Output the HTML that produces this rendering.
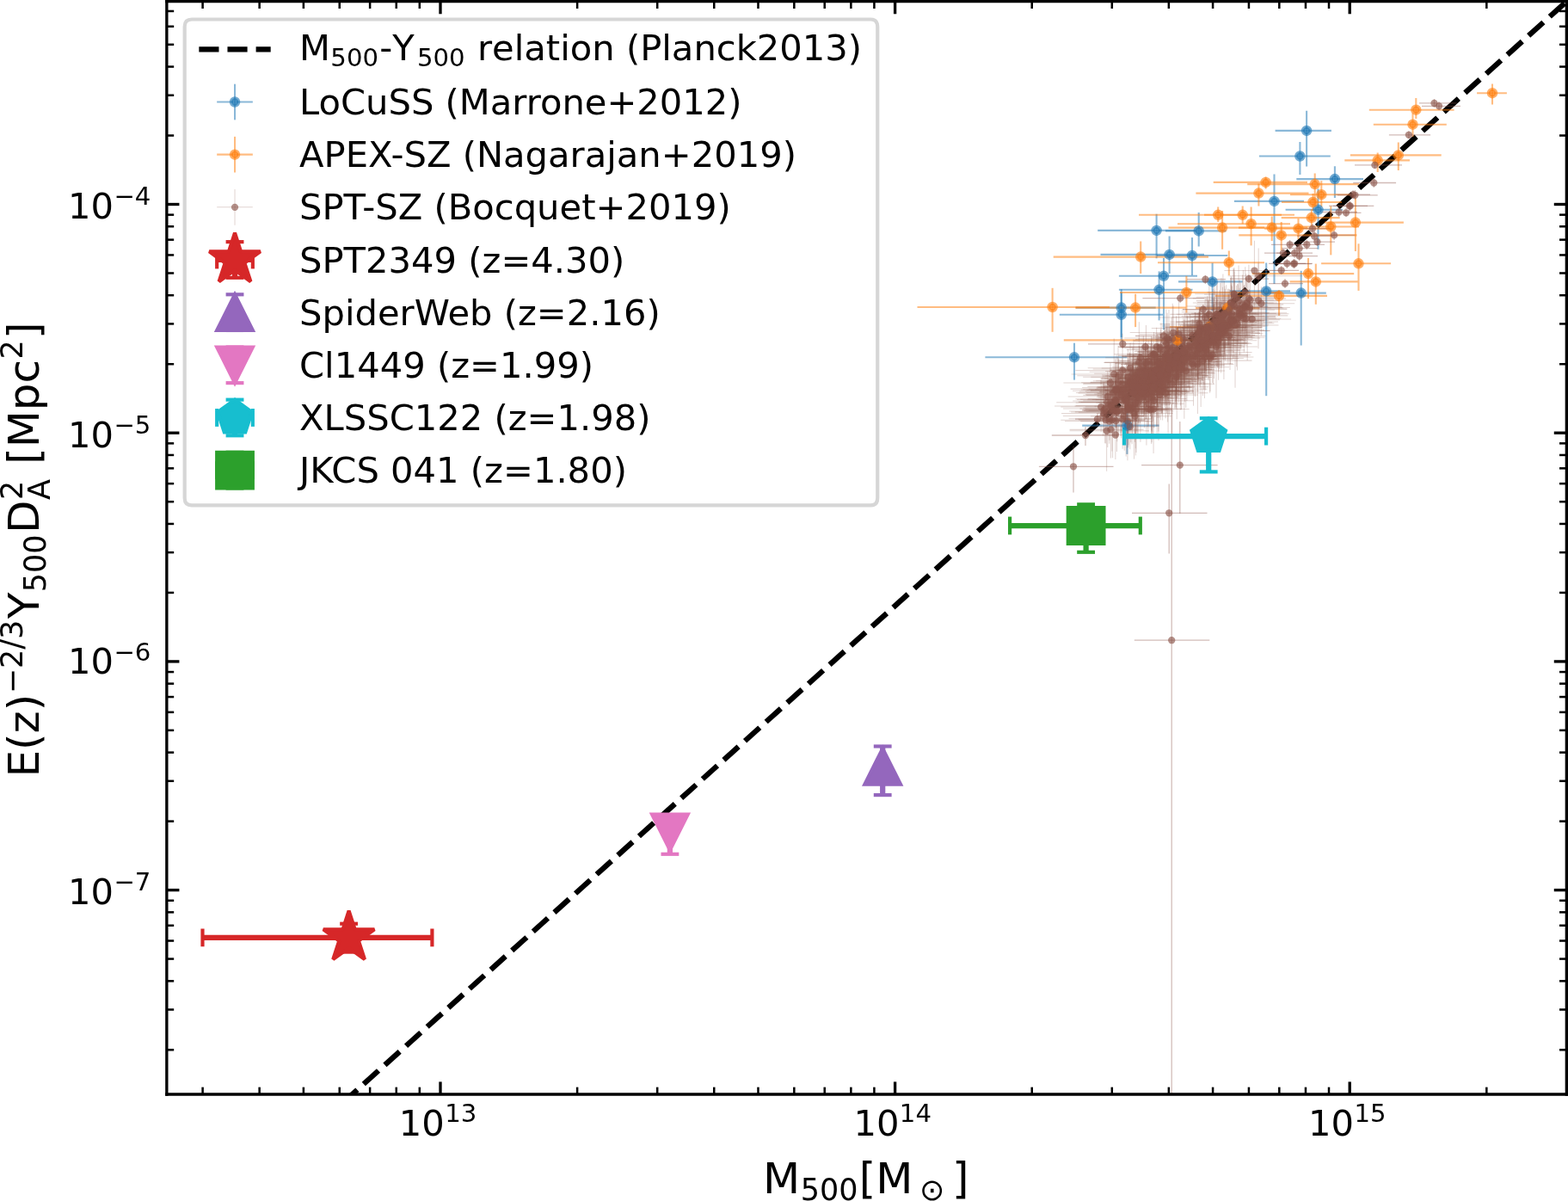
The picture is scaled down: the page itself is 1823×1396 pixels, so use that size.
<!DOCTYPE html>
<html><head><meta charset="utf-8"><title>M500-Y500</title>
<style>html,body{margin:0;padding:0;background:#fff;width:1823px;height:1396px;overflow:hidden}
svg{display:block}
</style></head><body>
<svg width="1823" height="1396" viewBox="0 0 437.52 335.04" version="1.1">
 <defs>
  <style type="text/css">*{stroke-linejoin: round; stroke-linecap: butt}</style>
 </defs>
 <g id="figure_1">
  <g id="patch_1">
   <path d="M 0 335.04 
L 437.52 335.04 
L 437.52 0 
L 0 0 
z
" style="fill: #ffffff"/>
  </g>
  <g id="axes_1">
   <g id="patch_2">
    <path d="M 46.524 305.28 
L 437.124 305.28 
L 437.124 0.4008 
L 46.524 0.4008 
z
" style="fill: #ffffff"/>
   </g>
   <g id="matplotlib.axis_1">
    <g id="xtick_1">
     <g id="line2d_1">
      <defs>
       <path id="m6d03a0b90a" d="M 0 0 
L 0 -3.5 
" style="stroke: #000000; stroke-width: 0.8"/>
      </defs>
      <g>
       <use href="#m6d03a0b90a" x="122.88" y="305.28" style="stroke: #000000; stroke-width: 0.8"/>
      </g>
     </g>
     <g id="line2d_2">
      <defs>
       <path id="m7c25c535dc" d="M 0 0 
L 0 3.5 
" style="stroke: #000000; stroke-width: 0.8"/>
      </defs>
      <g>
       <use href="#m7c25c535dc" x="122.88" y="0.4008" style="stroke: #000000; stroke-width: 0.8"/>
      </g>
     </g>
     <g id="text_1">
      <g transform="translate(111.3260 317.7944)">
       <text>
        <tspan x="0" y="-0.976562" style="font-size: 10px; font-family: 'DejaVu Sans', sans-serif">1</tspan>
        <tspan x="6.362305" y="-0.976562" style="font-size: 10px; font-family: 'DejaVu Sans', sans-serif">0</tspan>
        <tspan x="12.820312" y="-4.804688" style="font-size: 7px; font-family: 'DejaVu Sans', sans-serif">1</tspan>
        <tspan x="17.273926" y="-4.804688" style="font-size: 7px; font-family: 'DejaVu Sans', sans-serif">3</tspan>
       </text>
      </g>
     </g>
    </g>
    <g id="xtick_2">
     <g id="line2d_3">
      <g>
       <use href="#m6d03a0b90a" x="249.744" y="305.28" style="stroke: #000000; stroke-width: 0.8"/>
      </g>
     </g>
     <g id="line2d_4">
      <g>
       <use href="#m7c25c535dc" x="249.744" y="0.4008" style="stroke: #000000; stroke-width: 0.8"/>
      </g>
     </g>
     <g id="text_2">
      <g transform="translate(238.1900 316.8344)">
       <text>
        <tspan x="0" y="-0.064063" style="font-size: 10px; font-family: 'DejaVu Sans', sans-serif">1</tspan>
        <tspan x="6.362305" y="-0.064063" style="font-size: 10px; font-family: 'DejaVu Sans', sans-serif">0</tspan>
        <tspan x="12.820312" y="-3.892188" style="font-size: 7px; font-family: 'DejaVu Sans', sans-serif">1</tspan>
        <tspan x="17.273926" y="-3.892188" style="font-size: 7px; font-family: 'DejaVu Sans', sans-serif">4</tspan>
       </text>
      </g>
     </g>
    </g>
    <g id="xtick_3">
     <g id="line2d_5">
      <g>
       <use href="#m6d03a0b90a" x="376.608" y="305.28" style="stroke: #000000; stroke-width: 0.8"/>
      </g>
     </g>
     <g id="line2d_6">
      <g>
       <use href="#m7c25c535dc" x="376.608" y="0.4008" style="stroke: #000000; stroke-width: 0.8"/>
      </g>
     </g>
     <g id="text_3">
      <g transform="translate(365.0540 316.8344)">
       <text>
        <tspan x="0" y="-0.064063" style="font-size: 10px; font-family: 'DejaVu Sans', sans-serif">1</tspan>
        <tspan x="6.362305" y="-0.064063" style="font-size: 10px; font-family: 'DejaVu Sans', sans-serif">0</tspan>
        <tspan x="12.820312" y="-3.892188" style="font-size: 7px; font-family: 'DejaVu Sans', sans-serif">1</tspan>
        <tspan x="17.273926" y="-3.892188" style="font-size: 7px; font-family: 'DejaVu Sans', sans-serif">5</tspan>
       </text>
      </g>
     </g>
    </g>
    <g id="xtick_4">
     <g id="line2d_7">
      <defs>
       <path id="m7c07b89b2e" d="M 0 0 
L 0 -2 
" style="stroke: #000000; stroke-width: 0.6"/>
      </defs>
      <g>
       <use href="#m7c07b89b2e" x="56.545511" y="305.28" style="stroke: #000000; stroke-width: 0.6"/>
      </g>
     </g>
     <g id="line2d_8">
      <defs>
       <path id="m0d65b069a9" d="M 0 0 
L 0 2 
" style="stroke: #000000; stroke-width: 0.6"/>
      </defs>
      <g>
       <use href="#m0d65b069a9" x="56.545511" y="0.4008" style="stroke: #000000; stroke-width: 0.6"/>
      </g>
     </g>
    </g>
    <g id="xtick_5">
     <g id="line2d_9">
      <g>
       <use href="#m7c07b89b2e" x="72.395739" y="305.28" style="stroke: #000000; stroke-width: 0.6"/>
      </g>
     </g>
     <g id="line2d_10">
      <g>
       <use href="#m0d65b069a9" x="72.395739" y="0.4008" style="stroke: #000000; stroke-width: 0.6"/>
      </g>
     </g>
    </g>
    <g id="xtick_6">
     <g id="line2d_11">
      <g>
       <use href="#m7c07b89b2e" x="84.690131" y="305.28" style="stroke: #000000; stroke-width: 0.6"/>
      </g>
     </g>
     <g id="line2d_12">
      <g>
       <use href="#m0d65b069a9" x="84.690131" y="0.4008" style="stroke: #000000; stroke-width: 0.6"/>
      </g>
     </g>
    </g>
    <g id="xtick_7">
     <g id="line2d_13">
      <g>
       <use href="#m7c07b89b2e" x="94.73538" y="305.28" style="stroke: #000000; stroke-width: 0.6"/>
      </g>
     </g>
     <g id="line2d_14">
      <g>
       <use href="#m0d65b069a9" x="94.73538" y="0.4008" style="stroke: #000000; stroke-width: 0.6"/>
      </g>
     </g>
    </g>
    <g id="xtick_8">
     <g id="line2d_15">
      <g>
       <use href="#m7c07b89b2e" x="103.228518" y="305.28" style="stroke: #000000; stroke-width: 0.6"/>
      </g>
     </g>
     <g id="line2d_16">
      <g>
       <use href="#m0d65b069a9" x="103.228518" y="0.4008" style="stroke: #000000; stroke-width: 0.6"/>
      </g>
     </g>
    </g>
    <g id="xtick_9">
     <g id="line2d_17">
      <g>
       <use href="#m7c07b89b2e" x="110.585608" y="305.28" style="stroke: #000000; stroke-width: 0.6"/>
      </g>
     </g>
     <g id="line2d_18">
      <g>
       <use href="#m0d65b069a9" x="110.585608" y="0.4008" style="stroke: #000000; stroke-width: 0.6"/>
      </g>
     </g>
    </g>
    <g id="xtick_10">
     <g id="line2d_19">
      <g>
       <use href="#m7c07b89b2e" x="117.075022" y="305.28" style="stroke: #000000; stroke-width: 0.6"/>
      </g>
     </g>
     <g id="line2d_20">
      <g>
       <use href="#m0d65b069a9" x="117.075022" y="0.4008" style="stroke: #000000; stroke-width: 0.6"/>
      </g>
     </g>
    </g>
    <g id="xtick_11">
     <g id="line2d_21">
      <g>
       <use href="#m7c07b89b2e" x="161.069869" y="305.28" style="stroke: #000000; stroke-width: 0.6"/>
      </g>
     </g>
     <g id="line2d_22">
      <g>
       <use href="#m0d65b069a9" x="161.069869" y="0.4008" style="stroke: #000000; stroke-width: 0.6"/>
      </g>
     </g>
    </g>
    <g id="xtick_12">
     <g id="line2d_23">
      <g>
       <use href="#m7c07b89b2e" x="183.409511" y="305.28" style="stroke: #000000; stroke-width: 0.6"/>
      </g>
     </g>
     <g id="line2d_24">
      <g>
       <use href="#m0d65b069a9" x="183.409511" y="0.4008" style="stroke: #000000; stroke-width: 0.6"/>
      </g>
     </g>
    </g>
    <g id="xtick_13">
     <g id="line2d_25">
      <g>
       <use href="#m7c07b89b2e" x="199.259739" y="305.28" style="stroke: #000000; stroke-width: 0.6"/>
      </g>
     </g>
     <g id="line2d_26">
      <g>
       <use href="#m0d65b069a9" x="199.259739" y="0.4008" style="stroke: #000000; stroke-width: 0.6"/>
      </g>
     </g>
    </g>
    <g id="xtick_14">
     <g id="line2d_27">
      <g>
       <use href="#m7c07b89b2e" x="211.554131" y="305.28" style="stroke: #000000; stroke-width: 0.6"/>
      </g>
     </g>
     <g id="line2d_28">
      <g>
       <use href="#m0d65b069a9" x="211.554131" y="0.4008" style="stroke: #000000; stroke-width: 0.6"/>
      </g>
     </g>
    </g>
    <g id="xtick_15">
     <g id="line2d_29">
      <g>
       <use href="#m7c07b89b2e" x="221.59938" y="305.28" style="stroke: #000000; stroke-width: 0.6"/>
      </g>
     </g>
     <g id="line2d_30">
      <g>
       <use href="#m0d65b069a9" x="221.59938" y="0.4008" style="stroke: #000000; stroke-width: 0.6"/>
      </g>
     </g>
    </g>
    <g id="xtick_16">
     <g id="line2d_31">
      <g>
       <use href="#m7c07b89b2e" x="230.092518" y="305.28" style="stroke: #000000; stroke-width: 0.6"/>
      </g>
     </g>
     <g id="line2d_32">
      <g>
       <use href="#m0d65b069a9" x="230.092518" y="0.4008" style="stroke: #000000; stroke-width: 0.6"/>
      </g>
     </g>
    </g>
    <g id="xtick_17">
     <g id="line2d_33">
      <g>
       <use href="#m7c07b89b2e" x="237.449608" y="305.28" style="stroke: #000000; stroke-width: 0.6"/>
      </g>
     </g>
     <g id="line2d_34">
      <g>
       <use href="#m0d65b069a9" x="237.449608" y="0.4008" style="stroke: #000000; stroke-width: 0.6"/>
      </g>
     </g>
    </g>
    <g id="xtick_18">
     <g id="line2d_35">
      <g>
       <use href="#m7c07b89b2e" x="243.939022" y="305.28" style="stroke: #000000; stroke-width: 0.6"/>
      </g>
     </g>
     <g id="line2d_36">
      <g>
       <use href="#m0d65b069a9" x="243.939022" y="0.4008" style="stroke: #000000; stroke-width: 0.6"/>
      </g>
     </g>
    </g>
    <g id="xtick_19">
     <g id="line2d_37">
      <g>
       <use href="#m7c07b89b2e" x="287.933869" y="305.28" style="stroke: #000000; stroke-width: 0.6"/>
      </g>
     </g>
     <g id="line2d_38">
      <g>
       <use href="#m0d65b069a9" x="287.933869" y="0.4008" style="stroke: #000000; stroke-width: 0.6"/>
      </g>
     </g>
    </g>
    <g id="xtick_20">
     <g id="line2d_39">
      <g>
       <use href="#m7c07b89b2e" x="310.273511" y="305.28" style="stroke: #000000; stroke-width: 0.6"/>
      </g>
     </g>
     <g id="line2d_40">
      <g>
       <use href="#m0d65b069a9" x="310.273511" y="0.4008" style="stroke: #000000; stroke-width: 0.6"/>
      </g>
     </g>
    </g>
    <g id="xtick_21">
     <g id="line2d_41">
      <g>
       <use href="#m7c07b89b2e" x="326.123739" y="305.28" style="stroke: #000000; stroke-width: 0.6"/>
      </g>
     </g>
     <g id="line2d_42">
      <g>
       <use href="#m0d65b069a9" x="326.123739" y="0.4008" style="stroke: #000000; stroke-width: 0.6"/>
      </g>
     </g>
    </g>
    <g id="xtick_22">
     <g id="line2d_43">
      <g>
       <use href="#m7c07b89b2e" x="338.418131" y="305.28" style="stroke: #000000; stroke-width: 0.6"/>
      </g>
     </g>
     <g id="line2d_44">
      <g>
       <use href="#m0d65b069a9" x="338.418131" y="0.4008" style="stroke: #000000; stroke-width: 0.6"/>
      </g>
     </g>
    </g>
    <g id="xtick_23">
     <g id="line2d_45">
      <g>
       <use href="#m7c07b89b2e" x="348.46338" y="305.28" style="stroke: #000000; stroke-width: 0.6"/>
      </g>
     </g>
     <g id="line2d_46">
      <g>
       <use href="#m0d65b069a9" x="348.46338" y="0.4008" style="stroke: #000000; stroke-width: 0.6"/>
      </g>
     </g>
    </g>
    <g id="xtick_24">
     <g id="line2d_47">
      <g>
       <use href="#m7c07b89b2e" x="356.956518" y="305.28" style="stroke: #000000; stroke-width: 0.6"/>
      </g>
     </g>
     <g id="line2d_48">
      <g>
       <use href="#m0d65b069a9" x="356.956518" y="0.4008" style="stroke: #000000; stroke-width: 0.6"/>
      </g>
     </g>
    </g>
    <g id="xtick_25">
     <g id="line2d_49">
      <g>
       <use href="#m7c07b89b2e" x="364.313608" y="305.28" style="stroke: #000000; stroke-width: 0.6"/>
      </g>
     </g>
     <g id="line2d_50">
      <g>
       <use href="#m0d65b069a9" x="364.313608" y="0.4008" style="stroke: #000000; stroke-width: 0.6"/>
      </g>
     </g>
    </g>
    <g id="xtick_26">
     <g id="line2d_51">
      <g>
       <use href="#m7c07b89b2e" x="370.803022" y="305.28" style="stroke: #000000; stroke-width: 0.6"/>
      </g>
     </g>
     <g id="line2d_52">
      <g>
       <use href="#m0d65b069a9" x="370.803022" y="0.4008" style="stroke: #000000; stroke-width: 0.6"/>
      </g>
     </g>
    </g>
    <g id="xtick_27">
     <g id="line2d_53">
      <g>
       <use href="#m7c07b89b2e" x="414.797869" y="305.28" style="stroke: #000000; stroke-width: 0.6"/>
      </g>
     </g>
     <g id="line2d_54">
      <g>
       <use href="#m0d65b069a9" x="414.797869" y="0.4008" style="stroke: #000000; stroke-width: 0.6"/>
      </g>
     </g>
    </g>
    <g id="text_4">
     <g transform="translate(212.8920 333.7842)">
      <text>
       <tspan x="0" y="-0.875" style="font-size: 12px; font-family: 'DejaVu Sans', sans-serif">M</tspan>
       <tspan x="26.829492" y="-0.875" style="font-size: 12px; font-family: 'DejaVu Sans', sans-serif">[</tspan>
       <tspan x="31.511133" y="-0.875" style="font-size: 12px; font-family: 'DejaVu Sans', sans-serif">M</tspan>
       <tspan x="52.782598" y="-0.875" style="font-size: 12px; font-family: 'DejaVu Sans', sans-serif">]</tspan>
       <tspan x="10.468359" y="1.09375" style="font-size: 8.4px; font-family: 'DejaVu Sans', sans-serif">5</tspan>
       <tspan x="15.812695" y="1.09375" style="font-size: 8.4px; font-family: 'DejaVu Sans', sans-serif">0</tspan>
       <tspan x="21.157031" y="1.09375" style="font-size: 8.4px; font-family: 'DejaVu Sans', sans-serif">0</tspan>
       <tspan x="43.697842" y="1.09375" style="font-size: 8.4px; font-family: 'DejaVu Sans', sans-serif">⊙</tspan>
      </text>
     </g>
    </g>
   </g>
   <g id="matplotlib.axis_2">
    <g id="ytick_1">
     <g id="line2d_55">
      <defs>
       <path id="mfcdca85a19" d="M 0 0 
L 3.5 0 
" style="stroke: #000000; stroke-width: 0.8"/>
      </defs>
      <g>
       <use href="#mfcdca85a19" x="46.524" y="248.304" style="stroke: #000000; stroke-width: 0.8"/>
      </g>
     </g>
     <g id="line2d_56">
      <defs>
       <path id="mb258c49b38" d="M 0 0 
L -3.5 0 
" style="stroke: #000000; stroke-width: 0.8"/>
      </defs>
      <g>
       <use href="#mb258c49b38" x="437.124" y="248.304" style="stroke: #000000; stroke-width: 0.8"/>
      </g>
     </g>
     <g id="text_5">
      <g transform="translate(18.9600 252.3552)">
       <text>
        <tspan x="0" y="-0.064063" style="font-size: 10px; font-family: 'DejaVu Sans', sans-serif">1</tspan>
        <tspan x="6.362305" y="-0.064063" style="font-size: 10px; font-family: 'DejaVu Sans', sans-serif">0</tspan>
        <tspan x="12.820312" y="-3.892188" style="font-size: 7px; font-family: 'DejaVu Sans', sans-serif">−</tspan>
        <tspan x="18.685547" y="-3.892188" style="font-size: 7px; font-family: 'DejaVu Sans', sans-serif">7</tspan>
       </text>
      </g>
     </g>
    </g>
    <g id="ytick_2">
     <g id="line2d_57">
      <g>
       <use href="#mfcdca85a19" x="46.524" y="184.536" style="stroke: #000000; stroke-width: 0.8"/>
      </g>
     </g>
     <g id="line2d_58">
      <g>
       <use href="#mb258c49b38" x="437.124" y="184.536" style="stroke: #000000; stroke-width: 0.8"/>
      </g>
     </g>
     <g id="text_6">
      <g transform="translate(18.9600 189.0072)">
       <text>
        <tspan x="0" y="-0.976562" style="font-size: 10px; font-family: 'DejaVu Sans', sans-serif">1</tspan>
        <tspan x="6.362305" y="-0.976562" style="font-size: 10px; font-family: 'DejaVu Sans', sans-serif">0</tspan>
        <tspan x="12.820312" y="-4.804688" style="font-size: 7px; font-family: 'DejaVu Sans', sans-serif">−</tspan>
        <tspan x="18.685547" y="-4.804688" style="font-size: 7px; font-family: 'DejaVu Sans', sans-serif">6</tspan>
       </text>
      </g>
     </g>
    </g>
    <g id="ytick_3">
     <g id="line2d_59">
      <g>
       <use href="#mfcdca85a19" x="46.524" y="120.768" style="stroke: #000000; stroke-width: 0.8"/>
      </g>
     </g>
     <g id="line2d_60">
      <g>
       <use href="#mb258c49b38" x="437.124" y="120.768" style="stroke: #000000; stroke-width: 0.8"/>
      </g>
     </g>
     <g id="text_7">
      <g transform="translate(18.9600 124.7472)">
       <text>
        <tspan x="0" y="-0.064063" style="font-size: 10px; font-family: 'DejaVu Sans', sans-serif">1</tspan>
        <tspan x="6.362305" y="-0.064063" style="font-size: 10px; font-family: 'DejaVu Sans', sans-serif">0</tspan>
        <tspan x="12.820312" y="-3.892188" style="font-size: 7px; font-family: 'DejaVu Sans', sans-serif">−</tspan>
        <tspan x="18.685547" y="-3.892188" style="font-size: 7px; font-family: 'DejaVu Sans', sans-serif">5</tspan>
       </text>
      </g>
     </g>
    </g>
    <g id="ytick_4">
     <g id="line2d_61">
      <g>
       <use href="#mfcdca85a19" x="46.524" y="57" style="stroke: #000000; stroke-width: 0.8"/>
      </g>
     </g>
     <g id="line2d_62">
      <g>
       <use href="#mb258c49b38" x="437.124" y="57" style="stroke: #000000; stroke-width: 0.8"/>
      </g>
     </g>
     <g id="text_8">
      <g transform="translate(18.9600 61.0152)">
       <text>
        <tspan x="0" y="-0.064063" style="font-size: 10px; font-family: 'DejaVu Sans', sans-serif">1</tspan>
        <tspan x="6.362305" y="-0.064063" style="font-size: 10px; font-family: 'DejaVu Sans', sans-serif">0</tspan>
        <tspan x="12.820312" y="-3.892188" style="font-size: 7px; font-family: 'DejaVu Sans', sans-serif">−</tspan>
        <tspan x="18.685547" y="-3.892188" style="font-size: 7px; font-family: 'DejaVu Sans', sans-serif">4</tspan>
       </text>
      </g>
     </g>
    </g>
    <g id="ytick_5">
     <g id="line2d_63">
      <defs>
       <path id="m660589c0a1" d="M 0 0 
L 2 0 
" style="stroke: #000000; stroke-width: 0.6"/>
      </defs>
      <g>
       <use href="#m660589c0a1" x="46.524" y="292.875919" style="stroke: #000000; stroke-width: 0.6"/>
      </g>
     </g>
     <g id="line2d_64">
      <defs>
       <path id="m353c5a86b0" d="M 0 0 
L -2 0 
" style="stroke: #000000; stroke-width: 0.6"/>
      </defs>
      <g>
       <use href="#m353c5a86b0" x="437.124" y="292.875919" style="stroke: #000000; stroke-width: 0.6"/>
      </g>
     </g>
    </g>
    <g id="ytick_6">
     <g id="line2d_65">
      <g>
       <use href="#m660589c0a1" x="46.524" y="281.646932" style="stroke: #000000; stroke-width: 0.6"/>
      </g>
     </g>
     <g id="line2d_66">
      <g>
       <use href="#m353c5a86b0" x="437.124" y="281.646932" style="stroke: #000000; stroke-width: 0.6"/>
      </g>
     </g>
    </g>
    <g id="ytick_7">
     <g id="line2d_67">
      <g>
       <use href="#m660589c0a1" x="46.524" y="273.679838" style="stroke: #000000; stroke-width: 0.6"/>
      </g>
     </g>
     <g id="line2d_68">
      <g>
       <use href="#m353c5a86b0" x="437.124" y="273.679838" style="stroke: #000000; stroke-width: 0.6"/>
      </g>
     </g>
    </g>
    <g id="ytick_8">
     <g id="line2d_69">
      <g>
       <use href="#m660589c0a1" x="46.524" y="267.500081" style="stroke: #000000; stroke-width: 0.6"/>
      </g>
     </g>
     <g id="line2d_70">
      <g>
       <use href="#m353c5a86b0" x="437.124" y="267.500081" style="stroke: #000000; stroke-width: 0.6"/>
      </g>
     </g>
    </g>
    <g id="ytick_9">
     <g id="line2d_71">
      <g>
       <use href="#m660589c0a1" x="46.524" y="262.450851" style="stroke: #000000; stroke-width: 0.6"/>
      </g>
     </g>
     <g id="line2d_72">
      <g>
       <use href="#m353c5a86b0" x="437.124" y="262.450851" style="stroke: #000000; stroke-width: 0.6"/>
      </g>
     </g>
    </g>
    <g id="ytick_10">
     <g id="line2d_73">
      <g>
       <use href="#m660589c0a1" x="46.524" y="258.181788" style="stroke: #000000; stroke-width: 0.6"/>
      </g>
     </g>
     <g id="line2d_74">
      <g>
       <use href="#m353c5a86b0" x="437.124" y="258.181788" style="stroke: #000000; stroke-width: 0.6"/>
      </g>
     </g>
    </g>
    <g id="ytick_11">
     <g id="line2d_75">
      <g>
       <use href="#m660589c0a1" x="46.524" y="254.483758" style="stroke: #000000; stroke-width: 0.6"/>
      </g>
     </g>
     <g id="line2d_76">
      <g>
       <use href="#m353c5a86b0" x="437.124" y="254.483758" style="stroke: #000000; stroke-width: 0.6"/>
      </g>
     </g>
    </g>
    <g id="ytick_12">
     <g id="line2d_77">
      <g>
       <use href="#m660589c0a1" x="46.524" y="251.221864" style="stroke: #000000; stroke-width: 0.6"/>
      </g>
     </g>
     <g id="line2d_78">
      <g>
       <use href="#m353c5a86b0" x="437.124" y="251.221864" style="stroke: #000000; stroke-width: 0.6"/>
      </g>
     </g>
    </g>
    <g id="ytick_13">
     <g id="line2d_79">
      <g>
       <use href="#m660589c0a1" x="46.524" y="229.107919" style="stroke: #000000; stroke-width: 0.6"/>
      </g>
     </g>
     <g id="line2d_80">
      <g>
       <use href="#m353c5a86b0" x="437.124" y="229.107919" style="stroke: #000000; stroke-width: 0.6"/>
      </g>
     </g>
    </g>
    <g id="ytick_14">
     <g id="line2d_81">
      <g>
       <use href="#m660589c0a1" x="46.524" y="217.878932" style="stroke: #000000; stroke-width: 0.6"/>
      </g>
     </g>
     <g id="line2d_82">
      <g>
       <use href="#m353c5a86b0" x="437.124" y="217.878932" style="stroke: #000000; stroke-width: 0.6"/>
      </g>
     </g>
    </g>
    <g id="ytick_15">
     <g id="line2d_83">
      <g>
       <use href="#m660589c0a1" x="46.524" y="209.911838" style="stroke: #000000; stroke-width: 0.6"/>
      </g>
     </g>
     <g id="line2d_84">
      <g>
       <use href="#m353c5a86b0" x="437.124" y="209.911838" style="stroke: #000000; stroke-width: 0.6"/>
      </g>
     </g>
    </g>
    <g id="ytick_16">
     <g id="line2d_85">
      <g>
       <use href="#m660589c0a1" x="46.524" y="203.732081" style="stroke: #000000; stroke-width: 0.6"/>
      </g>
     </g>
     <g id="line2d_86">
      <g>
       <use href="#m353c5a86b0" x="437.124" y="203.732081" style="stroke: #000000; stroke-width: 0.6"/>
      </g>
     </g>
    </g>
    <g id="ytick_17">
     <g id="line2d_87">
      <g>
       <use href="#m660589c0a1" x="46.524" y="198.682851" style="stroke: #000000; stroke-width: 0.6"/>
      </g>
     </g>
     <g id="line2d_88">
      <g>
       <use href="#m353c5a86b0" x="437.124" y="198.682851" style="stroke: #000000; stroke-width: 0.6"/>
      </g>
     </g>
    </g>
    <g id="ytick_18">
     <g id="line2d_89">
      <g>
       <use href="#m660589c0a1" x="46.524" y="194.413788" style="stroke: #000000; stroke-width: 0.6"/>
      </g>
     </g>
     <g id="line2d_90">
      <g>
       <use href="#m353c5a86b0" x="437.124" y="194.413788" style="stroke: #000000; stroke-width: 0.6"/>
      </g>
     </g>
    </g>
    <g id="ytick_19">
     <g id="line2d_91">
      <g>
       <use href="#m660589c0a1" x="46.524" y="190.715758" style="stroke: #000000; stroke-width: 0.6"/>
      </g>
     </g>
     <g id="line2d_92">
      <g>
       <use href="#m353c5a86b0" x="437.124" y="190.715758" style="stroke: #000000; stroke-width: 0.6"/>
      </g>
     </g>
    </g>
    <g id="ytick_20">
     <g id="line2d_93">
      <g>
       <use href="#m660589c0a1" x="46.524" y="187.453864" style="stroke: #000000; stroke-width: 0.6"/>
      </g>
     </g>
     <g id="line2d_94">
      <g>
       <use href="#m353c5a86b0" x="437.124" y="187.453864" style="stroke: #000000; stroke-width: 0.6"/>
      </g>
     </g>
    </g>
    <g id="ytick_21">
     <g id="line2d_95">
      <g>
       <use href="#m660589c0a1" x="46.524" y="165.339919" style="stroke: #000000; stroke-width: 0.6"/>
      </g>
     </g>
     <g id="line2d_96">
      <g>
       <use href="#m353c5a86b0" x="437.124" y="165.339919" style="stroke: #000000; stroke-width: 0.6"/>
      </g>
     </g>
    </g>
    <g id="ytick_22">
     <g id="line2d_97">
      <g>
       <use href="#m660589c0a1" x="46.524" y="154.110932" style="stroke: #000000; stroke-width: 0.6"/>
      </g>
     </g>
     <g id="line2d_98">
      <g>
       <use href="#m353c5a86b0" x="437.124" y="154.110932" style="stroke: #000000; stroke-width: 0.6"/>
      </g>
     </g>
    </g>
    <g id="ytick_23">
     <g id="line2d_99">
      <g>
       <use href="#m660589c0a1" x="46.524" y="146.143838" style="stroke: #000000; stroke-width: 0.6"/>
      </g>
     </g>
     <g id="line2d_100">
      <g>
       <use href="#m353c5a86b0" x="437.124" y="146.143838" style="stroke: #000000; stroke-width: 0.6"/>
      </g>
     </g>
    </g>
    <g id="ytick_24">
     <g id="line2d_101">
      <g>
       <use href="#m660589c0a1" x="46.524" y="139.964081" style="stroke: #000000; stroke-width: 0.6"/>
      </g>
     </g>
     <g id="line2d_102">
      <g>
       <use href="#m353c5a86b0" x="437.124" y="139.964081" style="stroke: #000000; stroke-width: 0.6"/>
      </g>
     </g>
    </g>
    <g id="ytick_25">
     <g id="line2d_103">
      <g>
       <use href="#m660589c0a1" x="46.524" y="134.914851" style="stroke: #000000; stroke-width: 0.6"/>
      </g>
     </g>
     <g id="line2d_104">
      <g>
       <use href="#m353c5a86b0" x="437.124" y="134.914851" style="stroke: #000000; stroke-width: 0.6"/>
      </g>
     </g>
    </g>
    <g id="ytick_26">
     <g id="line2d_105">
      <g>
       <use href="#m660589c0a1" x="46.524" y="130.645788" style="stroke: #000000; stroke-width: 0.6"/>
      </g>
     </g>
     <g id="line2d_106">
      <g>
       <use href="#m353c5a86b0" x="437.124" y="130.645788" style="stroke: #000000; stroke-width: 0.6"/>
      </g>
     </g>
    </g>
    <g id="ytick_27">
     <g id="line2d_107">
      <g>
       <use href="#m660589c0a1" x="46.524" y="126.947758" style="stroke: #000000; stroke-width: 0.6"/>
      </g>
     </g>
     <g id="line2d_108">
      <g>
       <use href="#m353c5a86b0" x="437.124" y="126.947758" style="stroke: #000000; stroke-width: 0.6"/>
      </g>
     </g>
    </g>
    <g id="ytick_28">
     <g id="line2d_109">
      <g>
       <use href="#m660589c0a1" x="46.524" y="123.685864" style="stroke: #000000; stroke-width: 0.6"/>
      </g>
     </g>
     <g id="line2d_110">
      <g>
       <use href="#m353c5a86b0" x="437.124" y="123.685864" style="stroke: #000000; stroke-width: 0.6"/>
      </g>
     </g>
    </g>
    <g id="ytick_29">
     <g id="line2d_111">
      <g>
       <use href="#m660589c0a1" x="46.524" y="101.571919" style="stroke: #000000; stroke-width: 0.6"/>
      </g>
     </g>
     <g id="line2d_112">
      <g>
       <use href="#m353c5a86b0" x="437.124" y="101.571919" style="stroke: #000000; stroke-width: 0.6"/>
      </g>
     </g>
    </g>
    <g id="ytick_30">
     <g id="line2d_113">
      <g>
       <use href="#m660589c0a1" x="46.524" y="90.342932" style="stroke: #000000; stroke-width: 0.6"/>
      </g>
     </g>
     <g id="line2d_114">
      <g>
       <use href="#m353c5a86b0" x="437.124" y="90.342932" style="stroke: #000000; stroke-width: 0.6"/>
      </g>
     </g>
    </g>
    <g id="ytick_31">
     <g id="line2d_115">
      <g>
       <use href="#m660589c0a1" x="46.524" y="82.375838" style="stroke: #000000; stroke-width: 0.6"/>
      </g>
     </g>
     <g id="line2d_116">
      <g>
       <use href="#m353c5a86b0" x="437.124" y="82.375838" style="stroke: #000000; stroke-width: 0.6"/>
      </g>
     </g>
    </g>
    <g id="ytick_32">
     <g id="line2d_117">
      <g>
       <use href="#m660589c0a1" x="46.524" y="76.196081" style="stroke: #000000; stroke-width: 0.6"/>
      </g>
     </g>
     <g id="line2d_118">
      <g>
       <use href="#m353c5a86b0" x="437.124" y="76.196081" style="stroke: #000000; stroke-width: 0.6"/>
      </g>
     </g>
    </g>
    <g id="ytick_33">
     <g id="line2d_119">
      <g>
       <use href="#m660589c0a1" x="46.524" y="71.146851" style="stroke: #000000; stroke-width: 0.6"/>
      </g>
     </g>
     <g id="line2d_120">
      <g>
       <use href="#m353c5a86b0" x="437.124" y="71.146851" style="stroke: #000000; stroke-width: 0.6"/>
      </g>
     </g>
    </g>
    <g id="ytick_34">
     <g id="line2d_121">
      <g>
       <use href="#m660589c0a1" x="46.524" y="66.877788" style="stroke: #000000; stroke-width: 0.6"/>
      </g>
     </g>
     <g id="line2d_122">
      <g>
       <use href="#m353c5a86b0" x="437.124" y="66.877788" style="stroke: #000000; stroke-width: 0.6"/>
      </g>
     </g>
    </g>
    <g id="ytick_35">
     <g id="line2d_123">
      <g>
       <use href="#m660589c0a1" x="46.524" y="63.179758" style="stroke: #000000; stroke-width: 0.6"/>
      </g>
     </g>
     <g id="line2d_124">
      <g>
       <use href="#m353c5a86b0" x="437.124" y="63.179758" style="stroke: #000000; stroke-width: 0.6"/>
      </g>
     </g>
    </g>
    <g id="ytick_36">
     <g id="line2d_125">
      <g>
       <use href="#m660589c0a1" x="46.524" y="59.917864" style="stroke: #000000; stroke-width: 0.6"/>
      </g>
     </g>
     <g id="line2d_126">
      <g>
       <use href="#m353c5a86b0" x="437.124" y="59.917864" style="stroke: #000000; stroke-width: 0.6"/>
      </g>
     </g>
    </g>
    <g id="ytick_37">
     <g id="line2d_127">
      <g>
       <use href="#m660589c0a1" x="46.524" y="37.803919" style="stroke: #000000; stroke-width: 0.6"/>
      </g>
     </g>
     <g id="line2d_128">
      <g>
       <use href="#m353c5a86b0" x="437.124" y="37.803919" style="stroke: #000000; stroke-width: 0.6"/>
      </g>
     </g>
    </g>
    <g id="ytick_38">
     <g id="line2d_129">
      <g>
       <use href="#m660589c0a1" x="46.524" y="26.574932" style="stroke: #000000; stroke-width: 0.6"/>
      </g>
     </g>
     <g id="line2d_130">
      <g>
       <use href="#m353c5a86b0" x="437.124" y="26.574932" style="stroke: #000000; stroke-width: 0.6"/>
      </g>
     </g>
    </g>
    <g id="ytick_39">
     <g id="line2d_131">
      <g>
       <use href="#m660589c0a1" x="46.524" y="18.607838" style="stroke: #000000; stroke-width: 0.6"/>
      </g>
     </g>
     <g id="line2d_132">
      <g>
       <use href="#m353c5a86b0" x="437.124" y="18.607838" style="stroke: #000000; stroke-width: 0.6"/>
      </g>
     </g>
    </g>
    <g id="ytick_40">
     <g id="line2d_133">
      <g>
       <use href="#m660589c0a1" x="46.524" y="12.428081" style="stroke: #000000; stroke-width: 0.6"/>
      </g>
     </g>
     <g id="line2d_134">
      <g>
       <use href="#m353c5a86b0" x="437.124" y="12.428081" style="stroke: #000000; stroke-width: 0.6"/>
      </g>
     </g>
    </g>
    <g id="ytick_41">
     <g id="line2d_135">
      <g>
       <use href="#m660589c0a1" x="46.524" y="7.378851" style="stroke: #000000; stroke-width: 0.6"/>
      </g>
     </g>
     <g id="line2d_136">
      <g>
       <use href="#m353c5a86b0" x="437.124" y="7.378851" style="stroke: #000000; stroke-width: 0.6"/>
      </g>
     </g>
    </g>
    <g id="ytick_42">
     <g id="line2d_137">
      <g>
       <use href="#m660589c0a1" x="46.524" y="3.109788" style="stroke: #000000; stroke-width: 0.6"/>
      </g>
     </g>
     <g id="line2d_138">
      <g>
       <use href="#m353c5a86b0" x="437.124" y="3.109788" style="stroke: #000000; stroke-width: 0.6"/>
      </g>
     </g>
    </g>
    <g id="text_9">
     <g transform="translate(10.8920 216.8604) rotate(-90)">
      <text>
       <tspan x="0" y="-0.171875" style="font-size: 12px; font-family: 'DejaVu Sans', sans-serif">E</tspan>
       <tspan x="7.582031" y="-0.171875" style="font-size: 12px; font-family: 'DejaVu Sans', sans-serif">(</tspan>
       <tspan x="12.263672" y="-0.171875" style="font-size: 12px; font-family: 'DejaVu Sans', sans-serif">z</tspan>
       <tspan x="18.5625" y="-0.171875" style="font-size: 12px; font-family: 'DejaVu Sans', sans-serif">)</tspan>
       <tspan x="44.244141" y="-0.171875" style="font-size: 12px; font-family: 'DejaVu Sans', sans-serif">Y</tspan>
       <tspan x="68.050195" y="-0.171875" style="font-size: 12px; font-family: 'DejaVu Sans', sans-serif">D</tspan>
       <tspan x="83.479687" y="-0.171875" style="font-size: 12px; font-family: 'DejaVu Sans', sans-serif"> </tspan>
       <tspan x="87.294141" y="-0.171875" style="font-size: 12px; font-family: 'DejaVu Sans', sans-serif">[</tspan>
       <tspan x="91.975781" y="-0.171875" style="font-size: 12px; font-family: 'DejaVu Sans', sans-serif">M</tspan>
       <tspan x="102.329297" y="-0.171875" style="font-size: 12px; font-family: 'DejaVu Sans', sans-serif">p</tspan>
       <tspan x="109.946484" y="-0.171875" style="font-size: 12px; font-family: 'DejaVu Sans', sans-serif">c</tspan>
       <tspan x="122.331445" y="-0.171875" style="font-size: 12px; font-family: 'DejaVu Sans', sans-serif">]</tspan>
       <tspan x="23.358984" y="-4.765625" style="font-size: 8.4px; font-family: 'DejaVu Sans', sans-serif">−</tspan>
       <tspan x="30.397266" y="-4.765625" style="font-size: 8.4px; font-family: 'DejaVu Sans', sans-serif">2</tspan>
       <tspan x="35.741602" y="-4.765625" style="font-size: 8.4px; font-family: 'DejaVu Sans', sans-serif">/</tspan>
       <tspan x="38.57168" y="-4.765625" style="font-size: 8.4px; font-family: 'DejaVu Sans', sans-serif">3</tspan>
       <tspan x="51.689062" y="1.796875" style="font-size: 8.4px; font-family: 'DejaVu Sans', sans-serif">5</tspan>
       <tspan x="57.033398" y="1.796875" style="font-size: 8.4px; font-family: 'DejaVu Sans', sans-serif">0</tspan>
       <tspan x="62.377734" y="1.796875" style="font-size: 8.4px; font-family: 'DejaVu Sans', sans-serif">0</tspan>
       <tspan x="77.405273" y="-4.765625" style="font-size: 8.4px; font-family: 'DejaVu Sans', sans-serif">2</tspan>
       <tspan x="77.405273" y="3.109375" style="font-size: 8.4px; font-family: 'DejaVu Sans', sans-serif">A</tspan>
       <tspan x="116.658984" y="-4.765625" style="font-size: 8.4px; font-family: 'DejaVu Sans', sans-serif">2</tspan>
      </text>
     </g>
    </g>
   </g>
   <g id="line2d_139">
    <path d="M 64.090029 336.04 
L 438.52 -0.849931 
L 438.52 -0.849931 
" clip-path="url(#pfbd8692891)" style="fill: none; stroke-dasharray: 5.55,2.4; stroke-dashoffset: 5.360; stroke: #000000; stroke-width: 1.5"/>
   </g>
   <g id="LineCollection_1">
    <path d="M 355.824 36.456 
L 371.496 36.456 
" clip-path="url(#pfbd8692891)" style="fill: none; stroke: #1f77b4; stroke-opacity: 0.52; stroke-width: 0.5"/>
    <path d="M 351.336 43.56 
L 371.232 43.56 
" clip-path="url(#pfbd8692891)" style="fill: none; stroke: #1f77b4; stroke-opacity: 0.52; stroke-width: 0.5"/>
    <path d="M 361.752 49.944 
L 380.4 49.944 
" clip-path="url(#pfbd8692891)" style="fill: none; stroke: #1f77b4; stroke-opacity: 0.52; stroke-width: 0.5"/>
    <path d="M 344.376 56.136 
L 363.84 56.136 
" clip-path="url(#pfbd8692891)" style="fill: none; stroke: #1f77b4; stroke-opacity: 0.52; stroke-width: 0.5"/>
    <path d="M 358.704 58.512 
L 374.64 58.512 
" clip-path="url(#pfbd8692891)" style="fill: none; stroke: #1f77b4; stroke-opacity: 0.52; stroke-width: 0.5"/>
    <path d="M 325.2 64.416 
L 342.12 64.416 
" clip-path="url(#pfbd8692891)" style="fill: none; stroke: #1f77b4; stroke-opacity: 0.52; stroke-width: 0.5"/>
    <path d="M 322.8 71.28 
L 342.528 71.28 
" clip-path="url(#pfbd8692891)" style="fill: none; stroke: #1f77b4; stroke-opacity: 0.52; stroke-width: 0.5"/>
    <path d="M 306.288 64.296 
L 333.6 64.296 
" clip-path="url(#pfbd8692891)" style="fill: none; stroke: #1f77b4; stroke-opacity: 0.52; stroke-width: 0.5"/>
    <path d="M 307.08 71.016 
L 336 71.016 
" clip-path="url(#pfbd8692891)" style="fill: none; stroke: #1f77b4; stroke-opacity: 0.52; stroke-width: 0.5"/>
    <path d="M 312.216 76.992 
L 334.08 76.992 
" clip-path="url(#pfbd8692891)" style="fill: none; stroke: #1f77b4; stroke-opacity: 0.52; stroke-width: 0.5"/>
    <path d="M 312.216 80.832 
L 332.76 80.832 
" clip-path="url(#pfbd8692891)" style="fill: none; stroke: #1f77b4; stroke-opacity: 0.52; stroke-width: 0.5"/>
    <path d="M 300.24 85.824 
L 322.488 85.824 
" clip-path="url(#pfbd8692891)" style="fill: none; stroke: #1f77b4; stroke-opacity: 0.52; stroke-width: 0.5"/>
    <path d="M 295.632 87.792 
L 324.48 87.792 
" clip-path="url(#pfbd8692891)" style="fill: none; stroke: #1f77b4; stroke-opacity: 0.52; stroke-width: 0.5"/>
    <path d="M 274.896 99.672 
L 314.496 99.672 
" clip-path="url(#pfbd8692891)" style="fill: none; stroke: #1f77b4; stroke-opacity: 0.52; stroke-width: 0.5"/>
    <path d="M 328.8 78.576 
L 346.728 78.576 
" clip-path="url(#pfbd8692891)" style="fill: none; stroke: #1f77b4; stroke-opacity: 0.52; stroke-width: 0.5"/>
    <path d="M 353.04 81.744 
L 370.032 81.744 
" clip-path="url(#pfbd8692891)" style="fill: none; stroke: #1f77b4; stroke-opacity: 0.52; stroke-width: 0.5"/>
    <path d="M 343.2 81.216 
L 360 81.216 
" clip-path="url(#pfbd8692891)" style="fill: none; stroke: #1f77b4; stroke-opacity: 0.52; stroke-width: 0.5"/>
    <path d="M 301.968 118.704 
L 323.424 118.704 
" clip-path="url(#pfbd8692891)" style="fill: none; stroke: #1f77b4; stroke-opacity: 0.52; stroke-width: 0.5"/>
   </g>
   <g id="LineCollection_2">
    <path d="M 364.584 46.44 
L 364.584 30.912 
" clip-path="url(#pfbd8692891)" style="fill: none; stroke: #1f77b4; stroke-opacity: 0.52; stroke-width: 0.5"/>
    <path d="M 362.736 48.72 
L 362.736 39.6 
" clip-path="url(#pfbd8692891)" style="fill: none; stroke: #1f77b4; stroke-opacity: 0.52; stroke-width: 0.5"/>
    <path d="M 372.456 55.2 
L 372.456 46.392 
" clip-path="url(#pfbd8692891)" style="fill: none; stroke: #1f77b4; stroke-opacity: 0.52; stroke-width: 0.5"/>
    <path d="M 355.56 79.2 
L 355.56 48.624 
" clip-path="url(#pfbd8692891)" style="fill: none; stroke: #1f77b4; stroke-opacity: 0.52; stroke-width: 0.5"/>
    <path d="M 367.8 69.552 
L 367.8 52.704 
" clip-path="url(#pfbd8692891)" style="fill: none; stroke: #1f77b4; stroke-opacity: 0.52; stroke-width: 0.5"/>
    <path d="M 334.488 68.76 
L 334.488 59.28 
" clip-path="url(#pfbd8692891)" style="fill: none; stroke: #1f77b4; stroke-opacity: 0.52; stroke-width: 0.5"/>
    <path d="M 332.64 76.8 
L 332.64 66.264 
" clip-path="url(#pfbd8692891)" style="fill: none; stroke: #1f77b4; stroke-opacity: 0.52; stroke-width: 0.5"/>
    <path d="M 322.704 72.072 
L 322.704 59.688 
" clip-path="url(#pfbd8692891)" style="fill: none; stroke: #1f77b4; stroke-opacity: 0.52; stroke-width: 0.5"/>
    <path d="M 326.304 76.32 
L 326.304 65.88 
" clip-path="url(#pfbd8692891)" style="fill: none; stroke: #1f77b4; stroke-opacity: 0.52; stroke-width: 0.5"/>
    <path d="M 324.72 92.016 
L 324.72 72 
" clip-path="url(#pfbd8692891)" style="fill: none; stroke: #1f77b4; stroke-opacity: 0.52; stroke-width: 0.5"/>
    <path d="M 323.424 89.376 
L 323.424 75.696 
" clip-path="url(#pfbd8692891)" style="fill: none; stroke: #1f77b4; stroke-opacity: 0.52; stroke-width: 0.5"/>
    <path d="M 312.888 95.16 
L 312.888 80.688 
" clip-path="url(#pfbd8692891)" style="fill: none; stroke: #1f77b4; stroke-opacity: 0.52; stroke-width: 0.5"/>
    <path d="M 312.888 94.08 
L 312.888 81.6 
" clip-path="url(#pfbd8692891)" style="fill: none; stroke: #1f77b4; stroke-opacity: 0.52; stroke-width: 0.5"/>
    <path d="M 299.76 105.984 
L 299.76 95.688 
" clip-path="url(#pfbd8692891)" style="fill: none; stroke: #1f77b4; stroke-opacity: 0.52; stroke-width: 0.5"/>
    <path d="M 338.304 86.736 
L 338.304 73.32 
" clip-path="url(#pfbd8692891)" style="fill: none; stroke: #1f77b4; stroke-opacity: 0.52; stroke-width: 0.5"/>
    <path d="M 363.048 96.36 
L 363.048 75.552 
" clip-path="url(#pfbd8692891)" style="fill: none; stroke: #1f77b4; stroke-opacity: 0.52; stroke-width: 0.5"/>
    <path d="M 353.328 110.448 
L 353.328 73.32 
" clip-path="url(#pfbd8692891)" style="fill: none; stroke: #1f77b4; stroke-opacity: 0.52; stroke-width: 0.5"/>
    <path d="M 314.496 126.696 
L 314.496 114.72 
" clip-path="url(#pfbd8692891)" style="fill: none; stroke: #1f77b4; stroke-opacity: 0.52; stroke-width: 0.5"/>
   </g>
   <g id="LineCollection_3">
    <path d="M 412.104 25.968 
L 420.456 25.968 
" clip-path="url(#pfbd8692891)" style="fill: none; stroke: #ff7f0e; stroke-opacity: 0.52; stroke-width: 0.5"/>
    <path d="M 382.032 30.648 
L 405.744 30.648 
" clip-path="url(#pfbd8692891)" style="fill: none; stroke: #ff7f0e; stroke-opacity: 0.52; stroke-width: 0.5"/>
    <path d="M 383.232 34.728 
L 403.632 34.728 
" clip-path="url(#pfbd8692891)" style="fill: none; stroke: #ff7f0e; stroke-opacity: 0.52; stroke-width: 0.5"/>
    <path d="M 376.776 43.296 
L 402.168 43.296 
" clip-path="url(#pfbd8692891)" style="fill: none; stroke: #ff7f0e; stroke-opacity: 0.52; stroke-width: 0.5"/>
    <path d="M 375.192 44.736 
L 393.36 44.736 
" clip-path="url(#pfbd8692891)" style="fill: none; stroke: #ff7f0e; stroke-opacity: 0.52; stroke-width: 0.5"/>
    <path d="M 369.6 62.064 
L 391.656 62.064 
" clip-path="url(#pfbd8692891)" style="fill: none; stroke: #ff7f0e; stroke-opacity: 0.52; stroke-width: 0.5"/>
    <path d="M 368.664 73.512 
L 388.104 73.512 
" clip-path="url(#pfbd8692891)" style="fill: none; stroke: #ff7f0e; stroke-opacity: 0.52; stroke-width: 0.5"/>
    <path d="M 338.568 50.856 
L 364.8 50.856 
" clip-path="url(#pfbd8692891)" style="fill: none; stroke: #ff7f0e; stroke-opacity: 0.52; stroke-width: 0.5"/>
    <path d="M 348.048 51.384 
L 379.2 51.384 
" clip-path="url(#pfbd8692891)" style="fill: none; stroke: #ff7f0e; stroke-opacity: 0.52; stroke-width: 0.5"/>
    <path d="M 333.696 53.904 
L 365.16 53.904 
" clip-path="url(#pfbd8692891)" style="fill: none; stroke: #ff7f0e; stroke-opacity: 0.52; stroke-width: 0.5"/>
    <path d="M 360 54.288 
L 376.8 54.288 
" clip-path="url(#pfbd8692891)" style="fill: none; stroke: #ff7f0e; stroke-opacity: 0.52; stroke-width: 0.5"/>
    <path d="M 357.6 56.4 
L 374.4 56.4 
" clip-path="url(#pfbd8692891)" style="fill: none; stroke: #ff7f0e; stroke-opacity: 0.52; stroke-width: 0.5"/>
    <path d="M 317.76 59.952 
L 361.2 59.952 
" clip-path="url(#pfbd8692891)" style="fill: none; stroke: #ff7f0e; stroke-opacity: 0.52; stroke-width: 0.5"/>
    <path d="M 336 59.952 
L 357.6 59.952 
" clip-path="url(#pfbd8692891)" style="fill: none; stroke: #ff7f0e; stroke-opacity: 0.52; stroke-width: 0.5"/>
    <path d="M 357.528 60.744 
L 373.848 60.744 
" clip-path="url(#pfbd8692891)" style="fill: none; stroke: #ff7f0e; stroke-opacity: 0.52; stroke-width: 0.5"/>
    <path d="M 326.04 63.504 
L 352.8 63.504 
" clip-path="url(#pfbd8692891)" style="fill: none; stroke: #ff7f0e; stroke-opacity: 0.52; stroke-width: 0.5"/>
    <path d="M 328.56 62.448 
L 360 62.448 
" clip-path="url(#pfbd8692891)" style="fill: none; stroke: #ff7f0e; stroke-opacity: 0.52; stroke-width: 0.5"/>
    <path d="M 345.6 63.504 
L 364.8 63.504 
" clip-path="url(#pfbd8692891)" style="fill: none; stroke: #ff7f0e; stroke-opacity: 0.52; stroke-width: 0.5"/>
    <path d="M 345.672 65.616 
L 378.6 65.616 
" clip-path="url(#pfbd8692891)" style="fill: none; stroke: #ff7f0e; stroke-opacity: 0.52; stroke-width: 0.5"/>
    <path d="M 352.8 63.768 
L 372 63.768 
" clip-path="url(#pfbd8692891)" style="fill: none; stroke: #ff7f0e; stroke-opacity: 0.52; stroke-width: 0.5"/>
    <path d="M 362.4 63.24 
L 379.2 63.24 
" clip-path="url(#pfbd8692891)" style="fill: none; stroke: #ff7f0e; stroke-opacity: 0.52; stroke-width: 0.5"/>
    <path d="M 323.04 73.248 
L 352.8 73.248 
" clip-path="url(#pfbd8692891)" style="fill: none; stroke: #ff7f0e; stroke-opacity: 0.52; stroke-width: 0.5"/>
    <path d="M 293.928 71.664 
L 337.2 71.664 
" clip-path="url(#pfbd8692891)" style="fill: none; stroke: #ff7f0e; stroke-opacity: 0.52; stroke-width: 0.5"/>
    <path d="M 300 85.824 
L 330.912 85.824 
" clip-path="url(#pfbd8692891)" style="fill: none; stroke: #ff7f0e; stroke-opacity: 0.52; stroke-width: 0.5"/>
    <path d="M 255.96 85.68 
L 309.6 85.68 
" clip-path="url(#pfbd8692891)" style="fill: none; stroke: #ff7f0e; stroke-opacity: 0.52; stroke-width: 0.5"/>
    <path d="M 312.48 81.6 
L 357.6 81.6 
" clip-path="url(#pfbd8692891)" style="fill: none; stroke: #ff7f0e; stroke-opacity: 0.52; stroke-width: 0.5"/>
    <path d="M 296.832 94.896 
L 340.8 94.896 
" clip-path="url(#pfbd8692891)" style="fill: none; stroke: #ff7f0e; stroke-opacity: 0.52; stroke-width: 0.5"/>
    <path d="M 349.368 76.344 
L 377.808 76.344 
" clip-path="url(#pfbd8692891)" style="fill: none; stroke: #ff7f0e; stroke-opacity: 0.52; stroke-width: 0.5"/>
    <path d="M 359.904 78.576 
L 378.864 78.576 
" clip-path="url(#pfbd8692891)" style="fill: none; stroke: #ff7f0e; stroke-opacity: 0.52; stroke-width: 0.5"/>
    <path d="M 339.096 82.536 
L 370.32 82.536 
" clip-path="url(#pfbd8692891)" style="fill: none; stroke: #ff7f0e; stroke-opacity: 0.52; stroke-width: 0.5"/>
    <path d="M 326.4 91.224 
L 345.6 91.224 
" clip-path="url(#pfbd8692891)" style="fill: none; stroke: #ff7f0e; stroke-opacity: 0.52; stroke-width: 0.5"/>
    <path d="M 333.6 85.944 
L 351.48 85.944 
" clip-path="url(#pfbd8692891)" style="fill: none; stroke: #ff7f0e; stroke-opacity: 0.52; stroke-width: 0.5"/>
   </g>
   <g id="LineCollection_4">
    <path d="M 416.4 29.184 
L 416.4 23.376 
" clip-path="url(#pfbd8692891)" style="fill: none; stroke: #ff7f0e; stroke-opacity: 0.52; stroke-width: 0.5"/>
    <path d="M 395.112 33.144 
L 395.112 27.36 
" clip-path="url(#pfbd8692891)" style="fill: none; stroke: #ff7f0e; stroke-opacity: 0.52; stroke-width: 0.5"/>
    <path d="M 394.2 38.16 
L 394.2 31.584 
" clip-path="url(#pfbd8692891)" style="fill: none; stroke: #ff7f0e; stroke-opacity: 0.52; stroke-width: 0.5"/>
    <path d="M 390.192 47.496 
L 390.192 39.744 
" clip-path="url(#pfbd8692891)" style="fill: none; stroke: #ff7f0e; stroke-opacity: 0.52; stroke-width: 0.5"/>
    <path d="M 384.408 48 
L 384.408 42.624 
" clip-path="url(#pfbd8692891)" style="fill: none; stroke: #ff7f0e; stroke-opacity: 0.52; stroke-width: 0.5"/>
    <path d="M 378.216 70.08 
L 378.216 55.344 
" clip-path="url(#pfbd8692891)" style="fill: none; stroke: #ff7f0e; stroke-opacity: 0.52; stroke-width: 0.5"/>
    <path d="M 379.08 81.096 
L 379.08 67.992 
" clip-path="url(#pfbd8692891)" style="fill: none; stroke: #ff7f0e; stroke-opacity: 0.52; stroke-width: 0.5"/>
    <path d="M 353.184 52.704 
L 353.184 49.296 
" clip-path="url(#pfbd8692891)" style="fill: none; stroke: #ff7f0e; stroke-opacity: 0.52; stroke-width: 0.5"/>
    <path d="M 366.888 57.6 
L 366.888 48.36 
" clip-path="url(#pfbd8692891)" style="fill: none; stroke: #ff7f0e; stroke-opacity: 0.52; stroke-width: 0.5"/>
    <path d="M 351.216 57.456 
L 351.216 51.264 
" clip-path="url(#pfbd8692891)" style="fill: none; stroke: #ff7f0e; stroke-opacity: 0.52; stroke-width: 0.5"/>
    <path d="M 368.712 57.72 
L 368.712 50.472 
" clip-path="url(#pfbd8692891)" style="fill: none; stroke: #ff7f0e; stroke-opacity: 0.52; stroke-width: 0.5"/>
    <path d="M 366.36 58.8 
L 366.36 54 
" clip-path="url(#pfbd8692891)" style="fill: none; stroke: #ff7f0e; stroke-opacity: 0.52; stroke-width: 0.5"/>
    <path d="M 339.888 61.92 
L 339.888 57.72 
" clip-path="url(#pfbd8692891)" style="fill: none; stroke: #ff7f0e; stroke-opacity: 0.52; stroke-width: 0.5"/>
    <path d="M 346.728 62.448 
L 346.728 57.456 
" clip-path="url(#pfbd8692891)" style="fill: none; stroke: #ff7f0e; stroke-opacity: 0.52; stroke-width: 0.5"/>
    <path d="M 365.952 63.12 
L 365.952 58.32 
" clip-path="url(#pfbd8692891)" style="fill: none; stroke: #ff7f0e; stroke-opacity: 0.52; stroke-width: 0.5"/>
    <path d="M 341.064 69.552 
L 341.064 58.776 
" clip-path="url(#pfbd8692891)" style="fill: none; stroke: #ff7f0e; stroke-opacity: 0.52; stroke-width: 0.5"/>
    <path d="M 349.104 68.496 
L 349.104 57.72 
" clip-path="url(#pfbd8692891)" style="fill: none; stroke: #ff7f0e; stroke-opacity: 0.52; stroke-width: 0.5"/>
    <path d="M 354.888 67.2 
L 354.888 60.336 
" clip-path="url(#pfbd8692891)" style="fill: none; stroke: #ff7f0e; stroke-opacity: 0.52; stroke-width: 0.5"/>
    <path d="M 357.528 69.84 
L 357.528 61.92 
" clip-path="url(#pfbd8692891)" style="fill: none; stroke: #ff7f0e; stroke-opacity: 0.52; stroke-width: 0.5"/>
    <path d="M 362.28 66.72 
L 362.28 60.96 
" clip-path="url(#pfbd8692891)" style="fill: none; stroke: #ff7f0e; stroke-opacity: 0.52; stroke-width: 0.5"/>
    <path d="M 371.352 71.136 
L 371.352 57.456 
" clip-path="url(#pfbd8692891)" style="fill: none; stroke: #ff7f0e; stroke-opacity: 0.52; stroke-width: 0.5"/>
    <path d="M 342.912 76.8 
L 342.912 69.96 
" clip-path="url(#pfbd8692891)" style="fill: none; stroke: #ff7f0e; stroke-opacity: 0.52; stroke-width: 0.5"/>
    <path d="M 318.288 76.32 
L 318.288 67.32 
" clip-path="url(#pfbd8692891)" style="fill: none; stroke: #ff7f0e; stroke-opacity: 0.52; stroke-width: 0.5"/>
    <path d="M 316.824 91.224 
L 316.824 82.008 
" clip-path="url(#pfbd8692891)" style="fill: none; stroke: #ff7f0e; stroke-opacity: 0.52; stroke-width: 0.5"/>
    <path d="M 293.664 92.592 
L 293.664 80.352 
" clip-path="url(#pfbd8692891)" style="fill: none; stroke: #ff7f0e; stroke-opacity: 0.52; stroke-width: 0.5"/>
    <path d="M 331.056 87.264 
L 331.056 76.992 
" clip-path="url(#pfbd8692891)" style="fill: none; stroke: #ff7f0e; stroke-opacity: 0.52; stroke-width: 0.5"/>
    <path d="M 328.56 98.4 
L 328.56 91.2 
" clip-path="url(#pfbd8692891)" style="fill: none; stroke: #ff7f0e; stroke-opacity: 0.52; stroke-width: 0.5"/>
    <path d="M 365.04 83.328 
L 365.04 72 
" clip-path="url(#pfbd8692891)" style="fill: none; stroke: #ff7f0e; stroke-opacity: 0.52; stroke-width: 0.5"/>
    <path d="M 367.152 84.912 
L 367.152 73.584 
" clip-path="url(#pfbd8692891)" style="fill: none; stroke: #ff7f0e; stroke-opacity: 0.52; stroke-width: 0.5"/>
    <path d="M 356.88 88.056 
L 356.88 80.952 
" clip-path="url(#pfbd8692891)" style="fill: none; stroke: #ff7f0e; stroke-opacity: 0.52; stroke-width: 0.5"/>
    <path d="M 337.512 93.6 
L 337.512 88.8 
" clip-path="url(#pfbd8692891)" style="fill: none; stroke: #ff7f0e; stroke-opacity: 0.52; stroke-width: 0.5"/>
    <path d="M 342.528 87.84 
L 342.528 84 
" clip-path="url(#pfbd8692891)" style="fill: none; stroke: #ff7f0e; stroke-opacity: 0.52; stroke-width: 0.5"/>
   </g>
   <g id="LineCollection_5">
    <path d="M 396 28.8 
L 406.512 28.8 
" clip-path="url(#pfbd8692891)" style="fill: none; stroke: #8c564b; stroke-opacity: 0.4; stroke-width: 0.3"/>
    <path d="M 396.72 29.592 
L 407.52 29.592 
" clip-path="url(#pfbd8692891)" style="fill: none; stroke: #8c564b; stroke-opacity: 0.4; stroke-width: 0.3"/>
    <path d="M 387.576 37.632 
L 399.144 37.632 
" clip-path="url(#pfbd8692891)" style="fill: none; stroke: #8c564b; stroke-opacity: 0.4; stroke-width: 0.3"/>
    <path d="M 378 46.056 
L 391.2 46.056 
" clip-path="url(#pfbd8692891)" style="fill: none; stroke: #8c564b; stroke-opacity: 0.4; stroke-width: 0.3"/>
    <path d="M 377.568 51 
L 389.544 51 
" clip-path="url(#pfbd8692891)" style="fill: none; stroke: #8c564b; stroke-opacity: 0.4; stroke-width: 0.3"/>
    <path d="M 373.2 54.432 
L 384.408 54.432 
" clip-path="url(#pfbd8692891)" style="fill: none; stroke: #8c564b; stroke-opacity: 0.4; stroke-width: 0.3"/>
    <path d="M 370.8 57.456 
L 383.352 57.456 
" clip-path="url(#pfbd8692891)" style="fill: none; stroke: #8c564b; stroke-opacity: 0.4; stroke-width: 0.3"/>
    <path d="M 370.8 59.352 
L 379.8 59.352 
" clip-path="url(#pfbd8692891)" style="fill: none; stroke: #8c564b; stroke-opacity: 0.4; stroke-width: 0.3"/>
    <path d="M 368.4 59.16 
L 378.72 59.16 
" clip-path="url(#pfbd8692891)" style="fill: none; stroke: #8c564b; stroke-opacity: 0.4; stroke-width: 0.3"/>
    <path d="M 372 57.456 
L 381.6 57.456 
" clip-path="url(#pfbd8692891)" style="fill: none; stroke: #8c564b; stroke-opacity: 0.4; stroke-width: 0.3"/>
    <path d="M 367.2 65.616 
L 378 65.616 
" clip-path="url(#pfbd8692891)" style="fill: none; stroke: #8c564b; stroke-opacity: 0.4; stroke-width: 0.3"/>
    <path d="M 361.2 63.768 
L 371.28 63.768 
" clip-path="url(#pfbd8692891)" style="fill: none; stroke: #8c564b; stroke-opacity: 0.4; stroke-width: 0.3"/>
    <path d="M 361.92 65.88 
L 372 65.88 
" clip-path="url(#pfbd8692891)" style="fill: none; stroke: #8c564b; stroke-opacity: 0.4; stroke-width: 0.3"/>
    <path d="M 362.64 67.464 
L 372.48 67.464 
" clip-path="url(#pfbd8692891)" style="fill: none; stroke: #8c564b; stroke-opacity: 0.4; stroke-width: 0.3"/>
    <path d="M 354.72 68.232 
L 364.8 68.232 
" clip-path="url(#pfbd8692891)" style="fill: none; stroke: #8c564b; stroke-opacity: 0.4; stroke-width: 0.3"/>
    <path d="M 359.52 68.232 
L 369.6 68.232 
" clip-path="url(#pfbd8692891)" style="fill: none; stroke: #8c564b; stroke-opacity: 0.4; stroke-width: 0.3"/>
    <path d="M 357.6 69.288 
L 367.68 69.288 
" clip-path="url(#pfbd8692891)" style="fill: none; stroke: #8c564b; stroke-opacity: 0.4; stroke-width: 0.3"/>
    <path d="M 352.8 70.608 
L 363.36 70.608 
" clip-path="url(#pfbd8692891)" style="fill: none; stroke: #8c564b; stroke-opacity: 0.4; stroke-width: 0.3"/>
    <path d="M 356.16 70.608 
L 366.24 70.608 
" clip-path="url(#pfbd8692891)" style="fill: none; stroke: #8c564b; stroke-opacity: 0.4; stroke-width: 0.3"/>
    <path d="M 357.6 71.4 
L 367.68 71.4 
" clip-path="url(#pfbd8692891)" style="fill: none; stroke: #8c564b; stroke-opacity: 0.4; stroke-width: 0.3"/>
    <path d="M 354 73.512 
L 364.32 73.512 
" clip-path="url(#pfbd8692891)" style="fill: none; stroke: #8c564b; stroke-opacity: 0.4; stroke-width: 0.3"/>
    <path d="M 356.16 73.512 
L 366.24 73.512 
" clip-path="url(#pfbd8692891)" style="fill: none; stroke: #8c564b; stroke-opacity: 0.4; stroke-width: 0.3"/>
    <path d="M 372.72 54.288 
L 382.32 54.288 
" clip-path="url(#pfbd8692891)" style="fill: none; stroke: #8c564b; stroke-opacity: 0.4; stroke-width: 0.3"/>
    <path d="M 303.6 95.952 
L 321.6 95.952 
" clip-path="url(#pfbd8692891)" style="fill: none; stroke: #8c564b; stroke-opacity: 0.4; stroke-width: 0.3"/>
    <path d="M 316.8 93.72 
L 333.6 93.72 
" clip-path="url(#pfbd8692891)" style="fill: none; stroke: #8c564b; stroke-opacity: 0.4; stroke-width: 0.3"/>
    <path d="M 312 96.744 
L 327.6 96.744 
" clip-path="url(#pfbd8692891)" style="fill: none; stroke: #8c564b; stroke-opacity: 0.4; stroke-width: 0.3"/>
    <path d="M 314.4 98.856 
L 330 98.856 
" clip-path="url(#pfbd8692891)" style="fill: none; stroke: #8c564b; stroke-opacity: 0.4; stroke-width: 0.3"/>
    <path d="M 318.816 83.184 
L 336 83.184 
" clip-path="url(#pfbd8692891)" style="fill: none; stroke: #8c564b; stroke-opacity: 0.4; stroke-width: 0.3"/>
    <path d="M 326.4 93.6 
L 338.4 93.6 
" clip-path="url(#pfbd8692891)" style="fill: none; stroke: #8c564b; stroke-opacity: 0.4; stroke-width: 0.3"/>
    <path d="M 331.2 77.928 
L 342 77.928 
" clip-path="url(#pfbd8692891)" style="fill: none; stroke: #8c564b; stroke-opacity: 0.4; stroke-width: 0.3"/>
    <path d="M 343.2 77.784 
L 354 77.784 
" clip-path="url(#pfbd8692891)" style="fill: none; stroke: #8c564b; stroke-opacity: 0.4; stroke-width: 0.3"/>
    <path d="M 352.8 75.432 
L 362.4 75.432 
" clip-path="url(#pfbd8692891)" style="fill: none; stroke: #8c564b; stroke-opacity: 0.4; stroke-width: 0.3"/>
    <path d="M 356.4 73.584 
L 366 73.584 
" clip-path="url(#pfbd8692891)" style="fill: none; stroke: #8c564b; stroke-opacity: 0.4; stroke-width: 0.3"/>
    <path d="M 354 79.104 
L 363.6 79.104 
" clip-path="url(#pfbd8692891)" style="fill: none; stroke: #8c564b; stroke-opacity: 0.4; stroke-width: 0.3"/>
    <path d="M 293.472 121.44 
L 312 121.44 
" clip-path="url(#pfbd8692891)" style="fill: none; stroke: #8c564b; stroke-opacity: 0.4; stroke-width: 0.3"/>
    <path d="M 289.896 130.152 
L 310.68 130.152 
" clip-path="url(#pfbd8692891)" style="fill: none; stroke: #8c564b; stroke-opacity: 0.4; stroke-width: 0.3"/>
    <path d="M 318.504 129.744 
L 339.744 129.744 
" clip-path="url(#pfbd8692891)" style="fill: none; stroke: #8c564b; stroke-opacity: 0.4; stroke-width: 0.3"/>
    <path d="M 315.84 143.112 
L 336.84 143.112 
" clip-path="url(#pfbd8692891)" style="fill: none; stroke: #8c564b; stroke-opacity: 0.4; stroke-width: 0.3"/>
    <path d="M 316.512 178.608 
L 337.512 178.608 
" clip-path="url(#pfbd8692891)" style="fill: none; stroke: #8c564b; stroke-opacity: 0.4; stroke-width: 0.3"/>
    <path d="M 300 116.928 
L 312 116.928 
" clip-path="url(#pfbd8692891)" style="fill: none; stroke: #8c564b; stroke-opacity: 0.4; stroke-width: 0.3"/>
    <path d="M 301.92 114.456 
L 313.92 114.456 
" clip-path="url(#pfbd8692891)" style="fill: none; stroke: #8c564b; stroke-opacity: 0.4; stroke-width: 0.3"/>
    <path d="M 307.68 116.04 
L 319.2 116.04 
" clip-path="url(#pfbd8692891)" style="fill: none; stroke: #8c564b; stroke-opacity: 0.4; stroke-width: 0.3"/>
    <path d="M 305.28 117.36 
L 317.28 117.36 
" clip-path="url(#pfbd8692891)" style="fill: none; stroke: #8c564b; stroke-opacity: 0.4; stroke-width: 0.3"/>
    <path d="M 314.88 114.24 
L 326.88 114.24 
" clip-path="url(#pfbd8692891)" style="fill: none; stroke: #8c564b; stroke-opacity: 0.4; stroke-width: 0.3"/>
    <path d="M 330 86.304 
L 341.28 86.304 
" clip-path="url(#pfbd8692891)" style="fill: none; stroke: #8c564b; stroke-opacity: 0.4; stroke-width: 0.3"/>
   </g>
   <g id="LineCollection_6">
    <path d="M 400.2 30 
L 400.2 27.6 
" clip-path="url(#pfbd8692891)" style="fill: none; stroke: #8c564b; stroke-opacity: 0.4; stroke-width: 0.3"/>
    <path d="M 401.52 30.72 
L 401.52 28.32 
" clip-path="url(#pfbd8692891)" style="fill: none; stroke: #8c564b; stroke-opacity: 0.4; stroke-width: 0.3"/>
    <path d="M 393.096 38.64 
L 393.096 36.48 
" clip-path="url(#pfbd8692891)" style="fill: none; stroke: #8c564b; stroke-opacity: 0.4; stroke-width: 0.3"/>
    <path d="M 383.616 47.04 
L 383.616 44.88 
" clip-path="url(#pfbd8692891)" style="fill: none; stroke: #8c564b; stroke-opacity: 0.4; stroke-width: 0.3"/>
    <path d="M 383.352 52.32 
L 383.352 49.68 
" clip-path="url(#pfbd8692891)" style="fill: none; stroke: #8c564b; stroke-opacity: 0.4; stroke-width: 0.3"/>
    <path d="M 378.096 55.68 
L 378.096 53.04 
" clip-path="url(#pfbd8692891)" style="fill: none; stroke: #8c564b; stroke-opacity: 0.4; stroke-width: 0.3"/>
    <path d="M 376.512 58.8 
L 376.512 56.16 
" clip-path="url(#pfbd8692891)" style="fill: none; stroke: #8c564b; stroke-opacity: 0.4; stroke-width: 0.3"/>
    <path d="M 375.6 60.48 
L 375.6 58.08 
" clip-path="url(#pfbd8692891)" style="fill: none; stroke: #8c564b; stroke-opacity: 0.4; stroke-width: 0.3"/>
    <path d="M 373.584 60.48 
L 373.584 57.84 
" clip-path="url(#pfbd8692891)" style="fill: none; stroke: #8c564b; stroke-opacity: 0.4; stroke-width: 0.3"/>
    <path d="M 376.752 58.8 
L 376.752 56.16 
" clip-path="url(#pfbd8692891)" style="fill: none; stroke: #8c564b; stroke-opacity: 0.4; stroke-width: 0.3"/>
    <path d="M 372.264 66.96 
L 372.264 64.32 
" clip-path="url(#pfbd8692891)" style="fill: none; stroke: #8c564b; stroke-opacity: 0.4; stroke-width: 0.3"/>
    <path d="M 366.216 65.04 
L 366.216 62.4 
" clip-path="url(#pfbd8692891)" style="fill: none; stroke: #8c564b; stroke-opacity: 0.4; stroke-width: 0.3"/>
    <path d="M 366.744 67.2 
L 366.744 64.56 
" clip-path="url(#pfbd8692891)" style="fill: none; stroke: #8c564b; stroke-opacity: 0.4; stroke-width: 0.3"/>
    <path d="M 367.536 68.64 
L 367.536 66.24 
" clip-path="url(#pfbd8692891)" style="fill: none; stroke: #8c564b; stroke-opacity: 0.4; stroke-width: 0.3"/>
    <path d="M 359.904 69.6 
L 359.904 66.96 
" clip-path="url(#pfbd8692891)" style="fill: none; stroke: #8c564b; stroke-opacity: 0.4; stroke-width: 0.3"/>
    <path d="M 364.632 69.6 
L 364.632 66.96 
" clip-path="url(#pfbd8692891)" style="fill: none; stroke: #8c564b; stroke-opacity: 0.4; stroke-width: 0.3"/>
    <path d="M 362.544 70.56 
L 362.544 67.92 
" clip-path="url(#pfbd8692891)" style="fill: none; stroke: #8c564b; stroke-opacity: 0.4; stroke-width: 0.3"/>
    <path d="M 358.056 72 
L 358.056 69.36 
" clip-path="url(#pfbd8692891)" style="fill: none; stroke: #8c564b; stroke-opacity: 0.4; stroke-width: 0.3"/>
    <path d="M 361.224 72 
L 361.224 69.36 
" clip-path="url(#pfbd8692891)" style="fill: none; stroke: #8c564b; stroke-opacity: 0.4; stroke-width: 0.3"/>
    <path d="M 362.544 72.72 
L 362.544 70.08 
" clip-path="url(#pfbd8692891)" style="fill: none; stroke: #8c564b; stroke-opacity: 0.4; stroke-width: 0.3"/>
    <path d="M 359.112 74.88 
L 359.112 72.24 
" clip-path="url(#pfbd8692891)" style="fill: none; stroke: #8c564b; stroke-opacity: 0.4; stroke-width: 0.3"/>
    <path d="M 361.224 74.88 
L 361.224 72.24 
" clip-path="url(#pfbd8692891)" style="fill: none; stroke: #8c564b; stroke-opacity: 0.4; stroke-width: 0.3"/>
    <path d="M 377.544 55.44 
L 377.544 53.04 
" clip-path="url(#pfbd8692891)" style="fill: none; stroke: #8c564b; stroke-opacity: 0.4; stroke-width: 0.3"/>
    <path d="M 313.272 97.2 
L 313.272 94.8 
" clip-path="url(#pfbd8692891)" style="fill: none; stroke: #8c564b; stroke-opacity: 0.4; stroke-width: 0.3"/>
    <path d="M 324.72 95.04 
L 324.72 92.4 
" clip-path="url(#pfbd8692891)" style="fill: none; stroke: #8c564b; stroke-opacity: 0.4; stroke-width: 0.3"/>
    <path d="M 319.584 97.92 
L 319.584 95.52 
" clip-path="url(#pfbd8692891)" style="fill: none; stroke: #8c564b; stroke-opacity: 0.4; stroke-width: 0.3"/>
    <path d="M 321.96 100.08 
L 321.96 97.68 
" clip-path="url(#pfbd8692891)" style="fill: none; stroke: #8c564b; stroke-opacity: 0.4; stroke-width: 0.3"/>
    <path d="M 329.328 84.48 
L 329.328 81.84 
" clip-path="url(#pfbd8692891)" style="fill: none; stroke: #8c564b; stroke-opacity: 0.4; stroke-width: 0.3"/>
    <path d="M 332.76 94.8 
L 332.76 92.4 
" clip-path="url(#pfbd8692891)" style="fill: none; stroke: #8c564b; stroke-opacity: 0.4; stroke-width: 0.3"/>
    <path d="M 336.336 79.2 
L 336.336 76.8 
" clip-path="url(#pfbd8692891)" style="fill: none; stroke: #8c564b; stroke-opacity: 0.4; stroke-width: 0.3"/>
    <path d="M 348.456 78.96 
L 348.456 76.56 
" clip-path="url(#pfbd8692891)" style="fill: none; stroke: #8c564b; stroke-opacity: 0.4; stroke-width: 0.3"/>
    <path d="M 357.528 76.56 
L 357.528 74.16 
" clip-path="url(#pfbd8692891)" style="fill: none; stroke: #8c564b; stroke-opacity: 0.4; stroke-width: 0.3"/>
    <path d="M 360.96 74.88 
L 360.96 72.24 
" clip-path="url(#pfbd8692891)" style="fill: none; stroke: #8c564b; stroke-opacity: 0.4; stroke-width: 0.3"/>
    <path d="M 358.56 80.4 
L 358.56 77.76 
" clip-path="url(#pfbd8692891)" style="fill: none; stroke: #8c564b; stroke-opacity: 0.4; stroke-width: 0.3"/>
    <path d="M 302.88 124.32 
L 302.88 119.04 
" clip-path="url(#pfbd8692891)" style="fill: none; stroke: #8c564b; stroke-opacity: 0.4; stroke-width: 0.3"/>
    <path d="M 299.52 137.424 
L 299.52 124.464 
" clip-path="url(#pfbd8692891)" style="fill: none; stroke: #8c564b; stroke-opacity: 0.4; stroke-width: 0.3"/>
    <path d="M 329.232 143.256 
L 329.232 117.6 
" clip-path="url(#pfbd8692891)" style="fill: none; stroke: #8c564b; stroke-opacity: 0.4; stroke-width: 0.3"/>
    <path d="M 326.208 154.416 
L 326.208 134.976 
" clip-path="url(#pfbd8692891)" style="fill: none; stroke: #8c564b; stroke-opacity: 0.4; stroke-width: 0.3"/>
    <path d="M 326.928 309.6 
L 326.928 112.8 
" clip-path="url(#pfbd8692891)" style="fill: none; stroke: #8c564b; stroke-opacity: 0.4; stroke-width: 0.3"/>
    <path d="M 306.216 118.8 
L 306.216 115.2 
" clip-path="url(#pfbd8692891)" style="fill: none; stroke: #8c564b; stroke-opacity: 0.4; stroke-width: 0.3"/>
    <path d="M 308.016 116.16 
L 308.016 112.8 
" clip-path="url(#pfbd8692891)" style="fill: none; stroke: #8c564b; stroke-opacity: 0.4; stroke-width: 0.3"/>
    <path d="M 313.608 117.84 
L 313.608 114.24 
" clip-path="url(#pfbd8692891)" style="fill: none; stroke: #8c564b; stroke-opacity: 0.4; stroke-width: 0.3"/>
    <path d="M 311.352 119.28 
L 311.352 115.44 
" clip-path="url(#pfbd8692891)" style="fill: none; stroke: #8c564b; stroke-opacity: 0.4; stroke-width: 0.3"/>
    <path d="M 320.976 116.16 
L 320.976 112.32 
" clip-path="url(#pfbd8692891)" style="fill: none; stroke: #8c564b; stroke-opacity: 0.4; stroke-width: 0.3"/>
    <path d="M 335.712 87.6 
L 335.712 84.96 
" clip-path="url(#pfbd8692891)" style="fill: none; stroke: #8c564b; stroke-opacity: 0.4; stroke-width: 0.3"/>
   </g>
   <g id="LineCollection_7">
    <path d="M 327.010893 96.08624 
L 344.34767 96.08624 
" clip-path="url(#pfbd8692891)" style="fill: none; stroke: #8c564b; stroke-opacity: 0.25; stroke-width: 0.25"/>
    <path d="M 308.360794 107.545653 
L 326.585823 107.545653 
" clip-path="url(#pfbd8692891)" style="fill: none; stroke: #8c564b; stroke-opacity: 0.25; stroke-width: 0.25"/>
    <path d="M 332.152581 88.411613 
L 355.910316 88.411613 
" clip-path="url(#pfbd8692891)" style="fill: none; stroke: #8c564b; stroke-opacity: 0.25; stroke-width: 0.25"/>
    <path d="M 332.856704 93.735815 
L 353.114564 93.735815 
" clip-path="url(#pfbd8692891)" style="fill: none; stroke: #8c564b; stroke-opacity: 0.25; stroke-width: 0.25"/>
    <path d="M 332.585086 89.935651 
L 354.984609 89.935651 
" clip-path="url(#pfbd8692891)" style="fill: none; stroke: #8c564b; stroke-opacity: 0.25; stroke-width: 0.25"/>
    <path d="M 299.957745 114.927454 
L 321.507451 114.927454 
" clip-path="url(#pfbd8692891)" style="fill: none; stroke: #8c564b; stroke-opacity: 0.25; stroke-width: 0.25"/>
    <path d="M 335.800694 87.31955 
L 359.113848 87.31955 
" clip-path="url(#pfbd8692891)" style="fill: none; stroke: #8c564b; stroke-opacity: 0.25; stroke-width: 0.25"/>
    <path d="M 313.671076 103.166978 
L 333.860936 103.166978 
" clip-path="url(#pfbd8692891)" style="fill: none; stroke: #8c564b; stroke-opacity: 0.25; stroke-width: 0.25"/>
    <path d="M 302.551141 114.381189 
L 323.323585 114.381189 
" clip-path="url(#pfbd8692891)" style="fill: none; stroke: #8c564b; stroke-opacity: 0.25; stroke-width: 0.25"/>
    <path d="M 312.98927 96.763338 
L 333.823637 96.763338 
" clip-path="url(#pfbd8692891)" style="fill: none; stroke: #8c564b; stroke-opacity: 0.25; stroke-width: 0.25"/>
    <path d="M 307.36865 102.703316 
L 330.814294 102.703316 
" clip-path="url(#pfbd8692891)" style="fill: none; stroke: #8c564b; stroke-opacity: 0.25; stroke-width: 0.25"/>
    <path d="M 330.262471 90.891039 
L 353.880812 90.891039 
" clip-path="url(#pfbd8692891)" style="fill: none; stroke: #8c564b; stroke-opacity: 0.25; stroke-width: 0.25"/>
    <path d="M 334.077687 84.362189 
L 353.656097 84.362189 
" clip-path="url(#pfbd8692891)" style="fill: none; stroke: #8c564b; stroke-opacity: 0.25; stroke-width: 0.25"/>
    <path d="M 298.293911 114.696932 
L 322.724556 114.696932 
" clip-path="url(#pfbd8692891)" style="fill: none; stroke: #8c564b; stroke-opacity: 0.25; stroke-width: 0.25"/>
    <path d="M 311.009526 109.077239 
L 331.020377 109.077239 
" clip-path="url(#pfbd8692891)" style="fill: none; stroke: #8c564b; stroke-opacity: 0.25; stroke-width: 0.25"/>
    <path d="M 323.260288 96.902761 
L 343.46844 96.902761 
" clip-path="url(#pfbd8692891)" style="fill: none; stroke: #8c564b; stroke-opacity: 0.25; stroke-width: 0.25"/>
    <path d="M 312.530734 108.037648 
L 333.255787 108.037648 
" clip-path="url(#pfbd8692891)" style="fill: none; stroke: #8c564b; stroke-opacity: 0.25; stroke-width: 0.25"/>
    <path d="M 316.813951 107.124502 
L 338.891647 107.124502 
" clip-path="url(#pfbd8692891)" style="fill: none; stroke: #8c564b; stroke-opacity: 0.25; stroke-width: 0.25"/>
    <path d="M 333.88095 84.916742 
L 353.310848 84.916742 
" clip-path="url(#pfbd8692891)" style="fill: none; stroke: #8c564b; stroke-opacity: 0.25; stroke-width: 0.25"/>
    <path d="M 325.696133 97.084754 
L 344.074232 97.084754 
" clip-path="url(#pfbd8692891)" style="fill: none; stroke: #8c564b; stroke-opacity: 0.25; stroke-width: 0.25"/>
    <path d="M 306.893718 106.85725 
L 326.652872 106.85725 
" clip-path="url(#pfbd8692891)" style="fill: none; stroke: #8c564b; stroke-opacity: 0.25; stroke-width: 0.25"/>
    <path d="M 313.018074 106.076136 
L 330.804488 106.076136 
" clip-path="url(#pfbd8692891)" style="fill: none; stroke: #8c564b; stroke-opacity: 0.25; stroke-width: 0.25"/>
    <path d="M 319.809635 97.91794 
L 341.679802 97.91794 
" clip-path="url(#pfbd8692891)" style="fill: none; stroke: #8c564b; stroke-opacity: 0.25; stroke-width: 0.25"/>
    <path d="M 313.710788 94.295281 
L 335.460074 94.295281 
" clip-path="url(#pfbd8692891)" style="fill: none; stroke: #8c564b; stroke-opacity: 0.25; stroke-width: 0.25"/>
    <path d="M 312.720284 101.660288 
L 336.06912 101.660288 
" clip-path="url(#pfbd8692891)" style="fill: none; stroke: #8c564b; stroke-opacity: 0.25; stroke-width: 0.25"/>
    <path d="M 319.228987 97.878371 
L 343.959284 97.878371 
" clip-path="url(#pfbd8692891)" style="fill: none; stroke: #8c564b; stroke-opacity: 0.25; stroke-width: 0.25"/>
    <path d="M 323.592384 97.671467 
L 347.398498 97.671467 
" clip-path="url(#pfbd8692891)" style="fill: none; stroke: #8c564b; stroke-opacity: 0.25; stroke-width: 0.25"/>
    <path d="M 321.900074 98.152418 
L 341.266431 98.152418 
" clip-path="url(#pfbd8692891)" style="fill: none; stroke: #8c564b; stroke-opacity: 0.25; stroke-width: 0.25"/>
    <path d="M 336.559871 85.401652 
L 357.54564 85.401652 
" clip-path="url(#pfbd8692891)" style="fill: none; stroke: #8c564b; stroke-opacity: 0.25; stroke-width: 0.25"/>
    <path d="M 311.17631 103.204865 
L 334.075448 103.204865 
" clip-path="url(#pfbd8692891)" style="fill: none; stroke: #8c564b; stroke-opacity: 0.25; stroke-width: 0.25"/>
    <path d="M 308.928044 107.324376 
L 329.504812 107.324376 
" clip-path="url(#pfbd8692891)" style="fill: none; stroke: #8c564b; stroke-opacity: 0.25; stroke-width: 0.25"/>
    <path d="M 322.265139 93.072283 
L 347.400659 93.072283 
" clip-path="url(#pfbd8692891)" style="fill: none; stroke: #8c564b; stroke-opacity: 0.25; stroke-width: 0.25"/>
    <path d="M 321.748804 100.394874 
L 339.123599 100.394874 
" clip-path="url(#pfbd8692891)" style="fill: none; stroke: #8c564b; stroke-opacity: 0.25; stroke-width: 0.25"/>
    <path d="M 302.811936 113.456791 
L 323.242514 113.456791 
" clip-path="url(#pfbd8692891)" style="fill: none; stroke: #8c564b; stroke-opacity: 0.25; stroke-width: 0.25"/>
    <path d="M 339.183214 84.704711 
L 357.281413 84.704711 
" clip-path="url(#pfbd8692891)" style="fill: none; stroke: #8c564b; stroke-opacity: 0.25; stroke-width: 0.25"/>
    <path d="M 311.216086 106.723715 
L 336.100185 106.723715 
" clip-path="url(#pfbd8692891)" style="fill: none; stroke: #8c564b; stroke-opacity: 0.25; stroke-width: 0.25"/>
    <path d="M 307.971426 101.178995 
L 331.857689 101.178995 
" clip-path="url(#pfbd8692891)" style="fill: none; stroke: #8c564b; stroke-opacity: 0.25; stroke-width: 0.25"/>
    <path d="M 330.06405 92.25245 
L 354.480588 92.25245 
" clip-path="url(#pfbd8692891)" style="fill: none; stroke: #8c564b; stroke-opacity: 0.25; stroke-width: 0.25"/>
    <path d="M 322.336201 94.661562 
L 346.835975 94.661562 
" clip-path="url(#pfbd8692891)" style="fill: none; stroke: #8c564b; stroke-opacity: 0.25; stroke-width: 0.25"/>
    <path d="M 338.05475 83.250121 
L 358.790522 83.250121 
" clip-path="url(#pfbd8692891)" style="fill: none; stroke: #8c564b; stroke-opacity: 0.25; stroke-width: 0.25"/>
    <path d="M 312.10923 99.109618 
L 336.630031 99.109618 
" clip-path="url(#pfbd8692891)" style="fill: none; stroke: #8c564b; stroke-opacity: 0.25; stroke-width: 0.25"/>
    <path d="M 327.056675 99.617819 
L 349.773965 99.617819 
" clip-path="url(#pfbd8692891)" style="fill: none; stroke: #8c564b; stroke-opacity: 0.25; stroke-width: 0.25"/>
    <path d="M 311.988557 105.338994 
L 331.493915 105.338994 
" clip-path="url(#pfbd8692891)" style="fill: none; stroke: #8c564b; stroke-opacity: 0.25; stroke-width: 0.25"/>
    <path d="M 306.073909 110.406995 
L 329.814353 110.406995 
" clip-path="url(#pfbd8692891)" style="fill: none; stroke: #8c564b; stroke-opacity: 0.25; stroke-width: 0.25"/>
    <path d="M 331.41066 89.499369 
L 352.705238 89.499369 
" clip-path="url(#pfbd8692891)" style="fill: none; stroke: #8c564b; stroke-opacity: 0.25; stroke-width: 0.25"/>
    <path d="M 300.843194 109.651862 
L 319.29274 109.651862 
" clip-path="url(#pfbd8692891)" style="fill: none; stroke: #8c564b; stroke-opacity: 0.25; stroke-width: 0.25"/>
    <path d="M 327.82279 94.077378 
L 349.186088 94.077378 
" clip-path="url(#pfbd8692891)" style="fill: none; stroke: #8c564b; stroke-opacity: 0.25; stroke-width: 0.25"/>
    <path d="M 298.961518 104.378577 
L 320.378551 104.378577 
" clip-path="url(#pfbd8692891)" style="fill: none; stroke: #8c564b; stroke-opacity: 0.25; stroke-width: 0.25"/>
    <path d="M 333.418288 82.019565 
L 357.315531 82.019565 
" clip-path="url(#pfbd8692891)" style="fill: none; stroke: #8c564b; stroke-opacity: 0.25; stroke-width: 0.25"/>
    <path d="M 329.667919 88.193032 
L 352.783283 88.193032 
" clip-path="url(#pfbd8692891)" style="fill: none; stroke: #8c564b; stroke-opacity: 0.25; stroke-width: 0.25"/>
    <path d="M 330.10708 89.341858 
L 351.935524 89.341858 
" clip-path="url(#pfbd8692891)" style="fill: none; stroke: #8c564b; stroke-opacity: 0.25; stroke-width: 0.25"/>
    <path d="M 307.434476 106.581112 
L 329.990596 106.581112 
" clip-path="url(#pfbd8692891)" style="fill: none; stroke: #8c564b; stroke-opacity: 0.25; stroke-width: 0.25"/>
    <path d="M 325.074346 91.258263 
L 347.752641 91.258263 
" clip-path="url(#pfbd8692891)" style="fill: none; stroke: #8c564b; stroke-opacity: 0.25; stroke-width: 0.25"/>
    <path d="M 329.84786 91.520022 
L 349.684909 91.520022 
" clip-path="url(#pfbd8692891)" style="fill: none; stroke: #8c564b; stroke-opacity: 0.25; stroke-width: 0.25"/>
    <path d="M 313.609713 106.10088 
L 335.99167 106.10088 
" clip-path="url(#pfbd8692891)" style="fill: none; stroke: #8c564b; stroke-opacity: 0.25; stroke-width: 0.25"/>
    <path d="M 312.201996 106.63258 
L 331.890472 106.63258 
" clip-path="url(#pfbd8692891)" style="fill: none; stroke: #8c564b; stroke-opacity: 0.25; stroke-width: 0.25"/>
    <path d="M 304.976862 106.251012 
L 328.262926 106.251012 
" clip-path="url(#pfbd8692891)" style="fill: none; stroke: #8c564b; stroke-opacity: 0.25; stroke-width: 0.25"/>
    <path d="M 335.239747 87.527603 
L 359.626454 87.527603 
" clip-path="url(#pfbd8692891)" style="fill: none; stroke: #8c564b; stroke-opacity: 0.25; stroke-width: 0.25"/>
    <path d="M 314.615303 99.586739 
L 335.705002 99.586739 
" clip-path="url(#pfbd8692891)" style="fill: none; stroke: #8c564b; stroke-opacity: 0.25; stroke-width: 0.25"/>
    <path d="M 312.31291 105.597773 
L 333.496283 105.597773 
" clip-path="url(#pfbd8692891)" style="fill: none; stroke: #8c564b; stroke-opacity: 0.25; stroke-width: 0.25"/>
    <path d="M 327.002491 93.49347 
L 350.202602 93.49347 
" clip-path="url(#pfbd8692891)" style="fill: none; stroke: #8c564b; stroke-opacity: 0.25; stroke-width: 0.25"/>
    <path d="M 319.028755 99.124457 
L 341.104341 99.124457 
" clip-path="url(#pfbd8692891)" style="fill: none; stroke: #8c564b; stroke-opacity: 0.25; stroke-width: 0.25"/>
    <path d="M 312.002129 100.792517 
L 332.05919 100.792517 
" clip-path="url(#pfbd8692891)" style="fill: none; stroke: #8c564b; stroke-opacity: 0.25; stroke-width: 0.25"/>
    <path d="M 329.440916 91.308661 
L 352.283578 91.308661 
" clip-path="url(#pfbd8692891)" style="fill: none; stroke: #8c564b; stroke-opacity: 0.25; stroke-width: 0.25"/>
    <path d="M 315.365235 102.603051 
L 338.590823 102.603051 
" clip-path="url(#pfbd8692891)" style="fill: none; stroke: #8c564b; stroke-opacity: 0.25; stroke-width: 0.25"/>
    <path d="M 316.440005 103.731473 
L 336.247064 103.731473 
" clip-path="url(#pfbd8692891)" style="fill: none; stroke: #8c564b; stroke-opacity: 0.25; stroke-width: 0.25"/>
    <path d="M 312.921908 106.882098 
L 330.56422 106.882098 
" clip-path="url(#pfbd8692891)" style="fill: none; stroke: #8c564b; stroke-opacity: 0.25; stroke-width: 0.25"/>
    <path d="M 302.585339 113.993939 
L 323.149496 113.993939 
" clip-path="url(#pfbd8692891)" style="fill: none; stroke: #8c564b; stroke-opacity: 0.25; stroke-width: 0.25"/>
    <path d="M 319.092983 100.113412 
L 339.792049 100.113412 
" clip-path="url(#pfbd8692891)" style="fill: none; stroke: #8c564b; stroke-opacity: 0.25; stroke-width: 0.25"/>
    <path d="M 316.290227 101.027555 
L 341.443738 101.027555 
" clip-path="url(#pfbd8692891)" style="fill: none; stroke: #8c564b; stroke-opacity: 0.25; stroke-width: 0.25"/>
    <path d="M 312.558106 109.059174 
L 334.71881 109.059174 
" clip-path="url(#pfbd8692891)" style="fill: none; stroke: #8c564b; stroke-opacity: 0.25; stroke-width: 0.25"/>
    <path d="M 309.416603 108.251538 
L 330.070455 108.251538 
" clip-path="url(#pfbd8692891)" style="fill: none; stroke: #8c564b; stroke-opacity: 0.25; stroke-width: 0.25"/>
    <path d="M 307.826009 108.397375 
L 329.74085 108.397375 
" clip-path="url(#pfbd8692891)" style="fill: none; stroke: #8c564b; stroke-opacity: 0.25; stroke-width: 0.25"/>
    <path d="M 313.285725 103.657964 
L 332.108974 103.657964 
" clip-path="url(#pfbd8692891)" style="fill: none; stroke: #8c564b; stroke-opacity: 0.25; stroke-width: 0.25"/>
    <path d="M 329.934887 93.530499 
L 348.947616 93.530499 
" clip-path="url(#pfbd8692891)" style="fill: none; stroke: #8c564b; stroke-opacity: 0.25; stroke-width: 0.25"/>
    <path d="M 302.142431 114.339936 
L 325.663506 114.339936 
" clip-path="url(#pfbd8692891)" style="fill: none; stroke: #8c564b; stroke-opacity: 0.25; stroke-width: 0.25"/>
    <path d="M 301.472785 121.32084 
L 323.930693 121.32084 
" clip-path="url(#pfbd8692891)" style="fill: none; stroke: #8c564b; stroke-opacity: 0.25; stroke-width: 0.25"/>
    <path d="M 331.60415 87.795259 
L 351.283788 87.795259 
" clip-path="url(#pfbd8692891)" style="fill: none; stroke: #8c564b; stroke-opacity: 0.25; stroke-width: 0.25"/>
    <path d="M 329.611757 95.700929 
L 349.001559 95.700929 
" clip-path="url(#pfbd8692891)" style="fill: none; stroke: #8c564b; stroke-opacity: 0.25; stroke-width: 0.25"/>
    <path d="M 322.472576 96.191213 
L 343.127332 96.191213 
" clip-path="url(#pfbd8692891)" style="fill: none; stroke: #8c564b; stroke-opacity: 0.25; stroke-width: 0.25"/>
    <path d="M 309.840614 103.34009 
L 331.106198 103.34009 
" clip-path="url(#pfbd8692891)" style="fill: none; stroke: #8c564b; stroke-opacity: 0.25; stroke-width: 0.25"/>
    <path d="M 296.610895 116.048569 
L 320.128216 116.048569 
" clip-path="url(#pfbd8692891)" style="fill: none; stroke: #8c564b; stroke-opacity: 0.25; stroke-width: 0.25"/>
    <path d="M 331.093311 85.448302 
L 353.663727 85.448302 
" clip-path="url(#pfbd8692891)" style="fill: none; stroke: #8c564b; stroke-opacity: 0.25; stroke-width: 0.25"/>
    <path d="M 311.823986 100.570421 
L 333.467312 100.570421 
" clip-path="url(#pfbd8692891)" style="fill: none; stroke: #8c564b; stroke-opacity: 0.25; stroke-width: 0.25"/>
    <path d="M 321.90829 96.769929 
L 343.7705 96.769929 
" clip-path="url(#pfbd8692891)" style="fill: none; stroke: #8c564b; stroke-opacity: 0.25; stroke-width: 0.25"/>
    <path d="M 323.146923 93.256953 
L 345.840079 93.256953 
" clip-path="url(#pfbd8692891)" style="fill: none; stroke: #8c564b; stroke-opacity: 0.25; stroke-width: 0.25"/>
    <path d="M 308.185655 105.66584 
L 335.430239 105.66584 
" clip-path="url(#pfbd8692891)" style="fill: none; stroke: #8c564b; stroke-opacity: 0.25; stroke-width: 0.25"/>
    <path d="M 303.535987 102.671946 
L 324.858038 102.671946 
" clip-path="url(#pfbd8692891)" style="fill: none; stroke: #8c564b; stroke-opacity: 0.25; stroke-width: 0.25"/>
    <path d="M 322.929706 94.402688 
L 347.304384 94.402688 
" clip-path="url(#pfbd8692891)" style="fill: none; stroke: #8c564b; stroke-opacity: 0.25; stroke-width: 0.25"/>
    <path d="M 326.742128 99.007899 
L 348.190436 99.007899 
" clip-path="url(#pfbd8692891)" style="fill: none; stroke: #8c564b; stroke-opacity: 0.25; stroke-width: 0.25"/>
    <path d="M 306.59578 112.403109 
L 328.096148 112.403109 
" clip-path="url(#pfbd8692891)" style="fill: none; stroke: #8c564b; stroke-opacity: 0.25; stroke-width: 0.25"/>
    <path d="M 304.741225 111.471856 
L 323.282635 111.471856 
" clip-path="url(#pfbd8692891)" style="fill: none; stroke: #8c564b; stroke-opacity: 0.25; stroke-width: 0.25"/>
    <path d="M 335.974166 86.278724 
L 359.112808 86.278724 
" clip-path="url(#pfbd8692891)" style="fill: none; stroke: #8c564b; stroke-opacity: 0.25; stroke-width: 0.25"/>
    <path d="M 296.16722 115.325628 
L 321.295312 115.325628 
" clip-path="url(#pfbd8692891)" style="fill: none; stroke: #8c564b; stroke-opacity: 0.25; stroke-width: 0.25"/>
    <path d="M 323.096682 99.40512 
L 345.471371 99.40512 
" clip-path="url(#pfbd8692891)" style="fill: none; stroke: #8c564b; stroke-opacity: 0.25; stroke-width: 0.25"/>
    <path d="M 307.753435 104.902433 
L 334.010977 104.902433 
" clip-path="url(#pfbd8692891)" style="fill: none; stroke: #8c564b; stroke-opacity: 0.25; stroke-width: 0.25"/>
    <path d="M 326.712323 96.283349 
L 346.730907 96.283349 
" clip-path="url(#pfbd8692891)" style="fill: none; stroke: #8c564b; stroke-opacity: 0.25; stroke-width: 0.25"/>
    <path d="M 315.363491 103.980499 
L 337.302899 103.980499 
" clip-path="url(#pfbd8692891)" style="fill: none; stroke: #8c564b; stroke-opacity: 0.25; stroke-width: 0.25"/>
    <path d="M 313.664825 105.63705 
L 335.180454 105.63705 
" clip-path="url(#pfbd8692891)" style="fill: none; stroke: #8c564b; stroke-opacity: 0.25; stroke-width: 0.25"/>
    <path d="M 324.599793 96.067517 
L 343.814512 96.067517 
" clip-path="url(#pfbd8692891)" style="fill: none; stroke: #8c564b; stroke-opacity: 0.25; stroke-width: 0.25"/>
    <path d="M 321.314773 91.577182 
L 340.542784 91.577182 
" clip-path="url(#pfbd8692891)" style="fill: none; stroke: #8c564b; stroke-opacity: 0.25; stroke-width: 0.25"/>
    <path d="M 324.251119 90.974145 
L 345.482028 90.974145 
" clip-path="url(#pfbd8692891)" style="fill: none; stroke: #8c564b; stroke-opacity: 0.25; stroke-width: 0.25"/>
    <path d="M 313.109372 99.450828 
L 333.032898 99.450828 
" clip-path="url(#pfbd8692891)" style="fill: none; stroke: #8c564b; stroke-opacity: 0.25; stroke-width: 0.25"/>
    <path d="M 325.031155 94.75407 
L 344.668434 94.75407 
" clip-path="url(#pfbd8692891)" style="fill: none; stroke: #8c564b; stroke-opacity: 0.25; stroke-width: 0.25"/>
    <path d="M 323.551631 93.215805 
L 344.37877 93.215805 
" clip-path="url(#pfbd8692891)" style="fill: none; stroke: #8c564b; stroke-opacity: 0.25; stroke-width: 0.25"/>
    <path d="M 325.126027 91.96286 
L 342.87928 91.96286 
" clip-path="url(#pfbd8692891)" style="fill: none; stroke: #8c564b; stroke-opacity: 0.25; stroke-width: 0.25"/>
    <path d="M 335.508244 85.681411 
L 357.648797 85.681411 
" clip-path="url(#pfbd8692891)" style="fill: none; stroke: #8c564b; stroke-opacity: 0.25; stroke-width: 0.25"/>
    <path d="M 328.348028 95.87448 
L 349.371111 95.87448 
" clip-path="url(#pfbd8692891)" style="fill: none; stroke: #8c564b; stroke-opacity: 0.25; stroke-width: 0.25"/>
    <path d="M 299.889776 113.266122 
L 323.954242 113.266122 
" clip-path="url(#pfbd8692891)" style="fill: none; stroke: #8c564b; stroke-opacity: 0.25; stroke-width: 0.25"/>
    <path d="M 305.309455 104.240982 
L 327.819314 104.240982 
" clip-path="url(#pfbd8692891)" style="fill: none; stroke: #8c564b; stroke-opacity: 0.25; stroke-width: 0.25"/>
    <path d="M 300.836521 116.96225 
L 321.207353 116.96225 
" clip-path="url(#pfbd8692891)" style="fill: none; stroke: #8c564b; stroke-opacity: 0.25; stroke-width: 0.25"/>
    <path d="M 317.710447 98.199467 
L 339.422317 98.199467 
" clip-path="url(#pfbd8692891)" style="fill: none; stroke: #8c564b; stroke-opacity: 0.25; stroke-width: 0.25"/>
    <path d="M 302.191021 107.117079 
L 324.938368 107.117079 
" clip-path="url(#pfbd8692891)" style="fill: none; stroke: #8c564b; stroke-opacity: 0.25; stroke-width: 0.25"/>
    <path d="M 313.070399 99.388071 
L 336.928649 99.388071 
" clip-path="url(#pfbd8692891)" style="fill: none; stroke: #8c564b; stroke-opacity: 0.25; stroke-width: 0.25"/>
    <path d="M 332.453127 87.454117 
L 350.5042 87.454117 
" clip-path="url(#pfbd8692891)" style="fill: none; stroke: #8c564b; stroke-opacity: 0.25; stroke-width: 0.25"/>
    <path d="M 302.228046 113.845734 
L 326.812626 113.845734 
" clip-path="url(#pfbd8692891)" style="fill: none; stroke: #8c564b; stroke-opacity: 0.25; stroke-width: 0.25"/>
    <path d="M 304.982783 102.952423 
L 328.394668 102.952423 
" clip-path="url(#pfbd8692891)" style="fill: none; stroke: #8c564b; stroke-opacity: 0.25; stroke-width: 0.25"/>
    <path d="M 304.403474 105.175237 
L 329.133244 105.175237 
" clip-path="url(#pfbd8692891)" style="fill: none; stroke: #8c564b; stroke-opacity: 0.25; stroke-width: 0.25"/>
    <path d="M 314.894416 104.272681 
L 334.643108 104.272681 
" clip-path="url(#pfbd8692891)" style="fill: none; stroke: #8c564b; stroke-opacity: 0.25; stroke-width: 0.25"/>
    <path d="M 316.225558 99.236632 
L 337.542947 99.236632 
" clip-path="url(#pfbd8692891)" style="fill: none; stroke: #8c564b; stroke-opacity: 0.25; stroke-width: 0.25"/>
    <path d="M 317.90244 99.304647 
L 339.944163 99.304647 
" clip-path="url(#pfbd8692891)" style="fill: none; stroke: #8c564b; stroke-opacity: 0.25; stroke-width: 0.25"/>
    <path d="M 326.789566 91.476435 
L 347.623371 91.476435 
" clip-path="url(#pfbd8692891)" style="fill: none; stroke: #8c564b; stroke-opacity: 0.25; stroke-width: 0.25"/>
    <path d="M 295.998646 117.162969 
L 319.396431 117.162969 
" clip-path="url(#pfbd8692891)" style="fill: none; stroke: #8c564b; stroke-opacity: 0.25; stroke-width: 0.25"/>
    <path d="M 312.625001 102.955171 
L 332.572557 102.955171 
" clip-path="url(#pfbd8692891)" style="fill: none; stroke: #8c564b; stroke-opacity: 0.25; stroke-width: 0.25"/>
    <path d="M 306.452204 108.032908 
L 328.711239 108.032908 
" clip-path="url(#pfbd8692891)" style="fill: none; stroke: #8c564b; stroke-opacity: 0.25; stroke-width: 0.25"/>
    <path d="M 309.525254 114.142429 
L 326.167832 114.142429 
" clip-path="url(#pfbd8692891)" style="fill: none; stroke: #8c564b; stroke-opacity: 0.25; stroke-width: 0.25"/>
    <path d="M 313.427905 104.015064 
L 336.282677 104.015064 
" clip-path="url(#pfbd8692891)" style="fill: none; stroke: #8c564b; stroke-opacity: 0.25; stroke-width: 0.25"/>
    <path d="M 307.498253 113.388162 
L 324.064411 113.388162 
" clip-path="url(#pfbd8692891)" style="fill: none; stroke: #8c564b; stroke-opacity: 0.25; stroke-width: 0.25"/>
    <path d="M 322.365823 101.93668 
L 341.723736 101.93668 
" clip-path="url(#pfbd8692891)" style="fill: none; stroke: #8c564b; stroke-opacity: 0.25; stroke-width: 0.25"/>
    <path d="M 325.493825 99.325204 
L 348.217777 99.325204 
" clip-path="url(#pfbd8692891)" style="fill: none; stroke: #8c564b; stroke-opacity: 0.25; stroke-width: 0.25"/>
    <path d="M 309.463757 109.346586 
L 331.879664 109.346586 
" clip-path="url(#pfbd8692891)" style="fill: none; stroke: #8c564b; stroke-opacity: 0.25; stroke-width: 0.25"/>
    <path d="M 318.917405 101.049662 
L 337.864305 101.049662 
" clip-path="url(#pfbd8692891)" style="fill: none; stroke: #8c564b; stroke-opacity: 0.25; stroke-width: 0.25"/>
    <path d="M 326.513447 94.896841 
L 347.942171 94.896841 
" clip-path="url(#pfbd8692891)" style="fill: none; stroke: #8c564b; stroke-opacity: 0.25; stroke-width: 0.25"/>
    <path d="M 306.209993 110.336581 
L 328.125704 110.336581 
" clip-path="url(#pfbd8692891)" style="fill: none; stroke: #8c564b; stroke-opacity: 0.25; stroke-width: 0.25"/>
    <path d="M 326.128299 95.307454 
L 348.08989 95.307454 
" clip-path="url(#pfbd8692891)" style="fill: none; stroke: #8c564b; stroke-opacity: 0.25; stroke-width: 0.25"/>
    <path d="M 306.420683 115.29287 
L 327.290118 115.29287 
" clip-path="url(#pfbd8692891)" style="fill: none; stroke: #8c564b; stroke-opacity: 0.25; stroke-width: 0.25"/>
    <path d="M 329.038595 96.704292 
L 350.906463 96.704292 
" clip-path="url(#pfbd8692891)" style="fill: none; stroke: #8c564b; stroke-opacity: 0.25; stroke-width: 0.25"/>
    <path d="M 322.969567 99.985115 
L 345.641821 99.985115 
" clip-path="url(#pfbd8692891)" style="fill: none; stroke: #8c564b; stroke-opacity: 0.25; stroke-width: 0.25"/>
    <path d="M 332.364847 90.157727 
L 355.547111 90.157727 
" clip-path="url(#pfbd8692891)" style="fill: none; stroke: #8c564b; stroke-opacity: 0.25; stroke-width: 0.25"/>
    <path d="M 314.901022 104.669822 
L 338.12744 104.669822 
" clip-path="url(#pfbd8692891)" style="fill: none; stroke: #8c564b; stroke-opacity: 0.25; stroke-width: 0.25"/>
    <path d="M 314.240316 107.06492 
L 337.406261 107.06492 
" clip-path="url(#pfbd8692891)" style="fill: none; stroke: #8c564b; stroke-opacity: 0.25; stroke-width: 0.25"/>
    <path d="M 337.356797 89.370122 
L 351.957629 89.370122 
" clip-path="url(#pfbd8692891)" style="fill: none; stroke: #8c564b; stroke-opacity: 0.25; stroke-width: 0.25"/>
    <path d="M 298.462451 119.846503 
L 319.09114 119.846503 
" clip-path="url(#pfbd8692891)" style="fill: none; stroke: #8c564b; stroke-opacity: 0.25; stroke-width: 0.25"/>
    <path d="M 312.860377 104.778751 
L 337.137811 104.778751 
" clip-path="url(#pfbd8692891)" style="fill: none; stroke: #8c564b; stroke-opacity: 0.25; stroke-width: 0.25"/>
    <path d="M 302.330403 106.988816 
L 324.804743 106.988816 
" clip-path="url(#pfbd8692891)" style="fill: none; stroke: #8c564b; stroke-opacity: 0.25; stroke-width: 0.25"/>
    <path d="M 331.385892 90.986799 
L 353.068917 90.986799 
" clip-path="url(#pfbd8692891)" style="fill: none; stroke: #8c564b; stroke-opacity: 0.25; stroke-width: 0.25"/>
    <path d="M 305.842061 112.334523 
L 326.577725 112.334523 
" clip-path="url(#pfbd8692891)" style="fill: none; stroke: #8c564b; stroke-opacity: 0.25; stroke-width: 0.25"/>
    <path d="M 312.864308 105.351745 
L 333.357212 105.351745 
" clip-path="url(#pfbd8692891)" style="fill: none; stroke: #8c564b; stroke-opacity: 0.25; stroke-width: 0.25"/>
    <path d="M 303.760168 108.570868 
L 321.34552 108.570868 
" clip-path="url(#pfbd8692891)" style="fill: none; stroke: #8c564b; stroke-opacity: 0.25; stroke-width: 0.25"/>
    <path d="M 317.527249 103.487051 
L 337.178456 103.487051 
" clip-path="url(#pfbd8692891)" style="fill: none; stroke: #8c564b; stroke-opacity: 0.25; stroke-width: 0.25"/>
    <path d="M 321.82442 99.284431 
L 341.935072 99.284431 
" clip-path="url(#pfbd8692891)" style="fill: none; stroke: #8c564b; stroke-opacity: 0.25; stroke-width: 0.25"/>
    <path d="M 300.205224 109.577527 
L 324.44623 109.577527 
" clip-path="url(#pfbd8692891)" style="fill: none; stroke: #8c564b; stroke-opacity: 0.25; stroke-width: 0.25"/>
    <path d="M 321.821401 96.890901 
L 339.326051 96.890901 
" clip-path="url(#pfbd8692891)" style="fill: none; stroke: #8c564b; stroke-opacity: 0.25; stroke-width: 0.25"/>
    <path d="M 319.96645 102.43312 
L 342.978014 102.43312 
" clip-path="url(#pfbd8692891)" style="fill: none; stroke: #8c564b; stroke-opacity: 0.25; stroke-width: 0.25"/>
    <path d="M 326.833941 97.678584 
L 346.02901 97.678584 
" clip-path="url(#pfbd8692891)" style="fill: none; stroke: #8c564b; stroke-opacity: 0.25; stroke-width: 0.25"/>
    <path d="M 333.043602 88.223574 
L 355.924641 88.223574 
" clip-path="url(#pfbd8692891)" style="fill: none; stroke: #8c564b; stroke-opacity: 0.25; stroke-width: 0.25"/>
    <path d="M 338.790402 87.160639 
L 354.196092 87.160639 
" clip-path="url(#pfbd8692891)" style="fill: none; stroke: #8c564b; stroke-opacity: 0.25; stroke-width: 0.25"/>
    <path d="M 329.802631 94.129141 
L 350.063631 94.129141 
" clip-path="url(#pfbd8692891)" style="fill: none; stroke: #8c564b; stroke-opacity: 0.25; stroke-width: 0.25"/>
    <path d="M 333.647793 89.403871 
L 352.776741 89.403871 
" clip-path="url(#pfbd8692891)" style="fill: none; stroke: #8c564b; stroke-opacity: 0.25; stroke-width: 0.25"/>
    <path d="M 332.057154 89.462811 
L 354.042764 89.462811 
" clip-path="url(#pfbd8692891)" style="fill: none; stroke: #8c564b; stroke-opacity: 0.25; stroke-width: 0.25"/>
    <path d="M 315.881674 97.359162 
L 333.726877 97.359162 
" clip-path="url(#pfbd8692891)" style="fill: none; stroke: #8c564b; stroke-opacity: 0.25; stroke-width: 0.25"/>
    <path d="M 309.390664 105.006048 
L 331.037991 105.006048 
" clip-path="url(#pfbd8692891)" style="fill: none; stroke: #8c564b; stroke-opacity: 0.25; stroke-width: 0.25"/>
    <path d="M 316.981495 99.934197 
L 339.306803 99.934197 
" clip-path="url(#pfbd8692891)" style="fill: none; stroke: #8c564b; stroke-opacity: 0.25; stroke-width: 0.25"/>
    <path d="M 312.47148 112.641456 
L 330.374671 112.641456 
" clip-path="url(#pfbd8692891)" style="fill: none; stroke: #8c564b; stroke-opacity: 0.25; stroke-width: 0.25"/>
    <path d="M 315.097239 100.181153 
L 339.545335 100.181153 
" clip-path="url(#pfbd8692891)" style="fill: none; stroke: #8c564b; stroke-opacity: 0.25; stroke-width: 0.25"/>
    <path d="M 327.046357 91.897264 
L 347.855819 91.897264 
" clip-path="url(#pfbd8692891)" style="fill: none; stroke: #8c564b; stroke-opacity: 0.25; stroke-width: 0.25"/>
    <path d="M 342.635021 76.961001 
L 363.435466 76.961001 
" clip-path="url(#pfbd8692891)" style="fill: none; stroke: #8c564b; stroke-opacity: 0.25; stroke-width: 0.25"/>
    <path d="M 326.061853 96.320583 
L 348.078027 96.320583 
" clip-path="url(#pfbd8692891)" style="fill: none; stroke: #8c564b; stroke-opacity: 0.25; stroke-width: 0.25"/>
    <path d="M 308.51726 109.836576 
L 328.775686 109.836576 
" clip-path="url(#pfbd8692891)" style="fill: none; stroke: #8c564b; stroke-opacity: 0.25; stroke-width: 0.25"/>
    <path d="M 303.155905 110.235015 
L 323.778631 110.235015 
" clip-path="url(#pfbd8692891)" style="fill: none; stroke: #8c564b; stroke-opacity: 0.25; stroke-width: 0.25"/>
    <path d="M 329.652785 86.453547 
L 355.674671 86.453547 
" clip-path="url(#pfbd8692891)" style="fill: none; stroke: #8c564b; stroke-opacity: 0.25; stroke-width: 0.25"/>
    <path d="M 312.182252 106.982831 
L 335.301918 106.982831 
" clip-path="url(#pfbd8692891)" style="fill: none; stroke: #8c564b; stroke-opacity: 0.25; stroke-width: 0.25"/>
    <path d="M 328.273562 87.636352 
L 352.214391 87.636352 
" clip-path="url(#pfbd8692891)" style="fill: none; stroke: #8c564b; stroke-opacity: 0.25; stroke-width: 0.25"/>
    <path d="M 321.313004 97.161669 
L 341.740277 97.161669 
" clip-path="url(#pfbd8692891)" style="fill: none; stroke: #8c564b; stroke-opacity: 0.25; stroke-width: 0.25"/>
    <path d="M 300.168796 112.335634 
L 323.329404 112.335634 
" clip-path="url(#pfbd8692891)" style="fill: none; stroke: #8c564b; stroke-opacity: 0.25; stroke-width: 0.25"/>
    <path d="M 327.092083 92.349804 
L 345.445879 92.349804 
" clip-path="url(#pfbd8692891)" style="fill: none; stroke: #8c564b; stroke-opacity: 0.25; stroke-width: 0.25"/>
    <path d="M 309.705553 103.203489 
L 336.74467 103.203489 
" clip-path="url(#pfbd8692891)" style="fill: none; stroke: #8c564b; stroke-opacity: 0.25; stroke-width: 0.25"/>
    <path d="M 310.230631 109.148065 
L 333.124476 109.148065 
" clip-path="url(#pfbd8692891)" style="fill: none; stroke: #8c564b; stroke-opacity: 0.25; stroke-width: 0.25"/>
    <path d="M 296.656516 114.023518 
L 318.947057 114.023518 
" clip-path="url(#pfbd8692891)" style="fill: none; stroke: #8c564b; stroke-opacity: 0.25; stroke-width: 0.25"/>
    <path d="M 309.770244 104.521949 
L 330.00594 104.521949 
" clip-path="url(#pfbd8692891)" style="fill: none; stroke: #8c564b; stroke-opacity: 0.25; stroke-width: 0.25"/>
    <path d="M 315.495969 100.165185 
L 335.721872 100.165185 
" clip-path="url(#pfbd8692891)" style="fill: none; stroke: #8c564b; stroke-opacity: 0.25; stroke-width: 0.25"/>
    <path d="M 327.40964 94.132881 
L 352.96288 94.132881 
" clip-path="url(#pfbd8692891)" style="fill: none; stroke: #8c564b; stroke-opacity: 0.25; stroke-width: 0.25"/>
    <path d="M 331.706492 93.416678 
L 348.677932 93.416678 
" clip-path="url(#pfbd8692891)" style="fill: none; stroke: #8c564b; stroke-opacity: 0.25; stroke-width: 0.25"/>
    <path d="M 315.919362 99.866057 
L 336.213418 99.866057 
" clip-path="url(#pfbd8692891)" style="fill: none; stroke: #8c564b; stroke-opacity: 0.25; stroke-width: 0.25"/>
    <path d="M 302.82174 109.111709 
L 328.814505 109.111709 
" clip-path="url(#pfbd8692891)" style="fill: none; stroke: #8c564b; stroke-opacity: 0.25; stroke-width: 0.25"/>
    <path d="M 332.038753 91.850702 
L 351.618629 91.850702 
" clip-path="url(#pfbd8692891)" style="fill: none; stroke: #8c564b; stroke-opacity: 0.25; stroke-width: 0.25"/>
    <path d="M 329.406669 94.67555 
L 349.534357 94.67555 
" clip-path="url(#pfbd8692891)" style="fill: none; stroke: #8c564b; stroke-opacity: 0.25; stroke-width: 0.25"/>
    <path d="M 322.248073 101.432627 
L 344.007083 101.432627 
" clip-path="url(#pfbd8692891)" style="fill: none; stroke: #8c564b; stroke-opacity: 0.25; stroke-width: 0.25"/>
    <path d="M 317.40638 98.323889 
L 340.90688 98.323889 
" clip-path="url(#pfbd8692891)" style="fill: none; stroke: #8c564b; stroke-opacity: 0.25; stroke-width: 0.25"/>
    <path d="M 311.419064 101.198478 
L 333.019628 101.198478 
" clip-path="url(#pfbd8692891)" style="fill: none; stroke: #8c564b; stroke-opacity: 0.25; stroke-width: 0.25"/>
    <path d="M 306.29005 108.060581 
L 326.158714 108.060581 
" clip-path="url(#pfbd8692891)" style="fill: none; stroke: #8c564b; stroke-opacity: 0.25; stroke-width: 0.25"/>
    <path d="M 308.928709 106.164979 
L 329.089816 106.164979 
" clip-path="url(#pfbd8692891)" style="fill: none; stroke: #8c564b; stroke-opacity: 0.25; stroke-width: 0.25"/>
    <path d="M 307.041172 110.774658 
L 325.960284 110.774658 
" clip-path="url(#pfbd8692891)" style="fill: none; stroke: #8c564b; stroke-opacity: 0.25; stroke-width: 0.25"/>
    <path d="M 325.028375 95.03726 
L 345.483226 95.03726 
" clip-path="url(#pfbd8692891)" style="fill: none; stroke: #8c564b; stroke-opacity: 0.25; stroke-width: 0.25"/>
    <path d="M 312.082673 103.566127 
L 331.47238 103.566127 
" clip-path="url(#pfbd8692891)" style="fill: none; stroke: #8c564b; stroke-opacity: 0.25; stroke-width: 0.25"/>
    <path d="M 302.853732 110.067579 
L 326.733618 110.067579 
" clip-path="url(#pfbd8692891)" style="fill: none; stroke: #8c564b; stroke-opacity: 0.25; stroke-width: 0.25"/>
    <path d="M 306.345694 112.86317 
L 326.452597 112.86317 
" clip-path="url(#pfbd8692891)" style="fill: none; stroke: #8c564b; stroke-opacity: 0.25; stroke-width: 0.25"/>
    <path d="M 322.652292 95.006375 
L 345.461871 95.006375 
" clip-path="url(#pfbd8692891)" style="fill: none; stroke: #8c564b; stroke-opacity: 0.25; stroke-width: 0.25"/>
    <path d="M 315.644392 109.059362 
L 333.101796 109.059362 
" clip-path="url(#pfbd8692891)" style="fill: none; stroke: #8c564b; stroke-opacity: 0.25; stroke-width: 0.25"/>
    <path d="M 317.895318 97.082337 
L 335.265176 97.082337 
" clip-path="url(#pfbd8692891)" style="fill: none; stroke: #8c564b; stroke-opacity: 0.25; stroke-width: 0.25"/>
    <path d="M 312.781317 106.664054 
L 332.662393 106.664054 
" clip-path="url(#pfbd8692891)" style="fill: none; stroke: #8c564b; stroke-opacity: 0.25; stroke-width: 0.25"/>
    <path d="M 310.637098 104.71223 
L 332.830975 104.71223 
" clip-path="url(#pfbd8692891)" style="fill: none; stroke: #8c564b; stroke-opacity: 0.25; stroke-width: 0.25"/>
    <path d="M 320.681297 99.185057 
L 344.542633 99.185057 
" clip-path="url(#pfbd8692891)" style="fill: none; stroke: #8c564b; stroke-opacity: 0.25; stroke-width: 0.25"/>
    <path d="M 326.992059 88.503774 
L 350.373178 88.503774 
" clip-path="url(#pfbd8692891)" style="fill: none; stroke: #8c564b; stroke-opacity: 0.25; stroke-width: 0.25"/>
    <path d="M 311.909744 99.292759 
L 329.918533 99.292759 
" clip-path="url(#pfbd8692891)" style="fill: none; stroke: #8c564b; stroke-opacity: 0.25; stroke-width: 0.25"/>
    <path d="M 332.270306 89.307355 
L 353.489414 89.307355 
" clip-path="url(#pfbd8692891)" style="fill: none; stroke: #8c564b; stroke-opacity: 0.25; stroke-width: 0.25"/>
    <path d="M 303.756644 114.497439 
L 323.511301 114.497439 
" clip-path="url(#pfbd8692891)" style="fill: none; stroke: #8c564b; stroke-opacity: 0.25; stroke-width: 0.25"/>
    <path d="M 315.605592 101.762129 
L 336.254419 101.762129 
" clip-path="url(#pfbd8692891)" style="fill: none; stroke: #8c564b; stroke-opacity: 0.25; stroke-width: 0.25"/>
    <path d="M 316.663908 101.488476 
L 335.902305 101.488476 
" clip-path="url(#pfbd8692891)" style="fill: none; stroke: #8c564b; stroke-opacity: 0.25; stroke-width: 0.25"/>
    <path d="M 301.311295 114.032847 
L 323.700235 114.032847 
" clip-path="url(#pfbd8692891)" style="fill: none; stroke: #8c564b; stroke-opacity: 0.25; stroke-width: 0.25"/>
    <path d="M 333.770873 83.912649 
L 356.921022 83.912649 
" clip-path="url(#pfbd8692891)" style="fill: none; stroke: #8c564b; stroke-opacity: 0.25; stroke-width: 0.25"/>
    <path d="M 310.910972 103.960925 
L 333.57236 103.960925 
" clip-path="url(#pfbd8692891)" style="fill: none; stroke: #8c564b; stroke-opacity: 0.25; stroke-width: 0.25"/>
    <path d="M 306.306562 109.736054 
L 327.788477 109.736054 
" clip-path="url(#pfbd8692891)" style="fill: none; stroke: #8c564b; stroke-opacity: 0.25; stroke-width: 0.25"/>
    <path d="M 334.152213 87.44923 
L 356.125789 87.44923 
" clip-path="url(#pfbd8692891)" style="fill: none; stroke: #8c564b; stroke-opacity: 0.25; stroke-width: 0.25"/>
    <path d="M 316.118746 104.124812 
L 339.05027 104.124812 
" clip-path="url(#pfbd8692891)" style="fill: none; stroke: #8c564b; stroke-opacity: 0.25; stroke-width: 0.25"/>
    <path d="M 309.320839 107.847122 
L 332.14291 107.847122 
" clip-path="url(#pfbd8692891)" style="fill: none; stroke: #8c564b; stroke-opacity: 0.25; stroke-width: 0.25"/>
    <path d="M 317.264387 98.247442 
L 339.533826 98.247442 
" clip-path="url(#pfbd8692891)" style="fill: none; stroke: #8c564b; stroke-opacity: 0.25; stroke-width: 0.25"/>
    <path d="M 323.660925 95.670255 
L 348.015825 95.670255 
" clip-path="url(#pfbd8692891)" style="fill: none; stroke: #8c564b; stroke-opacity: 0.25; stroke-width: 0.25"/>
    <path d="M 298.699719 108.50647 
L 324.83672 108.50647 
" clip-path="url(#pfbd8692891)" style="fill: none; stroke: #8c564b; stroke-opacity: 0.25; stroke-width: 0.25"/>
    <path d="M 321.369499 101.747487 
L 341.643372 101.747487 
" clip-path="url(#pfbd8692891)" style="fill: none; stroke: #8c564b; stroke-opacity: 0.25; stroke-width: 0.25"/>
    <path d="M 317.584952 96.728756 
L 338.871812 96.728756 
" clip-path="url(#pfbd8692891)" style="fill: none; stroke: #8c564b; stroke-opacity: 0.25; stroke-width: 0.25"/>
    <path d="M 307.44191 110.046931 
L 326.717678 110.046931 
" clip-path="url(#pfbd8692891)" style="fill: none; stroke: #8c564b; stroke-opacity: 0.25; stroke-width: 0.25"/>
    <path d="M 332.12278 92.260796 
L 354.162203 92.260796 
" clip-path="url(#pfbd8692891)" style="fill: none; stroke: #8c564b; stroke-opacity: 0.25; stroke-width: 0.25"/>
    <path d="M 307.593221 107.433329 
L 325.964308 107.433329 
" clip-path="url(#pfbd8692891)" style="fill: none; stroke: #8c564b; stroke-opacity: 0.25; stroke-width: 0.25"/>
    <path d="M 312.18287 110.073101 
L 330.710881 110.073101 
" clip-path="url(#pfbd8692891)" style="fill: none; stroke: #8c564b; stroke-opacity: 0.25; stroke-width: 0.25"/>
    <path d="M 327.574695 92.842335 
L 346.222621 92.842335 
" clip-path="url(#pfbd8692891)" style="fill: none; stroke: #8c564b; stroke-opacity: 0.25; stroke-width: 0.25"/>
    <path d="M 308.352656 110.156223 
L 327.877347 110.156223 
" clip-path="url(#pfbd8692891)" style="fill: none; stroke: #8c564b; stroke-opacity: 0.25; stroke-width: 0.25"/>
    <path d="M 320.703581 97.948464 
L 338.775799 97.948464 
" clip-path="url(#pfbd8692891)" style="fill: none; stroke: #8c564b; stroke-opacity: 0.25; stroke-width: 0.25"/>
    <path d="M 306.757339 109.332221 
L 326.469305 109.332221 
" clip-path="url(#pfbd8692891)" style="fill: none; stroke: #8c564b; stroke-opacity: 0.25; stroke-width: 0.25"/>
    <path d="M 300.99191 112.194643 
L 322.136414 112.194643 
" clip-path="url(#pfbd8692891)" style="fill: none; stroke: #8c564b; stroke-opacity: 0.25; stroke-width: 0.25"/>
    <path d="M 311.805625 108.135603 
L 332.58137 108.135603 
" clip-path="url(#pfbd8692891)" style="fill: none; stroke: #8c564b; stroke-opacity: 0.25; stroke-width: 0.25"/>
    <path d="M 335.185623 86.124017 
L 359.135583 86.124017 
" clip-path="url(#pfbd8692891)" style="fill: none; stroke: #8c564b; stroke-opacity: 0.25; stroke-width: 0.25"/>
    <path d="M 326.432718 100.59069 
L 349.318916 100.59069 
" clip-path="url(#pfbd8692891)" style="fill: none; stroke: #8c564b; stroke-opacity: 0.25; stroke-width: 0.25"/>
    <path d="M 330.89703 88.341922 
L 349.58241 88.341922 
" clip-path="url(#pfbd8692891)" style="fill: none; stroke: #8c564b; stroke-opacity: 0.25; stroke-width: 0.25"/>
    <path d="M 313.663892 103.417513 
L 332.595947 103.417513 
" clip-path="url(#pfbd8692891)" style="fill: none; stroke: #8c564b; stroke-opacity: 0.25; stroke-width: 0.25"/>
    <path d="M 312.330048 106.788762 
L 330.597176 106.788762 
" clip-path="url(#pfbd8692891)" style="fill: none; stroke: #8c564b; stroke-opacity: 0.25; stroke-width: 0.25"/>
    <path d="M 316.480726 98.729583 
L 342.259451 98.729583 
" clip-path="url(#pfbd8692891)" style="fill: none; stroke: #8c564b; stroke-opacity: 0.25; stroke-width: 0.25"/>
    <path d="M 314.762828 109.640464 
L 337.084517 109.640464 
" clip-path="url(#pfbd8692891)" style="fill: none; stroke: #8c564b; stroke-opacity: 0.25; stroke-width: 0.25"/>
    <path d="M 323.047159 96.170465 
L 343.595505 96.170465 
" clip-path="url(#pfbd8692891)" style="fill: none; stroke: #8c564b; stroke-opacity: 0.25; stroke-width: 0.25"/>
    <path d="M 300.080175 103.316993 
L 323.899762 103.316993 
" clip-path="url(#pfbd8692891)" style="fill: none; stroke: #8c564b; stroke-opacity: 0.25; stroke-width: 0.25"/>
    <path d="M 306.932156 106.342134 
L 335.394715 106.342134 
" clip-path="url(#pfbd8692891)" style="fill: none; stroke: #8c564b; stroke-opacity: 0.25; stroke-width: 0.25"/>
    <path d="M 316.857338 100.901927 
L 339.786582 100.901927 
" clip-path="url(#pfbd8692891)" style="fill: none; stroke: #8c564b; stroke-opacity: 0.25; stroke-width: 0.25"/>
    <path d="M 319.367594 99.427878 
L 339.63442 99.427878 
" clip-path="url(#pfbd8692891)" style="fill: none; stroke: #8c564b; stroke-opacity: 0.25; stroke-width: 0.25"/>
    <path d="M 301.430991 111.443645 
L 321.287496 111.443645 
" clip-path="url(#pfbd8692891)" style="fill: none; stroke: #8c564b; stroke-opacity: 0.25; stroke-width: 0.25"/>
    <path d="M 307.357312 105.633384 
L 327.947727 105.633384 
" clip-path="url(#pfbd8692891)" style="fill: none; stroke: #8c564b; stroke-opacity: 0.25; stroke-width: 0.25"/>
    <path d="M 328.191017 89.909612 
L 350.659316 89.909612 
" clip-path="url(#pfbd8692891)" style="fill: none; stroke: #8c564b; stroke-opacity: 0.25; stroke-width: 0.25"/>
    <path d="M 319.671829 100.775537 
L 340.930742 100.775537 
" clip-path="url(#pfbd8692891)" style="fill: none; stroke: #8c564b; stroke-opacity: 0.25; stroke-width: 0.25"/>
    <path d="M 309.433519 103.708417 
L 332.659946 103.708417 
" clip-path="url(#pfbd8692891)" style="fill: none; stroke: #8c564b; stroke-opacity: 0.25; stroke-width: 0.25"/>
    <path d="M 330.330629 87.594693 
L 351.312319 87.594693 
" clip-path="url(#pfbd8692891)" style="fill: none; stroke: #8c564b; stroke-opacity: 0.25; stroke-width: 0.25"/>
    <path d="M 313.909444 101.367244 
L 333.360309 101.367244 
" clip-path="url(#pfbd8692891)" style="fill: none; stroke: #8c564b; stroke-opacity: 0.25; stroke-width: 0.25"/>
    <path d="M 297.106154 117.492337 
L 320.429859 117.492337 
" clip-path="url(#pfbd8692891)" style="fill: none; stroke: #8c564b; stroke-opacity: 0.25; stroke-width: 0.25"/>
    <path d="M 310.560085 114.080238 
L 329.711323 114.080238 
" clip-path="url(#pfbd8692891)" style="fill: none; stroke: #8c564b; stroke-opacity: 0.25; stroke-width: 0.25"/>
    <path d="M 304.225893 109.084143 
L 327.936053 109.084143 
" clip-path="url(#pfbd8692891)" style="fill: none; stroke: #8c564b; stroke-opacity: 0.25; stroke-width: 0.25"/>
    <path d="M 301.163514 109.216511 
L 320.678756 109.216511 
" clip-path="url(#pfbd8692891)" style="fill: none; stroke: #8c564b; stroke-opacity: 0.25; stroke-width: 0.25"/>
    <path d="M 332.830776 84.479774 
L 355.34971 84.479774 
" clip-path="url(#pfbd8692891)" style="fill: none; stroke: #8c564b; stroke-opacity: 0.25; stroke-width: 0.25"/>
    <path d="M 294.780496 112.263494 
L 320.633204 112.263494 
" clip-path="url(#pfbd8692891)" style="fill: none; stroke: #8c564b; stroke-opacity: 0.25; stroke-width: 0.25"/>
    <path d="M 324.724309 98.1078 
L 344.390224 98.1078 
" clip-path="url(#pfbd8692891)" style="fill: none; stroke: #8c564b; stroke-opacity: 0.25; stroke-width: 0.25"/>
    <path d="M 318.784424 99.485388 
L 339.424335 99.485388 
" clip-path="url(#pfbd8692891)" style="fill: none; stroke: #8c564b; stroke-opacity: 0.25; stroke-width: 0.25"/>
    <path d="M 319.757507 103.443987 
L 341.761191 103.443987 
" clip-path="url(#pfbd8692891)" style="fill: none; stroke: #8c564b; stroke-opacity: 0.25; stroke-width: 0.25"/>
    <path d="M 309.340461 105.842118 
L 329.562609 105.842118 
" clip-path="url(#pfbd8692891)" style="fill: none; stroke: #8c564b; stroke-opacity: 0.25; stroke-width: 0.25"/>
    <path d="M 328.605259 92.190459 
L 347.732564 92.190459 
" clip-path="url(#pfbd8692891)" style="fill: none; stroke: #8c564b; stroke-opacity: 0.25; stroke-width: 0.25"/>
    <path d="M 341.170308 83.774489 
L 361.63961 83.774489 
" clip-path="url(#pfbd8692891)" style="fill: none; stroke: #8c564b; stroke-opacity: 0.25; stroke-width: 0.25"/>
    <path d="M 324.456868 92.631862 
L 344.685112 92.631862 
" clip-path="url(#pfbd8692891)" style="fill: none; stroke: #8c564b; stroke-opacity: 0.25; stroke-width: 0.25"/>
    <path d="M 308.732529 107.84166 
L 333.360973 107.84166 
" clip-path="url(#pfbd8692891)" style="fill: none; stroke: #8c564b; stroke-opacity: 0.25; stroke-width: 0.25"/>
    <path d="M 328.131139 92.722096 
L 349.710384 92.722096 
" clip-path="url(#pfbd8692891)" style="fill: none; stroke: #8c564b; stroke-opacity: 0.25; stroke-width: 0.25"/>
    <path d="M 339.621431 85.777346 
L 357.802673 85.777346 
" clip-path="url(#pfbd8692891)" style="fill: none; stroke: #8c564b; stroke-opacity: 0.25; stroke-width: 0.25"/>
    <path d="M 317.948959 100.725705 
L 336.428624 100.725705 
" clip-path="url(#pfbd8692891)" style="fill: none; stroke: #8c564b; stroke-opacity: 0.25; stroke-width: 0.25"/>
    <path d="M 310.301901 102.422967 
L 327.061167 102.422967 
" clip-path="url(#pfbd8692891)" style="fill: none; stroke: #8c564b; stroke-opacity: 0.25; stroke-width: 0.25"/>
    <path d="M 300.093467 111.289827 
L 323.05021 111.289827 
" clip-path="url(#pfbd8692891)" style="fill: none; stroke: #8c564b; stroke-opacity: 0.25; stroke-width: 0.25"/>
    <path d="M 314.130805 104.48246 
L 335.206542 104.48246 
" clip-path="url(#pfbd8692891)" style="fill: none; stroke: #8c564b; stroke-opacity: 0.25; stroke-width: 0.25"/>
    <path d="M 315.894312 99.558902 
L 338.138136 99.558902 
" clip-path="url(#pfbd8692891)" style="fill: none; stroke: #8c564b; stroke-opacity: 0.25; stroke-width: 0.25"/>
    <path d="M 312.535913 100.722092 
L 337.685024 100.722092 
" clip-path="url(#pfbd8692891)" style="fill: none; stroke: #8c564b; stroke-opacity: 0.25; stroke-width: 0.25"/>
    <path d="M 328.32032 91.591854 
L 345.291292 91.591854 
" clip-path="url(#pfbd8692891)" style="fill: none; stroke: #8c564b; stroke-opacity: 0.25; stroke-width: 0.25"/>
    <path d="M 333.780877 82.842533 
L 356.013492 82.842533 
" clip-path="url(#pfbd8692891)" style="fill: none; stroke: #8c564b; stroke-opacity: 0.25; stroke-width: 0.25"/>
    <path d="M 308.033064 111.150354 
L 327.574603 111.150354 
" clip-path="url(#pfbd8692891)" style="fill: none; stroke: #8c564b; stroke-opacity: 0.25; stroke-width: 0.25"/>
    <path d="M 303.014405 114.777133 
L 322.42555 114.777133 
" clip-path="url(#pfbd8692891)" style="fill: none; stroke: #8c564b; stroke-opacity: 0.25; stroke-width: 0.25"/>
    <path d="M 308.29328 106.365998 
L 332.2094 106.365998 
" clip-path="url(#pfbd8692891)" style="fill: none; stroke: #8c564b; stroke-opacity: 0.25; stroke-width: 0.25"/>
    <path d="M 314.040194 95.899909 
L 334.367515 95.899909 
" clip-path="url(#pfbd8692891)" style="fill: none; stroke: #8c564b; stroke-opacity: 0.25; stroke-width: 0.25"/>
    <path d="M 302.235677 111.773844 
L 327.381826 111.773844 
" clip-path="url(#pfbd8692891)" style="fill: none; stroke: #8c564b; stroke-opacity: 0.25; stroke-width: 0.25"/>
    <path d="M 299.278478 109.029948 
L 321.903916 109.029948 
" clip-path="url(#pfbd8692891)" style="fill: none; stroke: #8c564b; stroke-opacity: 0.25; stroke-width: 0.25"/>
    <path d="M 313.657518 97.033977 
L 335.659647 97.033977 
" clip-path="url(#pfbd8692891)" style="fill: none; stroke: #8c564b; stroke-opacity: 0.25; stroke-width: 0.25"/>
    <path d="M 309.260886 108.45808 
L 325.685178 108.45808 
" clip-path="url(#pfbd8692891)" style="fill: none; stroke: #8c564b; stroke-opacity: 0.25; stroke-width: 0.25"/>
    <path d="M 328.616649 91.319211 
L 347.943219 91.319211 
" clip-path="url(#pfbd8692891)" style="fill: none; stroke: #8c564b; stroke-opacity: 0.25; stroke-width: 0.25"/>
    <path d="M 303.983048 103.75052 
L 327.729498 103.75052 
" clip-path="url(#pfbd8692891)" style="fill: none; stroke: #8c564b; stroke-opacity: 0.25; stroke-width: 0.25"/>
    <path d="M 324.636882 92.39133 
L 346.800152 92.39133 
" clip-path="url(#pfbd8692891)" style="fill: none; stroke: #8c564b; stroke-opacity: 0.25; stroke-width: 0.25"/>
    <path d="M 302.456177 114.629956 
L 327.438182 114.629956 
" clip-path="url(#pfbd8692891)" style="fill: none; stroke: #8c564b; stroke-opacity: 0.25; stroke-width: 0.25"/>
    <path d="M 312.590139 102.894383 
L 334.474984 102.894383 
" clip-path="url(#pfbd8692891)" style="fill: none; stroke: #8c564b; stroke-opacity: 0.25; stroke-width: 0.25"/>
    <path d="M 323.014517 96.447405 
L 344.89475 96.447405 
" clip-path="url(#pfbd8692891)" style="fill: none; stroke: #8c564b; stroke-opacity: 0.25; stroke-width: 0.25"/>
    <path d="M 315.316173 103.402721 
L 336.582133 103.402721 
" clip-path="url(#pfbd8692891)" style="fill: none; stroke: #8c564b; stroke-opacity: 0.25; stroke-width: 0.25"/>
    <path d="M 311.977845 101.539064 
L 337.890843 101.539064 
" clip-path="url(#pfbd8692891)" style="fill: none; stroke: #8c564b; stroke-opacity: 0.25; stroke-width: 0.25"/>
    <path d="M 324.454905 95.823484 
L 348.018039 95.823484 
" clip-path="url(#pfbd8692891)" style="fill: none; stroke: #8c564b; stroke-opacity: 0.25; stroke-width: 0.25"/>
    <path d="M 310.007393 105.927102 
L 333.994788 105.927102 
" clip-path="url(#pfbd8692891)" style="fill: none; stroke: #8c564b; stroke-opacity: 0.25; stroke-width: 0.25"/>
    <path d="M 314.647081 105.029908 
L 334.290289 105.029908 
" clip-path="url(#pfbd8692891)" style="fill: none; stroke: #8c564b; stroke-opacity: 0.25; stroke-width: 0.25"/>
    <path d="M 336.840418 81.50598 
L 356.982499 81.50598 
" clip-path="url(#pfbd8692891)" style="fill: none; stroke: #8c564b; stroke-opacity: 0.25; stroke-width: 0.25"/>
    <path d="M 310.776914 106.484134 
L 332.333407 106.484134 
" clip-path="url(#pfbd8692891)" style="fill: none; stroke: #8c564b; stroke-opacity: 0.25; stroke-width: 0.25"/>
    <path d="M 325.829945 95.769959 
L 348.427431 95.769959 
" clip-path="url(#pfbd8692891)" style="fill: none; stroke: #8c564b; stroke-opacity: 0.25; stroke-width: 0.25"/>
    <path d="M 300.934848 115.018841 
L 322.071792 115.018841 
" clip-path="url(#pfbd8692891)" style="fill: none; stroke: #8c564b; stroke-opacity: 0.25; stroke-width: 0.25"/>
    <path d="M 333.39828 87.644726 
L 357.310842 87.644726 
" clip-path="url(#pfbd8692891)" style="fill: none; stroke: #8c564b; stroke-opacity: 0.25; stroke-width: 0.25"/>
    <path d="M 326.46685 87.690482 
L 346.767948 87.690482 
" clip-path="url(#pfbd8692891)" style="fill: none; stroke: #8c564b; stroke-opacity: 0.25; stroke-width: 0.25"/>
    <path d="M 323.60044 90.413924 
L 346.110605 90.413924 
" clip-path="url(#pfbd8692891)" style="fill: none; stroke: #8c564b; stroke-opacity: 0.25; stroke-width: 0.25"/>
    <path d="M 303.535194 111.250242 
L 322.711193 111.250242 
" clip-path="url(#pfbd8692891)" style="fill: none; stroke: #8c564b; stroke-opacity: 0.25; stroke-width: 0.25"/>
    <path d="M 319.816944 100.198906 
L 343.88013 100.198906 
" clip-path="url(#pfbd8692891)" style="fill: none; stroke: #8c564b; stroke-opacity: 0.25; stroke-width: 0.25"/>
    <path d="M 307.432475 104.662568 
L 334.220027 104.662568 
" clip-path="url(#pfbd8692891)" style="fill: none; stroke: #8c564b; stroke-opacity: 0.25; stroke-width: 0.25"/>
    <path d="M 314.102898 105.824031 
L 334.12958 105.824031 
" clip-path="url(#pfbd8692891)" style="fill: none; stroke: #8c564b; stroke-opacity: 0.25; stroke-width: 0.25"/>
    <path d="M 320.841003 98.965884 
L 339.521274 98.965884 
" clip-path="url(#pfbd8692891)" style="fill: none; stroke: #8c564b; stroke-opacity: 0.25; stroke-width: 0.25"/>
    <path d="M 312.277788 105.448591 
L 336.120399 105.448591 
" clip-path="url(#pfbd8692891)" style="fill: none; stroke: #8c564b; stroke-opacity: 0.25; stroke-width: 0.25"/>
    <path d="M 311.120868 108.545057 
L 336.853636 108.545057 
" clip-path="url(#pfbd8692891)" style="fill: none; stroke: #8c564b; stroke-opacity: 0.25; stroke-width: 0.25"/>
    <path d="M 335.149379 89.198943 
L 357.104202 89.198943 
" clip-path="url(#pfbd8692891)" style="fill: none; stroke: #8c564b; stroke-opacity: 0.25; stroke-width: 0.25"/>
    <path d="M 308.617174 106.281591 
L 328.129105 106.281591 
" clip-path="url(#pfbd8692891)" style="fill: none; stroke: #8c564b; stroke-opacity: 0.25; stroke-width: 0.25"/>
    <path d="M 317.935163 101.807029 
L 338.456252 101.807029 
" clip-path="url(#pfbd8692891)" style="fill: none; stroke: #8c564b; stroke-opacity: 0.25; stroke-width: 0.25"/>
    <path d="M 320.828079 98.342817 
L 339.955793 98.342817 
" clip-path="url(#pfbd8692891)" style="fill: none; stroke: #8c564b; stroke-opacity: 0.25; stroke-width: 0.25"/>
    <path d="M 316.269759 101.393223 
L 337.700462 101.393223 
" clip-path="url(#pfbd8692891)" style="fill: none; stroke: #8c564b; stroke-opacity: 0.25; stroke-width: 0.25"/>
    <path d="M 332.280535 90.729085 
L 350.354221 90.729085 
" clip-path="url(#pfbd8692891)" style="fill: none; stroke: #8c564b; stroke-opacity: 0.25; stroke-width: 0.25"/>
    <path d="M 311.09036 105.269518 
L 331.038078 105.269518 
" clip-path="url(#pfbd8692891)" style="fill: none; stroke: #8c564b; stroke-opacity: 0.25; stroke-width: 0.25"/>
    <path d="M 322.446302 101.642946 
L 344.26593 101.642946 
" clip-path="url(#pfbd8692891)" style="fill: none; stroke: #8c564b; stroke-opacity: 0.25; stroke-width: 0.25"/>
    <path d="M 314.205498 109.818735 
L 330.887732 109.818735 
" clip-path="url(#pfbd8692891)" style="fill: none; stroke: #8c564b; stroke-opacity: 0.25; stroke-width: 0.25"/>
    <path d="M 316.407902 100.221985 
L 338.63023 100.221985 
" clip-path="url(#pfbd8692891)" style="fill: none; stroke: #8c564b; stroke-opacity: 0.25; stroke-width: 0.25"/>
    <path d="M 294.250083 113.293397 
L 319.88101 113.293397 
" clip-path="url(#pfbd8692891)" style="fill: none; stroke: #8c564b; stroke-opacity: 0.25; stroke-width: 0.25"/>
    <path d="M 304.301385 108.914301 
L 329.67292 108.914301 
" clip-path="url(#pfbd8692891)" style="fill: none; stroke: #8c564b; stroke-opacity: 0.25; stroke-width: 0.25"/>
    <path d="M 316.432468 100.18508 
L 339.366139 100.18508 
" clip-path="url(#pfbd8692891)" style="fill: none; stroke: #8c564b; stroke-opacity: 0.25; stroke-width: 0.25"/>
    <path d="M 309.508223 104.399011 
L 331.461554 104.399011 
" clip-path="url(#pfbd8692891)" style="fill: none; stroke: #8c564b; stroke-opacity: 0.25; stroke-width: 0.25"/>
    <path d="M 326.516432 89.807579 
L 349.332691 89.807579 
" clip-path="url(#pfbd8692891)" style="fill: none; stroke: #8c564b; stroke-opacity: 0.25; stroke-width: 0.25"/>
    <path d="M 321.538551 98.683288 
L 341.464362 98.683288 
" clip-path="url(#pfbd8692891)" style="fill: none; stroke: #8c564b; stroke-opacity: 0.25; stroke-width: 0.25"/>
    <path d="M 333.76956 85.897127 
L 354.753987 85.897127 
" clip-path="url(#pfbd8692891)" style="fill: none; stroke: #8c564b; stroke-opacity: 0.25; stroke-width: 0.25"/>
    <path d="M 311.082907 101.410126 
L 332.355593 101.410126 
" clip-path="url(#pfbd8692891)" style="fill: none; stroke: #8c564b; stroke-opacity: 0.25; stroke-width: 0.25"/>
    <path d="M 302.188903 105.20147 
L 322.10612 105.20147 
" clip-path="url(#pfbd8692891)" style="fill: none; stroke: #8c564b; stroke-opacity: 0.25; stroke-width: 0.25"/>
    <path d="M 317.522558 98.065626 
L 336.699621 98.065626 
" clip-path="url(#pfbd8692891)" style="fill: none; stroke: #8c564b; stroke-opacity: 0.25; stroke-width: 0.25"/>
    <path d="M 308.422917 103.550228 
L 328.429415 103.550228 
" clip-path="url(#pfbd8692891)" style="fill: none; stroke: #8c564b; stroke-opacity: 0.25; stroke-width: 0.25"/>
    <path d="M 300.561021 104.813187 
L 322.141142 104.813187 
" clip-path="url(#pfbd8692891)" style="fill: none; stroke: #8c564b; stroke-opacity: 0.25; stroke-width: 0.25"/>
    <path d="M 316.866093 100.511364 
L 338.104697 100.511364 
" clip-path="url(#pfbd8692891)" style="fill: none; stroke: #8c564b; stroke-opacity: 0.25; stroke-width: 0.25"/>
    <path d="M 328.146374 94.803751 
L 347.650788 94.803751 
" clip-path="url(#pfbd8692891)" style="fill: none; stroke: #8c564b; stroke-opacity: 0.25; stroke-width: 0.25"/>
    <path d="M 305.937303 108.367654 
L 325.511201 108.367654 
" clip-path="url(#pfbd8692891)" style="fill: none; stroke: #8c564b; stroke-opacity: 0.25; stroke-width: 0.25"/>
    <path d="M 316.179147 95.126489 
L 336.47979 95.126489 
" clip-path="url(#pfbd8692891)" style="fill: none; stroke: #8c564b; stroke-opacity: 0.25; stroke-width: 0.25"/>
    <path d="M 311.520417 104.39875 
L 331.789476 104.39875 
" clip-path="url(#pfbd8692891)" style="fill: none; stroke: #8c564b; stroke-opacity: 0.25; stroke-width: 0.25"/>
    <path d="M 311.830298 103.242821 
L 332.852246 103.242821 
" clip-path="url(#pfbd8692891)" style="fill: none; stroke: #8c564b; stroke-opacity: 0.25; stroke-width: 0.25"/>
    <path d="M 315.503999 100.865768 
L 340.799539 100.865768 
" clip-path="url(#pfbd8692891)" style="fill: none; stroke: #8c564b; stroke-opacity: 0.25; stroke-width: 0.25"/>
    <path d="M 319.674191 99.398893 
L 341.482747 99.398893 
" clip-path="url(#pfbd8692891)" style="fill: none; stroke: #8c564b; stroke-opacity: 0.25; stroke-width: 0.25"/>
    <path d="M 326.761364 97.509583 
L 343.948111 97.509583 
" clip-path="url(#pfbd8692891)" style="fill: none; stroke: #8c564b; stroke-opacity: 0.25; stroke-width: 0.25"/>
    <path d="M 337.828947 84.480502 
L 356.363013 84.480502 
" clip-path="url(#pfbd8692891)" style="fill: none; stroke: #8c564b; stroke-opacity: 0.25; stroke-width: 0.25"/>
    <path d="M 314.603158 102.26166 
L 337.971526 102.26166 
" clip-path="url(#pfbd8692891)" style="fill: none; stroke: #8c564b; stroke-opacity: 0.25; stroke-width: 0.25"/>
    <path d="M 319.25425 97.226393 
L 341.905088 97.226393 
" clip-path="url(#pfbd8692891)" style="fill: none; stroke: #8c564b; stroke-opacity: 0.25; stroke-width: 0.25"/>
    <path d="M 328.549849 92.132838 
L 352.817146 92.132838 
" clip-path="url(#pfbd8692891)" style="fill: none; stroke: #8c564b; stroke-opacity: 0.25; stroke-width: 0.25"/>
    <path d="M 311.684488 106.975806 
L 332.903799 106.975806 
" clip-path="url(#pfbd8692891)" style="fill: none; stroke: #8c564b; stroke-opacity: 0.25; stroke-width: 0.25"/>
    <path d="M 314.018246 99.3663 
L 339.583721 99.3663 
" clip-path="url(#pfbd8692891)" style="fill: none; stroke: #8c564b; stroke-opacity: 0.25; stroke-width: 0.25"/>
    <path d="M 307.9594 108.855153 
L 328.891115 108.855153 
" clip-path="url(#pfbd8692891)" style="fill: none; stroke: #8c564b; stroke-opacity: 0.25; stroke-width: 0.25"/>
    <path d="M 309.00864 106.519279 
L 330.042895 106.519279 
" clip-path="url(#pfbd8692891)" style="fill: none; stroke: #8c564b; stroke-opacity: 0.25; stroke-width: 0.25"/>
    <path d="M 309.471198 107.527888 
L 324.384264 107.527888 
" clip-path="url(#pfbd8692891)" style="fill: none; stroke: #8c564b; stroke-opacity: 0.25; stroke-width: 0.25"/>
    <path d="M 309.631453 114.12499 
L 331.843515 114.12499 
" clip-path="url(#pfbd8692891)" style="fill: none; stroke: #8c564b; stroke-opacity: 0.25; stroke-width: 0.25"/>
    <path d="M 314.172624 101.909353 
L 335.953763 101.909353 
" clip-path="url(#pfbd8692891)" style="fill: none; stroke: #8c564b; stroke-opacity: 0.25; stroke-width: 0.25"/>
    <path d="M 318.920348 102.873461 
L 337.647652 102.873461 
" clip-path="url(#pfbd8692891)" style="fill: none; stroke: #8c564b; stroke-opacity: 0.25; stroke-width: 0.25"/>
    <path d="M 308.449845 104.852713 
L 331.476832 104.852713 
" clip-path="url(#pfbd8692891)" style="fill: none; stroke: #8c564b; stroke-opacity: 0.25; stroke-width: 0.25"/>
    <path d="M 315.06185 110.148421 
L 334.316446 110.148421 
" clip-path="url(#pfbd8692891)" style="fill: none; stroke: #8c564b; stroke-opacity: 0.25; stroke-width: 0.25"/>
    <path d="M 328.313044 91.425055 
L 351.79649 91.425055 
" clip-path="url(#pfbd8692891)" style="fill: none; stroke: #8c564b; stroke-opacity: 0.25; stroke-width: 0.25"/>
    <path d="M 314.211308 103.608811 
L 334.527195 103.608811 
" clip-path="url(#pfbd8692891)" style="fill: none; stroke: #8c564b; stroke-opacity: 0.25; stroke-width: 0.25"/>
    <path d="M 317.83586 102.551172 
L 337.382524 102.551172 
" clip-path="url(#pfbd8692891)" style="fill: none; stroke: #8c564b; stroke-opacity: 0.25; stroke-width: 0.25"/>
    <path d="M 317.999135 93.231351 
L 341.231989 93.231351 
" clip-path="url(#pfbd8692891)" style="fill: none; stroke: #8c564b; stroke-opacity: 0.25; stroke-width: 0.25"/>
    <path d="M 330.21558 91.002223 
L 348.89776 91.002223 
" clip-path="url(#pfbd8692891)" style="fill: none; stroke: #8c564b; stroke-opacity: 0.25; stroke-width: 0.25"/>
    <path d="M 305.405148 113.32902 
L 323.440744 113.32902 
" clip-path="url(#pfbd8692891)" style="fill: none; stroke: #8c564b; stroke-opacity: 0.25; stroke-width: 0.25"/>
    <path d="M 325.697837 95.604134 
L 345.063059 95.604134 
" clip-path="url(#pfbd8692891)" style="fill: none; stroke: #8c564b; stroke-opacity: 0.25; stroke-width: 0.25"/>
    <path d="M 298.007742 110.624991 
L 316.571636 110.624991 
" clip-path="url(#pfbd8692891)" style="fill: none; stroke: #8c564b; stroke-opacity: 0.25; stroke-width: 0.25"/>
    <path d="M 329.282454 90.728494 
L 349.901036 90.728494 
" clip-path="url(#pfbd8692891)" style="fill: none; stroke: #8c564b; stroke-opacity: 0.25; stroke-width: 0.25"/>
    <path d="M 316.158712 103.997819 
L 335.403018 103.997819 
" clip-path="url(#pfbd8692891)" style="fill: none; stroke: #8c564b; stroke-opacity: 0.25; stroke-width: 0.25"/>
    <path d="M 315.185405 102.974496 
L 336.343196 102.974496 
" clip-path="url(#pfbd8692891)" style="fill: none; stroke: #8c564b; stroke-opacity: 0.25; stroke-width: 0.25"/>
    <path d="M 315.03023 99.475599 
L 338.911683 99.475599 
" clip-path="url(#pfbd8692891)" style="fill: none; stroke: #8c564b; stroke-opacity: 0.25; stroke-width: 0.25"/>
    <path d="M 325.372436 94.520805 
L 348.383445 94.520805 
" clip-path="url(#pfbd8692891)" style="fill: none; stroke: #8c564b; stroke-opacity: 0.25; stroke-width: 0.25"/>
    <path d="M 316.822399 94.684089 
L 340.412234 94.684089 
" clip-path="url(#pfbd8692891)" style="fill: none; stroke: #8c564b; stroke-opacity: 0.25; stroke-width: 0.25"/>
    <path d="M 328.810555 91.403126 
L 347.791551 91.403126 
" clip-path="url(#pfbd8692891)" style="fill: none; stroke: #8c564b; stroke-opacity: 0.25; stroke-width: 0.25"/>
    <path d="M 305.554381 108.667376 
L 325.533456 108.667376 
" clip-path="url(#pfbd8692891)" style="fill: none; stroke: #8c564b; stroke-opacity: 0.25; stroke-width: 0.25"/>
    <path d="M 301.487879 117.507072 
L 321.770699 117.507072 
" clip-path="url(#pfbd8692891)" style="fill: none; stroke: #8c564b; stroke-opacity: 0.25; stroke-width: 0.25"/>
    <path d="M 336.019935 82.142578 
L 353.725285 82.142578 
" clip-path="url(#pfbd8692891)" style="fill: none; stroke: #8c564b; stroke-opacity: 0.25; stroke-width: 0.25"/>
    <path d="M 314.498952 106.077928 
L 333.160412 106.077928 
" clip-path="url(#pfbd8692891)" style="fill: none; stroke: #8c564b; stroke-opacity: 0.25; stroke-width: 0.25"/>
    <path d="M 326.82596 98.297474 
L 349.336368 98.297474 
" clip-path="url(#pfbd8692891)" style="fill: none; stroke: #8c564b; stroke-opacity: 0.25; stroke-width: 0.25"/>
    <path d="M 325.210819 91.298714 
L 348.280551 91.298714 
" clip-path="url(#pfbd8692891)" style="fill: none; stroke: #8c564b; stroke-opacity: 0.25; stroke-width: 0.25"/>
    <path d="M 321.329689 94.19459 
L 343.248876 94.19459 
" clip-path="url(#pfbd8692891)" style="fill: none; stroke: #8c564b; stroke-opacity: 0.25; stroke-width: 0.25"/>
    <path d="M 298.838712 114.984874 
L 319.136126 114.984874 
" clip-path="url(#pfbd8692891)" style="fill: none; stroke: #8c564b; stroke-opacity: 0.25; stroke-width: 0.25"/>
    <path d="M 310.368181 107.160074 
L 330.242991 107.160074 
" clip-path="url(#pfbd8692891)" style="fill: none; stroke: #8c564b; stroke-opacity: 0.25; stroke-width: 0.25"/>
    <path d="M 317.915124 102.32093 
L 338.66176 102.32093 
" clip-path="url(#pfbd8692891)" style="fill: none; stroke: #8c564b; stroke-opacity: 0.25; stroke-width: 0.25"/>
    <path d="M 328.728467 90.493536 
L 347.449057 90.493536 
" clip-path="url(#pfbd8692891)" style="fill: none; stroke: #8c564b; stroke-opacity: 0.25; stroke-width: 0.25"/>
    <path d="M 309.92106 105.736971 
L 332.406795 105.736971 
" clip-path="url(#pfbd8692891)" style="fill: none; stroke: #8c564b; stroke-opacity: 0.25; stroke-width: 0.25"/>
    <path d="M 309.270154 109.16531 
L 329.484439 109.16531 
" clip-path="url(#pfbd8692891)" style="fill: none; stroke: #8c564b; stroke-opacity: 0.25; stroke-width: 0.25"/>
    <path d="M 312.4968 107.334005 
L 331.199917 107.334005 
" clip-path="url(#pfbd8692891)" style="fill: none; stroke: #8c564b; stroke-opacity: 0.25; stroke-width: 0.25"/>
    <path d="M 319.679389 105.233653 
L 338.207261 105.233653 
" clip-path="url(#pfbd8692891)" style="fill: none; stroke: #8c564b; stroke-opacity: 0.25; stroke-width: 0.25"/>
    <path d="M 306.002584 107.923346 
L 322.745253 107.923346 
" clip-path="url(#pfbd8692891)" style="fill: none; stroke: #8c564b; stroke-opacity: 0.25; stroke-width: 0.25"/>
    <path d="M 338.610997 84.932474 
L 358.128317 84.932474 
" clip-path="url(#pfbd8692891)" style="fill: none; stroke: #8c564b; stroke-opacity: 0.25; stroke-width: 0.25"/>
    <path d="M 316.733236 97.88357 
L 339.804722 97.88357 
" clip-path="url(#pfbd8692891)" style="fill: none; stroke: #8c564b; stroke-opacity: 0.25; stroke-width: 0.25"/>
    <path d="M 310.670206 109.216212 
L 327.256552 109.216212 
" clip-path="url(#pfbd8692891)" style="fill: none; stroke: #8c564b; stroke-opacity: 0.25; stroke-width: 0.25"/>
    <path d="M 314.894535 106.409902 
L 333.777703 106.409902 
" clip-path="url(#pfbd8692891)" style="fill: none; stroke: #8c564b; stroke-opacity: 0.25; stroke-width: 0.25"/>
    <path d="M 309.549811 103.278948 
L 327.963844 103.278948 
" clip-path="url(#pfbd8692891)" style="fill: none; stroke: #8c564b; stroke-opacity: 0.25; stroke-width: 0.25"/>
    <path d="M 335.158441 85.915955 
L 358.145666 85.915955 
" clip-path="url(#pfbd8692891)" style="fill: none; stroke: #8c564b; stroke-opacity: 0.25; stroke-width: 0.25"/>
    <path d="M 308.498586 108.906932 
L 331.171452 108.906932 
" clip-path="url(#pfbd8692891)" style="fill: none; stroke: #8c564b; stroke-opacity: 0.25; stroke-width: 0.25"/>
    <path d="M 323.474788 88.543544 
L 345.718377 88.543544 
" clip-path="url(#pfbd8692891)" style="fill: none; stroke: #8c564b; stroke-opacity: 0.25; stroke-width: 0.25"/>
    <path d="M 314.58514 101.95538 
L 339.635042 101.95538 
" clip-path="url(#pfbd8692891)" style="fill: none; stroke: #8c564b; stroke-opacity: 0.25; stroke-width: 0.25"/>
    <path d="M 334.70039 90.464887 
L 354.049645 90.464887 
" clip-path="url(#pfbd8692891)" style="fill: none; stroke: #8c564b; stroke-opacity: 0.25; stroke-width: 0.25"/>
    <path d="M 324.659528 92.983796 
L 351.591412 92.983796 
" clip-path="url(#pfbd8692891)" style="fill: none; stroke: #8c564b; stroke-opacity: 0.25; stroke-width: 0.25"/>
    <path d="M 319.360079 101.135718 
L 335.48631 101.135718 
" clip-path="url(#pfbd8692891)" style="fill: none; stroke: #8c564b; stroke-opacity: 0.25; stroke-width: 0.25"/>
    <path d="M 301.00668 117.160578 
L 319.333922 117.160578 
" clip-path="url(#pfbd8692891)" style="fill: none; stroke: #8c564b; stroke-opacity: 0.25; stroke-width: 0.25"/>
    <path d="M 330.852195 88.616891 
L 350.229137 88.616891 
" clip-path="url(#pfbd8692891)" style="fill: none; stroke: #8c564b; stroke-opacity: 0.25; stroke-width: 0.25"/>
    <path d="M 315.701997 100.475173 
L 333.712064 100.475173 
" clip-path="url(#pfbd8692891)" style="fill: none; stroke: #8c564b; stroke-opacity: 0.25; stroke-width: 0.25"/>
    <path d="M 312.407648 96.930194 
L 331.852972 96.930194 
" clip-path="url(#pfbd8692891)" style="fill: none; stroke: #8c564b; stroke-opacity: 0.25; stroke-width: 0.25"/>
    <path d="M 319.930228 99.179855 
L 342.429576 99.179855 
" clip-path="url(#pfbd8692891)" style="fill: none; stroke: #8c564b; stroke-opacity: 0.25; stroke-width: 0.25"/>
    <path d="M 308.167399 101.061759 
L 326.309093 101.061759 
" clip-path="url(#pfbd8692891)" style="fill: none; stroke: #8c564b; stroke-opacity: 0.25; stroke-width: 0.25"/>
    <path d="M 305.904494 108.105769 
L 326.807111 108.105769 
" clip-path="url(#pfbd8692891)" style="fill: none; stroke: #8c564b; stroke-opacity: 0.25; stroke-width: 0.25"/>
    <path d="M 318.609354 98.522431 
L 339.641712 98.522431 
" clip-path="url(#pfbd8692891)" style="fill: none; stroke: #8c564b; stroke-opacity: 0.25; stroke-width: 0.25"/>
    <path d="M 301.940268 108.115492 
L 323.579917 108.115492 
" clip-path="url(#pfbd8692891)" style="fill: none; stroke: #8c564b; stroke-opacity: 0.25; stroke-width: 0.25"/>
    <path d="M 308.674564 110.072913 
L 329.401656 110.072913 
" clip-path="url(#pfbd8692891)" style="fill: none; stroke: #8c564b; stroke-opacity: 0.25; stroke-width: 0.25"/>
    <path d="M 302.230664 108.653335 
L 325.140457 108.653335 
" clip-path="url(#pfbd8692891)" style="fill: none; stroke: #8c564b; stroke-opacity: 0.25; stroke-width: 0.25"/>
    <path d="M 316.256343 101.198127 
L 339.107614 101.198127 
" clip-path="url(#pfbd8692891)" style="fill: none; stroke: #8c564b; stroke-opacity: 0.25; stroke-width: 0.25"/>
    <path d="M 332.532292 90.712819 
L 356.752795 90.712819 
" clip-path="url(#pfbd8692891)" style="fill: none; stroke: #8c564b; stroke-opacity: 0.25; stroke-width: 0.25"/>
    <path d="M 318.420942 100.204716 
L 340.471672 100.204716 
" clip-path="url(#pfbd8692891)" style="fill: none; stroke: #8c564b; stroke-opacity: 0.25; stroke-width: 0.25"/>
    <path d="M 307.062775 105.615203 
L 324.771442 105.615203 
" clip-path="url(#pfbd8692891)" style="fill: none; stroke: #8c564b; stroke-opacity: 0.25; stroke-width: 0.25"/>
    <path d="M 315.770155 99.279091 
L 338.296521 99.279091 
" clip-path="url(#pfbd8692891)" style="fill: none; stroke: #8c564b; stroke-opacity: 0.25; stroke-width: 0.25"/>
    <path d="M 331.204474 90.750653 
L 352.232818 90.750653 
" clip-path="url(#pfbd8692891)" style="fill: none; stroke: #8c564b; stroke-opacity: 0.25; stroke-width: 0.25"/>
    <path d="M 295.97686 113.538286 
L 318.595037 113.538286 
" clip-path="url(#pfbd8692891)" style="fill: none; stroke: #8c564b; stroke-opacity: 0.25; stroke-width: 0.25"/>
    <path d="M 320.818514 96.413928 
L 346.393176 96.413928 
" clip-path="url(#pfbd8692891)" style="fill: none; stroke: #8c564b; stroke-opacity: 0.25; stroke-width: 0.25"/>
    <path d="M 314.076162 104.407197 
L 334.403758 104.407197 
" clip-path="url(#pfbd8692891)" style="fill: none; stroke: #8c564b; stroke-opacity: 0.25; stroke-width: 0.25"/>
    <path d="M 307.959025 112.499726 
L 327.598121 112.499726 
" clip-path="url(#pfbd8692891)" style="fill: none; stroke: #8c564b; stroke-opacity: 0.25; stroke-width: 0.25"/>
    <path d="M 307.144948 105.689101 
L 331.512856 105.689101 
" clip-path="url(#pfbd8692891)" style="fill: none; stroke: #8c564b; stroke-opacity: 0.25; stroke-width: 0.25"/>
    <path d="M 313.652497 101.634135 
L 338.703287 101.634135 
" clip-path="url(#pfbd8692891)" style="fill: none; stroke: #8c564b; stroke-opacity: 0.25; stroke-width: 0.25"/>
    <path d="M 315.989518 104.333112 
L 335.42244 104.333112 
" clip-path="url(#pfbd8692891)" style="fill: none; stroke: #8c564b; stroke-opacity: 0.25; stroke-width: 0.25"/>
    <path d="M 331.417336 91.395221 
L 351.93705 91.395221 
" clip-path="url(#pfbd8692891)" style="fill: none; stroke: #8c564b; stroke-opacity: 0.25; stroke-width: 0.25"/>
    <path d="M 312.078769 108.295277 
L 326.953729 108.295277 
" clip-path="url(#pfbd8692891)" style="fill: none; stroke: #8c564b; stroke-opacity: 0.25; stroke-width: 0.25"/>
    <path d="M 313.516951 108.076144 
L 328.147254 108.076144 
" clip-path="url(#pfbd8692891)" style="fill: none; stroke: #8c564b; stroke-opacity: 0.25; stroke-width: 0.25"/>
    <path d="M 315.496973 101.488216 
L 337.910501 101.488216 
" clip-path="url(#pfbd8692891)" style="fill: none; stroke: #8c564b; stroke-opacity: 0.25; stroke-width: 0.25"/>
    <path d="M 330.414758 87.431023 
L 351.257444 87.431023 
" clip-path="url(#pfbd8692891)" style="fill: none; stroke: #8c564b; stroke-opacity: 0.25; stroke-width: 0.25"/>
    <path d="M 331.848159 92.847218 
L 351.623593 92.847218 
" clip-path="url(#pfbd8692891)" style="fill: none; stroke: #8c564b; stroke-opacity: 0.25; stroke-width: 0.25"/>
    <path d="M 334.44258 85.795178 
L 359.967233 85.795178 
" clip-path="url(#pfbd8692891)" style="fill: none; stroke: #8c564b; stroke-opacity: 0.25; stroke-width: 0.25"/>
    <path d="M 340.779605 84.65249 
L 361.258472 84.65249 
" clip-path="url(#pfbd8692891)" style="fill: none; stroke: #8c564b; stroke-opacity: 0.25; stroke-width: 0.25"/>
    <path d="M 314.771308 104.649216 
L 337.039659 104.649216 
" clip-path="url(#pfbd8692891)" style="fill: none; stroke: #8c564b; stroke-opacity: 0.25; stroke-width: 0.25"/>
    <path d="M 299.335181 111.838625 
L 322.751467 111.838625 
" clip-path="url(#pfbd8692891)" style="fill: none; stroke: #8c564b; stroke-opacity: 0.25; stroke-width: 0.25"/>
    <path d="M 304.281087 106.634625 
L 321.51918 106.634625 
" clip-path="url(#pfbd8692891)" style="fill: none; stroke: #8c564b; stroke-opacity: 0.25; stroke-width: 0.25"/>
    <path d="M 304.341474 116.090545 
L 326.915152 116.090545 
" clip-path="url(#pfbd8692891)" style="fill: none; stroke: #8c564b; stroke-opacity: 0.25; stroke-width: 0.25"/>
    <path d="M 305.822486 106.25594 
L 326.778719 106.25594 
" clip-path="url(#pfbd8692891)" style="fill: none; stroke: #8c564b; stroke-opacity: 0.25; stroke-width: 0.25"/>
    <path d="M 296.746603 106.797403 
L 321.159286 106.797403 
" clip-path="url(#pfbd8692891)" style="fill: none; stroke: #8c564b; stroke-opacity: 0.25; stroke-width: 0.25"/>
    <path d="M 333.366033 85.493933 
L 353.888414 85.493933 
" clip-path="url(#pfbd8692891)" style="fill: none; stroke: #8c564b; stroke-opacity: 0.25; stroke-width: 0.25"/>
    <path d="M 325.433373 93.628345 
L 346.401057 93.628345 
" clip-path="url(#pfbd8692891)" style="fill: none; stroke: #8c564b; stroke-opacity: 0.25; stroke-width: 0.25"/>
    <path d="M 310.058997 111.218484 
L 331.064545 111.218484 
" clip-path="url(#pfbd8692891)" style="fill: none; stroke: #8c564b; stroke-opacity: 0.25; stroke-width: 0.25"/>
    <path d="M 317.611127 94.51838 
L 338.563781 94.51838 
" clip-path="url(#pfbd8692891)" style="fill: none; stroke: #8c564b; stroke-opacity: 0.25; stroke-width: 0.25"/>
    <path d="M 300.499311 111.47536 
L 323.738511 111.47536 
" clip-path="url(#pfbd8692891)" style="fill: none; stroke: #8c564b; stroke-opacity: 0.25; stroke-width: 0.25"/>
    <path d="M 328.571315 92.704551 
L 348.957449 92.704551 
" clip-path="url(#pfbd8692891)" style="fill: none; stroke: #8c564b; stroke-opacity: 0.25; stroke-width: 0.25"/>
    <path d="M 340.712316 89.021227 
L 360.265717 89.021227 
" clip-path="url(#pfbd8692891)" style="fill: none; stroke: #8c564b; stroke-opacity: 0.25; stroke-width: 0.25"/>
    <path d="M 302.90209 114.220384 
L 327.185218 114.220384 
" clip-path="url(#pfbd8692891)" style="fill: none; stroke: #8c564b; stroke-opacity: 0.25; stroke-width: 0.25"/>
    <path d="M 324.543714 95.783917 
L 347.093171 95.783917 
" clip-path="url(#pfbd8692891)" style="fill: none; stroke: #8c564b; stroke-opacity: 0.25; stroke-width: 0.25"/>
    <path d="M 313.407998 103.007148 
L 333.907258 103.007148 
" clip-path="url(#pfbd8692891)" style="fill: none; stroke: #8c564b; stroke-opacity: 0.25; stroke-width: 0.25"/>
    <path d="M 305.959576 109.69516 
L 333.045524 109.69516 
" clip-path="url(#pfbd8692891)" style="fill: none; stroke: #8c564b; stroke-opacity: 0.25; stroke-width: 0.25"/>
    <path d="M 314.408787 104.912186 
L 337.215557 104.912186 
" clip-path="url(#pfbd8692891)" style="fill: none; stroke: #8c564b; stroke-opacity: 0.25; stroke-width: 0.25"/>
    <path d="M 298.457294 120.170858 
L 320.632706 120.170858 
" clip-path="url(#pfbd8692891)" style="fill: none; stroke: #8c564b; stroke-opacity: 0.25; stroke-width: 0.25"/>
    <path d="M 307.659531 110.857975 
L 326.86213 110.857975 
" clip-path="url(#pfbd8692891)" style="fill: none; stroke: #8c564b; stroke-opacity: 0.25; stroke-width: 0.25"/>
    <path d="M 330.506914 93.926846 
L 349.34386 93.926846 
" clip-path="url(#pfbd8692891)" style="fill: none; stroke: #8c564b; stroke-opacity: 0.25; stroke-width: 0.25"/>
    <path d="M 310.720691 107.983966 
L 330.092818 107.983966 
" clip-path="url(#pfbd8692891)" style="fill: none; stroke: #8c564b; stroke-opacity: 0.25; stroke-width: 0.25"/>
    <path d="M 310.849652 98.803484 
L 331.196067 98.803484 
" clip-path="url(#pfbd8692891)" style="fill: none; stroke: #8c564b; stroke-opacity: 0.25; stroke-width: 0.25"/>
    <path d="M 323.741699 98.660685 
L 346.5069 98.660685 
" clip-path="url(#pfbd8692891)" style="fill: none; stroke: #8c564b; stroke-opacity: 0.25; stroke-width: 0.25"/>
    <path d="M 311.154766 107.402018 
L 330.981388 107.402018 
" clip-path="url(#pfbd8692891)" style="fill: none; stroke: #8c564b; stroke-opacity: 0.25; stroke-width: 0.25"/>
    <path d="M 311.90174 103.269391 
L 334.566831 103.269391 
" clip-path="url(#pfbd8692891)" style="fill: none; stroke: #8c564b; stroke-opacity: 0.25; stroke-width: 0.25"/>
    <path d="M 306.587411 109.071051 
L 331.120068 109.071051 
" clip-path="url(#pfbd8692891)" style="fill: none; stroke: #8c564b; stroke-opacity: 0.25; stroke-width: 0.25"/>
    <path d="M 320.018521 98.258483 
L 340.69967 98.258483 
" clip-path="url(#pfbd8692891)" style="fill: none; stroke: #8c564b; stroke-opacity: 0.25; stroke-width: 0.25"/>
    <path d="M 331.175511 91.077919 
L 349.228034 91.077919 
" clip-path="url(#pfbd8692891)" style="fill: none; stroke: #8c564b; stroke-opacity: 0.25; stroke-width: 0.25"/>
    <path d="M 308.343126 108.87063 
L 329.131022 108.87063 
" clip-path="url(#pfbd8692891)" style="fill: none; stroke: #8c564b; stroke-opacity: 0.25; stroke-width: 0.25"/>
    <path d="M 311.93429 107.906969 
L 332.762064 107.906969 
" clip-path="url(#pfbd8692891)" style="fill: none; stroke: #8c564b; stroke-opacity: 0.25; stroke-width: 0.25"/>
    <path d="M 303.265659 108.772417 
L 325.796872 108.772417 
" clip-path="url(#pfbd8692891)" style="fill: none; stroke: #8c564b; stroke-opacity: 0.25; stroke-width: 0.25"/>
    <path d="M 305.684241 111.528657 
L 324.049058 111.528657 
" clip-path="url(#pfbd8692891)" style="fill: none; stroke: #8c564b; stroke-opacity: 0.25; stroke-width: 0.25"/>
    <path d="M 327.967746 94.717825 
L 347.049482 94.717825 
" clip-path="url(#pfbd8692891)" style="fill: none; stroke: #8c564b; stroke-opacity: 0.25; stroke-width: 0.25"/>
    <path d="M 306.043184 110.759728 
L 325.481699 110.759728 
" clip-path="url(#pfbd8692891)" style="fill: none; stroke: #8c564b; stroke-opacity: 0.25; stroke-width: 0.25"/>
    <path d="M 308.272308 101.175887 
L 326.537701 101.175887 
" clip-path="url(#pfbd8692891)" style="fill: none; stroke: #8c564b; stroke-opacity: 0.25; stroke-width: 0.25"/>
    <path d="M 328.1799 89.680132 
L 351.332381 89.680132 
" clip-path="url(#pfbd8692891)" style="fill: none; stroke: #8c564b; stroke-opacity: 0.25; stroke-width: 0.25"/>
    <path d="M 309.592384 106.55731 
L 326.099945 106.55731 
" clip-path="url(#pfbd8692891)" style="fill: none; stroke: #8c564b; stroke-opacity: 0.25; stroke-width: 0.25"/>
    <path d="M 333.120137 91.990462 
L 349.175706 91.990462 
" clip-path="url(#pfbd8692891)" style="fill: none; stroke: #8c564b; stroke-opacity: 0.25; stroke-width: 0.25"/>
    <path d="M 333.137297 87.405335 
L 354.034434 87.405335 
" clip-path="url(#pfbd8692891)" style="fill: none; stroke: #8c564b; stroke-opacity: 0.25; stroke-width: 0.25"/>
    <path d="M 310.41422 107.947353 
L 337.265971 107.947353 
" clip-path="url(#pfbd8692891)" style="fill: none; stroke: #8c564b; stroke-opacity: 0.25; stroke-width: 0.25"/>
    <path d="M 316.733397 98.742287 
L 333.484066 98.742287 
" clip-path="url(#pfbd8692891)" style="fill: none; stroke: #8c564b; stroke-opacity: 0.25; stroke-width: 0.25"/>
    <path d="M 303.175019 109.559746 
L 324.43599 109.559746 
" clip-path="url(#pfbd8692891)" style="fill: none; stroke: #8c564b; stroke-opacity: 0.25; stroke-width: 0.25"/>
    <path d="M 335.145379 88.052786 
L 359.350152 88.052786 
" clip-path="url(#pfbd8692891)" style="fill: none; stroke: #8c564b; stroke-opacity: 0.25; stroke-width: 0.25"/>
    <path d="M 321.216365 100.380809 
L 339.266895 100.380809 
" clip-path="url(#pfbd8692891)" style="fill: none; stroke: #8c564b; stroke-opacity: 0.25; stroke-width: 0.25"/>
    <path d="M 324.739004 97.034556 
L 346.114544 97.034556 
" clip-path="url(#pfbd8692891)" style="fill: none; stroke: #8c564b; stroke-opacity: 0.25; stroke-width: 0.25"/>
    <path d="M 300.175621 113.137672 
L 316.528709 113.137672 
" clip-path="url(#pfbd8692891)" style="fill: none; stroke: #8c564b; stroke-opacity: 0.25; stroke-width: 0.25"/>
    <path d="M 338.853847 88.864087 
L 357.417764 88.864087 
" clip-path="url(#pfbd8692891)" style="fill: none; stroke: #8c564b; stroke-opacity: 0.25; stroke-width: 0.25"/>
    <path d="M 307.458147 105.100567 
L 328.854921 105.100567 
" clip-path="url(#pfbd8692891)" style="fill: none; stroke: #8c564b; stroke-opacity: 0.25; stroke-width: 0.25"/>
    <path d="M 307.244587 107.818144 
L 326.876536 107.818144 
" clip-path="url(#pfbd8692891)" style="fill: none; stroke: #8c564b; stroke-opacity: 0.25; stroke-width: 0.25"/>
    <path d="M 311.368284 103.877642 
L 329.764392 103.877642 
" clip-path="url(#pfbd8692891)" style="fill: none; stroke: #8c564b; stroke-opacity: 0.25; stroke-width: 0.25"/>
    <path d="M 330.101935 91.718527 
L 350.816669 91.718527 
" clip-path="url(#pfbd8692891)" style="fill: none; stroke: #8c564b; stroke-opacity: 0.25; stroke-width: 0.25"/>
    <path d="M 330.856519 90.651791 
L 350.831711 90.651791 
" clip-path="url(#pfbd8692891)" style="fill: none; stroke: #8c564b; stroke-opacity: 0.25; stroke-width: 0.25"/>
    <path d="M 306.49296 110.846776 
L 328.552814 110.846776 
" clip-path="url(#pfbd8692891)" style="fill: none; stroke: #8c564b; stroke-opacity: 0.25; stroke-width: 0.25"/>
    <path d="M 328.834678 93.619739 
L 350.184097 93.619739 
" clip-path="url(#pfbd8692891)" style="fill: none; stroke: #8c564b; stroke-opacity: 0.25; stroke-width: 0.25"/>
    <path d="M 328.69949 99.935064 
L 347.032088 99.935064 
" clip-path="url(#pfbd8692891)" style="fill: none; stroke: #8c564b; stroke-opacity: 0.25; stroke-width: 0.25"/>
    <path d="M 314.68919 98.884347 
L 341.011998 98.884347 
" clip-path="url(#pfbd8692891)" style="fill: none; stroke: #8c564b; stroke-opacity: 0.25; stroke-width: 0.25"/>
    <path d="M 315.093017 109.171162 
L 332.13539 109.171162 
" clip-path="url(#pfbd8692891)" style="fill: none; stroke: #8c564b; stroke-opacity: 0.25; stroke-width: 0.25"/>
    <path d="M 300.912401 112.103019 
L 323.961327 112.103019 
" clip-path="url(#pfbd8692891)" style="fill: none; stroke: #8c564b; stroke-opacity: 0.25; stroke-width: 0.25"/>
    <path d="M 316.058952 94.836101 
L 335.351775 94.836101 
" clip-path="url(#pfbd8692891)" style="fill: none; stroke: #8c564b; stroke-opacity: 0.25; stroke-width: 0.25"/>
    <path d="M 331.335872 92.506475 
L 350.120219 92.506475 
" clip-path="url(#pfbd8692891)" style="fill: none; stroke: #8c564b; stroke-opacity: 0.25; stroke-width: 0.25"/>
    <path d="M 336.948052 88.770713 
L 356.090696 88.770713 
" clip-path="url(#pfbd8692891)" style="fill: none; stroke: #8c564b; stroke-opacity: 0.25; stroke-width: 0.25"/>
    <path d="M 329.113039 99.037946 
L 348.95782 99.037946 
" clip-path="url(#pfbd8692891)" style="fill: none; stroke: #8c564b; stroke-opacity: 0.25; stroke-width: 0.25"/>
    <path d="M 323.457087 94.200577 
L 344.832654 94.200577 
" clip-path="url(#pfbd8692891)" style="fill: none; stroke: #8c564b; stroke-opacity: 0.25; stroke-width: 0.25"/>
    <path d="M 312.973311 107.385351 
L 334.946555 107.385351 
" clip-path="url(#pfbd8692891)" style="fill: none; stroke: #8c564b; stroke-opacity: 0.25; stroke-width: 0.25"/>
    <path d="M 304.19791 106.759434 
L 328.333408 106.759434 
" clip-path="url(#pfbd8692891)" style="fill: none; stroke: #8c564b; stroke-opacity: 0.25; stroke-width: 0.25"/>
    <path d="M 316.852584 105.798119 
L 337.356755 105.798119 
" clip-path="url(#pfbd8692891)" style="fill: none; stroke: #8c564b; stroke-opacity: 0.25; stroke-width: 0.25"/>
    <path d="M 301.717304 106.732668 
L 319.864106 106.732668 
" clip-path="url(#pfbd8692891)" style="fill: none; stroke: #8c564b; stroke-opacity: 0.25; stroke-width: 0.25"/>
    <path d="M 311.994826 105.575347 
L 332.435512 105.575347 
" clip-path="url(#pfbd8692891)" style="fill: none; stroke: #8c564b; stroke-opacity: 0.25; stroke-width: 0.25"/>
    <path d="M 315.282031 92.777223 
L 335.002588 92.777223 
" clip-path="url(#pfbd8692891)" style="fill: none; stroke: #8c564b; stroke-opacity: 0.25; stroke-width: 0.25"/>
    <path d="M 302.238456 110.24581 
L 325.913336 110.24581 
" clip-path="url(#pfbd8692891)" style="fill: none; stroke: #8c564b; stroke-opacity: 0.25; stroke-width: 0.25"/>
    <path d="M 323.134059 94.134 
L 344.63877 94.134 
" clip-path="url(#pfbd8692891)" style="fill: none; stroke: #8c564b; stroke-opacity: 0.25; stroke-width: 0.25"/>
    <path d="M 319.649853 99.608007 
L 339.842729 99.608007 
" clip-path="url(#pfbd8692891)" style="fill: none; stroke: #8c564b; stroke-opacity: 0.25; stroke-width: 0.25"/>
    <path d="M 327.747464 92.654091 
L 351.284335 92.654091 
" clip-path="url(#pfbd8692891)" style="fill: none; stroke: #8c564b; stroke-opacity: 0.25; stroke-width: 0.25"/>
    <path d="M 311.270821 108.51569 
L 330.940082 108.51569 
" clip-path="url(#pfbd8692891)" style="fill: none; stroke: #8c564b; stroke-opacity: 0.25; stroke-width: 0.25"/>
    <path d="M 318.266908 103.022348 
L 338.056429 103.022348 
" clip-path="url(#pfbd8692891)" style="fill: none; stroke: #8c564b; stroke-opacity: 0.25; stroke-width: 0.25"/>
    <path d="M 315.371428 105.010051 
L 332.405402 105.010051 
" clip-path="url(#pfbd8692891)" style="fill: none; stroke: #8c564b; stroke-opacity: 0.25; stroke-width: 0.25"/>
    <path d="M 303.436511 111.552164 
L 325.864551 111.552164 
" clip-path="url(#pfbd8692891)" style="fill: none; stroke: #8c564b; stroke-opacity: 0.25; stroke-width: 0.25"/>
    <path d="M 331.578017 93.649649 
L 350.898127 93.649649 
" clip-path="url(#pfbd8692891)" style="fill: none; stroke: #8c564b; stroke-opacity: 0.25; stroke-width: 0.25"/>
    <path d="M 336.245326 83.68922 
L 355.446071 83.68922 
" clip-path="url(#pfbd8692891)" style="fill: none; stroke: #8c564b; stroke-opacity: 0.25; stroke-width: 0.25"/>
    <path d="M 316.063581 100.394417 
L 332.068946 100.394417 
" clip-path="url(#pfbd8692891)" style="fill: none; stroke: #8c564b; stroke-opacity: 0.25; stroke-width: 0.25"/>
    <path d="M 322.48762 97.041237 
L 346.438586 97.041237 
" clip-path="url(#pfbd8692891)" style="fill: none; stroke: #8c564b; stroke-opacity: 0.25; stroke-width: 0.25"/>
    <path d="M 332.029342 93.04874 
L 352.399727 93.04874 
" clip-path="url(#pfbd8692891)" style="fill: none; stroke: #8c564b; stroke-opacity: 0.25; stroke-width: 0.25"/>
    <path d="M 298.219444 116.837704 
L 321.603971 116.837704 
" clip-path="url(#pfbd8692891)" style="fill: none; stroke: #8c564b; stroke-opacity: 0.25; stroke-width: 0.25"/>
    <path d="M 314.172929 103.166081 
L 338.241606 103.166081 
" clip-path="url(#pfbd8692891)" style="fill: none; stroke: #8c564b; stroke-opacity: 0.25; stroke-width: 0.25"/>
    <path d="M 330.253968 90.337219 
L 352.368871 90.337219 
" clip-path="url(#pfbd8692891)" style="fill: none; stroke: #8c564b; stroke-opacity: 0.25; stroke-width: 0.25"/>
    <path d="M 310.118182 105.233865 
L 330.840105 105.233865 
" clip-path="url(#pfbd8692891)" style="fill: none; stroke: #8c564b; stroke-opacity: 0.25; stroke-width: 0.25"/>
    <path d="M 313.143959 108.957113 
L 332.951329 108.957113 
" clip-path="url(#pfbd8692891)" style="fill: none; stroke: #8c564b; stroke-opacity: 0.25; stroke-width: 0.25"/>
    <path d="M 315.888661 101.775344 
L 333.736548 101.775344 
" clip-path="url(#pfbd8692891)" style="fill: none; stroke: #8c564b; stroke-opacity: 0.25; stroke-width: 0.25"/>
    <path d="M 325.945458 94.992268 
L 350.723155 94.992268 
" clip-path="url(#pfbd8692891)" style="fill: none; stroke: #8c564b; stroke-opacity: 0.25; stroke-width: 0.25"/>
    <path d="M 312.33084 106.936178 
L 333.006452 106.936178 
" clip-path="url(#pfbd8692891)" style="fill: none; stroke: #8c564b; stroke-opacity: 0.25; stroke-width: 0.25"/>
    <path d="M 314.268871 103.982833 
L 338.716613 103.982833 
" clip-path="url(#pfbd8692891)" style="fill: none; stroke: #8c564b; stroke-opacity: 0.25; stroke-width: 0.25"/>
    <path d="M 310.296636 110.881447 
L 329.492823 110.881447 
" clip-path="url(#pfbd8692891)" style="fill: none; stroke: #8c564b; stroke-opacity: 0.25; stroke-width: 0.25"/>
    <path d="M 301.627792 108.69843 
L 321.065364 108.69843 
" clip-path="url(#pfbd8692891)" style="fill: none; stroke: #8c564b; stroke-opacity: 0.25; stroke-width: 0.25"/>
    <path d="M 314.321417 97.560903 
L 337.022005 97.560903 
" clip-path="url(#pfbd8692891)" style="fill: none; stroke: #8c564b; stroke-opacity: 0.25; stroke-width: 0.25"/>
    <path d="M 308.634111 109.431078 
L 327.825812 109.431078 
" clip-path="url(#pfbd8692891)" style="fill: none; stroke: #8c564b; stroke-opacity: 0.25; stroke-width: 0.25"/>
    <path d="M 317.112717 103.105817 
L 338.827422 103.105817 
" clip-path="url(#pfbd8692891)" style="fill: none; stroke: #8c564b; stroke-opacity: 0.25; stroke-width: 0.25"/>
    <path d="M 341.607599 75.493028 
L 359.21752 75.493028 
" clip-path="url(#pfbd8692891)" style="fill: none; stroke: #8c564b; stroke-opacity: 0.25; stroke-width: 0.25"/>
    <path d="M 312.756861 111.77413 
L 332.968073 111.77413 
" clip-path="url(#pfbd8692891)" style="fill: none; stroke: #8c564b; stroke-opacity: 0.25; stroke-width: 0.25"/>
    <path d="M 318.124261 102.110792 
L 336.847949 102.110792 
" clip-path="url(#pfbd8692891)" style="fill: none; stroke: #8c564b; stroke-opacity: 0.25; stroke-width: 0.25"/>
    <path d="M 313.042901 99.424445 
L 338.263151 99.424445 
" clip-path="url(#pfbd8692891)" style="fill: none; stroke: #8c564b; stroke-opacity: 0.25; stroke-width: 0.25"/>
    <path d="M 328.726078 93.647621 
L 348.144149 93.647621 
" clip-path="url(#pfbd8692891)" style="fill: none; stroke: #8c564b; stroke-opacity: 0.25; stroke-width: 0.25"/>
    <path d="M 325.237118 95.597111 
L 342.735235 95.597111 
" clip-path="url(#pfbd8692891)" style="fill: none; stroke: #8c564b; stroke-opacity: 0.25; stroke-width: 0.25"/>
    <path d="M 332.835124 83.222534 
L 356.002596 83.222534 
" clip-path="url(#pfbd8692891)" style="fill: none; stroke: #8c564b; stroke-opacity: 0.25; stroke-width: 0.25"/>
    <path d="M 335.664635 88.510977 
L 354.026841 88.510977 
" clip-path="url(#pfbd8692891)" style="fill: none; stroke: #8c564b; stroke-opacity: 0.25; stroke-width: 0.25"/>
    <path d="M 324.141126 94.9696 
L 347.275527 94.9696 
" clip-path="url(#pfbd8692891)" style="fill: none; stroke: #8c564b; stroke-opacity: 0.25; stroke-width: 0.25"/>
    <path d="M 330.819323 89.760569 
L 356.647201 89.760569 
" clip-path="url(#pfbd8692891)" style="fill: none; stroke: #8c564b; stroke-opacity: 0.25; stroke-width: 0.25"/>
    <path d="M 329.702191 87.052427 
L 353.211234 87.052427 
" clip-path="url(#pfbd8692891)" style="fill: none; stroke: #8c564b; stroke-opacity: 0.25; stroke-width: 0.25"/>
    <path d="M 317.615048 102.82626 
L 336.378474 102.82626 
" clip-path="url(#pfbd8692891)" style="fill: none; stroke: #8c564b; stroke-opacity: 0.25; stroke-width: 0.25"/>
    <path d="M 308.448724 99.796235 
L 326.312206 99.796235 
" clip-path="url(#pfbd8692891)" style="fill: none; stroke: #8c564b; stroke-opacity: 0.25; stroke-width: 0.25"/>
    <path d="M 303.460528 107.850425 
L 328.501886 107.850425 
" clip-path="url(#pfbd8692891)" style="fill: none; stroke: #8c564b; stroke-opacity: 0.25; stroke-width: 0.25"/>
    <path d="M 308.965614 109.440454 
L 329.90075 109.440454 
" clip-path="url(#pfbd8692891)" style="fill: none; stroke: #8c564b; stroke-opacity: 0.25; stroke-width: 0.25"/>
    <path d="M 329.10449 93.334011 
L 349.014666 93.334011 
" clip-path="url(#pfbd8692891)" style="fill: none; stroke: #8c564b; stroke-opacity: 0.25; stroke-width: 0.25"/>
    <path d="M 324.519936 96.732934 
L 347.287541 96.732934 
" clip-path="url(#pfbd8692891)" style="fill: none; stroke: #8c564b; stroke-opacity: 0.25; stroke-width: 0.25"/>
    <path d="M 329.672251 89.766577 
L 352.049921 89.766577 
" clip-path="url(#pfbd8692891)" style="fill: none; stroke: #8c564b; stroke-opacity: 0.25; stroke-width: 0.25"/>
    <path d="M 307.911818 107.966453 
L 326.114726 107.966453 
" clip-path="url(#pfbd8692891)" style="fill: none; stroke: #8c564b; stroke-opacity: 0.25; stroke-width: 0.25"/>
    <path d="M 316.554116 98.036859 
L 341.793631 98.036859 
" clip-path="url(#pfbd8692891)" style="fill: none; stroke: #8c564b; stroke-opacity: 0.25; stroke-width: 0.25"/>
    <path d="M 329.925843 90.801357 
L 351.825779 90.801357 
" clip-path="url(#pfbd8692891)" style="fill: none; stroke: #8c564b; stroke-opacity: 0.25; stroke-width: 0.25"/>
    <path d="M 305.354412 109.938021 
L 325.933698 109.938021 
" clip-path="url(#pfbd8692891)" style="fill: none; stroke: #8c564b; stroke-opacity: 0.25; stroke-width: 0.25"/>
    <path d="M 313.531279 101.508936 
L 334.62007 101.508936 
" clip-path="url(#pfbd8692891)" style="fill: none; stroke: #8c564b; stroke-opacity: 0.25; stroke-width: 0.25"/>
    <path d="M 306.873297 109.122673 
L 331.133893 109.122673 
" clip-path="url(#pfbd8692891)" style="fill: none; stroke: #8c564b; stroke-opacity: 0.25; stroke-width: 0.25"/>
    <path d="M 329.940834 91.262564 
L 352.158688 91.262564 
" clip-path="url(#pfbd8692891)" style="fill: none; stroke: #8c564b; stroke-opacity: 0.25; stroke-width: 0.25"/>
    <path d="M 329.409229 94.339512 
L 351.618739 94.339512 
" clip-path="url(#pfbd8692891)" style="fill: none; stroke: #8c564b; stroke-opacity: 0.25; stroke-width: 0.25"/>
    <path d="M 312.64993 107.292503 
L 329.925692 107.292503 
" clip-path="url(#pfbd8692891)" style="fill: none; stroke: #8c564b; stroke-opacity: 0.25; stroke-width: 0.25"/>
    <path d="M 310.314515 104.495381 
L 329.466357 104.495381 
" clip-path="url(#pfbd8692891)" style="fill: none; stroke: #8c564b; stroke-opacity: 0.25; stroke-width: 0.25"/>
    <path d="M 307.77385 107.993368 
L 332.036549 107.993368 
" clip-path="url(#pfbd8692891)" style="fill: none; stroke: #8c564b; stroke-opacity: 0.25; stroke-width: 0.25"/>
    <path d="M 320.729839 96.110469 
L 343.316453 96.110469 
" clip-path="url(#pfbd8692891)" style="fill: none; stroke: #8c564b; stroke-opacity: 0.25; stroke-width: 0.25"/>
    <path d="M 301.533418 112.218131 
L 326.777471 112.218131 
" clip-path="url(#pfbd8692891)" style="fill: none; stroke: #8c564b; stroke-opacity: 0.25; stroke-width: 0.25"/>
    <path d="M 326.076288 95.013578 
L 346.266248 95.013578 
" clip-path="url(#pfbd8692891)" style="fill: none; stroke: #8c564b; stroke-opacity: 0.25; stroke-width: 0.25"/>
    <path d="M 303.276756 119.044702 
L 322.408017 119.044702 
" clip-path="url(#pfbd8692891)" style="fill: none; stroke: #8c564b; stroke-opacity: 0.25; stroke-width: 0.25"/>
    <path d="M 307.839445 107.797512 
L 331.742698 107.797512 
" clip-path="url(#pfbd8692891)" style="fill: none; stroke: #8c564b; stroke-opacity: 0.25; stroke-width: 0.25"/>
    <path d="M 312.947309 104.51519 
L 336.282241 104.51519 
" clip-path="url(#pfbd8692891)" style="fill: none; stroke: #8c564b; stroke-opacity: 0.25; stroke-width: 0.25"/>
    <path d="M 313.327085 106.418582 
L 334.24604 106.418582 
" clip-path="url(#pfbd8692891)" style="fill: none; stroke: #8c564b; stroke-opacity: 0.25; stroke-width: 0.25"/>
   </g>
   <g id="LineCollection_8">
    <path d="M 334.177317 115.411518 
L 334.177317 91.2351 
" clip-path="url(#pfbd8692891)" style="fill: none; stroke: #8c564b; stroke-opacity: 0.25; stroke-width: 0.25"/>
    <path d="M 317.798476 117.32499 
L 317.798476 101.669783 
" clip-path="url(#pfbd8692891)" style="fill: none; stroke: #8c564b; stroke-opacity: 0.25; stroke-width: 0.25"/>
    <path d="M 342.753337 94.874044 
L 342.753337 80.514185 
" clip-path="url(#pfbd8692891)" style="fill: none; stroke: #8c564b; stroke-opacity: 0.25; stroke-width: 0.25"/>
    <path d="M 342.963742 98.91731 
L 342.963742 84.850818 
" clip-path="url(#pfbd8692891)" style="fill: none; stroke: #8c564b; stroke-opacity: 0.25; stroke-width: 0.25"/>
    <path d="M 343.298834 101.527242 
L 343.298834 89.324481 
" clip-path="url(#pfbd8692891)" style="fill: none; stroke: #8c564b; stroke-opacity: 0.25; stroke-width: 0.25"/>
    <path d="M 311.694661 123.175233 
L 311.694661 110.53249 
" clip-path="url(#pfbd8692891)" style="fill: none; stroke: #8c564b; stroke-opacity: 0.25; stroke-width: 0.25"/>
    <path d="M 346.686304 92.368527 
L 346.686304 81.043479 
" clip-path="url(#pfbd8692891)" style="fill: none; stroke: #8c564b; stroke-opacity: 0.25; stroke-width: 0.25"/>
    <path d="M 322.915958 113.645797 
L 322.915958 101.83379 
" clip-path="url(#pfbd8692891)" style="fill: none; stroke: #8c564b; stroke-opacity: 0.25; stroke-width: 0.25"/>
    <path d="M 311.491454 119.468487 
L 311.491454 112.05499 
" clip-path="url(#pfbd8692891)" style="fill: none; stroke: #8c564b; stroke-opacity: 0.25; stroke-width: 0.25"/>
    <path d="M 322.712563 110.26789 
L 322.712563 91.359245 
" clip-path="url(#pfbd8692891)" style="fill: none; stroke: #8c564b; stroke-opacity: 0.25; stroke-width: 0.25"/>
    <path d="M 320.290668 105.090214 
L 320.290668 96.787377 
" clip-path="url(#pfbd8692891)" style="fill: none; stroke: #8c564b; stroke-opacity: 0.25; stroke-width: 0.25"/>
    <path d="M 342.734112 96.362228 
L 342.734112 85.551812 
" clip-path="url(#pfbd8692891)" style="fill: none; stroke: #8c564b; stroke-opacity: 0.25; stroke-width: 0.25"/>
    <path d="M 343.635786 94.455363 
L 343.635786 77.157012 
" clip-path="url(#pfbd8692891)" style="fill: none; stroke: #8c564b; stroke-opacity: 0.25; stroke-width: 0.25"/>
    <path d="M 310.892698 121.791289 
L 310.892698 107.511126 
" clip-path="url(#pfbd8692891)" style="fill: none; stroke: #8c564b; stroke-opacity: 0.25; stroke-width: 0.25"/>
    <path d="M 320.234854 119.062926 
L 320.234854 102.596524 
" clip-path="url(#pfbd8692891)" style="fill: none; stroke: #8c564b; stroke-opacity: 0.25; stroke-width: 0.25"/>
    <path d="M 336.334806 103.017829 
L 336.334806 90.917845 
" clip-path="url(#pfbd8692891)" style="fill: none; stroke: #8c564b; stroke-opacity: 0.25; stroke-width: 0.25"/>
    <path d="M 324.883266 113.50571 
L 324.883266 103.431313 
" clip-path="url(#pfbd8692891)" style="fill: none; stroke: #8c564b; stroke-opacity: 0.25; stroke-width: 0.25"/>
    <path d="M 327.042243 121.197854 
L 327.042243 100.068799 
" clip-path="url(#pfbd8692891)" style="fill: none; stroke: #8c564b; stroke-opacity: 0.25; stroke-width: 0.25"/>
    <path d="M 344.117986 95.286412 
L 344.117986 74.946055 
" clip-path="url(#pfbd8692891)" style="fill: none; stroke: #8c564b; stroke-opacity: 0.25; stroke-width: 0.25"/>
    <path d="M 335.077621 113.520877 
L 335.077621 89.325201 
" clip-path="url(#pfbd8692891)" style="fill: none; stroke: #8c564b; stroke-opacity: 0.25; stroke-width: 0.25"/>
    <path d="M 315.2109 115.048077 
L 315.2109 98.299516 
" clip-path="url(#pfbd8692891)" style="fill: none; stroke: #8c564b; stroke-opacity: 0.25; stroke-width: 0.25"/>
    <path d="M 321.014127 111.604695 
L 321.014127 99.11534 
" clip-path="url(#pfbd8692891)" style="fill: none; stroke: #8c564b; stroke-opacity: 0.25; stroke-width: 0.25"/>
    <path d="M 331.802857 108.812034 
L 331.802857 91.530301 
" clip-path="url(#pfbd8692891)" style="fill: none; stroke: #8c564b; stroke-opacity: 0.25; stroke-width: 0.25"/>
    <path d="M 325.710311 105.270019 
L 325.710311 87.284347 
" clip-path="url(#pfbd8692891)" style="fill: none; stroke: #8c564b; stroke-opacity: 0.25; stroke-width: 0.25"/>
    <path d="M 325.984517 112.506108 
L 325.984517 95.244809 
" clip-path="url(#pfbd8692891)" style="fill: none; stroke: #8c564b; stroke-opacity: 0.25; stroke-width: 0.25"/>
    <path d="M 333.443954 106.599653 
L 333.443954 91.985843 
" clip-path="url(#pfbd8692891)" style="fill: none; stroke: #8c564b; stroke-opacity: 0.25; stroke-width: 0.25"/>
    <path d="M 334.124153 109.346571 
L 334.124153 92.382903 
" clip-path="url(#pfbd8692891)" style="fill: none; stroke: #8c564b; stroke-opacity: 0.25; stroke-width: 0.25"/>
    <path d="M 330.460562 106.864516 
L 330.460562 89.204895 
" clip-path="url(#pfbd8692891)" style="fill: none; stroke: #8c564b; stroke-opacity: 0.25; stroke-width: 0.25"/>
    <path d="M 347.447744 96.114375 
L 347.447744 82.155455 
" clip-path="url(#pfbd8692891)" style="fill: none; stroke: #8c564b; stroke-opacity: 0.25; stroke-width: 0.25"/>
    <path d="M 323.629302 112.567443 
L 323.629302 98.262977 
" clip-path="url(#pfbd8692891)" style="fill: none; stroke: #8c564b; stroke-opacity: 0.25; stroke-width: 0.25"/>
    <path d="M 319.262 114.848886 
L 319.262 102.402457 
" clip-path="url(#pfbd8692891)" style="fill: none; stroke: #8c564b; stroke-opacity: 0.25; stroke-width: 0.25"/>
    <path d="M 334.707182 101.719203 
L 334.707182 90.566498 
" clip-path="url(#pfbd8692891)" style="fill: none; stroke: #8c564b; stroke-opacity: 0.25; stroke-width: 0.25"/>
    <path d="M 331.533166 108.056743 
L 331.533166 94.250895 
" clip-path="url(#pfbd8692891)" style="fill: none; stroke: #8c564b; stroke-opacity: 0.25; stroke-width: 0.25"/>
    <path d="M 314.607504 121.346858 
L 314.607504 108.159919 
" clip-path="url(#pfbd8692891)" style="fill: none; stroke: #8c564b; stroke-opacity: 0.25; stroke-width: 0.25"/>
    <path d="M 348.045436 100.578528 
L 348.045436 78.108847 
" clip-path="url(#pfbd8692891)" style="fill: none; stroke: #8c564b; stroke-opacity: 0.25; stroke-width: 0.25"/>
    <path d="M 321.708675 117.384238 
L 321.708675 101.151809 
" clip-path="url(#pfbd8692891)" style="fill: none; stroke: #8c564b; stroke-opacity: 0.25; stroke-width: 0.25"/>
    <path d="M 321.501855 106.197474 
L 321.501855 94.385202 
" clip-path="url(#pfbd8692891)" style="fill: none; stroke: #8c564b; stroke-opacity: 0.25; stroke-width: 0.25"/>
    <path d="M 341.889518 100.508082 
L 341.889518 83.989154 
" clip-path="url(#pfbd8692891)" style="fill: none; stroke: #8c564b; stroke-opacity: 0.25; stroke-width: 0.25"/>
    <path d="M 334.116003 101.624713 
L 334.116003 87.434888 
" clip-path="url(#pfbd8692891)" style="fill: none; stroke: #8c564b; stroke-opacity: 0.25; stroke-width: 0.25"/>
    <path d="M 348.45967 85.237135 
L 348.45967 73.888403 
" clip-path="url(#pfbd8692891)" style="fill: none; stroke: #8c564b; stroke-opacity: 0.25; stroke-width: 0.25"/>
    <path d="M 325.170712 107.955528 
L 325.170712 93.575536 
" clip-path="url(#pfbd8692891)" style="fill: none; stroke: #8c564b; stroke-opacity: 0.25; stroke-width: 0.25"/>
    <path d="M 336.115085 111.119886 
L 336.115085 93.074018 
" clip-path="url(#pfbd8692891)" style="fill: none; stroke: #8c564b; stroke-opacity: 0.25; stroke-width: 0.25"/>
    <path d="M 322.867511 114.729379 
L 322.867511 101.529401 
" clip-path="url(#pfbd8692891)" style="fill: none; stroke: #8c564b; stroke-opacity: 0.25; stroke-width: 0.25"/>
    <path d="M 319.199727 114.193736 
L 319.199727 106.127111 
" clip-path="url(#pfbd8692891)" style="fill: none; stroke: #8c564b; stroke-opacity: 0.25; stroke-width: 0.25"/>
    <path d="M 342.890052 96.075771 
L 342.890052 82.130456 
" clip-path="url(#pfbd8692891)" style="fill: none; stroke: #8c564b; stroke-opacity: 0.25; stroke-width: 0.25"/>
    <path d="M 310.593507 120.066582 
L 310.593507 105.002753 
" clip-path="url(#pfbd8692891)" style="fill: none; stroke: #8c564b; stroke-opacity: 0.25; stroke-width: 0.25"/>
    <path d="M 337.319035 99.93349 
L 337.319035 86.586682 
" clip-path="url(#pfbd8692891)" style="fill: none; stroke: #8c564b; stroke-opacity: 0.25; stroke-width: 0.25"/>
    <path d="M 310.855547 110.355678 
L 310.855547 94.448736 
" clip-path="url(#pfbd8692891)" style="fill: none; stroke: #8c564b; stroke-opacity: 0.25; stroke-width: 0.25"/>
    <path d="M 344.319989 89.9088 
L 344.319989 75.052251 
" clip-path="url(#pfbd8692891)" style="fill: none; stroke: #8c564b; stroke-opacity: 0.25; stroke-width: 0.25"/>
    <path d="M 341.253796 95.222307 
L 341.253796 76.434374 
" clip-path="url(#pfbd8692891)" style="fill: none; stroke: #8c564b; stroke-opacity: 0.25; stroke-width: 0.25"/>
    <path d="M 341.152795 95.294884 
L 341.152795 80.098127 
" clip-path="url(#pfbd8692891)" style="fill: none; stroke: #8c564b; stroke-opacity: 0.25; stroke-width: 0.25"/>
    <path d="M 320.575525 110.648943 
L 320.575525 101.376301 
" clip-path="url(#pfbd8692891)" style="fill: none; stroke: #8c564b; stroke-opacity: 0.25; stroke-width: 0.25"/>
    <path d="M 336.755663 97.262892 
L 336.755663 82.909551 
" clip-path="url(#pfbd8692891)" style="fill: none; stroke: #8c564b; stroke-opacity: 0.25; stroke-width: 0.25"/>
    <path d="M 339.536219 98.776293 
L 339.536219 82.945031 
" clip-path="url(#pfbd8692891)" style="fill: none; stroke: #8c564b; stroke-opacity: 0.25; stroke-width: 0.25"/>
    <path d="M 325.537408 115.264077 
L 325.537408 103.505054 
" clip-path="url(#pfbd8692891)" style="fill: none; stroke: #8c564b; stroke-opacity: 0.25; stroke-width: 0.25"/>
    <path d="M 321.969674 119.368566 
L 321.969674 101.948141 
" clip-path="url(#pfbd8692891)" style="fill: none; stroke: #8c564b; stroke-opacity: 0.25; stroke-width: 0.25"/>
    <path d="M 315.279306 111.976619 
L 315.279306 98.533261 
" clip-path="url(#pfbd8692891)" style="fill: none; stroke: #8c564b; stroke-opacity: 0.25; stroke-width: 0.25"/>
    <path d="M 347.124959 98.291605 
L 347.124959 79.634163 
" clip-path="url(#pfbd8692891)" style="fill: none; stroke: #8c564b; stroke-opacity: 0.25; stroke-width: 0.25"/>
    <path d="M 328.575979 111.04445 
L 328.575979 91.343056 
" clip-path="url(#pfbd8692891)" style="fill: none; stroke: #8c564b; stroke-opacity: 0.25; stroke-width: 0.25"/>
    <path d="M 323.84291 117.181745 
L 323.84291 99.184358 
" clip-path="url(#pfbd8692891)" style="fill: none; stroke: #8c564b; stroke-opacity: 0.25; stroke-width: 0.25"/>
    <path d="M 337.899325 97.187808 
L 337.899325 89.050193 
" clip-path="url(#pfbd8692891)" style="fill: none; stroke: #8c564b; stroke-opacity: 0.25; stroke-width: 0.25"/>
    <path d="M 329.733732 109.977851 
L 329.733732 94.720176 
" clip-path="url(#pfbd8692891)" style="fill: none; stroke: #8c564b; stroke-opacity: 0.25; stroke-width: 0.25"/>
    <path d="M 320.420257 106.279441 
L 320.420257 94.95026 
" clip-path="url(#pfbd8692891)" style="fill: none; stroke: #8c564b; stroke-opacity: 0.25; stroke-width: 0.25"/>
    <path d="M 339.951553 97.882964 
L 339.951553 86.136065 
" clip-path="url(#pfbd8692891)" style="fill: none; stroke: #8c564b; stroke-opacity: 0.25; stroke-width: 0.25"/>
    <path d="M 328.087524 113.628368 
L 328.087524 96.221744 
" clip-path="url(#pfbd8692891)" style="fill: none; stroke: #8c564b; stroke-opacity: 0.25; stroke-width: 0.25"/>
    <path d="M 325.826831 117.715497 
L 325.826831 97.269055 
" clip-path="url(#pfbd8692891)" style="fill: none; stroke: #8c564b; stroke-opacity: 0.25; stroke-width: 0.25"/>
    <path d="M 319.648846 111.437343 
L 319.648846 100.177289 
" clip-path="url(#pfbd8692891)" style="fill: none; stroke: #8c564b; stroke-opacity: 0.25; stroke-width: 0.25"/>
    <path d="M 314.918683 124.177531 
L 314.918683 110.31487 
" clip-path="url(#pfbd8692891)" style="fill: none; stroke: #8c564b; stroke-opacity: 0.25; stroke-width: 0.25"/>
    <path d="M 329.472355 109.564318 
L 329.472355 91.606036 
" clip-path="url(#pfbd8692891)" style="fill: none; stroke: #8c564b; stroke-opacity: 0.25; stroke-width: 0.25"/>
    <path d="M 328.65972 105.06906 
L 328.65972 92.782606 
" clip-path="url(#pfbd8692891)" style="fill: none; stroke: #8c564b; stroke-opacity: 0.25; stroke-width: 0.25"/>
    <path d="M 323.275143 122.868092 
L 323.275143 101.627152 
" clip-path="url(#pfbd8692891)" style="fill: none; stroke: #8c564b; stroke-opacity: 0.25; stroke-width: 0.25"/>
    <path d="M 319.238229 117.32419 
L 319.238229 101.547678 
" clip-path="url(#pfbd8692891)" style="fill: none; stroke: #8c564b; stroke-opacity: 0.25; stroke-width: 0.25"/>
    <path d="M 318.050863 114.229804 
L 318.050863 104.229576 
" clip-path="url(#pfbd8692891)" style="fill: none; stroke: #8c564b; stroke-opacity: 0.25; stroke-width: 0.25"/>
    <path d="M 323.005244 116.663751 
L 323.005244 95.832578 
" clip-path="url(#pfbd8692891)" style="fill: none; stroke: #8c564b; stroke-opacity: 0.25; stroke-width: 0.25"/>
    <path d="M 338.91123 102.682507 
L 338.91123 87.38922 
" clip-path="url(#pfbd8692891)" style="fill: none; stroke: #8c564b; stroke-opacity: 0.25; stroke-width: 0.25"/>
    <path d="M 315.545677 123.397599 
L 315.545677 106.75844 
" clip-path="url(#pfbd8692891)" style="fill: none; stroke: #8c564b; stroke-opacity: 0.25; stroke-width: 0.25"/>
    <path d="M 311.246793 128.171933 
L 311.246793 114.426591 
" clip-path="url(#pfbd8692891)" style="fill: none; stroke: #8c564b; stroke-opacity: 0.25; stroke-width: 0.25"/>
    <path d="M 341.533851 100.324688 
L 341.533851 84.780628 
" clip-path="url(#pfbd8692891)" style="fill: none; stroke: #8c564b; stroke-opacity: 0.25; stroke-width: 0.25"/>
    <path d="M 338.564955 107.152608 
L 338.564955 85.254059 
" clip-path="url(#pfbd8692891)" style="fill: none; stroke: #8c564b; stroke-opacity: 0.25; stroke-width: 0.25"/>
    <path d="M 334.054472 107.012663 
L 334.054472 89.011397 
" clip-path="url(#pfbd8692891)" style="fill: none; stroke: #8c564b; stroke-opacity: 0.25; stroke-width: 0.25"/>
    <path d="M 321.264616 120.135602 
L 321.264616 93.801405 
" clip-path="url(#pfbd8692891)" style="fill: none; stroke: #8c564b; stroke-opacity: 0.25; stroke-width: 0.25"/>
    <path d="M 307.803995 121.574492 
L 307.803995 106.997895 
" clip-path="url(#pfbd8692891)" style="fill: none; stroke: #8c564b; stroke-opacity: 0.25; stroke-width: 0.25"/>
    <path d="M 343.484899 95.981016 
L 343.484899 77.072871 
" clip-path="url(#pfbd8692891)" style="fill: none; stroke: #8c564b; stroke-opacity: 0.25; stroke-width: 0.25"/>
    <path d="M 322.883822 112.874135 
L 322.883822 93.184259 
" clip-path="url(#pfbd8692891)" style="fill: none; stroke: #8c564b; stroke-opacity: 0.25; stroke-width: 0.25"/>
    <path d="M 331.946115 108.825036 
L 331.946115 91.809931 
" clip-path="url(#pfbd8692891)" style="fill: none; stroke: #8c564b; stroke-opacity: 0.25; stroke-width: 0.25"/>
    <path d="M 334.118411 105.421937 
L 334.118411 90.351007 
" clip-path="url(#pfbd8692891)" style="fill: none; stroke: #8c564b; stroke-opacity: 0.25; stroke-width: 0.25"/>
    <path d="M 322.800662 113.769912 
L 322.800662 100.884996 
" clip-path="url(#pfbd8692891)" style="fill: none; stroke: #8c564b; stroke-opacity: 0.25; stroke-width: 0.25"/>
    <path d="M 315.367755 110.374518 
L 315.367755 95.598459 
" clip-path="url(#pfbd8692891)" style="fill: none; stroke: #8c564b; stroke-opacity: 0.25; stroke-width: 0.25"/>
    <path d="M 334.384176 107.165713 
L 334.384176 88.373479 
" clip-path="url(#pfbd8692891)" style="fill: none; stroke: #8c564b; stroke-opacity: 0.25; stroke-width: 0.25"/>
    <path d="M 335.926835 108.680633 
L 335.926835 93.36398 
" clip-path="url(#pfbd8692891)" style="fill: none; stroke: #8c564b; stroke-opacity: 0.25; stroke-width: 0.25"/>
    <path d="M 317.471816 122.063284 
L 317.471816 106.633095 
" clip-path="url(#pfbd8692891)" style="fill: none; stroke: #8c564b; stroke-opacity: 0.25; stroke-width: 0.25"/>
    <path d="M 313.899633 119.169784 
L 313.899633 104.906303 
" clip-path="url(#pfbd8692891)" style="fill: none; stroke: #8c564b; stroke-opacity: 0.25; stroke-width: 0.25"/>
    <path d="M 348.60012 89.553623 
L 348.60012 80.648842 
" clip-path="url(#pfbd8692891)" style="fill: none; stroke: #8c564b; stroke-opacity: 0.25; stroke-width: 0.25"/>
    <path d="M 308.011141 120.590651 
L 308.011141 106.519918 
" clip-path="url(#pfbd8692891)" style="fill: none; stroke: #8c564b; stroke-opacity: 0.25; stroke-width: 0.25"/>
    <path d="M 333.469595 110.664801 
L 333.469595 87.127665 
" clip-path="url(#pfbd8692891)" style="fill: none; stroke: #8c564b; stroke-opacity: 0.25; stroke-width: 0.25"/>
    <path d="M 320.554058 113.319916 
L 320.554058 99.381264 
" clip-path="url(#pfbd8692891)" style="fill: none; stroke: #8c564b; stroke-opacity: 0.25; stroke-width: 0.25"/>
    <path d="M 337.127197 105.680685 
L 337.127197 92.602988 
" clip-path="url(#pfbd8692891)" style="fill: none; stroke: #8c564b; stroke-opacity: 0.25; stroke-width: 0.25"/>
    <path d="M 323.783061 111.653983 
L 323.783061 97.382617 
" clip-path="url(#pfbd8692891)" style="fill: none; stroke: #8c564b; stroke-opacity: 0.25; stroke-width: 0.25"/>
    <path d="M 323.995019 115.383642 
L 323.995019 96.007185 
" clip-path="url(#pfbd8692891)" style="fill: none; stroke: #8c564b; stroke-opacity: 0.25; stroke-width: 0.25"/>
    <path d="M 335.407034 106.072194 
L 335.407034 92.941236 
" clip-path="url(#pfbd8692891)" style="fill: none; stroke: #8c564b; stroke-opacity: 0.25; stroke-width: 0.25"/>
    <path d="M 334.855177 106.76345 
L 334.855177 85.643632 
" clip-path="url(#pfbd8692891)" style="fill: none; stroke: #8c564b; stroke-opacity: 0.25; stroke-width: 0.25"/>
    <path d="M 337.093634 99.587428 
L 337.093634 83.7046 
" clip-path="url(#pfbd8692891)" style="fill: none; stroke: #8c564b; stroke-opacity: 0.25; stroke-width: 0.25"/>
    <path d="M 322.521118 109.182659 
L 322.521118 93.621823 
" clip-path="url(#pfbd8692891)" style="fill: none; stroke: #8c564b; stroke-opacity: 0.25; stroke-width: 0.25"/>
    <path d="M 334.722632 102.182984 
L 334.722632 86.285228 
" clip-path="url(#pfbd8692891)" style="fill: none; stroke: #8c564b; stroke-opacity: 0.25; stroke-width: 0.25"/>
    <path d="M 335.56268 106.372205 
L 335.56268 86.482418 
" clip-path="url(#pfbd8692891)" style="fill: none; stroke: #8c564b; stroke-opacity: 0.25; stroke-width: 0.25"/>
    <path d="M 334.830207 98.31418 
L 334.830207 86.023888 
" clip-path="url(#pfbd8692891)" style="fill: none; stroke: #8c564b; stroke-opacity: 0.25; stroke-width: 0.25"/>
    <path d="M 347.173977 91.039232 
L 347.173977 79.489582 
" clip-path="url(#pfbd8692891)" style="fill: none; stroke: #8c564b; stroke-opacity: 0.25; stroke-width: 0.25"/>
    <path d="M 339.708212 102.580865 
L 339.708212 85.591763 
" clip-path="url(#pfbd8692891)" style="fill: none; stroke: #8c564b; stroke-opacity: 0.25; stroke-width: 0.25"/>
    <path d="M 310.035887 117.960227 
L 310.035887 106.991462 
" clip-path="url(#pfbd8692891)" style="fill: none; stroke: #8c564b; stroke-opacity: 0.25; stroke-width: 0.25"/>
    <path d="M 316.082191 114.419444 
L 316.082191 96.828028 
" clip-path="url(#pfbd8692891)" style="fill: none; stroke: #8c564b; stroke-opacity: 0.25; stroke-width: 0.25"/>
    <path d="M 313.234997 125.208023 
L 313.234997 109.796465 
" clip-path="url(#pfbd8692891)" style="fill: none; stroke: #8c564b; stroke-opacity: 0.25; stroke-width: 0.25"/>
    <path d="M 328.598478 100.13534 
L 328.598478 91.584502 
" clip-path="url(#pfbd8692891)" style="fill: none; stroke: #8c564b; stroke-opacity: 0.25; stroke-width: 0.25"/>
    <path d="M 313.175326 114.035465 
L 313.175326 99.82875 
" clip-path="url(#pfbd8692891)" style="fill: none; stroke: #8c564b; stroke-opacity: 0.25; stroke-width: 0.25"/>
    <path d="M 325.179854 112.426556 
L 325.179854 92.102833 
" clip-path="url(#pfbd8692891)" style="fill: none; stroke: #8c564b; stroke-opacity: 0.25; stroke-width: 0.25"/>
    <path d="M 341.724514 92.456524 
L 341.724514 79.771121 
" clip-path="url(#pfbd8692891)" style="fill: none; stroke: #8c564b; stroke-opacity: 0.25; stroke-width: 0.25"/>
    <path d="M 315.872817 123.889564 
L 315.872817 103.576065 
" clip-path="url(#pfbd8692891)" style="fill: none; stroke: #8c564b; stroke-opacity: 0.25; stroke-width: 0.25"/>
    <path d="M 318.046964 108.907369 
L 318.046964 98.469848 
" clip-path="url(#pfbd8692891)" style="fill: none; stroke: #8c564b; stroke-opacity: 0.25; stroke-width: 0.25"/>
    <path d="M 317.456897 108.263746 
L 317.456897 102.041714 
" clip-path="url(#pfbd8692891)" style="fill: none; stroke: #8c564b; stroke-opacity: 0.25; stroke-width: 0.25"/>
    <path d="M 325.381423 114.108827 
L 325.381423 98.733109 
" clip-path="url(#pfbd8692891)" style="fill: none; stroke: #8c564b; stroke-opacity: 0.25; stroke-width: 0.25"/>
    <path d="M 328.223384 104.172134 
L 328.223384 91.626812 
" clip-path="url(#pfbd8692891)" style="fill: none; stroke: #8c564b; stroke-opacity: 0.25; stroke-width: 0.25"/>
    <path d="M 328.448421 105.661541 
L 328.448421 95.691104 
" clip-path="url(#pfbd8692891)" style="fill: none; stroke: #8c564b; stroke-opacity: 0.25; stroke-width: 0.25"/>
    <path d="M 337.512329 101.507613 
L 337.512329 81.724164 
" clip-path="url(#pfbd8692891)" style="fill: none; stroke: #8c564b; stroke-opacity: 0.25; stroke-width: 0.25"/>
    <path d="M 308.544548 123.694467 
L 308.544548 108.537707 
" clip-path="url(#pfbd8692891)" style="fill: none; stroke: #8c564b; stroke-opacity: 0.25; stroke-width: 0.25"/>
    <path d="M 324.333588 109.013488 
L 324.333588 95.843016 
" clip-path="url(#pfbd8692891)" style="fill: none; stroke: #8c564b; stroke-opacity: 0.25; stroke-width: 0.25"/>
    <path d="M 316.028194 113.639318 
L 316.028194 101.250562 
" clip-path="url(#pfbd8692891)" style="fill: none; stroke: #8c564b; stroke-opacity: 0.25; stroke-width: 0.25"/>
    <path d="M 317.036433 126.262175 
L 317.036433 106.044586 
" clip-path="url(#pfbd8692891)" style="fill: none; stroke: #8c564b; stroke-opacity: 0.25; stroke-width: 0.25"/>
    <path d="M 325.6447 112.901245 
L 325.6447 93.720333 
" clip-path="url(#pfbd8692891)" style="fill: none; stroke: #8c564b; stroke-opacity: 0.25; stroke-width: 0.25"/>
    <path d="M 315.983391 118.86102 
L 315.983391 105.533084 
" clip-path="url(#pfbd8692891)" style="fill: none; stroke: #8c564b; stroke-opacity: 0.25; stroke-width: 0.25"/>
    <path d="M 333.002116 113.201588 
L 333.002116 94.750856 
" clip-path="url(#pfbd8692891)" style="fill: none; stroke: #8c564b; stroke-opacity: 0.25; stroke-width: 0.25"/>
    <path d="M 337.591841 109.599108 
L 337.591841 93.72738 
" clip-path="url(#pfbd8692891)" style="fill: none; stroke: #8c564b; stroke-opacity: 0.25; stroke-width: 0.25"/>
    <path d="M 318.295934 114.387152 
L 318.295934 102.203471 
" clip-path="url(#pfbd8692891)" style="fill: none; stroke: #8c564b; stroke-opacity: 0.25; stroke-width: 0.25"/>
    <path d="M 328.18177 109.714882 
L 328.18177 94.395261 
" clip-path="url(#pfbd8692891)" style="fill: none; stroke: #8c564b; stroke-opacity: 0.25; stroke-width: 0.25"/>
    <path d="M 340.044827 103.725919 
L 340.044827 82.460869 
" clip-path="url(#pfbd8692891)" style="fill: none; stroke: #8c564b; stroke-opacity: 0.25; stroke-width: 0.25"/>
    <path d="M 317.253004 120.867852 
L 317.253004 101.617038 
" clip-path="url(#pfbd8692891)" style="fill: none; stroke: #8c564b; stroke-opacity: 0.25; stroke-width: 0.25"/>
    <path d="M 337.968318 103.202985 
L 337.968318 89.031572 
" clip-path="url(#pfbd8692891)" style="fill: none; stroke: #8c564b; stroke-opacity: 0.25; stroke-width: 0.25"/>
    <path d="M 316.44337 128.065406 
L 316.44337 110.025941 
" clip-path="url(#pfbd8692891)" style="fill: none; stroke: #8c564b; stroke-opacity: 0.25; stroke-width: 0.25"/>
    <path d="M 339.355692 111.04786 
L 339.355692 91.452348 
" clip-path="url(#pfbd8692891)" style="fill: none; stroke: #8c564b; stroke-opacity: 0.25; stroke-width: 0.25"/>
    <path d="M 334.260795 106.148359 
L 334.260795 92.331462 
" clip-path="url(#pfbd8692891)" style="fill: none; stroke: #8c564b; stroke-opacity: 0.25; stroke-width: 0.25"/>
    <path d="M 341.453484 96.676675 
L 341.453484 83.736056 
" clip-path="url(#pfbd8692891)" style="fill: none; stroke: #8c564b; stroke-opacity: 0.25; stroke-width: 0.25"/>
    <path d="M 325.990886 111.811288 
L 325.990886 101.038937 
" clip-path="url(#pfbd8692891)" style="fill: none; stroke: #8c564b; stroke-opacity: 0.25; stroke-width: 0.25"/>
    <path d="M 321.484925 116.597776 
L 321.484925 102.078657 
" clip-path="url(#pfbd8692891)" style="fill: none; stroke: #8c564b; stroke-opacity: 0.25; stroke-width: 0.25"/>
    <path d="M 343.127052 94.616154 
L 343.127052 80.889625 
" clip-path="url(#pfbd8692891)" style="fill: none; stroke: #8c564b; stroke-opacity: 0.25; stroke-width: 0.25"/>
    <path d="M 309.957418 127.801444 
L 309.957418 113.322927 
" clip-path="url(#pfbd8692891)" style="fill: none; stroke: #8c564b; stroke-opacity: 0.25; stroke-width: 0.25"/>
    <path d="M 324.401095 111.474626 
L 324.401095 97.935527 
" clip-path="url(#pfbd8692891)" style="fill: none; stroke: #8c564b; stroke-opacity: 0.25; stroke-width: 0.25"/>
    <path d="M 314.848977 117.400367 
L 314.848977 99.962336 
" clip-path="url(#pfbd8692891)" style="fill: none; stroke: #8c564b; stroke-opacity: 0.25; stroke-width: 0.25"/>
    <path d="M 341.813685 91.79973 
L 341.813685 85.859962 
" clip-path="url(#pfbd8692891)" style="fill: none; stroke: #8c564b; stroke-opacity: 0.25; stroke-width: 0.25"/>
    <path d="M 316.877233 125.10137 
L 316.877233 105.472837 
" clip-path="url(#pfbd8692891)" style="fill: none; stroke: #8c564b; stroke-opacity: 0.25; stroke-width: 0.25"/>
    <path d="M 322.986822 113.168405 
L 322.986822 97.32134 
" clip-path="url(#pfbd8692891)" style="fill: none; stroke: #8c564b; stroke-opacity: 0.25; stroke-width: 0.25"/>
    <path d="M 311.493247 120.76151 
L 311.493247 98.9472 
" clip-path="url(#pfbd8692891)" style="fill: none; stroke: #8c564b; stroke-opacity: 0.25; stroke-width: 0.25"/>
    <path d="M 328.891946 112.286279 
L 328.891946 94.448155 
" clip-path="url(#pfbd8692891)" style="fill: none; stroke: #8c564b; stroke-opacity: 0.25; stroke-width: 0.25"/>
    <path d="M 332.950318 105.216688 
L 332.950318 93.035075 
" clip-path="url(#pfbd8692891)" style="fill: none; stroke: #8c564b; stroke-opacity: 0.25; stroke-width: 0.25"/>
    <path d="M 311.935866 121.456373 
L 311.935866 99.704123 
" clip-path="url(#pfbd8692891)" style="fill: none; stroke: #8c564b; stroke-opacity: 0.25; stroke-width: 0.25"/>
    <path d="M 332.364563 106.021273 
L 332.364563 90.165573 
" clip-path="url(#pfbd8692891)" style="fill: none; stroke: #8c564b; stroke-opacity: 0.25; stroke-width: 0.25"/>
    <path d="M 330.623119 112.009859 
L 330.623119 93.498179 
" clip-path="url(#pfbd8692891)" style="fill: none; stroke: #8c564b; stroke-opacity: 0.25; stroke-width: 0.25"/>
    <path d="M 336.621573 103.437008 
L 336.621573 89.409166 
" clip-path="url(#pfbd8692891)" style="fill: none; stroke: #8c564b; stroke-opacity: 0.25; stroke-width: 0.25"/>
    <path d="M 343.801029 91.251366 
L 343.801029 79.848395 
" clip-path="url(#pfbd8692891)" style="fill: none; stroke: #8c564b; stroke-opacity: 0.25; stroke-width: 0.25"/>
    <path d="M 345.877499 92.079521 
L 345.877499 80.354035 
" clip-path="url(#pfbd8692891)" style="fill: none; stroke: #8c564b; stroke-opacity: 0.25; stroke-width: 0.25"/>
    <path d="M 338.42955 99.682237 
L 338.42955 83.135951 
" clip-path="url(#pfbd8692891)" style="fill: none; stroke: #8c564b; stroke-opacity: 0.25; stroke-width: 0.25"/>
    <path d="M 344.1329 100.205258 
L 344.1329 84.533199 
" clip-path="url(#pfbd8692891)" style="fill: none; stroke: #8c564b; stroke-opacity: 0.25; stroke-width: 0.25"/>
    <path d="M 344.173683 98.388086 
L 344.173683 85.301134 
" clip-path="url(#pfbd8692891)" style="fill: none; stroke: #8c564b; stroke-opacity: 0.25; stroke-width: 0.25"/>
    <path d="M 325.607983 102.072299 
L 325.607983 90.271994 
" clip-path="url(#pfbd8692891)" style="fill: none; stroke: #8c564b; stroke-opacity: 0.25; stroke-width: 0.25"/>
    <path d="M 322.291928 116.428251 
L 322.291928 102.947461 
" clip-path="url(#pfbd8692891)" style="fill: none; stroke: #8c564b; stroke-opacity: 0.25; stroke-width: 0.25"/>
    <path d="M 328.493703 106.271873 
L 328.493703 95.950186 
" clip-path="url(#pfbd8692891)" style="fill: none; stroke: #8c564b; stroke-opacity: 0.25; stroke-width: 0.25"/>
    <path d="M 320.493033 118.861809 
L 320.493033 103.45791 
" clip-path="url(#pfbd8692891)" style="fill: none; stroke: #8c564b; stroke-opacity: 0.25; stroke-width: 0.25"/>
    <path d="M 328.246052 106.702374 
L 328.246052 92.277846 
" clip-path="url(#pfbd8692891)" style="fill: none; stroke: #8c564b; stroke-opacity: 0.25; stroke-width: 0.25"/>
    <path d="M 336.900876 99.972307 
L 336.900876 82.577768 
" clip-path="url(#pfbd8692891)" style="fill: none; stroke: #8c564b; stroke-opacity: 0.25; stroke-width: 0.25"/>
    <path d="M 351.166969 84.905286 
L 351.166969 69.221189 
" clip-path="url(#pfbd8692891)" style="fill: none; stroke: #8c564b; stroke-opacity: 0.25; stroke-width: 0.25"/>
    <path d="M 336.115792 101.854224 
L 336.115792 92.05381 
" clip-path="url(#pfbd8692891)" style="fill: none; stroke: #8c564b; stroke-opacity: 0.25; stroke-width: 0.25"/>
    <path d="M 319.066381 116.345252 
L 319.066381 102.585291 
" clip-path="url(#pfbd8692891)" style="fill: none; stroke: #8c564b; stroke-opacity: 0.25; stroke-width: 0.25"/>
    <path d="M 312.989971 120.381929 
L 312.989971 101.46304 
" clip-path="url(#pfbd8692891)" style="fill: none; stroke: #8c564b; stroke-opacity: 0.25; stroke-width: 0.25"/>
    <path d="M 343.058016 95.807827 
L 343.058016 80.618588 
" clip-path="url(#pfbd8692891)" style="fill: none; stroke: #8c564b; stroke-opacity: 0.25; stroke-width: 0.25"/>
    <path d="M 323.483092 116.571678 
L 323.483092 100.850789 
" clip-path="url(#pfbd8692891)" style="fill: none; stroke: #8c564b; stroke-opacity: 0.25; stroke-width: 0.25"/>
    <path d="M 339.474879 95.869058 
L 339.474879 79.561063 
" clip-path="url(#pfbd8692891)" style="fill: none; stroke: #8c564b; stroke-opacity: 0.25; stroke-width: 0.25"/>
    <path d="M 331.349376 102.475751 
L 331.349376 88.253185 
" clip-path="url(#pfbd8692891)" style="fill: none; stroke: #8c564b; stroke-opacity: 0.25; stroke-width: 0.25"/>
    <path d="M 310.745751 113.450205 
L 310.745751 106.840117 
" clip-path="url(#pfbd8692891)" style="fill: none; stroke: #8c564b; stroke-opacity: 0.25; stroke-width: 0.25"/>
    <path d="M 335.97653 102.894739 
L 335.97653 85.317415 
" clip-path="url(#pfbd8692891)" style="fill: none; stroke: #8c564b; stroke-opacity: 0.25; stroke-width: 0.25"/>
    <path d="M 324.266956 110.202655 
L 324.266956 97.181769 
" clip-path="url(#pfbd8692891)" style="fill: none; stroke: #8c564b; stroke-opacity: 0.25; stroke-width: 0.25"/>
    <path d="M 319.780168 116.966416 
L 319.780168 102.509828 
" clip-path="url(#pfbd8692891)" style="fill: none; stroke: #8c564b; stroke-opacity: 0.25; stroke-width: 0.25"/>
    <path d="M 308.29535 123.661121 
L 308.29535 107.236765 
" clip-path="url(#pfbd8692891)" style="fill: none; stroke: #8c564b; stroke-opacity: 0.25; stroke-width: 0.25"/>
    <path d="M 317.250645 110.415059 
L 317.250645 99.726856 
" clip-path="url(#pfbd8692891)" style="fill: none; stroke: #8c564b; stroke-opacity: 0.25; stroke-width: 0.25"/>
    <path d="M 325.231962 110.300986 
L 325.231962 95.421619 
" clip-path="url(#pfbd8692891)" style="fill: none; stroke: #8c564b; stroke-opacity: 0.25; stroke-width: 0.25"/>
    <path d="M 339.242756 96.677708 
L 339.242756 84.05266 
" clip-path="url(#pfbd8692891)" style="fill: none; stroke: #8c564b; stroke-opacity: 0.25; stroke-width: 0.25"/>
    <path d="M 340.452281 99.346491 
L 340.452281 85.077296 
" clip-path="url(#pfbd8692891)" style="fill: none; stroke: #8c564b; stroke-opacity: 0.25; stroke-width: 0.25"/>
    <path d="M 325.039866 109.931824 
L 325.039866 90.421001 
" clip-path="url(#pfbd8692891)" style="fill: none; stroke: #8c564b; stroke-opacity: 0.25; stroke-width: 0.25"/>
    <path d="M 316.689149 121.442618 
L 316.689149 100.469586 
" clip-path="url(#pfbd8692891)" style="fill: none; stroke: #8c564b; stroke-opacity: 0.25; stroke-width: 0.25"/>
    <path d="M 341.022168 96.512067 
L 341.022168 83.829025 
" clip-path="url(#pfbd8692891)" style="fill: none; stroke: #8c564b; stroke-opacity: 0.25; stroke-width: 0.25"/>
    <path d="M 338.72957 105.627713 
L 338.72957 84.733569 
" clip-path="url(#pfbd8692891)" style="fill: none; stroke: #8c564b; stroke-opacity: 0.25; stroke-width: 0.25"/>
    <path d="M 332.743645 109.594014 
L 332.743645 89.083278 
" clip-path="url(#pfbd8692891)" style="fill: none; stroke: #8c564b; stroke-opacity: 0.25; stroke-width: 0.25"/>
    <path d="M 330.521834 103.467691 
L 330.521834 94.092465 
" clip-path="url(#pfbd8692891)" style="fill: none; stroke: #8c564b; stroke-opacity: 0.25; stroke-width: 0.25"/>
    <path d="M 323.229598 111.196773 
L 323.229598 93.647306 
" clip-path="url(#pfbd8692891)" style="fill: none; stroke: #8c564b; stroke-opacity: 0.25; stroke-width: 0.25"/>
    <path d="M 317.737758 118.004045 
L 317.737758 100.927823 
" clip-path="url(#pfbd8692891)" style="fill: none; stroke: #8c564b; stroke-opacity: 0.25; stroke-width: 0.25"/>
    <path d="M 319.744897 115.72269 
L 319.744897 99.878375 
" clip-path="url(#pfbd8692891)" style="fill: none; stroke: #8c564b; stroke-opacity: 0.25; stroke-width: 0.25"/>
    <path d="M 314.053424 119.732097 
L 314.053424 105.204699 
" clip-path="url(#pfbd8692891)" style="fill: none; stroke: #8c564b; stroke-opacity: 0.25; stroke-width: 0.25"/>
    <path d="M 337.224414 102.606631 
L 337.224414 86.518793 
" clip-path="url(#pfbd8692891)" style="fill: none; stroke: #8c564b; stroke-opacity: 0.25; stroke-width: 0.25"/>
    <path d="M 322.120188 111.792811 
L 322.120188 96.399095 
" clip-path="url(#pfbd8692891)" style="fill: none; stroke: #8c564b; stroke-opacity: 0.25; stroke-width: 0.25"/>
    <path d="M 314.058084 122.910256 
L 314.058084 103.447097 
" clip-path="url(#pfbd8692891)" style="fill: none; stroke: #8c564b; stroke-opacity: 0.25; stroke-width: 0.25"/>
    <path d="M 315.250711 119.922074 
L 315.250711 103.875305 
" clip-path="url(#pfbd8692891)" style="fill: none; stroke: #8c564b; stroke-opacity: 0.25; stroke-width: 0.25"/>
    <path d="M 333.62322 102.806205 
L 333.62322 88.539701 
" clip-path="url(#pfbd8692891)" style="fill: none; stroke: #8c564b; stroke-opacity: 0.25; stroke-width: 0.25"/>
    <path d="M 324.382115 117.248985 
L 324.382115 101.215754 
" clip-path="url(#pfbd8692891)" style="fill: none; stroke: #8c564b; stroke-opacity: 0.25; stroke-width: 0.25"/>
    <path d="M 327.256856 106.515829 
L 327.256856 92.184382 
" clip-path="url(#pfbd8692891)" style="fill: none; stroke: #8c564b; stroke-opacity: 0.25; stroke-width: 0.25"/>
    <path d="M 323.239499 120.292074 
L 323.239499 100.58604 
" clip-path="url(#pfbd8692891)" style="fill: none; stroke: #8c564b; stroke-opacity: 0.25; stroke-width: 0.25"/>
    <path d="M 321.577995 112.291665 
L 321.577995 98.050924 
" clip-path="url(#pfbd8692891)" style="fill: none; stroke: #8c564b; stroke-opacity: 0.25; stroke-width: 0.25"/>
    <path d="M 332.465536 104.517564 
L 332.465536 92.388223 
" clip-path="url(#pfbd8692891)" style="fill: none; stroke: #8c564b; stroke-opacity: 0.25; stroke-width: 0.25"/>
    <path d="M 338.867252 92.824799 
L 338.867252 78.231448 
" clip-path="url(#pfbd8692891)" style="fill: none; stroke: #8c564b; stroke-opacity: 0.25; stroke-width: 0.25"/>
    <path d="M 321.216446 101.008708 
L 321.216446 94.790591 
" clip-path="url(#pfbd8692891)" style="fill: none; stroke: #8c564b; stroke-opacity: 0.25; stroke-width: 0.25"/>
    <path d="M 343.552123 99.191058 
L 343.552123 79.501592 
" clip-path="url(#pfbd8692891)" style="fill: none; stroke: #8c564b; stroke-opacity: 0.25; stroke-width: 0.25"/>
    <path d="M 312.383744 118.853975 
L 312.383744 107.370491 
" clip-path="url(#pfbd8692891)" style="fill: none; stroke: #8c564b; stroke-opacity: 0.25; stroke-width: 0.25"/>
    <path d="M 327.146606 106.186678 
L 327.146606 96.512741 
" clip-path="url(#pfbd8692891)" style="fill: none; stroke: #8c564b; stroke-opacity: 0.25; stroke-width: 0.25"/>
    <path d="M 327.218154 108.849646 
L 327.218154 93.814328 
" clip-path="url(#pfbd8692891)" style="fill: none; stroke: #8c564b; stroke-opacity: 0.25; stroke-width: 0.25"/>
    <path d="M 310.374908 118.723534 
L 310.374908 107.235279 
" clip-path="url(#pfbd8692891)" style="fill: none; stroke: #8c564b; stroke-opacity: 0.25; stroke-width: 0.25"/>
    <path d="M 345.623726 93.859788 
L 345.623726 74.027681 
" clip-path="url(#pfbd8692891)" style="fill: none; stroke: #8c564b; stroke-opacity: 0.25; stroke-width: 0.25"/>
    <path d="M 323.107794 111.802056 
L 323.107794 92.974673 
" clip-path="url(#pfbd8692891)" style="fill: none; stroke: #8c564b; stroke-opacity: 0.25; stroke-width: 0.25"/>
    <path d="M 316.927456 116.135459 
L 316.927456 101.056796 
" clip-path="url(#pfbd8692891)" style="fill: none; stroke: #8c564b; stroke-opacity: 0.25; stroke-width: 0.25"/>
    <path d="M 343.614428 88.086382 
L 343.614428 79.028221 
" clip-path="url(#pfbd8692891)" style="fill: none; stroke: #8c564b; stroke-opacity: 0.25; stroke-width: 0.25"/>
    <path d="M 325.847918 111.572435 
L 325.847918 99.070595 
" clip-path="url(#pfbd8692891)" style="fill: none; stroke: #8c564b; stroke-opacity: 0.25; stroke-width: 0.25"/>
    <path d="M 321.621731 113.791828 
L 321.621731 98.075177 
" clip-path="url(#pfbd8692891)" style="fill: none; stroke: #8c564b; stroke-opacity: 0.25; stroke-width: 0.25"/>
    <path d="M 329.650643 106.144732 
L 329.650643 92.040136 
" clip-path="url(#pfbd8692891)" style="fill: none; stroke: #8c564b; stroke-opacity: 0.25; stroke-width: 0.25"/>
    <path d="M 335.390102 106.10422 
L 335.390102 88.649578 
" clip-path="url(#pfbd8692891)" style="fill: none; stroke: #8c564b; stroke-opacity: 0.25; stroke-width: 0.25"/>
    <path d="M 312.016221 117.952447 
L 312.016221 101.591329 
" clip-path="url(#pfbd8692891)" style="fill: none; stroke: #8c564b; stroke-opacity: 0.25; stroke-width: 0.25"/>
    <path d="M 329.501299 110.988437 
L 329.501299 96.418137 
" clip-path="url(#pfbd8692891)" style="fill: none; stroke: #8c564b; stroke-opacity: 0.25; stroke-width: 0.25"/>
    <path d="M 329.982523 106.230365 
L 329.982523 91.200464 
" clip-path="url(#pfbd8692891)" style="fill: none; stroke: #8c564b; stroke-opacity: 0.25; stroke-width: 0.25"/>
    <path d="M 318.221345 123.317783 
L 318.221345 103.553408 
" clip-path="url(#pfbd8692891)" style="fill: none; stroke: #8c564b; stroke-opacity: 0.25; stroke-width: 0.25"/>
    <path d="M 341.496753 105.856649 
L 341.496753 82.248579 
" clip-path="url(#pfbd8692891)" style="fill: none; stroke: #8c564b; stroke-opacity: 0.25; stroke-width: 0.25"/>
    <path d="M 316.881078 118.994744 
L 316.881078 102.372477 
" clip-path="url(#pfbd8692891)" style="fill: none; stroke: #8c564b; stroke-opacity: 0.25; stroke-width: 0.25"/>
    <path d="M 320.661133 112.845993 
L 320.661133 105.452621 
" clip-path="url(#pfbd8692891)" style="fill: none; stroke: #8c564b; stroke-opacity: 0.25; stroke-width: 0.25"/>
    <path d="M 337.286823 99.039741 
L 337.286823 86.374226 
" clip-path="url(#pfbd8692891)" style="fill: none; stroke: #8c564b; stroke-opacity: 0.25; stroke-width: 0.25"/>
    <path d="M 316.914706 122.524261 
L 316.914706 102.307253 
" clip-path="url(#pfbd8692891)" style="fill: none; stroke: #8c564b; stroke-opacity: 0.25; stroke-width: 0.25"/>
    <path d="M 328.211277 111.703069 
L 328.211277 88.159626 
" clip-path="url(#pfbd8692891)" style="fill: none; stroke: #8c564b; stroke-opacity: 0.25; stroke-width: 0.25"/>
    <path d="M 315.583735 115.781219 
L 315.583735 102.512869 
" clip-path="url(#pfbd8692891)" style="fill: none; stroke: #8c564b; stroke-opacity: 0.25; stroke-width: 0.25"/>
    <path d="M 310.059579 119.66096 
L 310.059579 108.972037 
" clip-path="url(#pfbd8692891)" style="fill: none; stroke: #8c564b; stroke-opacity: 0.25; stroke-width: 0.25"/>
    <path d="M 321.280096 123.813998 
L 321.280096 99.450691 
" clip-path="url(#pfbd8692891)" style="fill: none; stroke: #8c564b; stroke-opacity: 0.25; stroke-width: 0.25"/>
    <path d="M 345.925553 99.084123 
L 345.925553 78.12329 
" clip-path="url(#pfbd8692891)" style="fill: none; stroke: #8c564b; stroke-opacity: 0.25; stroke-width: 0.25"/>
    <path d="M 335.611937 110.409447 
L 335.611937 92.898495 
" clip-path="url(#pfbd8692891)" style="fill: none; stroke: #8c564b; stroke-opacity: 0.25; stroke-width: 0.25"/>
    <path d="M 340.270516 99.675362 
L 340.270516 80.948299 
" clip-path="url(#pfbd8692891)" style="fill: none; stroke: #8c564b; stroke-opacity: 0.25; stroke-width: 0.25"/>
    <path d="M 321.311978 112.872995 
L 321.311978 96.322488 
" clip-path="url(#pfbd8692891)" style="fill: none; stroke: #8c564b; stroke-opacity: 0.25; stroke-width: 0.25"/>
    <path d="M 319.048354 112.564837 
L 319.048354 100.110521 
" clip-path="url(#pfbd8692891)" style="fill: none; stroke: #8c564b; stroke-opacity: 0.25; stroke-width: 0.25"/>
    <path d="M 330.387214 109.502479 
L 330.387214 89.947135 
" clip-path="url(#pfbd8692891)" style="fill: none; stroke: #8c564b; stroke-opacity: 0.25; stroke-width: 0.25"/>
    <path d="M 325.244405 116.70555 
L 325.244405 103.336549 
" clip-path="url(#pfbd8692891)" style="fill: none; stroke: #8c564b; stroke-opacity: 0.25; stroke-width: 0.25"/>
    <path d="M 334.671949 100.89981 
L 334.671949 85.585776 
" clip-path="url(#pfbd8692891)" style="fill: none; stroke: #8c564b; stroke-opacity: 0.25; stroke-width: 0.25"/>
    <path d="M 313.214043 108.163814 
L 313.214043 93.05589 
" clip-path="url(#pfbd8692891)" style="fill: none; stroke: #8c564b; stroke-opacity: 0.25; stroke-width: 0.25"/>
    <path d="M 321.003001 113.201146 
L 321.003001 96.612319 
" clip-path="url(#pfbd8692891)" style="fill: none; stroke: #8c564b; stroke-opacity: 0.25; stroke-width: 0.25"/>
    <path d="M 328.395651 109.926381 
L 328.395651 96.102136 
" clip-path="url(#pfbd8692891)" style="fill: none; stroke: #8c564b; stroke-opacity: 0.25; stroke-width: 0.25"/>
    <path d="M 331.349001 101.919594 
L 331.349001 92.982853 
" clip-path="url(#pfbd8692891)" style="fill: none; stroke: #8c564b; stroke-opacity: 0.25; stroke-width: 0.25"/>
    <path d="M 311.180862 111.535756 
L 311.180862 105.152247 
" clip-path="url(#pfbd8692891)" style="fill: none; stroke: #8c564b; stroke-opacity: 0.25; stroke-width: 0.25"/>
    <path d="M 316.864416 112.403895 
L 316.864416 101.075886 
" clip-path="url(#pfbd8692891)" style="fill: none; stroke: #8c564b; stroke-opacity: 0.25; stroke-width: 0.25"/>
    <path d="M 339.512879 102.23972 
L 339.512879 83.510229 
" clip-path="url(#pfbd8692891)" style="fill: none; stroke: #8c564b; stroke-opacity: 0.25; stroke-width: 0.25"/>
    <path d="M 330.438787 116.830035 
L 330.438787 93.553712 
" clip-path="url(#pfbd8692891)" style="fill: none; stroke: #8c564b; stroke-opacity: 0.25; stroke-width: 0.25"/>
    <path d="M 322.194968 107.760337 
L 322.194968 98.720971 
" clip-path="url(#pfbd8692891)" style="fill: none; stroke: #8c564b; stroke-opacity: 0.25; stroke-width: 0.25"/>
    <path d="M 339.674789 91.315373 
L 339.674789 78.656122 
" clip-path="url(#pfbd8692891)" style="fill: none; stroke: #8c564b; stroke-opacity: 0.25; stroke-width: 0.25"/>
    <path d="M 323.710528 109.67982 
L 323.710528 97.472991 
" clip-path="url(#pfbd8692891)" style="fill: none; stroke: #8c564b; stroke-opacity: 0.25; stroke-width: 0.25"/>
    <path d="M 309.524331 123.799919 
L 309.524331 108.730307 
" clip-path="url(#pfbd8692891)" style="fill: none; stroke: #8c564b; stroke-opacity: 0.25; stroke-width: 0.25"/>
    <path d="M 320.362231 120.845687 
L 320.362231 109.293397 
" clip-path="url(#pfbd8692891)" style="fill: none; stroke: #8c564b; stroke-opacity: 0.25; stroke-width: 0.25"/>
    <path d="M 315.898119 121.384155 
L 315.898119 103.098605 
" clip-path="url(#pfbd8692891)" style="fill: none; stroke: #8c564b; stroke-opacity: 0.25; stroke-width: 0.25"/>
    <path d="M 312.729209 121.660825 
L 312.729209 105.520154 
" clip-path="url(#pfbd8692891)" style="fill: none; stroke: #8c564b; stroke-opacity: 0.25; stroke-width: 0.25"/>
    <path d="M 343.401762 87.182371 
L 343.401762 77.563805 
" clip-path="url(#pfbd8692891)" style="fill: none; stroke: #8c564b; stroke-opacity: 0.25; stroke-width: 0.25"/>
    <path d="M 308.944351 115.354537 
L 308.944351 108.729644 
" clip-path="url(#pfbd8692891)" style="fill: none; stroke: #8c564b; stroke-opacity: 0.25; stroke-width: 0.25"/>
    <path d="M 334.181656 102.764717 
L 334.181656 90.892862 
" clip-path="url(#pfbd8692891)" style="fill: none; stroke: #8c564b; stroke-opacity: 0.25; stroke-width: 0.25"/>
    <path d="M 328.983092 109.33195 
L 328.983092 92.936487 
" clip-path="url(#pfbd8692891)" style="fill: none; stroke: #8c564b; stroke-opacity: 0.25; stroke-width: 0.25"/>
    <path d="M 330.90897 113.733396 
L 330.90897 94.060107 
" clip-path="url(#pfbd8692891)" style="fill: none; stroke: #8c564b; stroke-opacity: 0.25; stroke-width: 0.25"/>
    <path d="M 317.910691 110.398187 
L 317.910691 96.590092 
" clip-path="url(#pfbd8692891)" style="fill: none; stroke: #8c564b; stroke-opacity: 0.25; stroke-width: 0.25"/>
    <path d="M 337.859224 100.09084 
L 337.859224 89.761459 
" clip-path="url(#pfbd8692891)" style="fill: none; stroke: #8c564b; stroke-opacity: 0.25; stroke-width: 0.25"/>
    <path d="M 351.121583 97.272841 
L 351.121583 73.384786 
" clip-path="url(#pfbd8692891)" style="fill: none; stroke: #8c564b; stroke-opacity: 0.25; stroke-width: 0.25"/>
    <path d="M 334.438132 106.546155 
L 334.438132 87.538773 
" clip-path="url(#pfbd8692891)" style="fill: none; stroke: #8c564b; stroke-opacity: 0.25; stroke-width: 0.25"/>
    <path d="M 319.996872 113.429327 
L 319.996872 104.180541 
" clip-path="url(#pfbd8692891)" style="fill: none; stroke: #8c564b; stroke-opacity: 0.25; stroke-width: 0.25"/>
    <path d="M 337.37755 98.889816 
L 337.37755 88.308338 
" clip-path="url(#pfbd8692891)" style="fill: none; stroke: #8c564b; stroke-opacity: 0.25; stroke-width: 0.25"/>
    <path d="M 348.705937 90.065016 
L 348.705937 81.038535 
" clip-path="url(#pfbd8692891)" style="fill: none; stroke: #8c564b; stroke-opacity: 0.25; stroke-width: 0.25"/>
    <path d="M 327.207681 112.872744 
L 327.207681 96.58734 
" clip-path="url(#pfbd8692891)" style="fill: none; stroke: #8c564b; stroke-opacity: 0.25; stroke-width: 0.25"/>
    <path d="M 319.042862 110.220648 
L 319.042862 93.676913 
" clip-path="url(#pfbd8692891)" style="fill: none; stroke: #8c564b; stroke-opacity: 0.25; stroke-width: 0.25"/>
    <path d="M 311.595961 112.552302 
L 311.595961 105.245373 
" clip-path="url(#pfbd8692891)" style="fill: none; stroke: #8c564b; stroke-opacity: 0.25; stroke-width: 0.25"/>
    <path d="M 323.632742 112.651808 
L 323.632742 99.056817 
" clip-path="url(#pfbd8692891)" style="fill: none; stroke: #8c564b; stroke-opacity: 0.25; stroke-width: 0.25"/>
    <path d="M 325.798438 107.491932 
L 325.798438 92.450401 
" clip-path="url(#pfbd8692891)" style="fill: none; stroke: #8c564b; stroke-opacity: 0.25; stroke-width: 0.25"/>
    <path d="M 323.801087 106.061913 
L 323.801087 93.253583 
" clip-path="url(#pfbd8692891)" style="fill: none; stroke: #8c564b; stroke-opacity: 0.25; stroke-width: 0.25"/>
    <path d="M 336.105296 102.491335 
L 336.105296 87.366404 
" clip-path="url(#pfbd8692891)" style="fill: none; stroke: #8c564b; stroke-opacity: 0.25; stroke-width: 0.25"/>
    <path d="M 344.432711 93.204161 
L 344.432711 75.781241 
" clip-path="url(#pfbd8692891)" style="fill: none; stroke: #8c564b; stroke-opacity: 0.25; stroke-width: 0.25"/>
    <path d="M 318.137146 118.071617 
L 318.137146 107.034918 
" clip-path="url(#pfbd8692891)" style="fill: none; stroke: #8c564b; stroke-opacity: 0.25; stroke-width: 0.25"/>
    <path d="M 311.63301 125.993009 
L 311.63301 109.207512 
" clip-path="url(#pfbd8692891)" style="fill: none; stroke: #8c564b; stroke-opacity: 0.25; stroke-width: 0.25"/>
    <path d="M 319.455786 114.823679 
L 319.455786 97.505619 
" clip-path="url(#pfbd8692891)" style="fill: none; stroke: #8c564b; stroke-opacity: 0.25; stroke-width: 0.25"/>
    <path d="M 325.414823 102.233372 
L 325.414823 86.363446 
" clip-path="url(#pfbd8692891)" style="fill: none; stroke: #8c564b; stroke-opacity: 0.25; stroke-width: 0.25"/>
    <path d="M 314.067402 118.354853 
L 314.067402 107.852044 
" clip-path="url(#pfbd8692891)" style="fill: none; stroke: #8c564b; stroke-opacity: 0.25; stroke-width: 0.25"/>
    <path d="M 311.386994 109.881137 
L 311.386994 101.214651 
" clip-path="url(#pfbd8692891)" style="fill: none; stroke: #8c564b; stroke-opacity: 0.25; stroke-width: 0.25"/>
    <path d="M 326.169882 106.939645 
L 326.169882 92.547857 
" clip-path="url(#pfbd8692891)" style="fill: none; stroke: #8c564b; stroke-opacity: 0.25; stroke-width: 0.25"/>
    <path d="M 317.558442 121.044154 
L 317.558442 99.795893 
" clip-path="url(#pfbd8692891)" style="fill: none; stroke: #8c564b; stroke-opacity: 0.25; stroke-width: 0.25"/>
    <path d="M 338.957925 97.570587 
L 338.957925 80.801346 
" clip-path="url(#pfbd8692891)" style="fill: none; stroke: #8c564b; stroke-opacity: 0.25; stroke-width: 0.25"/>
    <path d="M 317.800893 112.295791 
L 317.800893 98.690967 
" clip-path="url(#pfbd8692891)" style="fill: none; stroke: #8c564b; stroke-opacity: 0.25; stroke-width: 0.25"/>
    <path d="M 336.146645 104.037996 
L 336.146645 88.626829 
" clip-path="url(#pfbd8692891)" style="fill: none; stroke: #8c564b; stroke-opacity: 0.25; stroke-width: 0.25"/>
    <path d="M 313.743755 125.68334 
L 313.743755 109.768114 
" clip-path="url(#pfbd8692891)" style="fill: none; stroke: #8c564b; stroke-opacity: 0.25; stroke-width: 0.25"/>
    <path d="M 323.065305 104.003163 
L 323.065305 98.732105 
" clip-path="url(#pfbd8692891)" style="fill: none; stroke: #8c564b; stroke-opacity: 0.25; stroke-width: 0.25"/>
    <path d="M 334.676436 104.526595 
L 334.676436 87.111066 
" clip-path="url(#pfbd8692891)" style="fill: none; stroke: #8c564b; stroke-opacity: 0.25; stroke-width: 0.25"/>
    <path d="M 325.76765 109.585226 
L 325.76765 98.264937 
" clip-path="url(#pfbd8692891)" style="fill: none; stroke: #8c564b; stroke-opacity: 0.25; stroke-width: 0.25"/>
    <path d="M 324.00539 109.912667 
L 324.00539 90.093469 
" clip-path="url(#pfbd8692891)" style="fill: none; stroke: #8c564b; stroke-opacity: 0.25; stroke-width: 0.25"/>
    <path d="M 336.500284 104.792175 
L 336.500284 87.212535 
" clip-path="url(#pfbd8692891)" style="fill: none; stroke: #8c564b; stroke-opacity: 0.25; stroke-width: 0.25"/>
    <path d="M 322.718592 119.071143 
L 322.718592 97.481277 
" clip-path="url(#pfbd8692891)" style="fill: none; stroke: #8c564b; stroke-opacity: 0.25; stroke-width: 0.25"/>
    <path d="M 325.343993 113.13615 
L 325.343993 96.049421 
" clip-path="url(#pfbd8692891)" style="fill: none; stroke: #8c564b; stroke-opacity: 0.25; stroke-width: 0.25"/>
    <path d="M 347.465312 91.736369 
L 347.465312 74.437849 
" clip-path="url(#pfbd8692891)" style="fill: none; stroke: #8c564b; stroke-opacity: 0.25; stroke-width: 0.25"/>
    <path d="M 319.729139 113.830506 
L 319.729139 99.288572 
" clip-path="url(#pfbd8692891)" style="fill: none; stroke: #8c564b; stroke-opacity: 0.25; stroke-width: 0.25"/>
    <path d="M 335.688491 96.864246 
L 335.688491 94.461618 
" clip-path="url(#pfbd8692891)" style="fill: none; stroke: #8c564b; stroke-opacity: 0.25; stroke-width: 0.25"/>
    <path d="M 310.460449 127.732181 
L 310.460449 107.30782 
" clip-path="url(#pfbd8692891)" style="fill: none; stroke: #8c564b; stroke-opacity: 0.25; stroke-width: 0.25"/>
    <path d="M 345.831277 91.746173 
L 345.831277 82.105719 
" clip-path="url(#pfbd8692891)" style="fill: none; stroke: #8c564b; stroke-opacity: 0.25; stroke-width: 0.25"/>
    <path d="M 337.398391 96.674015 
L 337.398391 79.282416 
" clip-path="url(#pfbd8692891)" style="fill: none; stroke: #8c564b; stroke-opacity: 0.25; stroke-width: 0.25"/>
    <path d="M 334.690073 101.615719 
L 334.690073 87.574639 
" clip-path="url(#pfbd8692891)" style="fill: none; stroke: #8c564b; stroke-opacity: 0.25; stroke-width: 0.25"/>
    <path d="M 314.463355 121.527723 
L 314.463355 103.119383 
" clip-path="url(#pfbd8692891)" style="fill: none; stroke: #8c564b; stroke-opacity: 0.25; stroke-width: 0.25"/>
    <path d="M 332.559694 106.575709 
L 332.559694 91.198316 
" clip-path="url(#pfbd8692891)" style="fill: none; stroke: #8c564b; stroke-opacity: 0.25; stroke-width: 0.25"/>
    <path d="M 322.841837 115.848199 
L 322.841837 99.006813 
" clip-path="url(#pfbd8692891)" style="fill: none; stroke: #8c564b; stroke-opacity: 0.25; stroke-width: 0.25"/>
    <path d="M 323.969901 114.716038 
L 323.969901 100.951529 
" clip-path="url(#pfbd8692891)" style="fill: none; stroke: #8c564b; stroke-opacity: 0.25; stroke-width: 0.25"/>
    <path d="M 331.182657 111.838528 
L 331.182657 87.636579 
" clip-path="url(#pfbd8692891)" style="fill: none; stroke: #8c564b; stroke-opacity: 0.25; stroke-width: 0.25"/>
    <path d="M 322.223701 109.119907 
L 322.223701 98.060446 
" clip-path="url(#pfbd8692891)" style="fill: none; stroke: #8c564b; stroke-opacity: 0.25; stroke-width: 0.25"/>
    <path d="M 323.140896 114.424537 
L 323.140896 97.063469 
" clip-path="url(#pfbd8692891)" style="fill: none; stroke: #8c564b; stroke-opacity: 0.25; stroke-width: 0.25"/>
    <path d="M 345.024058 102.271323 
L 345.024058 81.192215 
" clip-path="url(#pfbd8692891)" style="fill: none; stroke: #8c564b; stroke-opacity: 0.25; stroke-width: 0.25"/>
    <path d="M 318.700393 116.435723 
L 318.700393 100.098676 
" clip-path="url(#pfbd8692891)" style="fill: none; stroke: #8c564b; stroke-opacity: 0.25; stroke-width: 0.25"/>
    <path d="M 329.691839 114.15461 
L 329.691839 93.676981 
" clip-path="url(#pfbd8692891)" style="fill: none; stroke: #8c564b; stroke-opacity: 0.25; stroke-width: 0.25"/>
    <path d="M 329.763358 108.02981 
L 329.763358 93.496788 
" clip-path="url(#pfbd8692891)" style="fill: none; stroke: #8c564b; stroke-opacity: 0.25; stroke-width: 0.25"/>
    <path d="M 325.301201 111.570033 
L 325.301201 94.485834 
" clip-path="url(#pfbd8692891)" style="fill: none; stroke: #8c564b; stroke-opacity: 0.25; stroke-width: 0.25"/>
    <path d="M 342.68031 101.408146 
L 342.68031 82.113058 
" clip-path="url(#pfbd8692891)" style="fill: none; stroke: #8c564b; stroke-opacity: 0.25; stroke-width: 0.25"/>
    <path d="M 322.070391 114.692046 
L 322.070391 98.545805 
" clip-path="url(#pfbd8692891)" style="fill: none; stroke: #8c564b; stroke-opacity: 0.25; stroke-width: 0.25"/>
    <path d="M 334.123826 102.1687 
L 334.123826 95.861199 
" clip-path="url(#pfbd8692891)" style="fill: none; stroke: #8c564b; stroke-opacity: 0.25; stroke-width: 0.25"/>
    <path d="M 321.40579 120.426793 
L 321.40579 98.83685 
" clip-path="url(#pfbd8692891)" style="fill: none; stroke: #8c564b; stroke-opacity: 0.25; stroke-width: 0.25"/>
    <path d="M 326.769263 104.99758 
L 326.769263 91.534084 
" clip-path="url(#pfbd8692891)" style="fill: none; stroke: #8c564b; stroke-opacity: 0.25; stroke-width: 0.25"/>
    <path d="M 310.078028 118.293253 
L 310.078028 105.023894 
" clip-path="url(#pfbd8692891)" style="fill: none; stroke: #8c564b; stroke-opacity: 0.25; stroke-width: 0.25"/>
    <path d="M 316.068877 122.518556 
L 316.068877 100.171257 
" clip-path="url(#pfbd8692891)" style="fill: none; stroke: #8c564b; stroke-opacity: 0.25; stroke-width: 0.25"/>
    <path d="M 329.403503 113.145248 
L 329.403503 93.833169 
" clip-path="url(#pfbd8692891)" style="fill: none; stroke: #8c564b; stroke-opacity: 0.25; stroke-width: 0.25"/>
    <path d="M 319.994534 110.86639 
L 319.994534 96.00475 
" clip-path="url(#pfbd8692891)" style="fill: none; stroke: #8c564b; stroke-opacity: 0.25; stroke-width: 0.25"/>
    <path d="M 338.722389 89.949529 
L 338.722389 83.309011 
" clip-path="url(#pfbd8692891)" style="fill: none; stroke: #8c564b; stroke-opacity: 0.25; stroke-width: 0.25"/>
    <path d="M 330.268944 105.948565 
L 330.268944 91.668904 
" clip-path="url(#pfbd8692891)" style="fill: none; stroke: #8c564b; stroke-opacity: 0.25; stroke-width: 0.25"/>
    <path d="M 345.321551 96.390267 
L 345.321551 79.183479 
" clip-path="url(#pfbd8692891)" style="fill: none; stroke: #8c564b; stroke-opacity: 0.25; stroke-width: 0.25"/>
    <path d="M 324.983363 112.844287 
L 324.983363 95.891864 
" clip-path="url(#pfbd8692891)" style="fill: none; stroke: #8c564b; stroke-opacity: 0.25; stroke-width: 0.25"/>
    <path d="M 314.749321 113.980737 
L 314.749321 97.40593 
" clip-path="url(#pfbd8692891)" style="fill: none; stroke: #8c564b; stroke-opacity: 0.25; stroke-width: 0.25"/>
    <path d="M 326.698482 108.924148 
L 326.698482 95.093301 
" clip-path="url(#pfbd8692891)" style="fill: none; stroke: #8c564b; stroke-opacity: 0.25; stroke-width: 0.25"/>
    <path d="M 318.95831 107.938631 
L 318.95831 97.053871 
" clip-path="url(#pfbd8692891)" style="fill: none; stroke: #8c564b; stroke-opacity: 0.25; stroke-width: 0.25"/>
    <path d="M 312.145742 121.262879 
L 312.145742 100.083213 
" clip-path="url(#pfbd8692891)" style="fill: none; stroke: #8c564b; stroke-opacity: 0.25; stroke-width: 0.25"/>
    <path d="M 327.994973 112.104116 
L 327.994973 91.201304 
" clip-path="url(#pfbd8692891)" style="fill: none; stroke: #8c564b; stroke-opacity: 0.25; stroke-width: 0.25"/>
    <path d="M 337.941458 104.33618 
L 337.941458 86.275648 
" clip-path="url(#pfbd8692891)" style="fill: none; stroke: #8c564b; stroke-opacity: 0.25; stroke-width: 0.25"/>
    <path d="M 316.227833 113.128009 
L 316.227833 98.839504 
" clip-path="url(#pfbd8692891)" style="fill: none; stroke: #8c564b; stroke-opacity: 0.25; stroke-width: 0.25"/>
    <path d="M 324.93718 100.312773 
L 324.93718 91.357021 
" clip-path="url(#pfbd8692891)" style="fill: none; stroke: #8c564b; stroke-opacity: 0.25; stroke-width: 0.25"/>
    <path d="M 322.427756 111.762045 
L 322.427756 97.08649 
" clip-path="url(#pfbd8692891)" style="fill: none; stroke: #8c564b; stroke-opacity: 0.25; stroke-width: 0.25"/>
    <path d="M 322.251079 108.540721 
L 322.251079 99.565404 
" clip-path="url(#pfbd8692891)" style="fill: none; stroke: #8c564b; stroke-opacity: 0.25; stroke-width: 0.25"/>
    <path d="M 327.741372 113.864572 
L 327.741372 96.407833 
" clip-path="url(#pfbd8692891)" style="fill: none; stroke: #8c564b; stroke-opacity: 0.25; stroke-width: 0.25"/>
    <path d="M 329.727773 104.907104 
L 329.727773 91.504871 
" clip-path="url(#pfbd8692891)" style="fill: none; stroke: #8c564b; stroke-opacity: 0.25; stroke-width: 0.25"/>
    <path d="M 336.481735 105.285368 
L 336.481735 93.244522 
" clip-path="url(#pfbd8692891)" style="fill: none; stroke: #8c564b; stroke-opacity: 0.25; stroke-width: 0.25"/>
    <path d="M 347.892203 93.603954 
L 347.892203 77.889224 
" clip-path="url(#pfbd8692891)" style="fill: none; stroke: #8c564b; stroke-opacity: 0.25; stroke-width: 0.25"/>
    <path d="M 328.965952 110.421718 
L 328.965952 95.48926 
" clip-path="url(#pfbd8692891)" style="fill: none; stroke: #8c564b; stroke-opacity: 0.25; stroke-width: 0.25"/>
    <path d="M 330.65001 103.967749 
L 330.65001 87.630553 
" clip-path="url(#pfbd8692891)" style="fill: none; stroke: #8c564b; stroke-opacity: 0.25; stroke-width: 0.25"/>
    <path d="M 340.195927 102.908197 
L 340.195927 86.723165 
" clip-path="url(#pfbd8692891)" style="fill: none; stroke: #8c564b; stroke-opacity: 0.25; stroke-width: 0.25"/>
    <path d="M 322.013958 112.874917 
L 322.013958 103.315624 
" clip-path="url(#pfbd8692891)" style="fill: none; stroke: #8c564b; stroke-opacity: 0.25; stroke-width: 0.25"/>
    <path d="M 328.631158 103.95589 
L 328.631158 94.48647 
" clip-path="url(#pfbd8692891)" style="fill: none; stroke: #8c564b; stroke-opacity: 0.25; stroke-width: 0.25"/>
    <path d="M 319.432614 113.13961 
L 319.432614 101.21696 
" clip-path="url(#pfbd8692891)" style="fill: none; stroke: #8c564b; stroke-opacity: 0.25; stroke-width: 0.25"/>
    <path d="M 319.617775 113.384354 
L 319.617775 97.636514 
" clip-path="url(#pfbd8692891)" style="fill: none; stroke: #8c564b; stroke-opacity: 0.25; stroke-width: 0.25"/>
    <path d="M 317.254801 116.20279 
L 317.254801 104.013193 
" clip-path="url(#pfbd8692891)" style="fill: none; stroke: #8c564b; stroke-opacity: 0.25; stroke-width: 0.25"/>
    <path d="M 321.859909 126.464203 
L 321.859909 109.057601 
" clip-path="url(#pfbd8692891)" style="fill: none; stroke: #8c564b; stroke-opacity: 0.25; stroke-width: 0.25"/>
    <path d="M 326.837271 103.523567 
L 326.837271 93.524454 
" clip-path="url(#pfbd8692891)" style="fill: none; stroke: #8c564b; stroke-opacity: 0.25; stroke-width: 0.25"/>
    <path d="M 326.164623 110.35355 
L 326.164623 95.467098 
" clip-path="url(#pfbd8692891)" style="fill: none; stroke: #8c564b; stroke-opacity: 0.25; stroke-width: 0.25"/>
    <path d="M 320.367546 114.862621 
L 320.367546 96.123496 
" clip-path="url(#pfbd8692891)" style="fill: none; stroke: #8c564b; stroke-opacity: 0.25; stroke-width: 0.25"/>
    <path d="M 323.519821 114.846024 
L 323.519821 105.418993 
" clip-path="url(#pfbd8692891)" style="fill: none; stroke: #8c564b; stroke-opacity: 0.25; stroke-width: 0.25"/>
    <path d="M 340.181586 102.307064 
L 340.181586 84.009739 
" clip-path="url(#pfbd8692891)" style="fill: none; stroke: #8c564b; stroke-opacity: 0.25; stroke-width: 0.25"/>
    <path d="M 324.223923 115.206232 
L 324.223923 99.041049 
" clip-path="url(#pfbd8692891)" style="fill: none; stroke: #8c564b; stroke-opacity: 0.25; stroke-width: 0.25"/>
    <path d="M 327.180899 109.768973 
L 327.180899 92.869527 
" clip-path="url(#pfbd8692891)" style="fill: none; stroke: #8c564b; stroke-opacity: 0.25; stroke-width: 0.25"/>
    <path d="M 328.941529 108.488508 
L 328.941529 83.532658 
" clip-path="url(#pfbd8692891)" style="fill: none; stroke: #8c564b; stroke-opacity: 0.25; stroke-width: 0.25"/>
    <path d="M 339.784982 99.840997 
L 339.784982 87.739243 
" clip-path="url(#pfbd8692891)" style="fill: none; stroke: #8c564b; stroke-opacity: 0.25; stroke-width: 0.25"/>
    <path d="M 314.811263 124.774833 
L 314.811263 112.582319 
" clip-path="url(#pfbd8692891)" style="fill: none; stroke: #8c564b; stroke-opacity: 0.25; stroke-width: 0.25"/>
    <path d="M 333.844806 105.165711 
L 333.844806 89.296931 
" clip-path="url(#pfbd8692891)" style="fill: none; stroke: #8c564b; stroke-opacity: 0.25; stroke-width: 0.25"/>
    <path d="M 309.07155 121.462906 
L 309.07155 103.565429 
" clip-path="url(#pfbd8692891)" style="fill: none; stroke: #8c564b; stroke-opacity: 0.25; stroke-width: 0.25"/>
    <path d="M 340.576042 100.032659 
L 340.576042 84.243026 
" clip-path="url(#pfbd8692891)" style="fill: none; stroke: #8c564b; stroke-opacity: 0.25; stroke-width: 0.25"/>
    <path d="M 324.399575 111.700717 
L 324.399575 98.908658 
" clip-path="url(#pfbd8692891)" style="fill: none; stroke: #8c564b; stroke-opacity: 0.25; stroke-width: 0.25"/>
    <path d="M 325.971098 107.967689 
L 325.971098 93.416851 
" clip-path="url(#pfbd8692891)" style="fill: none; stroke: #8c564b; stroke-opacity: 0.25; stroke-width: 0.25"/>
    <path d="M 326.91868 111.317611 
L 326.91868 88.543531 
" clip-path="url(#pfbd8692891)" style="fill: none; stroke: #8c564b; stroke-opacity: 0.25; stroke-width: 0.25"/>
    <path d="M 337.252039 106.225553 
L 337.252039 83.810682 
" clip-path="url(#pfbd8692891)" style="fill: none; stroke: #8c564b; stroke-opacity: 0.25; stroke-width: 0.25"/>
    <path d="M 330.194343 97.184881 
L 330.194343 88.453256 
" clip-path="url(#pfbd8692891)" style="fill: none; stroke: #8c564b; stroke-opacity: 0.25; stroke-width: 0.25"/>
    <path d="M 338.497853 97.225473 
L 338.497853 80.649956 
" clip-path="url(#pfbd8692891)" style="fill: none; stroke: #8c564b; stroke-opacity: 0.25; stroke-width: 0.25"/>
    <path d="M 315.676565 115.540311 
L 315.676565 104.771775 
" clip-path="url(#pfbd8692891)" style="fill: none; stroke: #8c564b; stroke-opacity: 0.25; stroke-width: 0.25"/>
    <path d="M 314.621972 128.457072 
L 314.621972 112.007382 
" clip-path="url(#pfbd8692891)" style="fill: none; stroke: #8c564b; stroke-opacity: 0.25; stroke-width: 0.25"/>
    <path d="M 344.363941 85.999543 
L 344.363941 74.630301 
" clip-path="url(#pfbd8692891)" style="fill: none; stroke: #8c564b; stroke-opacity: 0.25; stroke-width: 0.25"/>
    <path d="M 322.56006 112.247038 
L 322.56006 99.571426 
" clip-path="url(#pfbd8692891)" style="fill: none; stroke: #8c564b; stroke-opacity: 0.25; stroke-width: 0.25"/>
    <path d="M 336.115032 103.182759 
L 336.115032 88.26916 
" clip-path="url(#pfbd8692891)" style="fill: none; stroke: #8c564b; stroke-opacity: 0.25; stroke-width: 0.25"/>
    <path d="M 336.904917 99.421703 
L 336.904917 86.738881 
" clip-path="url(#pfbd8692891)" style="fill: none; stroke: #8c564b; stroke-opacity: 0.25; stroke-width: 0.25"/>
    <path d="M 334.523558 105.89777 
L 334.523558 86.921496 
" clip-path="url(#pfbd8692891)" style="fill: none; stroke: #8c564b; stroke-opacity: 0.25; stroke-width: 0.25"/>
    <path d="M 309.051568 124.797703 
L 309.051568 107.027609 
" clip-path="url(#pfbd8692891)" style="fill: none; stroke: #8c564b; stroke-opacity: 0.25; stroke-width: 0.25"/>
    <path d="M 322.98411 113.318158 
L 322.98411 95.732527 
" clip-path="url(#pfbd8692891)" style="fill: none; stroke: #8c564b; stroke-opacity: 0.25; stroke-width: 0.25"/>
    <path d="M 326.287368 110.433021 
L 326.287368 93.701874 
" clip-path="url(#pfbd8692891)" style="fill: none; stroke: #8c564b; stroke-opacity: 0.25; stroke-width: 0.25"/>
    <path d="M 338.22309 98.686769 
L 338.22309 82.013048 
" clip-path="url(#pfbd8692891)" style="fill: none; stroke: #8c564b; stroke-opacity: 0.25; stroke-width: 0.25"/>
    <path d="M 322.821332 120.94673 
L 322.821332 98.162445 
" clip-path="url(#pfbd8692891)" style="fill: none; stroke: #8c564b; stroke-opacity: 0.25; stroke-width: 0.25"/>
    <path d="M 318.948816 114.594389 
L 318.948816 103.585896 
" clip-path="url(#pfbd8692891)" style="fill: none; stroke: #8c564b; stroke-opacity: 0.25; stroke-width: 0.25"/>
    <path d="M 322.385895 114.940524 
L 322.385895 101.28677 
" clip-path="url(#pfbd8692891)" style="fill: none; stroke: #8c564b; stroke-opacity: 0.25; stroke-width: 0.25"/>
    <path d="M 328.110361 114.045335 
L 328.110361 102.560569 
" clip-path="url(#pfbd8692891)" style="fill: none; stroke: #8c564b; stroke-opacity: 0.25; stroke-width: 0.25"/>
    <path d="M 314.806622 122.427019 
L 314.806622 99.918513 
" clip-path="url(#pfbd8692891)" style="fill: none; stroke: #8c564b; stroke-opacity: 0.25; stroke-width: 0.25"/>
    <path d="M 346.708151 94.222297 
L 346.708151 76.683537 
" clip-path="url(#pfbd8692891)" style="fill: none; stroke: #8c564b; stroke-opacity: 0.25; stroke-width: 0.25"/>
    <path d="M 328.258045 99.493572 
L 328.258045 93.280226 
" clip-path="url(#pfbd8692891)" style="fill: none; stroke: #8c564b; stroke-opacity: 0.25; stroke-width: 0.25"/>
    <path d="M 318.063331 110.972171 
L 318.063331 99.320403 
" clip-path="url(#pfbd8692891)" style="fill: none; stroke: #8c564b; stroke-opacity: 0.25; stroke-width: 0.25"/>
    <path d="M 322.796721 118.800707 
L 322.796721 102.936493 
" clip-path="url(#pfbd8692891)" style="fill: none; stroke: #8c564b; stroke-opacity: 0.25; stroke-width: 0.25"/>
    <path d="M 320.182443 113.16194 
L 320.182443 96.149459 
" clip-path="url(#pfbd8692891)" style="fill: none; stroke: #8c564b; stroke-opacity: 0.25; stroke-width: 0.25"/>
    <path d="M 346.890059 91.505053 
L 346.890059 75.300194 
" clip-path="url(#pfbd8692891)" style="fill: none; stroke: #8c564b; stroke-opacity: 0.25; stroke-width: 0.25"/>
    <path d="M 319.344966 115.002376 
L 319.344966 101.737071 
" clip-path="url(#pfbd8692891)" style="fill: none; stroke: #8c564b; stroke-opacity: 0.25; stroke-width: 0.25"/>
    <path d="M 336.264969 97.32993 
L 336.264969 82.777673 
" clip-path="url(#pfbd8692891)" style="fill: none; stroke: #8c564b; stroke-opacity: 0.25; stroke-width: 0.25"/>
    <path d="M 327.397879 108.021324 
L 327.397879 92.658753 
" clip-path="url(#pfbd8692891)" style="fill: none; stroke: #8c564b; stroke-opacity: 0.25; stroke-width: 0.25"/>
    <path d="M 345.22843 103.339886 
L 345.22843 88.095398 
" clip-path="url(#pfbd8692891)" style="fill: none; stroke: #8c564b; stroke-opacity: 0.25; stroke-width: 0.25"/>
    <path d="M 340.752871 102.648072 
L 340.752871 86.572123 
" clip-path="url(#pfbd8692891)" style="fill: none; stroke: #8c564b; stroke-opacity: 0.25; stroke-width: 0.25"/>
    <path d="M 328.580664 106.929681 
L 328.580664 93.782195 
" clip-path="url(#pfbd8692891)" style="fill: none; stroke: #8c564b; stroke-opacity: 0.25; stroke-width: 0.25"/>
    <path d="M 310.296033 125.897438 
L 310.296033 106.745033 
" clip-path="url(#pfbd8692891)" style="fill: none; stroke: #8c564b; stroke-opacity: 0.25; stroke-width: 0.25"/>
    <path d="M 340.774345 97.919073 
L 340.774345 77.485593 
" clip-path="url(#pfbd8692891)" style="fill: none; stroke: #8c564b; stroke-opacity: 0.25; stroke-width: 0.25"/>
    <path d="M 325.992528 109.527787 
L 325.992528 92.689961 
" clip-path="url(#pfbd8692891)" style="fill: none; stroke: #8c564b; stroke-opacity: 0.25; stroke-width: 0.25"/>
    <path d="M 323.691463 104.345307 
L 323.691463 92.772015 
" clip-path="url(#pfbd8692891)" style="fill: none; stroke: #8c564b; stroke-opacity: 0.25; stroke-width: 0.25"/>
    <path d="M 328.376577 108.735349 
L 328.376577 91.300611 
" clip-path="url(#pfbd8692891)" style="fill: none; stroke: #8c564b; stroke-opacity: 0.25; stroke-width: 0.25"/>
    <path d="M 317.840279 104.272544 
L 317.840279 89.81603 
" clip-path="url(#pfbd8692891)" style="fill: none; stroke: #8c564b; stroke-opacity: 0.25; stroke-width: 0.25"/>
    <path d="M 316.491459 111.934079 
L 316.491459 102.933306 
" clip-path="url(#pfbd8692891)" style="fill: none; stroke: #8c564b; stroke-opacity: 0.25; stroke-width: 0.25"/>
    <path d="M 329.362362 105.820476 
L 329.362362 90.748651 
" clip-path="url(#pfbd8692891)" style="fill: none; stroke: #8c564b; stroke-opacity: 0.25; stroke-width: 0.25"/>
    <path d="M 314.270837 119.653305 
L 314.270837 101.141128 
" clip-path="url(#pfbd8692891)" style="fill: none; stroke: #8c564b; stroke-opacity: 0.25; stroke-width: 0.25"/>
    <path d="M 319.792722 116.862056 
L 319.792722 106.072505 
" clip-path="url(#pfbd8692891)" style="fill: none; stroke: #8c564b; stroke-opacity: 0.25; stroke-width: 0.25"/>
    <path d="M 313.27697 115.213969 
L 313.27697 103.433329 
" clip-path="url(#pfbd8692891)" style="fill: none; stroke: #8c564b; stroke-opacity: 0.25; stroke-width: 0.25"/>
    <path d="M 327.764957 108.32997 
L 327.764957 93.203378 
" clip-path="url(#pfbd8692891)" style="fill: none; stroke: #8c564b; stroke-opacity: 0.25; stroke-width: 0.25"/>
    <path d="M 344.649263 108.178954 
L 344.649263 81.570486 
" clip-path="url(#pfbd8692891)" style="fill: none; stroke: #8c564b; stroke-opacity: 0.25; stroke-width: 0.25"/>
    <path d="M 330.152067 104.420346 
L 330.152067 94.26833 
" clip-path="url(#pfbd8692891)" style="fill: none; stroke: #8c564b; stroke-opacity: 0.25; stroke-width: 0.25"/>
    <path d="M 316.290195 112.90549 
L 316.290195 95.314018 
" clip-path="url(#pfbd8692891)" style="fill: none; stroke: #8c564b; stroke-opacity: 0.25; stroke-width: 0.25"/>
    <path d="M 328.153524 113.835589 
L 328.153524 92.069266 
" clip-path="url(#pfbd8692891)" style="fill: none; stroke: #8c564b; stroke-opacity: 0.25; stroke-width: 0.25"/>
    <path d="M 342.173757 94.664288 
L 342.173757 79.490483 
" clip-path="url(#pfbd8692891)" style="fill: none; stroke: #8c564b; stroke-opacity: 0.25; stroke-width: 0.25"/>
    <path d="M 307.23906 120.564667 
L 307.23906 106.063389 
" clip-path="url(#pfbd8692891)" style="fill: none; stroke: #8c564b; stroke-opacity: 0.25; stroke-width: 0.25"/>
    <path d="M 333.287924 102.692321 
L 333.287924 88.701684 
" clip-path="url(#pfbd8692891)" style="fill: none; stroke: #8c564b; stroke-opacity: 0.25; stroke-width: 0.25"/>
    <path d="M 321.450864 111.453488 
L 321.450864 97.705737 
" clip-path="url(#pfbd8692891)" style="fill: none; stroke: #8c564b; stroke-opacity: 0.25; stroke-width: 0.25"/>
    <path d="M 316.871047 127.098933 
L 316.871047 104.355384 
" clip-path="url(#pfbd8692891)" style="fill: none; stroke: #8c564b; stroke-opacity: 0.25; stroke-width: 0.25"/>
    <path d="M 319.199094 115.900539 
L 319.199094 99.925236 
" clip-path="url(#pfbd8692891)" style="fill: none; stroke: #8c564b; stroke-opacity: 0.25; stroke-width: 0.25"/>
    <path d="M 325.625624 109.088153 
L 325.625624 93.390523 
" clip-path="url(#pfbd8692891)" style="fill: none; stroke: #8c564b; stroke-opacity: 0.25; stroke-width: 0.25"/>
    <path d="M 323.72507 114.839549 
L 323.72507 99.200536 
" clip-path="url(#pfbd8692891)" style="fill: none; stroke: #8c564b; stroke-opacity: 0.25; stroke-width: 0.25"/>
    <path d="M 343.208488 103.187538 
L 343.208488 86.960232 
" clip-path="url(#pfbd8692891)" style="fill: none; stroke: #8c564b; stroke-opacity: 0.25; stroke-width: 0.25"/>
    <path d="M 319.896468 124.228206 
L 319.896468 99.566397 
" clip-path="url(#pfbd8692891)" style="fill: none; stroke: #8c564b; stroke-opacity: 0.25; stroke-width: 0.25"/>
    <path d="M 319.325486 119.253949 
L 319.325486 99.074176 
" clip-path="url(#pfbd8692891)" style="fill: none; stroke: #8c564b; stroke-opacity: 0.25; stroke-width: 0.25"/>
    <path d="M 327.698169 105.895277 
L 327.698169 94.751796 
" clip-path="url(#pfbd8692891)" style="fill: none; stroke: #8c564b; stroke-opacity: 0.25; stroke-width: 0.25"/>
    <path d="M 341.620189 99.026312 
L 341.620189 78.362577 
" clip-path="url(#pfbd8692891)" style="fill: none; stroke: #8c564b; stroke-opacity: 0.25; stroke-width: 0.25"/>
    <path d="M 341.435486 97.016405 
L 341.435486 86.460652 
" clip-path="url(#pfbd8692891)" style="fill: none; stroke: #8c564b; stroke-opacity: 0.25; stroke-width: 0.25"/>
    <path d="M 347.668323 94.395044 
L 347.668323 76.371211 
" clip-path="url(#pfbd8692891)" style="fill: none; stroke: #8c564b; stroke-opacity: 0.25; stroke-width: 0.25"/>
    <path d="M 351.911005 93.6651 
L 351.911005 79.995265 
" clip-path="url(#pfbd8692891)" style="fill: none; stroke: #8c564b; stroke-opacity: 0.25; stroke-width: 0.25"/>
    <path d="M 325.944731 120.867381 
L 325.944731 99.153629 
" clip-path="url(#pfbd8692891)" style="fill: none; stroke: #8c564b; stroke-opacity: 0.25; stroke-width: 0.25"/>
    <path d="M 311.296137 119.883213 
L 311.296137 104.833759 
" clip-path="url(#pfbd8692891)" style="fill: none; stroke: #8c564b; stroke-opacity: 0.25; stroke-width: 0.25"/>
    <path d="M 315.828852 119.053409 
L 315.828852 101.586498 
" clip-path="url(#pfbd8692891)" style="fill: none; stroke: #8c564b; stroke-opacity: 0.25; stroke-width: 0.25"/>
    <path d="M 316.666778 123.326444 
L 316.666778 110.751848 
" clip-path="url(#pfbd8692891)" style="fill: none; stroke: #8c564b; stroke-opacity: 0.25; stroke-width: 0.25"/>
    <path d="M 317.258857 109.758807 
L 317.258857 103.690191 
" clip-path="url(#pfbd8692891)" style="fill: none; stroke: #8c564b; stroke-opacity: 0.25; stroke-width: 0.25"/>
    <path d="M 309.82872 112.935728 
L 309.82872 101.266109 
" clip-path="url(#pfbd8692891)" style="fill: none; stroke: #8c564b; stroke-opacity: 0.25; stroke-width: 0.25"/>
    <path d="M 344.529662 89.457064 
L 344.529662 78.194026 
" clip-path="url(#pfbd8692891)" style="fill: none; stroke: #8c564b; stroke-opacity: 0.25; stroke-width: 0.25"/>
    <path d="M 337.127646 101.872055 
L 337.127646 83.997033 
" clip-path="url(#pfbd8692891)" style="fill: none; stroke: #8c564b; stroke-opacity: 0.25; stroke-width: 0.25"/>
    <path d="M 320.382463 112.974777 
L 320.382463 102.499839 
" clip-path="url(#pfbd8692891)" style="fill: none; stroke: #8c564b; stroke-opacity: 0.25; stroke-width: 0.25"/>
    <path d="M 327.180503 100.67318 
L 327.180503 84.685342 
" clip-path="url(#pfbd8692891)" style="fill: none; stroke: #8c564b; stroke-opacity: 0.25; stroke-width: 0.25"/>
    <path d="M 312.725529 120.891227 
L 312.725529 104.972478 
" clip-path="url(#pfbd8692891)" style="fill: none; stroke: #8c564b; stroke-opacity: 0.25; stroke-width: 0.25"/>
    <path d="M 337.325234 104.208956 
L 337.325234 88.690542 
" clip-path="url(#pfbd8692891)" style="fill: none; stroke: #8c564b; stroke-opacity: 0.25; stroke-width: 0.25"/>
    <path d="M 349.371299 94.443889 
L 349.371299 84.261234 
" clip-path="url(#pfbd8692891)" style="fill: none; stroke: #8c564b; stroke-opacity: 0.25; stroke-width: 0.25"/>
    <path d="M 314.603316 124.978668 
L 314.603316 105.068279 
" clip-path="url(#pfbd8692891)" style="fill: none; stroke: #8c564b; stroke-opacity: 0.25; stroke-width: 0.25"/>
    <path d="M 337.225155 102.356121 
L 337.225155 90.214917 
" clip-path="url(#pfbd8692891)" style="fill: none; stroke: #8c564b; stroke-opacity: 0.25; stroke-width: 0.25"/>
    <path d="M 322.613018 110.342631 
L 322.613018 100.056694 
" clip-path="url(#pfbd8692891)" style="fill: none; stroke: #8c564b; stroke-opacity: 0.25; stroke-width: 0.25"/>
    <path d="M 317.228072 120.264953 
L 317.228072 102.751522 
" clip-path="url(#pfbd8692891)" style="fill: none; stroke: #8c564b; stroke-opacity: 0.25; stroke-width: 0.25"/>
    <path d="M 328.37274 116.951075 
L 328.37274 98.336825 
" clip-path="url(#pfbd8692891)" style="fill: none; stroke: #8c564b; stroke-opacity: 0.25; stroke-width: 0.25"/>
    <path d="M 308.793553 131.434672 
L 308.793553 115.564028 
" clip-path="url(#pfbd8692891)" style="fill: none; stroke: #8c564b; stroke-opacity: 0.25; stroke-width: 0.25"/>
    <path d="M 317.147 117.573652 
L 317.147 106.120806 
" clip-path="url(#pfbd8692891)" style="fill: none; stroke: #8c564b; stroke-opacity: 0.25; stroke-width: 0.25"/>
    <path d="M 340.7031 104.019305 
L 340.7031 84.128489 
" clip-path="url(#pfbd8692891)" style="fill: none; stroke: #8c564b; stroke-opacity: 0.25; stroke-width: 0.25"/>
    <path d="M 321.145467 116.721032 
L 321.145467 100.979289 
" clip-path="url(#pfbd8692891)" style="fill: none; stroke: #8c564b; stroke-opacity: 0.25; stroke-width: 0.25"/>
    <path d="M 321.965884 108.606028 
L 321.965884 92.64306 
" clip-path="url(#pfbd8692891)" style="fill: none; stroke: #8c564b; stroke-opacity: 0.25; stroke-width: 0.25"/>
    <path d="M 334.268299 105.738707 
L 334.268299 89.116069 
" clip-path="url(#pfbd8692891)" style="fill: none; stroke: #8c564b; stroke-opacity: 0.25; stroke-width: 0.25"/>
    <path d="M 322.347844 112.499461 
L 322.347844 104.322742 
" clip-path="url(#pfbd8692891)" style="fill: none; stroke: #8c564b; stroke-opacity: 0.25; stroke-width: 0.25"/>
    <path d="M 324.058472 111.666974 
L 324.058472 92.726094 
" clip-path="url(#pfbd8692891)" style="fill: none; stroke: #8c564b; stroke-opacity: 0.25; stroke-width: 0.25"/>
    <path d="M 319.12064 115.375629 
L 319.12064 99.390363 
" clip-path="url(#pfbd8692891)" style="fill: none; stroke: #8c564b; stroke-opacity: 0.25; stroke-width: 0.25"/>
    <path d="M 330.415609 107.155369 
L 330.415609 92.542693 
" clip-path="url(#pfbd8692891)" style="fill: none; stroke: #8c564b; stroke-opacity: 0.25; stroke-width: 0.25"/>
    <path d="M 340.495727 97.865978 
L 340.495727 78.955583 
" clip-path="url(#pfbd8692891)" style="fill: none; stroke: #8c564b; stroke-opacity: 0.25; stroke-width: 0.25"/>
    <path d="M 318.281678 114.70963 
L 318.281678 98.828976 
" clip-path="url(#pfbd8692891)" style="fill: none; stroke: #8c564b; stroke-opacity: 0.25; stroke-width: 0.25"/>
    <path d="M 321.422134 109.996429 
L 321.422134 103.2351 
" clip-path="url(#pfbd8692891)" style="fill: none; stroke: #8c564b; stroke-opacity: 0.25; stroke-width: 0.25"/>
    <path d="M 313.317376 118.51569 
L 313.317376 104.503091 
" clip-path="url(#pfbd8692891)" style="fill: none; stroke: #8c564b; stroke-opacity: 0.25; stroke-width: 0.25"/>
    <path d="M 315.061456 121.346117 
L 315.061456 103.854214 
" clip-path="url(#pfbd8692891)" style="fill: none; stroke: #8c564b; stroke-opacity: 0.25; stroke-width: 0.25"/>
    <path d="M 336.30171 108.850383 
L 336.30171 87.325209 
" clip-path="url(#pfbd8692891)" style="fill: none; stroke: #8c564b; stroke-opacity: 0.25; stroke-width: 0.25"/>
    <path d="M 315.609206 117.923032 
L 315.609206 104.022842 
" clip-path="url(#pfbd8692891)" style="fill: none; stroke: #8c564b; stroke-opacity: 0.25; stroke-width: 0.25"/>
    <path d="M 319.783935 112.479565 
L 319.783935 90.745576 
" clip-path="url(#pfbd8692891)" style="fill: none; stroke: #8c564b; stroke-opacity: 0.25; stroke-width: 0.25"/>
    <path d="M 339.482792 97.87536 
L 339.482792 82.187574 
" clip-path="url(#pfbd8692891)" style="fill: none; stroke: #8c564b; stroke-opacity: 0.25; stroke-width: 0.25"/>
    <path d="M 318.571575 117.399445 
L 318.571575 96.368684 
" clip-path="url(#pfbd8692891)" style="fill: none; stroke: #8c564b; stroke-opacity: 0.25; stroke-width: 0.25"/>
    <path d="M 339.993472 106.00761 
L 339.993472 85.460278 
" clip-path="url(#pfbd8692891)" style="fill: none; stroke: #8c564b; stroke-opacity: 0.25; stroke-width: 0.25"/>
    <path d="M 345.416993 98.104342 
L 345.416993 79.299782 
" clip-path="url(#pfbd8692891)" style="fill: none; stroke: #8c564b; stroke-opacity: 0.25; stroke-width: 0.25"/>
    <path d="M 324.26872 115.912026 
L 324.26872 102.688143 
" clip-path="url(#pfbd8692891)" style="fill: none; stroke: #8c564b; stroke-opacity: 0.25; stroke-width: 0.25"/>
    <path d="M 325.590306 108.500301 
L 325.590306 91.512814 
" clip-path="url(#pfbd8692891)" style="fill: none; stroke: #8c564b; stroke-opacity: 0.25; stroke-width: 0.25"/>
    <path d="M 316.068877 118.573882 
L 316.068877 102.836746 
" clip-path="url(#pfbd8692891)" style="fill: none; stroke: #8c564b; stroke-opacity: 0.25; stroke-width: 0.25"/>
    <path d="M 346.246695 97.355352 
L 346.246695 78.754247 
" clip-path="url(#pfbd8692891)" style="fill: none; stroke: #8c564b; stroke-opacity: 0.25; stroke-width: 0.25"/>
    <path d="M 330.54143 102.893498 
L 330.54143 94.150231 
" clip-path="url(#pfbd8692891)" style="fill: none; stroke: #8c564b; stroke-opacity: 0.25; stroke-width: 0.25"/>
    <path d="M 334.826701 108.065968 
L 334.826701 86.812363 
" clip-path="url(#pfbd8692891)" style="fill: none; stroke: #8c564b; stroke-opacity: 0.25; stroke-width: 0.25"/>
    <path d="M 309.275234 115.547317 
L 309.275234 110.11169 
" clip-path="url(#pfbd8692891)" style="fill: none; stroke: #8c564b; stroke-opacity: 0.25; stroke-width: 0.25"/>
    <path d="M 347.667904 91.419237 
L 347.667904 85.174075 
" clip-path="url(#pfbd8692891)" style="fill: none; stroke: #8c564b; stroke-opacity: 0.25; stroke-width: 0.25"/>
    <path d="M 318.971563 111.317423 
L 318.971563 96.183341 
" clip-path="url(#pfbd8692891)" style="fill: none; stroke: #8c564b; stroke-opacity: 0.25; stroke-width: 0.25"/>
    <path d="M 318.708938 115.44187 
L 318.708938 102.890482 
" clip-path="url(#pfbd8692891)" style="fill: none; stroke: #8c564b; stroke-opacity: 0.25; stroke-width: 0.25"/>
    <path d="M 319.539653 109.014156 
L 319.539653 96.73702 
" clip-path="url(#pfbd8692891)" style="fill: none; stroke: #8c564b; stroke-opacity: 0.25; stroke-width: 0.25"/>
    <path d="M 341.835402 97.25978 
L 341.835402 80.571567 
" clip-path="url(#pfbd8692891)" style="fill: none; stroke: #8c564b; stroke-opacity: 0.25; stroke-width: 0.25"/>
    <path d="M 341.677088 98.886216 
L 341.677088 84.828689 
" clip-path="url(#pfbd8692891)" style="fill: none; stroke: #8c564b; stroke-opacity: 0.25; stroke-width: 0.25"/>
    <path d="M 317.812183 118.653436 
L 317.812183 105.25447 
" clip-path="url(#pfbd8692891)" style="fill: none; stroke: #8c564b; stroke-opacity: 0.25; stroke-width: 0.25"/>
    <path d="M 338.628538 99.594434 
L 338.628538 86.06314 
" clip-path="url(#pfbd8692891)" style="fill: none; stroke: #8c564b; stroke-opacity: 0.25; stroke-width: 0.25"/>
    <path d="M 337.680999 109.194566 
L 337.680999 94.395805 
" clip-path="url(#pfbd8692891)" style="fill: none; stroke: #8c564b; stroke-opacity: 0.25; stroke-width: 0.25"/>
    <path d="M 328.59089 106.950529 
L 328.59089 92.582421 
" clip-path="url(#pfbd8692891)" style="fill: none; stroke: #8c564b; stroke-opacity: 0.25; stroke-width: 0.25"/>
    <path d="M 323.82758 109.532949 
L 323.82758 102.006681 
" clip-path="url(#pfbd8692891)" style="fill: none; stroke: #8c564b; stroke-opacity: 0.25; stroke-width: 0.25"/>
    <path d="M 311.299191 114.033038 
L 311.299191 104.42916 
" clip-path="url(#pfbd8692891)" style="fill: none; stroke: #8c564b; stroke-opacity: 0.25; stroke-width: 0.25"/>
    <path d="M 326.156306 107.054738 
L 326.156306 86.37152 
" clip-path="url(#pfbd8692891)" style="fill: none; stroke: #8c564b; stroke-opacity: 0.25; stroke-width: 0.25"/>
    <path d="M 340.5906 99.437894 
L 340.5906 88.415206 
" clip-path="url(#pfbd8692891)" style="fill: none; stroke: #8c564b; stroke-opacity: 0.25; stroke-width: 0.25"/>
    <path d="M 346.979825 90.002488 
L 346.979825 79.964278 
" clip-path="url(#pfbd8692891)" style="fill: none; stroke: #8c564b; stroke-opacity: 0.25; stroke-width: 0.25"/>
    <path d="M 338.292067 106.819888 
L 338.292067 94.812333 
" clip-path="url(#pfbd8692891)" style="fill: none; stroke: #8c564b; stroke-opacity: 0.25; stroke-width: 0.25"/>
    <path d="M 334.61576 101.579827 
L 334.61576 86.456599 
" clip-path="url(#pfbd8692891)" style="fill: none; stroke: #8c564b; stroke-opacity: 0.25; stroke-width: 0.25"/>
    <path d="M 322.170507 114.272245 
L 322.170507 99.735398 
" clip-path="url(#pfbd8692891)" style="fill: none; stroke: #8c564b; stroke-opacity: 0.25; stroke-width: 0.25"/>
    <path d="M 316.277641 114.264327 
L 316.277641 101.042466 
" clip-path="url(#pfbd8692891)" style="fill: none; stroke: #8c564b; stroke-opacity: 0.25; stroke-width: 0.25"/>
    <path d="M 326.290046 115.823831 
L 326.290046 99.134615 
" clip-path="url(#pfbd8692891)" style="fill: none; stroke: #8c564b; stroke-opacity: 0.25; stroke-width: 0.25"/>
    <path d="M 311.994227 112.561743 
L 311.994227 96.391087 
" clip-path="url(#pfbd8692891)" style="fill: none; stroke: #8c564b; stroke-opacity: 0.25; stroke-width: 0.25"/>
    <path d="M 321.860348 112.735901 
L 321.860348 96.78526 
" clip-path="url(#pfbd8692891)" style="fill: none; stroke: #8c564b; stroke-opacity: 0.25; stroke-width: 0.25"/>
    <path d="M 327.368407 108.597666 
L 327.368407 85.289056 
" clip-path="url(#pfbd8692891)" style="fill: none; stroke: #8c564b; stroke-opacity: 0.25; stroke-width: 0.25"/>
    <path d="M 312.870524 122.215074 
L 312.870524 105.056849 
" clip-path="url(#pfbd8692891)" style="fill: none; stroke: #8c564b; stroke-opacity: 0.25; stroke-width: 0.25"/>
    <path d="M 336.567219 105.407505 
L 336.567219 89.810976 
" clip-path="url(#pfbd8692891)" style="fill: none; stroke: #8c564b; stroke-opacity: 0.25; stroke-width: 0.25"/>
    <path d="M 328.313692 112.645343 
L 328.313692 94.253794 
" clip-path="url(#pfbd8692891)" style="fill: none; stroke: #8c564b; stroke-opacity: 0.25; stroke-width: 0.25"/>
    <path d="M 339.261946 101.758589 
L 339.261946 85.855391 
" clip-path="url(#pfbd8692891)" style="fill: none; stroke: #8c564b; stroke-opacity: 0.25; stroke-width: 0.25"/>
    <path d="M 321.636529 122.31382 
L 321.636529 101.342748 
" clip-path="url(#pfbd8692891)" style="fill: none; stroke: #8c564b; stroke-opacity: 0.25; stroke-width: 0.25"/>
    <path d="M 328.020088 110.445227 
L 328.020088 97.020305 
" clip-path="url(#pfbd8692891)" style="fill: none; stroke: #8c564b; stroke-opacity: 0.25; stroke-width: 0.25"/>
    <path d="M 323.9147 109.363356 
L 323.9147 100.705236 
" clip-path="url(#pfbd8692891)" style="fill: none; stroke: #8c564b; stroke-opacity: 0.25; stroke-width: 0.25"/>
    <path d="M 314.102772 123.258206 
L 314.102772 104.773379 
" clip-path="url(#pfbd8692891)" style="fill: none; stroke: #8c564b; stroke-opacity: 0.25; stroke-width: 0.25"/>
    <path d="M 339.684813 102.183817 
L 339.684813 83.664396 
" clip-path="url(#pfbd8692891)" style="fill: none; stroke: #8c564b; stroke-opacity: 0.25; stroke-width: 0.25"/>
    <path d="M 348.878607 90.160261 
L 348.878607 76.74237 
" clip-path="url(#pfbd8692891)" style="fill: none; stroke: #8c564b; stroke-opacity: 0.25; stroke-width: 0.25"/>
    <path d="M 326.247682 113.026842 
L 326.247682 91.970722 
" clip-path="url(#pfbd8692891)" style="fill: none; stroke: #8c564b; stroke-opacity: 0.25; stroke-width: 0.25"/>
    <path d="M 334.788889 103.329273 
L 334.788889 85.822493 
" clip-path="url(#pfbd8692891)" style="fill: none; stroke: #8c564b; stroke-opacity: 0.25; stroke-width: 0.25"/>
    <path d="M 341.82611 96.992441 
L 341.82611 87.711978 
" clip-path="url(#pfbd8692891)" style="fill: none; stroke: #8c564b; stroke-opacity: 0.25; stroke-width: 0.25"/>
    <path d="M 309.555764 122.843684 
L 309.555764 111.90971 
" clip-path="url(#pfbd8692891)" style="fill: none; stroke: #8c564b; stroke-opacity: 0.25; stroke-width: 0.25"/>
    <path d="M 329.467482 114.433308 
L 329.467482 97.314675 
" clip-path="url(#pfbd8692891)" style="fill: none; stroke: #8c564b; stroke-opacity: 0.25; stroke-width: 0.25"/>
    <path d="M 340.298505 94.212742 
L 340.298505 84.181439 
" clip-path="url(#pfbd8692891)" style="fill: none; stroke: #8c564b; stroke-opacity: 0.25; stroke-width: 0.25"/>
    <path d="M 319.316071 113.780076 
L 319.316071 100.082232 
" clip-path="url(#pfbd8692891)" style="fill: none; stroke: #8c564b; stroke-opacity: 0.25; stroke-width: 0.25"/>
    <path d="M 321.377507 123.400212 
L 321.377507 101.097401 
" clip-path="url(#pfbd8692891)" style="fill: none; stroke: #8c564b; stroke-opacity: 0.25; stroke-width: 0.25"/>
    <path d="M 324.659437 112.539706 
L 324.659437 96.589366 
" clip-path="url(#pfbd8692891)" style="fill: none; stroke: #8c564b; stroke-opacity: 0.25; stroke-width: 0.25"/>
    <path d="M 338.589606 99.338453 
L 338.589606 85.050472 
" clip-path="url(#pfbd8692891)" style="fill: none; stroke: #8c564b; stroke-opacity: 0.25; stroke-width: 0.25"/>
    <path d="M 323.73572 109.546873 
L 323.73572 100.627073 
" clip-path="url(#pfbd8692891)" style="fill: none; stroke: #8c564b; stroke-opacity: 0.25; stroke-width: 0.25"/>
    <path d="M 326.638191 112.862203 
L 326.638191 100.745211 
" clip-path="url(#pfbd8692891)" style="fill: none; stroke: #8c564b; stroke-opacity: 0.25; stroke-width: 0.25"/>
    <path d="M 321.339271 121.426891 
L 321.339271 106.493576 
" clip-path="url(#pfbd8692891)" style="fill: none; stroke: #8c564b; stroke-opacity: 0.25; stroke-width: 0.25"/>
    <path d="M 311.251503 114.782844 
L 311.251503 100.224265 
" clip-path="url(#pfbd8692891)" style="fill: none; stroke: #8c564b; stroke-opacity: 0.25; stroke-width: 0.25"/>
    <path d="M 323.87667 105.615715 
L 323.87667 91.836741 
" clip-path="url(#pfbd8692891)" style="fill: none; stroke: #8c564b; stroke-opacity: 0.25; stroke-width: 0.25"/>
    <path d="M 316.376052 116.247849 
L 316.376052 103.825363 
" clip-path="url(#pfbd8692891)" style="fill: none; stroke: #8c564b; stroke-opacity: 0.25; stroke-width: 0.25"/>
    <path d="M 326.272379 110.885427 
L 326.272379 101.775892 
" clip-path="url(#pfbd8692891)" style="fill: none; stroke: #8c564b; stroke-opacity: 0.25; stroke-width: 0.25"/>
    <path d="M 350.026799 86.248837 
L 350.026799 67.15683 
" clip-path="url(#pfbd8692891)" style="fill: none; stroke: #8c564b; stroke-opacity: 0.25; stroke-width: 0.25"/>
    <path d="M 321.993481 115.547937 
L 321.993481 101.411953 
" clip-path="url(#pfbd8692891)" style="fill: none; stroke: #8c564b; stroke-opacity: 0.25; stroke-width: 0.25"/>
    <path d="M 326.353675 109.160921 
L 326.353675 91.379305 
" clip-path="url(#pfbd8692891)" style="fill: none; stroke: #8c564b; stroke-opacity: 0.25; stroke-width: 0.25"/>
    <path d="M 326.195549 106.817164 
L 326.195549 90.274044 
" clip-path="url(#pfbd8692891)" style="fill: none; stroke: #8c564b; stroke-opacity: 0.25; stroke-width: 0.25"/>
    <path d="M 338.568545 97.817949 
L 338.568545 84.260372 
" clip-path="url(#pfbd8692891)" style="fill: none; stroke: #8c564b; stroke-opacity: 0.25; stroke-width: 0.25"/>
    <path d="M 333.615577 102.247267 
L 333.615577 87.32536 
" clip-path="url(#pfbd8692891)" style="fill: none; stroke: #8c564b; stroke-opacity: 0.25; stroke-width: 0.25"/>
    <path d="M 344.995584 89.72661 
L 344.995584 79.629589 
" clip-path="url(#pfbd8692891)" style="fill: none; stroke: #8c564b; stroke-opacity: 0.25; stroke-width: 0.25"/>
    <path d="M 345.603099 95.792315 
L 345.603099 85.658281 
" clip-path="url(#pfbd8692891)" style="fill: none; stroke: #8c564b; stroke-opacity: 0.25; stroke-width: 0.25"/>
    <path d="M 335.182089 104.411737 
L 335.182089 88.211411 
" clip-path="url(#pfbd8692891)" style="fill: none; stroke: #8c564b; stroke-opacity: 0.25; stroke-width: 0.25"/>
    <path d="M 343.915634 92.686437 
L 343.915634 84.819204 
" clip-path="url(#pfbd8692891)" style="fill: none; stroke: #8c564b; stroke-opacity: 0.25; stroke-width: 0.25"/>
    <path d="M 342.640171 96.104119 
L 342.640171 80.722264 
" clip-path="url(#pfbd8692891)" style="fill: none; stroke: #8c564b; stroke-opacity: 0.25; stroke-width: 0.25"/>
    <path d="M 326.023591 103.696009 
L 326.023591 96.347562 
" clip-path="url(#pfbd8692891)" style="fill: none; stroke: #8c564b; stroke-opacity: 0.25; stroke-width: 0.25"/>
    <path d="M 318.238001 111.294956 
L 318.238001 97.599061 
" clip-path="url(#pfbd8692891)" style="fill: none; stroke: #8c564b; stroke-opacity: 0.25; stroke-width: 0.25"/>
    <path d="M 316.140933 118.488371 
L 316.140933 101.438831 
" clip-path="url(#pfbd8692891)" style="fill: none; stroke: #8c564b; stroke-opacity: 0.25; stroke-width: 0.25"/>
    <path d="M 318.576666 115.595883 
L 318.576666 103.551412 
" clip-path="url(#pfbd8692891)" style="fill: none; stroke: #8c564b; stroke-opacity: 0.25; stroke-width: 0.25"/>
    <path d="M 340.151236 98.004684 
L 340.151236 85.579367 
" clip-path="url(#pfbd8692891)" style="fill: none; stroke: #8c564b; stroke-opacity: 0.25; stroke-width: 0.25"/>
    <path d="M 336.009413 107.360992 
L 336.009413 87.320167 
" clip-path="url(#pfbd8692891)" style="fill: none; stroke: #8c564b; stroke-opacity: 0.25; stroke-width: 0.25"/>
    <path d="M 340.6953 92.563876 
L 340.6953 83.446123 
" clip-path="url(#pfbd8692891)" style="fill: none; stroke: #8c564b; stroke-opacity: 0.25; stroke-width: 0.25"/>
    <path d="M 317.601321 118.046955 
L 317.601321 104.906544 
" clip-path="url(#pfbd8692891)" style="fill: none; stroke: #8c564b; stroke-opacity: 0.25; stroke-width: 0.25"/>
    <path d="M 330.253766 108.717021 
L 330.253766 91.443154 
" clip-path="url(#pfbd8692891)" style="fill: none; stroke: #8c564b; stroke-opacity: 0.25; stroke-width: 0.25"/>
    <path d="M 341.271181 100.453569 
L 341.271181 85.19006 
" clip-path="url(#pfbd8692891)" style="fill: none; stroke: #8c564b; stroke-opacity: 0.25; stroke-width: 0.25"/>
    <path d="M 314.001962 120.892431 
L 314.001962 103.803655 
" clip-path="url(#pfbd8692891)" style="fill: none; stroke: #8c564b; stroke-opacity: 0.25; stroke-width: 0.25"/>
    <path d="M 323.240694 107.529271 
L 323.240694 95.723067 
" clip-path="url(#pfbd8692891)" style="fill: none; stroke: #8c564b; stroke-opacity: 0.25; stroke-width: 0.25"/>
    <path d="M 321.579871 112.077642 
L 321.579871 103.218302 
" clip-path="url(#pfbd8692891)" style="fill: none; stroke: #8c564b; stroke-opacity: 0.25; stroke-width: 0.25"/>
    <path d="M 340.897501 93.684037 
L 340.897501 86.429996 
" clip-path="url(#pfbd8692891)" style="fill: none; stroke: #8c564b; stroke-opacity: 0.25; stroke-width: 0.25"/>
    <path d="M 339.857448 102.367611 
L 339.857448 88.821515 
" clip-path="url(#pfbd8692891)" style="fill: none; stroke: #8c564b; stroke-opacity: 0.25; stroke-width: 0.25"/>
    <path d="M 324.22857 115.371423 
L 324.22857 100.865434 
" clip-path="url(#pfbd8692891)" style="fill: none; stroke: #8c564b; stroke-opacity: 0.25; stroke-width: 0.25"/>
    <path d="M 319.51724 117.284869 
L 319.51724 99.354187 
" clip-path="url(#pfbd8692891)" style="fill: none; stroke: #8c564b; stroke-opacity: 0.25; stroke-width: 0.25"/>
    <path d="M 321.867579 115.071148 
L 321.867579 101.39323 
" clip-path="url(#pfbd8692891)" style="fill: none; stroke: #8c564b; stroke-opacity: 0.25; stroke-width: 0.25"/>
    <path d="M 332.046943 101.623293 
L 332.046943 87.575414 
" clip-path="url(#pfbd8692891)" style="fill: none; stroke: #8c564b; stroke-opacity: 0.25; stroke-width: 0.25"/>
    <path d="M 314.200513 127.323997 
L 314.200513 103.213952 
" clip-path="url(#pfbd8692891)" style="fill: none; stroke: #8c564b; stroke-opacity: 0.25; stroke-width: 0.25"/>
    <path d="M 335.332442 101.084539 
L 335.332442 89.920942 
" clip-path="url(#pfbd8692891)" style="fill: none; stroke: #8c564b; stroke-opacity: 0.25; stroke-width: 0.25"/>
    <path d="M 315.30474 125.32836 
L 315.30474 111.386141 
" clip-path="url(#pfbd8692891)" style="fill: none; stroke: #8c564b; stroke-opacity: 0.25; stroke-width: 0.25"/>
    <path d="M 319.353305 115.780065 
L 319.353305 102.897995 
" clip-path="url(#pfbd8692891)" style="fill: none; stroke: #8c564b; stroke-opacity: 0.25; stroke-width: 0.25"/>
    <path d="M 323.670016 107.712449 
L 323.670016 100.485732 
" clip-path="url(#pfbd8692891)" style="fill: none; stroke: #8c564b; stroke-opacity: 0.25; stroke-width: 0.25"/>
    <path d="M 324.277233 115.088257 
L 324.277233 100.654274 
" clip-path="url(#pfbd8692891)" style="fill: none; stroke: #8c564b; stroke-opacity: 0.25; stroke-width: 0.25"/>
   </g>
   <g id="LineCollection_9">
    <path d="M 56.52 261.576 
L 120.576 261.576 
" clip-path="url(#pfbd8692891)" style="fill: none; stroke: #d62728; stroke-width: 1.5"/>
   </g>
   <g id="LineCollection_10">
    <path d="M 97.344 265.584 
L 97.344 257.688 
" clip-path="url(#pfbd8692891)" style="fill: none; stroke: #d62728; stroke-width: 1.5"/>
   </g>
   <g id="line2d_140">
    <defs>
     <path id="mcb35cd1ac6" d="M 0 2.5 
L 0 -2.5 
" style="stroke: #d62728"/>
    </defs>
    <g clip-path="url(#pfbd8692891)">
     <use href="#mcb35cd1ac6" x="56.52" y="261.576" style="fill: #d62728; stroke: #d62728"/>
    </g>
   </g>
   <g id="line2d_141">
    <g clip-path="url(#pfbd8692891)">
     <use href="#mcb35cd1ac6" x="120.576" y="261.576" style="fill: #d62728; stroke: #d62728"/>
    </g>
   </g>
   <g id="line2d_142">
    <defs>
     <path id="m3e4ed0d259" d="M 2.5 0 
L -2.5 -0 
" style="stroke: #d62728"/>
    </defs>
    <g clip-path="url(#pfbd8692891)">
     <use href="#m3e4ed0d259" x="97.344" y="265.584" style="fill: #d62728; stroke: #d62728"/>
    </g>
   </g>
   <g id="line2d_143">
    <g clip-path="url(#pfbd8692891)">
     <use href="#m3e4ed0d259" x="97.344" y="257.688" style="fill: #d62728; stroke: #d62728"/>
    </g>
   </g>
   <g id="LineCollection_11">
    <path d="M 246.288 221.784 
L 246.288 208.2 
" clip-path="url(#pfbd8692891)" style="fill: none; stroke: #9467bd; stroke-width: 1.5"/>
   </g>
   <g id="line2d_144">
    <defs>
     <path id="ma45895868a" d="M 2.5 0 
L -2.5 -0 
" style="stroke: #9467bd"/>
    </defs>
    <g clip-path="url(#pfbd8692891)">
     <use href="#ma45895868a" x="246.288" y="221.784" style="fill: #9467bd; stroke: #9467bd"/>
    </g>
   </g>
   <g id="line2d_145">
    <g clip-path="url(#pfbd8692891)">
     <use href="#ma45895868a" x="246.288" y="208.2" style="fill: #9467bd; stroke: #9467bd"/>
    </g>
   </g>
   <g id="LineCollection_12">
    <path d="M 186.936 238.272 
L 186.936 229.2 
" clip-path="url(#pfbd8692891)" style="fill: none; stroke: #e377c2; stroke-width: 1.5"/>
   </g>
   <g id="line2d_146">
    <defs>
     <path id="mfebb3e0737" d="M 2.5 0 
L -2.5 -0 
" style="stroke: #e377c2"/>
    </defs>
    <g clip-path="url(#pfbd8692891)">
     <use href="#mfebb3e0737" x="186.936" y="238.272" style="fill: #e377c2; stroke: #e377c2"/>
    </g>
   </g>
   <g id="line2d_147">
    <g clip-path="url(#pfbd8692891)">
     <use href="#mfebb3e0737" x="186.936" y="229.2" style="fill: #e377c2; stroke: #e377c2"/>
    </g>
   </g>
   <g id="LineCollection_13">
    <path d="M 313.68 121.704 
L 353.304 121.704 
" clip-path="url(#pfbd8692891)" style="fill: none; stroke: #17becf; stroke-width: 1.5"/>
   </g>
   <g id="LineCollection_14">
    <path d="M 337.248 131.616 
L 337.248 116.688 
" clip-path="url(#pfbd8692891)" style="fill: none; stroke: #17becf; stroke-width: 1.5"/>
   </g>
   <g id="line2d_148">
    <defs>
     <path id="m68fc688fd9" d="M 0 2.5 
L 0 -2.5 
" style="stroke: #17becf"/>
    </defs>
    <g clip-path="url(#pfbd8692891)">
     <use href="#m68fc688fd9" x="313.68" y="121.704" style="fill: #17becf; stroke: #17becf"/>
    </g>
   </g>
   <g id="line2d_149">
    <g clip-path="url(#pfbd8692891)">
     <use href="#m68fc688fd9" x="353.304" y="121.704" style="fill: #17becf; stroke: #17becf"/>
    </g>
   </g>
   <g id="line2d_150">
    <defs>
     <path id="m8f69a08fee" d="M 2.5 0 
L -2.5 -0 
" style="stroke: #17becf"/>
    </defs>
    <g clip-path="url(#pfbd8692891)">
     <use href="#m8f69a08fee" x="337.248" y="131.616" style="fill: #17becf; stroke: #17becf"/>
    </g>
   </g>
   <g id="line2d_151">
    <g clip-path="url(#pfbd8692891)">
     <use href="#m8f69a08fee" x="337.248" y="116.688" style="fill: #17becf; stroke: #17becf"/>
    </g>
   </g>
   <g id="LineCollection_15">
    <path d="M 281.784 146.64 
L 318.192 146.64 
" clip-path="url(#pfbd8692891)" style="fill: none; stroke: #2ca02c; stroke-width: 1.5"/>
   </g>
   <g id="LineCollection_16">
    <path d="M 303.024 154.032 
L 303.024 140.712 
" clip-path="url(#pfbd8692891)" style="fill: none; stroke: #2ca02c; stroke-width: 1.5"/>
   </g>
   <g id="line2d_152">
    <defs>
     <path id="m85461b32fc" d="M 0 2.5 
L 0 -2.5 
" style="stroke: #2ca02c"/>
    </defs>
    <g clip-path="url(#pfbd8692891)">
     <use href="#m85461b32fc" x="281.784" y="146.64" style="fill: #2ca02c; stroke: #2ca02c"/>
    </g>
   </g>
   <g id="line2d_153">
    <g clip-path="url(#pfbd8692891)">
     <use href="#m85461b32fc" x="318.192" y="146.64" style="fill: #2ca02c; stroke: #2ca02c"/>
    </g>
   </g>
   <g id="line2d_154">
    <defs>
     <path id="maf82f35c3a" d="M 2.5 0 
L -2.5 -0 
" style="stroke: #2ca02c"/>
    </defs>
    <g clip-path="url(#pfbd8692891)">
     <use href="#maf82f35c3a" x="303.024" y="154.032" style="fill: #2ca02c; stroke: #2ca02c"/>
    </g>
   </g>
   <g id="line2d_155">
    <g clip-path="url(#pfbd8692891)">
     <use href="#maf82f35c3a" x="303.024" y="140.712" style="fill: #2ca02c; stroke: #2ca02c"/>
    </g>
   </g>
   <g id="line2d_156">
    <defs>
     <path id="m5e1ac0344c" d="M 0 1 
C 0.265203 1 0.51958 0.894634 0.707107 0.707107 
C 0.894634 0.51958 1 0.265203 1 0 
C 1 -0.265203 0.894634 -0.51958 0.707107 -0.707107 
C 0.51958 -0.894634 0.265203 -1 0 -1 
C -0.265203 -1 -0.51958 -0.894634 -0.707107 -0.707107 
C -0.894634 -0.51958 -1 -0.265203 -1 0 
C -1 0.265203 -0.894634 0.51958 -0.707107 0.707107 
C -0.51958 0.894634 -0.265203 1 0 1 
z
" style="stroke: #1f77b4; stroke-opacity: 0.62"/>
    </defs>
    <g clip-path="url(#pfbd8692891)">
     <use href="#m5e1ac0344c" x="364.584" y="36.456" style="fill: #1f77b4; fill-opacity: 0.62; stroke: #1f77b4; stroke-opacity: 0.62"/>
     <use href="#m5e1ac0344c" x="362.736" y="43.56" style="fill: #1f77b4; fill-opacity: 0.62; stroke: #1f77b4; stroke-opacity: 0.62"/>
     <use href="#m5e1ac0344c" x="372.456" y="49.944" style="fill: #1f77b4; fill-opacity: 0.62; stroke: #1f77b4; stroke-opacity: 0.62"/>
     <use href="#m5e1ac0344c" x="355.56" y="56.136" style="fill: #1f77b4; fill-opacity: 0.62; stroke: #1f77b4; stroke-opacity: 0.62"/>
     <use href="#m5e1ac0344c" x="367.8" y="58.512" style="fill: #1f77b4; fill-opacity: 0.62; stroke: #1f77b4; stroke-opacity: 0.62"/>
     <use href="#m5e1ac0344c" x="334.488" y="64.416" style="fill: #1f77b4; fill-opacity: 0.62; stroke: #1f77b4; stroke-opacity: 0.62"/>
     <use href="#m5e1ac0344c" x="332.64" y="71.28" style="fill: #1f77b4; fill-opacity: 0.62; stroke: #1f77b4; stroke-opacity: 0.62"/>
     <use href="#m5e1ac0344c" x="322.704" y="64.296" style="fill: #1f77b4; fill-opacity: 0.62; stroke: #1f77b4; stroke-opacity: 0.62"/>
     <use href="#m5e1ac0344c" x="326.304" y="71.016" style="fill: #1f77b4; fill-opacity: 0.62; stroke: #1f77b4; stroke-opacity: 0.62"/>
     <use href="#m5e1ac0344c" x="324.72" y="76.992" style="fill: #1f77b4; fill-opacity: 0.62; stroke: #1f77b4; stroke-opacity: 0.62"/>
     <use href="#m5e1ac0344c" x="323.424" y="80.832" style="fill: #1f77b4; fill-opacity: 0.62; stroke: #1f77b4; stroke-opacity: 0.62"/>
     <use href="#m5e1ac0344c" x="312.888" y="85.824" style="fill: #1f77b4; fill-opacity: 0.62; stroke: #1f77b4; stroke-opacity: 0.62"/>
     <use href="#m5e1ac0344c" x="312.888" y="87.792" style="fill: #1f77b4; fill-opacity: 0.62; stroke: #1f77b4; stroke-opacity: 0.62"/>
     <use href="#m5e1ac0344c" x="299.76" y="99.672" style="fill: #1f77b4; fill-opacity: 0.62; stroke: #1f77b4; stroke-opacity: 0.62"/>
     <use href="#m5e1ac0344c" x="338.304" y="78.576" style="fill: #1f77b4; fill-opacity: 0.62; stroke: #1f77b4; stroke-opacity: 0.62"/>
     <use href="#m5e1ac0344c" x="363.048" y="81.744" style="fill: #1f77b4; fill-opacity: 0.62; stroke: #1f77b4; stroke-opacity: 0.62"/>
     <use href="#m5e1ac0344c" x="353.328" y="81.216" style="fill: #1f77b4; fill-opacity: 0.62; stroke: #1f77b4; stroke-opacity: 0.62"/>
     <use href="#m5e1ac0344c" x="314.496" y="118.704" style="fill: #1f77b4; fill-opacity: 0.62; stroke: #1f77b4; stroke-opacity: 0.62"/>
    </g>
   </g>
   <g id="line2d_157">
    <defs>
     <path id="mf247d37c93" d="M 0 1 
C 0.265203 1 0.51958 0.894634 0.707107 0.707107 
C 0.894634 0.51958 1 0.265203 1 0 
C 1 -0.265203 0.894634 -0.51958 0.707107 -0.707107 
C 0.51958 -0.894634 0.265203 -1 0 -1 
C -0.265203 -1 -0.51958 -0.894634 -0.707107 -0.707107 
C -0.894634 -0.51958 -1 -0.265203 -1 0 
C -1 0.265203 -0.894634 0.51958 -0.707107 0.707107 
C -0.51958 0.894634 -0.265203 1 0 1 
z
" style="stroke: #ff7f0e; stroke-opacity: 0.62"/>
    </defs>
    <g clip-path="url(#pfbd8692891)">
     <use href="#mf247d37c93" x="416.4" y="25.968" style="fill: #ff7f0e; fill-opacity: 0.62; stroke: #ff7f0e; stroke-opacity: 0.62"/>
     <use href="#mf247d37c93" x="395.112" y="30.648" style="fill: #ff7f0e; fill-opacity: 0.62; stroke: #ff7f0e; stroke-opacity: 0.62"/>
     <use href="#mf247d37c93" x="394.2" y="34.728" style="fill: #ff7f0e; fill-opacity: 0.62; stroke: #ff7f0e; stroke-opacity: 0.62"/>
     <use href="#mf247d37c93" x="390.192" y="43.296" style="fill: #ff7f0e; fill-opacity: 0.62; stroke: #ff7f0e; stroke-opacity: 0.62"/>
     <use href="#mf247d37c93" x="384.408" y="44.736" style="fill: #ff7f0e; fill-opacity: 0.62; stroke: #ff7f0e; stroke-opacity: 0.62"/>
     <use href="#mf247d37c93" x="378.216" y="62.064" style="fill: #ff7f0e; fill-opacity: 0.62; stroke: #ff7f0e; stroke-opacity: 0.62"/>
     <use href="#mf247d37c93" x="379.08" y="73.512" style="fill: #ff7f0e; fill-opacity: 0.62; stroke: #ff7f0e; stroke-opacity: 0.62"/>
     <use href="#mf247d37c93" x="353.184" y="50.856" style="fill: #ff7f0e; fill-opacity: 0.62; stroke: #ff7f0e; stroke-opacity: 0.62"/>
     <use href="#mf247d37c93" x="366.888" y="51.384" style="fill: #ff7f0e; fill-opacity: 0.62; stroke: #ff7f0e; stroke-opacity: 0.62"/>
     <use href="#mf247d37c93" x="351.216" y="53.904" style="fill: #ff7f0e; fill-opacity: 0.62; stroke: #ff7f0e; stroke-opacity: 0.62"/>
     <use href="#mf247d37c93" x="368.712" y="54.288" style="fill: #ff7f0e; fill-opacity: 0.62; stroke: #ff7f0e; stroke-opacity: 0.62"/>
     <use href="#mf247d37c93" x="366.36" y="56.4" style="fill: #ff7f0e; fill-opacity: 0.62; stroke: #ff7f0e; stroke-opacity: 0.62"/>
     <use href="#mf247d37c93" x="339.888" y="59.952" style="fill: #ff7f0e; fill-opacity: 0.62; stroke: #ff7f0e; stroke-opacity: 0.62"/>
     <use href="#mf247d37c93" x="346.728" y="59.952" style="fill: #ff7f0e; fill-opacity: 0.62; stroke: #ff7f0e; stroke-opacity: 0.62"/>
     <use href="#mf247d37c93" x="365.952" y="60.744" style="fill: #ff7f0e; fill-opacity: 0.62; stroke: #ff7f0e; stroke-opacity: 0.62"/>
     <use href="#mf247d37c93" x="341.064" y="63.504" style="fill: #ff7f0e; fill-opacity: 0.62; stroke: #ff7f0e; stroke-opacity: 0.62"/>
     <use href="#mf247d37c93" x="349.104" y="62.448" style="fill: #ff7f0e; fill-opacity: 0.62; stroke: #ff7f0e; stroke-opacity: 0.62"/>
     <use href="#mf247d37c93" x="354.888" y="63.504" style="fill: #ff7f0e; fill-opacity: 0.62; stroke: #ff7f0e; stroke-opacity: 0.62"/>
     <use href="#mf247d37c93" x="357.528" y="65.616" style="fill: #ff7f0e; fill-opacity: 0.62; stroke: #ff7f0e; stroke-opacity: 0.62"/>
     <use href="#mf247d37c93" x="362.28" y="63.768" style="fill: #ff7f0e; fill-opacity: 0.62; stroke: #ff7f0e; stroke-opacity: 0.62"/>
     <use href="#mf247d37c93" x="371.352" y="63.24" style="fill: #ff7f0e; fill-opacity: 0.62; stroke: #ff7f0e; stroke-opacity: 0.62"/>
     <use href="#mf247d37c93" x="342.912" y="73.248" style="fill: #ff7f0e; fill-opacity: 0.62; stroke: #ff7f0e; stroke-opacity: 0.62"/>
     <use href="#mf247d37c93" x="318.288" y="71.664" style="fill: #ff7f0e; fill-opacity: 0.62; stroke: #ff7f0e; stroke-opacity: 0.62"/>
     <use href="#mf247d37c93" x="316.824" y="85.824" style="fill: #ff7f0e; fill-opacity: 0.62; stroke: #ff7f0e; stroke-opacity: 0.62"/>
     <use href="#mf247d37c93" x="293.664" y="85.68" style="fill: #ff7f0e; fill-opacity: 0.62; stroke: #ff7f0e; stroke-opacity: 0.62"/>
     <use href="#mf247d37c93" x="331.056" y="81.6" style="fill: #ff7f0e; fill-opacity: 0.62; stroke: #ff7f0e; stroke-opacity: 0.62"/>
     <use href="#mf247d37c93" x="328.56" y="94.896" style="fill: #ff7f0e; fill-opacity: 0.62; stroke: #ff7f0e; stroke-opacity: 0.62"/>
     <use href="#mf247d37c93" x="365.04" y="76.344" style="fill: #ff7f0e; fill-opacity: 0.62; stroke: #ff7f0e; stroke-opacity: 0.62"/>
     <use href="#mf247d37c93" x="367.152" y="78.576" style="fill: #ff7f0e; fill-opacity: 0.62; stroke: #ff7f0e; stroke-opacity: 0.62"/>
     <use href="#mf247d37c93" x="356.88" y="82.536" style="fill: #ff7f0e; fill-opacity: 0.62; stroke: #ff7f0e; stroke-opacity: 0.62"/>
     <use href="#mf247d37c93" x="337.512" y="91.224" style="fill: #ff7f0e; fill-opacity: 0.62; stroke: #ff7f0e; stroke-opacity: 0.62"/>
     <use href="#mf247d37c93" x="342.528" y="85.944" style="fill: #ff7f0e; fill-opacity: 0.62; stroke: #ff7f0e; stroke-opacity: 0.62"/>
    </g>
   </g>
   <g id="line2d_158">
    <defs>
     <path id="m76399f56eb" d="M 0 1 
C 0.265203 1 0.51958 0.894634 0.707107 0.707107 
C 0.894634 0.51958 1 0.265203 1 0 
C 1 -0.265203 0.894634 -0.51958 0.707107 -0.707107 
C 0.51958 -0.894634 0.265203 -1 0 -1 
C -0.265203 -1 -0.51958 -0.894634 -0.707107 -0.707107 
C -0.894634 -0.51958 -1 -0.265203 -1 0 
C -1 0.265203 -0.894634 0.51958 -0.707107 0.707107 
C -0.51958 0.894634 -0.265203 1 0 1 
z
"/>
    </defs>
    <g clip-path="url(#pfbd8692891)">
     <use href="#m76399f56eb" x="400.2" y="28.8" style="fill: #8c564b; fill-opacity: 0.65"/>
     <use href="#m76399f56eb" x="401.52" y="29.592" style="fill: #8c564b; fill-opacity: 0.65"/>
     <use href="#m76399f56eb" x="393.096" y="37.632" style="fill: #8c564b; fill-opacity: 0.65"/>
     <use href="#m76399f56eb" x="383.616" y="46.056" style="fill: #8c564b; fill-opacity: 0.65"/>
     <use href="#m76399f56eb" x="383.352" y="51" style="fill: #8c564b; fill-opacity: 0.65"/>
     <use href="#m76399f56eb" x="378.096" y="54.432" style="fill: #8c564b; fill-opacity: 0.65"/>
     <use href="#m76399f56eb" x="376.512" y="57.456" style="fill: #8c564b; fill-opacity: 0.65"/>
     <use href="#m76399f56eb" x="375.6" y="59.352" style="fill: #8c564b; fill-opacity: 0.65"/>
     <use href="#m76399f56eb" x="373.584" y="59.16" style="fill: #8c564b; fill-opacity: 0.65"/>
     <use href="#m76399f56eb" x="376.752" y="57.456" style="fill: #8c564b; fill-opacity: 0.65"/>
     <use href="#m76399f56eb" x="372.264" y="65.616" style="fill: #8c564b; fill-opacity: 0.65"/>
     <use href="#m76399f56eb" x="366.216" y="63.768" style="fill: #8c564b; fill-opacity: 0.65"/>
     <use href="#m76399f56eb" x="366.744" y="65.88" style="fill: #8c564b; fill-opacity: 0.65"/>
     <use href="#m76399f56eb" x="367.536" y="67.464" style="fill: #8c564b; fill-opacity: 0.65"/>
     <use href="#m76399f56eb" x="359.904" y="68.232" style="fill: #8c564b; fill-opacity: 0.65"/>
     <use href="#m76399f56eb" x="364.632" y="68.232" style="fill: #8c564b; fill-opacity: 0.65"/>
     <use href="#m76399f56eb" x="362.544" y="69.288" style="fill: #8c564b; fill-opacity: 0.65"/>
     <use href="#m76399f56eb" x="358.056" y="70.608" style="fill: #8c564b; fill-opacity: 0.65"/>
     <use href="#m76399f56eb" x="361.224" y="70.608" style="fill: #8c564b; fill-opacity: 0.65"/>
     <use href="#m76399f56eb" x="362.544" y="71.4" style="fill: #8c564b; fill-opacity: 0.65"/>
     <use href="#m76399f56eb" x="359.112" y="73.512" style="fill: #8c564b; fill-opacity: 0.65"/>
     <use href="#m76399f56eb" x="361.224" y="73.512" style="fill: #8c564b; fill-opacity: 0.65"/>
     <use href="#m76399f56eb" x="377.544" y="54.288" style="fill: #8c564b; fill-opacity: 0.65"/>
     <use href="#m76399f56eb" x="313.272" y="95.952" style="fill: #8c564b; fill-opacity: 0.65"/>
     <use href="#m76399f56eb" x="324.72" y="93.72" style="fill: #8c564b; fill-opacity: 0.65"/>
     <use href="#m76399f56eb" x="319.584" y="96.744" style="fill: #8c564b; fill-opacity: 0.65"/>
     <use href="#m76399f56eb" x="321.96" y="98.856" style="fill: #8c564b; fill-opacity: 0.65"/>
     <use href="#m76399f56eb" x="329.328" y="83.184" style="fill: #8c564b; fill-opacity: 0.65"/>
     <use href="#m76399f56eb" x="332.76" y="93.6" style="fill: #8c564b; fill-opacity: 0.65"/>
     <use href="#m76399f56eb" x="336.336" y="77.928" style="fill: #8c564b; fill-opacity: 0.65"/>
     <use href="#m76399f56eb" x="348.456" y="77.784" style="fill: #8c564b; fill-opacity: 0.65"/>
     <use href="#m76399f56eb" x="357.528" y="75.432" style="fill: #8c564b; fill-opacity: 0.65"/>
     <use href="#m76399f56eb" x="360.96" y="73.584" style="fill: #8c564b; fill-opacity: 0.65"/>
     <use href="#m76399f56eb" x="358.56" y="79.104" style="fill: #8c564b; fill-opacity: 0.65"/>
     <use href="#m76399f56eb" x="302.88" y="121.44" style="fill: #8c564b; fill-opacity: 0.65"/>
     <use href="#m76399f56eb" x="299.52" y="130.152" style="fill: #8c564b; fill-opacity: 0.65"/>
     <use href="#m76399f56eb" x="329.232" y="129.744" style="fill: #8c564b; fill-opacity: 0.65"/>
     <use href="#m76399f56eb" x="326.208" y="143.112" style="fill: #8c564b; fill-opacity: 0.65"/>
     <use href="#m76399f56eb" x="326.928" y="178.608" style="fill: #8c564b; fill-opacity: 0.65"/>
     <use href="#m76399f56eb" x="306.216" y="116.928" style="fill: #8c564b; fill-opacity: 0.65"/>
     <use href="#m76399f56eb" x="308.016" y="114.456" style="fill: #8c564b; fill-opacity: 0.65"/>
     <use href="#m76399f56eb" x="313.608" y="116.04" style="fill: #8c564b; fill-opacity: 0.65"/>
     <use href="#m76399f56eb" x="311.352" y="117.36" style="fill: #8c564b; fill-opacity: 0.65"/>
     <use href="#m76399f56eb" x="320.976" y="114.24" style="fill: #8c564b; fill-opacity: 0.65"/>
     <use href="#m76399f56eb" x="335.712" y="86.304" style="fill: #8c564b; fill-opacity: 0.65"/>
    </g>
   </g>
   <g id="line2d_159">
    <g clip-path="url(#pfbd8692891)">
     <use href="#m76399f56eb" x="334.177317" y="96.08624" style="fill: #8c564b; fill-opacity: 0.65"/>
     <use href="#m76399f56eb" x="317.798476" y="107.545653" style="fill: #8c564b; fill-opacity: 0.65"/>
     <use href="#m76399f56eb" x="342.753337" y="88.411613" style="fill: #8c564b; fill-opacity: 0.65"/>
     <use href="#m76399f56eb" x="342.963742" y="93.735815" style="fill: #8c564b; fill-opacity: 0.65"/>
     <use href="#m76399f56eb" x="343.298834" y="89.935651" style="fill: #8c564b; fill-opacity: 0.65"/>
     <use href="#m76399f56eb" x="311.694661" y="114.927454" style="fill: #8c564b; fill-opacity: 0.65"/>
     <use href="#m76399f56eb" x="346.686304" y="87.31955" style="fill: #8c564b; fill-opacity: 0.65"/>
     <use href="#m76399f56eb" x="322.915958" y="103.166978" style="fill: #8c564b; fill-opacity: 0.65"/>
     <use href="#m76399f56eb" x="311.491454" y="114.381189" style="fill: #8c564b; fill-opacity: 0.65"/>
     <use href="#m76399f56eb" x="322.712563" y="96.763338" style="fill: #8c564b; fill-opacity: 0.65"/>
     <use href="#m76399f56eb" x="320.290668" y="102.703316" style="fill: #8c564b; fill-opacity: 0.65"/>
     <use href="#m76399f56eb" x="342.734112" y="90.891039" style="fill: #8c564b; fill-opacity: 0.65"/>
     <use href="#m76399f56eb" x="343.635786" y="84.362189" style="fill: #8c564b; fill-opacity: 0.65"/>
     <use href="#m76399f56eb" x="310.892698" y="114.696932" style="fill: #8c564b; fill-opacity: 0.65"/>
     <use href="#m76399f56eb" x="320.234854" y="109.077239" style="fill: #8c564b; fill-opacity: 0.65"/>
     <use href="#m76399f56eb" x="336.334806" y="96.902761" style="fill: #8c564b; fill-opacity: 0.65"/>
     <use href="#m76399f56eb" x="324.883266" y="108.037648" style="fill: #8c564b; fill-opacity: 0.65"/>
     <use href="#m76399f56eb" x="327.042243" y="107.124502" style="fill: #8c564b; fill-opacity: 0.65"/>
     <use href="#m76399f56eb" x="344.117986" y="84.916742" style="fill: #8c564b; fill-opacity: 0.65"/>
     <use href="#m76399f56eb" x="335.077621" y="97.084754" style="fill: #8c564b; fill-opacity: 0.65"/>
     <use href="#m76399f56eb" x="315.2109" y="106.85725" style="fill: #8c564b; fill-opacity: 0.65"/>
     <use href="#m76399f56eb" x="321.014127" y="106.076136" style="fill: #8c564b; fill-opacity: 0.65"/>
     <use href="#m76399f56eb" x="331.802857" y="97.91794" style="fill: #8c564b; fill-opacity: 0.65"/>
     <use href="#m76399f56eb" x="325.710311" y="94.295281" style="fill: #8c564b; fill-opacity: 0.65"/>
     <use href="#m76399f56eb" x="325.984517" y="101.660288" style="fill: #8c564b; fill-opacity: 0.65"/>
     <use href="#m76399f56eb" x="333.443954" y="97.878371" style="fill: #8c564b; fill-opacity: 0.65"/>
     <use href="#m76399f56eb" x="334.124153" y="97.671467" style="fill: #8c564b; fill-opacity: 0.65"/>
     <use href="#m76399f56eb" x="330.460562" y="98.152418" style="fill: #8c564b; fill-opacity: 0.65"/>
     <use href="#m76399f56eb" x="347.447744" y="85.401652" style="fill: #8c564b; fill-opacity: 0.65"/>
     <use href="#m76399f56eb" x="323.629302" y="103.204865" style="fill: #8c564b; fill-opacity: 0.65"/>
     <use href="#m76399f56eb" x="319.262" y="107.324376" style="fill: #8c564b; fill-opacity: 0.65"/>
     <use href="#m76399f56eb" x="334.707182" y="93.072283" style="fill: #8c564b; fill-opacity: 0.65"/>
     <use href="#m76399f56eb" x="331.533166" y="100.394874" style="fill: #8c564b; fill-opacity: 0.65"/>
     <use href="#m76399f56eb" x="314.607504" y="113.456791" style="fill: #8c564b; fill-opacity: 0.65"/>
     <use href="#m76399f56eb" x="348.045436" y="84.704711" style="fill: #8c564b; fill-opacity: 0.65"/>
     <use href="#m76399f56eb" x="321.708675" y="106.723715" style="fill: #8c564b; fill-opacity: 0.65"/>
     <use href="#m76399f56eb" x="321.501855" y="101.178995" style="fill: #8c564b; fill-opacity: 0.65"/>
     <use href="#m76399f56eb" x="341.889518" y="92.25245" style="fill: #8c564b; fill-opacity: 0.65"/>
     <use href="#m76399f56eb" x="334.116003" y="94.661562" style="fill: #8c564b; fill-opacity: 0.65"/>
     <use href="#m76399f56eb" x="348.45967" y="83.250121" style="fill: #8c564b; fill-opacity: 0.65"/>
     <use href="#m76399f56eb" x="325.170712" y="99.109618" style="fill: #8c564b; fill-opacity: 0.65"/>
     <use href="#m76399f56eb" x="336.115085" y="99.617819" style="fill: #8c564b; fill-opacity: 0.65"/>
     <use href="#m76399f56eb" x="322.867511" y="105.338994" style="fill: #8c564b; fill-opacity: 0.65"/>
     <use href="#m76399f56eb" x="319.199727" y="110.406995" style="fill: #8c564b; fill-opacity: 0.65"/>
     <use href="#m76399f56eb" x="342.890052" y="89.499369" style="fill: #8c564b; fill-opacity: 0.65"/>
     <use href="#m76399f56eb" x="310.593507" y="109.651862" style="fill: #8c564b; fill-opacity: 0.65"/>
     <use href="#m76399f56eb" x="337.319035" y="94.077378" style="fill: #8c564b; fill-opacity: 0.65"/>
     <use href="#m76399f56eb" x="310.855547" y="104.378577" style="fill: #8c564b; fill-opacity: 0.65"/>
     <use href="#m76399f56eb" x="344.319989" y="82.019565" style="fill: #8c564b; fill-opacity: 0.65"/>
     <use href="#m76399f56eb" x="341.253796" y="88.193032" style="fill: #8c564b; fill-opacity: 0.65"/>
     <use href="#m76399f56eb" x="341.152795" y="89.341858" style="fill: #8c564b; fill-opacity: 0.65"/>
     <use href="#m76399f56eb" x="320.575525" y="106.581112" style="fill: #8c564b; fill-opacity: 0.65"/>
     <use href="#m76399f56eb" x="336.755663" y="91.258263" style="fill: #8c564b; fill-opacity: 0.65"/>
     <use href="#m76399f56eb" x="339.536219" y="91.520022" style="fill: #8c564b; fill-opacity: 0.65"/>
     <use href="#m76399f56eb" x="325.537408" y="106.10088" style="fill: #8c564b; fill-opacity: 0.65"/>
     <use href="#m76399f56eb" x="321.969674" y="106.63258" style="fill: #8c564b; fill-opacity: 0.65"/>
     <use href="#m76399f56eb" x="315.279306" y="106.251012" style="fill: #8c564b; fill-opacity: 0.65"/>
     <use href="#m76399f56eb" x="347.124959" y="87.527603" style="fill: #8c564b; fill-opacity: 0.65"/>
     <use href="#m76399f56eb" x="328.575979" y="99.586739" style="fill: #8c564b; fill-opacity: 0.65"/>
     <use href="#m76399f56eb" x="323.84291" y="105.597773" style="fill: #8c564b; fill-opacity: 0.65"/>
     <use href="#m76399f56eb" x="337.899325" y="93.49347" style="fill: #8c564b; fill-opacity: 0.65"/>
     <use href="#m76399f56eb" x="329.733732" y="99.124457" style="fill: #8c564b; fill-opacity: 0.65"/>
     <use href="#m76399f56eb" x="320.420257" y="100.792517" style="fill: #8c564b; fill-opacity: 0.65"/>
     <use href="#m76399f56eb" x="339.951553" y="91.308661" style="fill: #8c564b; fill-opacity: 0.65"/>
     <use href="#m76399f56eb" x="328.087524" y="102.603051" style="fill: #8c564b; fill-opacity: 0.65"/>
     <use href="#m76399f56eb" x="325.826831" y="103.731473" style="fill: #8c564b; fill-opacity: 0.65"/>
     <use href="#m76399f56eb" x="319.648846" y="106.882098" style="fill: #8c564b; fill-opacity: 0.65"/>
     <use href="#m76399f56eb" x="314.918683" y="113.993939" style="fill: #8c564b; fill-opacity: 0.65"/>
     <use href="#m76399f56eb" x="329.472355" y="100.113412" style="fill: #8c564b; fill-opacity: 0.65"/>
     <use href="#m76399f56eb" x="328.65972" y="101.027555" style="fill: #8c564b; fill-opacity: 0.65"/>
     <use href="#m76399f56eb" x="323.275143" y="109.059174" style="fill: #8c564b; fill-opacity: 0.65"/>
     <use href="#m76399f56eb" x="319.238229" y="108.251538" style="fill: #8c564b; fill-opacity: 0.65"/>
     <use href="#m76399f56eb" x="318.050863" y="108.397375" style="fill: #8c564b; fill-opacity: 0.65"/>
     <use href="#m76399f56eb" x="323.005244" y="103.657964" style="fill: #8c564b; fill-opacity: 0.65"/>
     <use href="#m76399f56eb" x="338.91123" y="93.530499" style="fill: #8c564b; fill-opacity: 0.65"/>
     <use href="#m76399f56eb" x="315.545677" y="114.339936" style="fill: #8c564b; fill-opacity: 0.65"/>
     <use href="#m76399f56eb" x="311.246793" y="121.32084" style="fill: #8c564b; fill-opacity: 0.65"/>
     <use href="#m76399f56eb" x="341.533851" y="87.795259" style="fill: #8c564b; fill-opacity: 0.65"/>
     <use href="#m76399f56eb" x="338.564955" y="95.700929" style="fill: #8c564b; fill-opacity: 0.65"/>
     <use href="#m76399f56eb" x="334.054472" y="96.191213" style="fill: #8c564b; fill-opacity: 0.65"/>
     <use href="#m76399f56eb" x="321.264616" y="103.34009" style="fill: #8c564b; fill-opacity: 0.65"/>
     <use href="#m76399f56eb" x="307.803995" y="116.048569" style="fill: #8c564b; fill-opacity: 0.65"/>
     <use href="#m76399f56eb" x="343.484899" y="85.448302" style="fill: #8c564b; fill-opacity: 0.65"/>
     <use href="#m76399f56eb" x="322.883822" y="100.570421" style="fill: #8c564b; fill-opacity: 0.65"/>
     <use href="#m76399f56eb" x="331.946115" y="96.769929" style="fill: #8c564b; fill-opacity: 0.65"/>
     <use href="#m76399f56eb" x="334.118411" y="93.256953" style="fill: #8c564b; fill-opacity: 0.65"/>
     <use href="#m76399f56eb" x="322.800662" y="105.66584" style="fill: #8c564b; fill-opacity: 0.65"/>
     <use href="#m76399f56eb" x="315.367755" y="102.671946" style="fill: #8c564b; fill-opacity: 0.65"/>
     <use href="#m76399f56eb" x="334.384176" y="94.402688" style="fill: #8c564b; fill-opacity: 0.65"/>
     <use href="#m76399f56eb" x="335.926835" y="99.007899" style="fill: #8c564b; fill-opacity: 0.65"/>
     <use href="#m76399f56eb" x="317.471816" y="112.403109" style="fill: #8c564b; fill-opacity: 0.65"/>
     <use href="#m76399f56eb" x="313.899633" y="111.471856" style="fill: #8c564b; fill-opacity: 0.65"/>
     <use href="#m76399f56eb" x="348.60012" y="86.278724" style="fill: #8c564b; fill-opacity: 0.65"/>
     <use href="#m76399f56eb" x="308.011141" y="115.325628" style="fill: #8c564b; fill-opacity: 0.65"/>
     <use href="#m76399f56eb" x="333.469595" y="99.40512" style="fill: #8c564b; fill-opacity: 0.65"/>
     <use href="#m76399f56eb" x="320.554058" y="104.902433" style="fill: #8c564b; fill-opacity: 0.65"/>
     <use href="#m76399f56eb" x="337.127197" y="96.283349" style="fill: #8c564b; fill-opacity: 0.65"/>
     <use href="#m76399f56eb" x="323.783061" y="103.980499" style="fill: #8c564b; fill-opacity: 0.65"/>
     <use href="#m76399f56eb" x="323.995019" y="105.63705" style="fill: #8c564b; fill-opacity: 0.65"/>
     <use href="#m76399f56eb" x="335.407034" y="96.067517" style="fill: #8c564b; fill-opacity: 0.65"/>
     <use href="#m76399f56eb" x="334.855177" y="91.577182" style="fill: #8c564b; fill-opacity: 0.65"/>
     <use href="#m76399f56eb" x="337.093634" y="90.974145" style="fill: #8c564b; fill-opacity: 0.65"/>
     <use href="#m76399f56eb" x="322.521118" y="99.450828" style="fill: #8c564b; fill-opacity: 0.65"/>
     <use href="#m76399f56eb" x="334.722632" y="94.75407" style="fill: #8c564b; fill-opacity: 0.65"/>
     <use href="#m76399f56eb" x="335.56268" y="93.215805" style="fill: #8c564b; fill-opacity: 0.65"/>
     <use href="#m76399f56eb" x="334.830207" y="91.96286" style="fill: #8c564b; fill-opacity: 0.65"/>
     <use href="#m76399f56eb" x="347.173977" y="85.681411" style="fill: #8c564b; fill-opacity: 0.65"/>
     <use href="#m76399f56eb" x="339.708212" y="95.87448" style="fill: #8c564b; fill-opacity: 0.65"/>
     <use href="#m76399f56eb" x="310.035887" y="113.266122" style="fill: #8c564b; fill-opacity: 0.65"/>
     <use href="#m76399f56eb" x="316.082191" y="104.240982" style="fill: #8c564b; fill-opacity: 0.65"/>
     <use href="#m76399f56eb" x="313.234997" y="116.96225" style="fill: #8c564b; fill-opacity: 0.65"/>
     <use href="#m76399f56eb" x="328.598478" y="98.199467" style="fill: #8c564b; fill-opacity: 0.65"/>
     <use href="#m76399f56eb" x="313.175326" y="107.117079" style="fill: #8c564b; fill-opacity: 0.65"/>
     <use href="#m76399f56eb" x="325.179854" y="99.388071" style="fill: #8c564b; fill-opacity: 0.65"/>
     <use href="#m76399f56eb" x="341.724514" y="87.454117" style="fill: #8c564b; fill-opacity: 0.65"/>
     <use href="#m76399f56eb" x="315.872817" y="113.845734" style="fill: #8c564b; fill-opacity: 0.65"/>
     <use href="#m76399f56eb" x="318.046964" y="102.952423" style="fill: #8c564b; fill-opacity: 0.65"/>
     <use href="#m76399f56eb" x="317.456897" y="105.175237" style="fill: #8c564b; fill-opacity: 0.65"/>
     <use href="#m76399f56eb" x="325.381423" y="104.272681" style="fill: #8c564b; fill-opacity: 0.65"/>
     <use href="#m76399f56eb" x="328.223384" y="99.236632" style="fill: #8c564b; fill-opacity: 0.65"/>
     <use href="#m76399f56eb" x="328.448421" y="99.304647" style="fill: #8c564b; fill-opacity: 0.65"/>
     <use href="#m76399f56eb" x="337.512329" y="91.476435" style="fill: #8c564b; fill-opacity: 0.65"/>
     <use href="#m76399f56eb" x="308.544548" y="117.162969" style="fill: #8c564b; fill-opacity: 0.65"/>
     <use href="#m76399f56eb" x="324.333588" y="102.955171" style="fill: #8c564b; fill-opacity: 0.65"/>
     <use href="#m76399f56eb" x="316.028194" y="108.032908" style="fill: #8c564b; fill-opacity: 0.65"/>
     <use href="#m76399f56eb" x="317.036433" y="114.142429" style="fill: #8c564b; fill-opacity: 0.65"/>
     <use href="#m76399f56eb" x="325.6447" y="104.015064" style="fill: #8c564b; fill-opacity: 0.65"/>
     <use href="#m76399f56eb" x="315.983391" y="113.388162" style="fill: #8c564b; fill-opacity: 0.65"/>
     <use href="#m76399f56eb" x="333.002116" y="101.93668" style="fill: #8c564b; fill-opacity: 0.65"/>
     <use href="#m76399f56eb" x="337.591841" y="99.325204" style="fill: #8c564b; fill-opacity: 0.65"/>
     <use href="#m76399f56eb" x="318.295934" y="109.346586" style="fill: #8c564b; fill-opacity: 0.65"/>
     <use href="#m76399f56eb" x="328.18177" y="101.049662" style="fill: #8c564b; fill-opacity: 0.65"/>
     <use href="#m76399f56eb" x="340.044827" y="94.896841" style="fill: #8c564b; fill-opacity: 0.65"/>
     <use href="#m76399f56eb" x="317.253004" y="110.336581" style="fill: #8c564b; fill-opacity: 0.65"/>
     <use href="#m76399f56eb" x="337.968318" y="95.307454" style="fill: #8c564b; fill-opacity: 0.65"/>
     <use href="#m76399f56eb" x="316.44337" y="115.29287" style="fill: #8c564b; fill-opacity: 0.65"/>
     <use href="#m76399f56eb" x="339.355692" y="96.704292" style="fill: #8c564b; fill-opacity: 0.65"/>
     <use href="#m76399f56eb" x="334.260795" y="99.985115" style="fill: #8c564b; fill-opacity: 0.65"/>
     <use href="#m76399f56eb" x="341.453484" y="90.157727" style="fill: #8c564b; fill-opacity: 0.65"/>
     <use href="#m76399f56eb" x="325.990886" y="104.669822" style="fill: #8c564b; fill-opacity: 0.65"/>
     <use href="#m76399f56eb" x="321.484925" y="107.06492" style="fill: #8c564b; fill-opacity: 0.65"/>
     <use href="#m76399f56eb" x="343.127052" y="89.370122" style="fill: #8c564b; fill-opacity: 0.65"/>
     <use href="#m76399f56eb" x="309.957418" y="119.846503" style="fill: #8c564b; fill-opacity: 0.65"/>
     <use href="#m76399f56eb" x="324.401095" y="104.778751" style="fill: #8c564b; fill-opacity: 0.65"/>
     <use href="#m76399f56eb" x="314.848977" y="106.988816" style="fill: #8c564b; fill-opacity: 0.65"/>
     <use href="#m76399f56eb" x="341.813685" y="90.986799" style="fill: #8c564b; fill-opacity: 0.65"/>
     <use href="#m76399f56eb" x="316.877233" y="112.334523" style="fill: #8c564b; fill-opacity: 0.65"/>
     <use href="#m76399f56eb" x="322.986822" y="105.351745" style="fill: #8c564b; fill-opacity: 0.65"/>
     <use href="#m76399f56eb" x="311.493247" y="108.570868" style="fill: #8c564b; fill-opacity: 0.65"/>
     <use href="#m76399f56eb" x="328.891946" y="103.487051" style="fill: #8c564b; fill-opacity: 0.65"/>
     <use href="#m76399f56eb" x="332.950318" y="99.284431" style="fill: #8c564b; fill-opacity: 0.65"/>
     <use href="#m76399f56eb" x="311.935866" y="109.577527" style="fill: #8c564b; fill-opacity: 0.65"/>
     <use href="#m76399f56eb" x="332.364563" y="96.890901" style="fill: #8c564b; fill-opacity: 0.65"/>
     <use href="#m76399f56eb" x="330.623119" y="102.43312" style="fill: #8c564b; fill-opacity: 0.65"/>
     <use href="#m76399f56eb" x="336.621573" y="97.678584" style="fill: #8c564b; fill-opacity: 0.65"/>
     <use href="#m76399f56eb" x="343.801029" y="88.223574" style="fill: #8c564b; fill-opacity: 0.65"/>
     <use href="#m76399f56eb" x="345.877499" y="87.160639" style="fill: #8c564b; fill-opacity: 0.65"/>
     <use href="#m76399f56eb" x="338.42955" y="94.129141" style="fill: #8c564b; fill-opacity: 0.65"/>
     <use href="#m76399f56eb" x="344.1329" y="89.403871" style="fill: #8c564b; fill-opacity: 0.65"/>
     <use href="#m76399f56eb" x="344.173683" y="89.462811" style="fill: #8c564b; fill-opacity: 0.65"/>
     <use href="#m76399f56eb" x="325.607983" y="97.359162" style="fill: #8c564b; fill-opacity: 0.65"/>
     <use href="#m76399f56eb" x="322.291928" y="105.006048" style="fill: #8c564b; fill-opacity: 0.65"/>
     <use href="#m76399f56eb" x="328.493703" y="99.934197" style="fill: #8c564b; fill-opacity: 0.65"/>
     <use href="#m76399f56eb" x="320.493033" y="112.641456" style="fill: #8c564b; fill-opacity: 0.65"/>
     <use href="#m76399f56eb" x="328.246052" y="100.181153" style="fill: #8c564b; fill-opacity: 0.65"/>
     <use href="#m76399f56eb" x="336.900876" y="91.897264" style="fill: #8c564b; fill-opacity: 0.65"/>
     <use href="#m76399f56eb" x="351.166969" y="76.961001" style="fill: #8c564b; fill-opacity: 0.65"/>
     <use href="#m76399f56eb" x="336.115792" y="96.320583" style="fill: #8c564b; fill-opacity: 0.65"/>
     <use href="#m76399f56eb" x="319.066381" y="109.836576" style="fill: #8c564b; fill-opacity: 0.65"/>
     <use href="#m76399f56eb" x="312.989971" y="110.235015" style="fill: #8c564b; fill-opacity: 0.65"/>
     <use href="#m76399f56eb" x="343.058016" y="86.453547" style="fill: #8c564b; fill-opacity: 0.65"/>
     <use href="#m76399f56eb" x="323.483092" y="106.982831" style="fill: #8c564b; fill-opacity: 0.65"/>
     <use href="#m76399f56eb" x="339.474879" y="87.636352" style="fill: #8c564b; fill-opacity: 0.65"/>
     <use href="#m76399f56eb" x="331.349376" y="97.161669" style="fill: #8c564b; fill-opacity: 0.65"/>
     <use href="#m76399f56eb" x="310.745751" y="112.335634" style="fill: #8c564b; fill-opacity: 0.65"/>
     <use href="#m76399f56eb" x="335.97653" y="92.349804" style="fill: #8c564b; fill-opacity: 0.65"/>
     <use href="#m76399f56eb" x="324.266956" y="103.203489" style="fill: #8c564b; fill-opacity: 0.65"/>
     <use href="#m76399f56eb" x="319.780168" y="109.148065" style="fill: #8c564b; fill-opacity: 0.65"/>
     <use href="#m76399f56eb" x="308.29535" y="114.023518" style="fill: #8c564b; fill-opacity: 0.65"/>
     <use href="#m76399f56eb" x="317.250645" y="104.521949" style="fill: #8c564b; fill-opacity: 0.65"/>
     <use href="#m76399f56eb" x="325.231962" y="100.165185" style="fill: #8c564b; fill-opacity: 0.65"/>
     <use href="#m76399f56eb" x="339.242756" y="94.132881" style="fill: #8c564b; fill-opacity: 0.65"/>
     <use href="#m76399f56eb" x="340.452281" y="93.416678" style="fill: #8c564b; fill-opacity: 0.65"/>
     <use href="#m76399f56eb" x="325.039866" y="99.866057" style="fill: #8c564b; fill-opacity: 0.65"/>
     <use href="#m76399f56eb" x="316.689149" y="109.111709" style="fill: #8c564b; fill-opacity: 0.65"/>
     <use href="#m76399f56eb" x="341.022168" y="91.850702" style="fill: #8c564b; fill-opacity: 0.65"/>
     <use href="#m76399f56eb" x="338.72957" y="94.67555" style="fill: #8c564b; fill-opacity: 0.65"/>
     <use href="#m76399f56eb" x="332.743645" y="101.432627" style="fill: #8c564b; fill-opacity: 0.65"/>
     <use href="#m76399f56eb" x="330.521834" y="98.323889" style="fill: #8c564b; fill-opacity: 0.65"/>
     <use href="#m76399f56eb" x="323.229598" y="101.198478" style="fill: #8c564b; fill-opacity: 0.65"/>
     <use href="#m76399f56eb" x="317.737758" y="108.060581" style="fill: #8c564b; fill-opacity: 0.65"/>
     <use href="#m76399f56eb" x="319.744897" y="106.164979" style="fill: #8c564b; fill-opacity: 0.65"/>
     <use href="#m76399f56eb" x="314.053424" y="110.774658" style="fill: #8c564b; fill-opacity: 0.65"/>
     <use href="#m76399f56eb" x="337.224414" y="95.03726" style="fill: #8c564b; fill-opacity: 0.65"/>
     <use href="#m76399f56eb" x="322.120188" y="103.566127" style="fill: #8c564b; fill-opacity: 0.65"/>
     <use href="#m76399f56eb" x="314.058084" y="110.067579" style="fill: #8c564b; fill-opacity: 0.65"/>
     <use href="#m76399f56eb" x="315.250711" y="112.86317" style="fill: #8c564b; fill-opacity: 0.65"/>
     <use href="#m76399f56eb" x="333.62322" y="95.006375" style="fill: #8c564b; fill-opacity: 0.65"/>
     <use href="#m76399f56eb" x="324.382115" y="109.059362" style="fill: #8c564b; fill-opacity: 0.65"/>
     <use href="#m76399f56eb" x="327.256856" y="97.082337" style="fill: #8c564b; fill-opacity: 0.65"/>
     <use href="#m76399f56eb" x="323.239499" y="106.664054" style="fill: #8c564b; fill-opacity: 0.65"/>
     <use href="#m76399f56eb" x="321.577995" y="104.71223" style="fill: #8c564b; fill-opacity: 0.65"/>
     <use href="#m76399f56eb" x="332.465536" y="99.185057" style="fill: #8c564b; fill-opacity: 0.65"/>
     <use href="#m76399f56eb" x="338.867252" y="88.503774" style="fill: #8c564b; fill-opacity: 0.65"/>
     <use href="#m76399f56eb" x="321.216446" y="99.292759" style="fill: #8c564b; fill-opacity: 0.65"/>
     <use href="#m76399f56eb" x="343.552123" y="89.307355" style="fill: #8c564b; fill-opacity: 0.65"/>
     <use href="#m76399f56eb" x="312.383744" y="114.497439" style="fill: #8c564b; fill-opacity: 0.65"/>
     <use href="#m76399f56eb" x="327.146606" y="101.762129" style="fill: #8c564b; fill-opacity: 0.65"/>
     <use href="#m76399f56eb" x="327.218154" y="101.488476" style="fill: #8c564b; fill-opacity: 0.65"/>
     <use href="#m76399f56eb" x="310.374908" y="114.032847" style="fill: #8c564b; fill-opacity: 0.65"/>
     <use href="#m76399f56eb" x="345.623726" y="83.912649" style="fill: #8c564b; fill-opacity: 0.65"/>
     <use href="#m76399f56eb" x="323.107794" y="103.960925" style="fill: #8c564b; fill-opacity: 0.65"/>
     <use href="#m76399f56eb" x="316.927456" y="109.736054" style="fill: #8c564b; fill-opacity: 0.65"/>
     <use href="#m76399f56eb" x="343.614428" y="87.44923" style="fill: #8c564b; fill-opacity: 0.65"/>
     <use href="#m76399f56eb" x="325.847918" y="104.124812" style="fill: #8c564b; fill-opacity: 0.65"/>
     <use href="#m76399f56eb" x="321.621731" y="107.847122" style="fill: #8c564b; fill-opacity: 0.65"/>
     <use href="#m76399f56eb" x="329.650643" y="98.247442" style="fill: #8c564b; fill-opacity: 0.65"/>
     <use href="#m76399f56eb" x="335.390102" y="95.670255" style="fill: #8c564b; fill-opacity: 0.65"/>
     <use href="#m76399f56eb" x="312.016221" y="108.50647" style="fill: #8c564b; fill-opacity: 0.65"/>
     <use href="#m76399f56eb" x="329.501299" y="101.747487" style="fill: #8c564b; fill-opacity: 0.65"/>
     <use href="#m76399f56eb" x="329.982523" y="96.728756" style="fill: #8c564b; fill-opacity: 0.65"/>
     <use href="#m76399f56eb" x="318.221345" y="110.046931" style="fill: #8c564b; fill-opacity: 0.65"/>
     <use href="#m76399f56eb" x="341.496753" y="92.260796" style="fill: #8c564b; fill-opacity: 0.65"/>
     <use href="#m76399f56eb" x="316.881078" y="107.433329" style="fill: #8c564b; fill-opacity: 0.65"/>
     <use href="#m76399f56eb" x="320.661133" y="110.073101" style="fill: #8c564b; fill-opacity: 0.65"/>
     <use href="#m76399f56eb" x="337.286823" y="92.842335" style="fill: #8c564b; fill-opacity: 0.65"/>
     <use href="#m76399f56eb" x="316.914706" y="110.156223" style="fill: #8c564b; fill-opacity: 0.65"/>
     <use href="#m76399f56eb" x="328.211277" y="97.948464" style="fill: #8c564b; fill-opacity: 0.65"/>
     <use href="#m76399f56eb" x="315.583735" y="109.332221" style="fill: #8c564b; fill-opacity: 0.65"/>
     <use href="#m76399f56eb" x="310.059579" y="112.194643" style="fill: #8c564b; fill-opacity: 0.65"/>
     <use href="#m76399f56eb" x="321.280096" y="108.135603" style="fill: #8c564b; fill-opacity: 0.65"/>
     <use href="#m76399f56eb" x="345.925553" y="86.124017" style="fill: #8c564b; fill-opacity: 0.65"/>
     <use href="#m76399f56eb" x="335.611937" y="100.59069" style="fill: #8c564b; fill-opacity: 0.65"/>
     <use href="#m76399f56eb" x="340.270516" y="88.341922" style="fill: #8c564b; fill-opacity: 0.65"/>
     <use href="#m76399f56eb" x="321.311978" y="103.417513" style="fill: #8c564b; fill-opacity: 0.65"/>
     <use href="#m76399f56eb" x="319.048354" y="106.788762" style="fill: #8c564b; fill-opacity: 0.65"/>
     <use href="#m76399f56eb" x="330.387214" y="98.729583" style="fill: #8c564b; fill-opacity: 0.65"/>
     <use href="#m76399f56eb" x="325.244405" y="109.640464" style="fill: #8c564b; fill-opacity: 0.65"/>
     <use href="#m76399f56eb" x="334.671949" y="96.170465" style="fill: #8c564b; fill-opacity: 0.65"/>
     <use href="#m76399f56eb" x="313.214043" y="103.316993" style="fill: #8c564b; fill-opacity: 0.65"/>
     <use href="#m76399f56eb" x="321.003001" y="106.342134" style="fill: #8c564b; fill-opacity: 0.65"/>
     <use href="#m76399f56eb" x="328.395651" y="100.901927" style="fill: #8c564b; fill-opacity: 0.65"/>
     <use href="#m76399f56eb" x="331.349001" y="99.427878" style="fill: #8c564b; fill-opacity: 0.65"/>
     <use href="#m76399f56eb" x="311.180862" y="111.443645" style="fill: #8c564b; fill-opacity: 0.65"/>
     <use href="#m76399f56eb" x="316.864416" y="105.633384" style="fill: #8c564b; fill-opacity: 0.65"/>
     <use href="#m76399f56eb" x="339.512879" y="89.909612" style="fill: #8c564b; fill-opacity: 0.65"/>
     <use href="#m76399f56eb" x="330.438787" y="100.775537" style="fill: #8c564b; fill-opacity: 0.65"/>
     <use href="#m76399f56eb" x="322.194968" y="103.708417" style="fill: #8c564b; fill-opacity: 0.65"/>
     <use href="#m76399f56eb" x="339.674789" y="87.594693" style="fill: #8c564b; fill-opacity: 0.65"/>
     <use href="#m76399f56eb" x="323.710528" y="101.367244" style="fill: #8c564b; fill-opacity: 0.65"/>
     <use href="#m76399f56eb" x="309.524331" y="117.492337" style="fill: #8c564b; fill-opacity: 0.65"/>
     <use href="#m76399f56eb" x="320.362231" y="114.080238" style="fill: #8c564b; fill-opacity: 0.65"/>
     <use href="#m76399f56eb" x="315.898119" y="109.084143" style="fill: #8c564b; fill-opacity: 0.65"/>
     <use href="#m76399f56eb" x="312.729209" y="109.216511" style="fill: #8c564b; fill-opacity: 0.65"/>
     <use href="#m76399f56eb" x="343.401762" y="84.479774" style="fill: #8c564b; fill-opacity: 0.65"/>
     <use href="#m76399f56eb" x="308.944351" y="112.263494" style="fill: #8c564b; fill-opacity: 0.65"/>
     <use href="#m76399f56eb" x="334.181656" y="98.1078" style="fill: #8c564b; fill-opacity: 0.65"/>
     <use href="#m76399f56eb" x="328.983092" y="99.485388" style="fill: #8c564b; fill-opacity: 0.65"/>
     <use href="#m76399f56eb" x="330.90897" y="103.443987" style="fill: #8c564b; fill-opacity: 0.65"/>
     <use href="#m76399f56eb" x="317.910691" y="105.842118" style="fill: #8c564b; fill-opacity: 0.65"/>
     <use href="#m76399f56eb" x="337.859224" y="92.190459" style="fill: #8c564b; fill-opacity: 0.65"/>
     <use href="#m76399f56eb" x="351.121583" y="83.774489" style="fill: #8c564b; fill-opacity: 0.65"/>
     <use href="#m76399f56eb" x="334.438132" y="92.631862" style="fill: #8c564b; fill-opacity: 0.65"/>
     <use href="#m76399f56eb" x="319.996872" y="107.84166" style="fill: #8c564b; fill-opacity: 0.65"/>
     <use href="#m76399f56eb" x="337.37755" y="92.722096" style="fill: #8c564b; fill-opacity: 0.65"/>
     <use href="#m76399f56eb" x="348.705937" y="85.777346" style="fill: #8c564b; fill-opacity: 0.65"/>
     <use href="#m76399f56eb" x="327.207681" y="100.725705" style="fill: #8c564b; fill-opacity: 0.65"/>
     <use href="#m76399f56eb" x="319.042862" y="102.422967" style="fill: #8c564b; fill-opacity: 0.65"/>
     <use href="#m76399f56eb" x="311.595961" y="111.289827" style="fill: #8c564b; fill-opacity: 0.65"/>
     <use href="#m76399f56eb" x="323.632742" y="104.48246" style="fill: #8c564b; fill-opacity: 0.65"/>
     <use href="#m76399f56eb" x="325.798438" y="99.558902" style="fill: #8c564b; fill-opacity: 0.65"/>
     <use href="#m76399f56eb" x="323.801087" y="100.722092" style="fill: #8c564b; fill-opacity: 0.65"/>
     <use href="#m76399f56eb" x="336.105296" y="91.591854" style="fill: #8c564b; fill-opacity: 0.65"/>
     <use href="#m76399f56eb" x="344.432711" y="82.842533" style="fill: #8c564b; fill-opacity: 0.65"/>
     <use href="#m76399f56eb" x="318.137146" y="111.150354" style="fill: #8c564b; fill-opacity: 0.65"/>
     <use href="#m76399f56eb" x="311.63301" y="114.777133" style="fill: #8c564b; fill-opacity: 0.65"/>
     <use href="#m76399f56eb" x="319.455786" y="106.365998" style="fill: #8c564b; fill-opacity: 0.65"/>
     <use href="#m76399f56eb" x="325.414823" y="95.899909" style="fill: #8c564b; fill-opacity: 0.65"/>
     <use href="#m76399f56eb" x="314.067402" y="111.773844" style="fill: #8c564b; fill-opacity: 0.65"/>
     <use href="#m76399f56eb" x="311.386994" y="109.029948" style="fill: #8c564b; fill-opacity: 0.65"/>
     <use href="#m76399f56eb" x="326.169882" y="97.033977" style="fill: #8c564b; fill-opacity: 0.65"/>
     <use href="#m76399f56eb" x="317.558442" y="108.45808" style="fill: #8c564b; fill-opacity: 0.65"/>
     <use href="#m76399f56eb" x="338.957925" y="91.319211" style="fill: #8c564b; fill-opacity: 0.65"/>
     <use href="#m76399f56eb" x="317.800893" y="103.75052" style="fill: #8c564b; fill-opacity: 0.65"/>
     <use href="#m76399f56eb" x="336.146645" y="92.39133" style="fill: #8c564b; fill-opacity: 0.65"/>
     <use href="#m76399f56eb" x="313.743755" y="114.629956" style="fill: #8c564b; fill-opacity: 0.65"/>
     <use href="#m76399f56eb" x="323.065305" y="102.894383" style="fill: #8c564b; fill-opacity: 0.65"/>
     <use href="#m76399f56eb" x="334.676436" y="96.447405" style="fill: #8c564b; fill-opacity: 0.65"/>
     <use href="#m76399f56eb" x="325.76765" y="103.402721" style="fill: #8c564b; fill-opacity: 0.65"/>
     <use href="#m76399f56eb" x="324.00539" y="101.539064" style="fill: #8c564b; fill-opacity: 0.65"/>
     <use href="#m76399f56eb" x="336.500284" y="95.823484" style="fill: #8c564b; fill-opacity: 0.65"/>
     <use href="#m76399f56eb" x="322.718592" y="105.927102" style="fill: #8c564b; fill-opacity: 0.65"/>
     <use href="#m76399f56eb" x="325.343993" y="105.029908" style="fill: #8c564b; fill-opacity: 0.65"/>
     <use href="#m76399f56eb" x="347.465312" y="81.50598" style="fill: #8c564b; fill-opacity: 0.65"/>
     <use href="#m76399f56eb" x="319.729139" y="106.484134" style="fill: #8c564b; fill-opacity: 0.65"/>
     <use href="#m76399f56eb" x="335.688491" y="95.769959" style="fill: #8c564b; fill-opacity: 0.65"/>
     <use href="#m76399f56eb" x="310.460449" y="115.018841" style="fill: #8c564b; fill-opacity: 0.65"/>
     <use href="#m76399f56eb" x="345.831277" y="87.644726" style="fill: #8c564b; fill-opacity: 0.65"/>
     <use href="#m76399f56eb" x="337.398391" y="87.690482" style="fill: #8c564b; fill-opacity: 0.65"/>
     <use href="#m76399f56eb" x="334.690073" y="90.413924" style="fill: #8c564b; fill-opacity: 0.65"/>
     <use href="#m76399f56eb" x="314.463355" y="111.250242" style="fill: #8c564b; fill-opacity: 0.65"/>
     <use href="#m76399f56eb" x="332.559694" y="100.198906" style="fill: #8c564b; fill-opacity: 0.65"/>
     <use href="#m76399f56eb" x="322.841837" y="104.662568" style="fill: #8c564b; fill-opacity: 0.65"/>
     <use href="#m76399f56eb" x="323.969901" y="105.824031" style="fill: #8c564b; fill-opacity: 0.65"/>
     <use href="#m76399f56eb" x="331.182657" y="98.965884" style="fill: #8c564b; fill-opacity: 0.65"/>
     <use href="#m76399f56eb" x="322.223701" y="105.448591" style="fill: #8c564b; fill-opacity: 0.65"/>
     <use href="#m76399f56eb" x="323.140896" y="108.545057" style="fill: #8c564b; fill-opacity: 0.65"/>
     <use href="#m76399f56eb" x="345.024058" y="89.198943" style="fill: #8c564b; fill-opacity: 0.65"/>
     <use href="#m76399f56eb" x="318.700393" y="106.281591" style="fill: #8c564b; fill-opacity: 0.65"/>
     <use href="#m76399f56eb" x="329.691839" y="101.807029" style="fill: #8c564b; fill-opacity: 0.65"/>
     <use href="#m76399f56eb" x="329.763358" y="98.342817" style="fill: #8c564b; fill-opacity: 0.65"/>
     <use href="#m76399f56eb" x="325.301201" y="101.393223" style="fill: #8c564b; fill-opacity: 0.65"/>
     <use href="#m76399f56eb" x="342.68031" y="90.729085" style="fill: #8c564b; fill-opacity: 0.65"/>
     <use href="#m76399f56eb" x="322.070391" y="105.269518" style="fill: #8c564b; fill-opacity: 0.65"/>
     <use href="#m76399f56eb" x="334.123826" y="101.642946" style="fill: #8c564b; fill-opacity: 0.65"/>
     <use href="#m76399f56eb" x="321.40579" y="109.818735" style="fill: #8c564b; fill-opacity: 0.65"/>
     <use href="#m76399f56eb" x="326.769263" y="100.221985" style="fill: #8c564b; fill-opacity: 0.65"/>
     <use href="#m76399f56eb" x="310.078028" y="113.293397" style="fill: #8c564b; fill-opacity: 0.65"/>
     <use href="#m76399f56eb" x="316.068877" y="108.914301" style="fill: #8c564b; fill-opacity: 0.65"/>
     <use href="#m76399f56eb" x="329.403503" y="100.18508" style="fill: #8c564b; fill-opacity: 0.65"/>
     <use href="#m76399f56eb" x="319.994534" y="104.399011" style="fill: #8c564b; fill-opacity: 0.65"/>
     <use href="#m76399f56eb" x="338.722389" y="89.807579" style="fill: #8c564b; fill-opacity: 0.65"/>
     <use href="#m76399f56eb" x="330.268944" y="98.683288" style="fill: #8c564b; fill-opacity: 0.65"/>
     <use href="#m76399f56eb" x="345.321551" y="85.897127" style="fill: #8c564b; fill-opacity: 0.65"/>
     <use href="#m76399f56eb" x="324.983363" y="101.410126" style="fill: #8c564b; fill-opacity: 0.65"/>
     <use href="#m76399f56eb" x="314.749321" y="105.20147" style="fill: #8c564b; fill-opacity: 0.65"/>
     <use href="#m76399f56eb" x="326.698482" y="98.065626" style="fill: #8c564b; fill-opacity: 0.65"/>
     <use href="#m76399f56eb" x="318.95831" y="103.550228" style="fill: #8c564b; fill-opacity: 0.65"/>
     <use href="#m76399f56eb" x="312.145742" y="104.813187" style="fill: #8c564b; fill-opacity: 0.65"/>
     <use href="#m76399f56eb" x="327.994973" y="100.511364" style="fill: #8c564b; fill-opacity: 0.65"/>
     <use href="#m76399f56eb" x="337.941458" y="94.803751" style="fill: #8c564b; fill-opacity: 0.65"/>
     <use href="#m76399f56eb" x="316.227833" y="108.367654" style="fill: #8c564b; fill-opacity: 0.65"/>
     <use href="#m76399f56eb" x="324.93718" y="95.126489" style="fill: #8c564b; fill-opacity: 0.65"/>
     <use href="#m76399f56eb" x="322.427756" y="104.39875" style="fill: #8c564b; fill-opacity: 0.65"/>
     <use href="#m76399f56eb" x="322.251079" y="103.242821" style="fill: #8c564b; fill-opacity: 0.65"/>
     <use href="#m76399f56eb" x="327.741372" y="100.865768" style="fill: #8c564b; fill-opacity: 0.65"/>
     <use href="#m76399f56eb" x="329.727773" y="99.398893" style="fill: #8c564b; fill-opacity: 0.65"/>
     <use href="#m76399f56eb" x="336.481735" y="97.509583" style="fill: #8c564b; fill-opacity: 0.65"/>
     <use href="#m76399f56eb" x="347.892203" y="84.480502" style="fill: #8c564b; fill-opacity: 0.65"/>
     <use href="#m76399f56eb" x="328.965952" y="102.26166" style="fill: #8c564b; fill-opacity: 0.65"/>
     <use href="#m76399f56eb" x="330.65001" y="97.226393" style="fill: #8c564b; fill-opacity: 0.65"/>
     <use href="#m76399f56eb" x="340.195927" y="92.132838" style="fill: #8c564b; fill-opacity: 0.65"/>
     <use href="#m76399f56eb" x="322.013958" y="106.975806" style="fill: #8c564b; fill-opacity: 0.65"/>
     <use href="#m76399f56eb" x="328.631158" y="99.3663" style="fill: #8c564b; fill-opacity: 0.65"/>
     <use href="#m76399f56eb" x="319.432614" y="108.855153" style="fill: #8c564b; fill-opacity: 0.65"/>
     <use href="#m76399f56eb" x="319.617775" y="106.519279" style="fill: #8c564b; fill-opacity: 0.65"/>
     <use href="#m76399f56eb" x="317.254801" y="107.527888" style="fill: #8c564b; fill-opacity: 0.65"/>
     <use href="#m76399f56eb" x="321.859909" y="114.12499" style="fill: #8c564b; fill-opacity: 0.65"/>
     <use href="#m76399f56eb" x="326.837271" y="101.909353" style="fill: #8c564b; fill-opacity: 0.65"/>
     <use href="#m76399f56eb" x="326.164623" y="102.873461" style="fill: #8c564b; fill-opacity: 0.65"/>
     <use href="#m76399f56eb" x="320.367546" y="104.852713" style="fill: #8c564b; fill-opacity: 0.65"/>
     <use href="#m76399f56eb" x="323.519821" y="110.148421" style="fill: #8c564b; fill-opacity: 0.65"/>
     <use href="#m76399f56eb" x="340.181586" y="91.425055" style="fill: #8c564b; fill-opacity: 0.65"/>
     <use href="#m76399f56eb" x="324.223923" y="103.608811" style="fill: #8c564b; fill-opacity: 0.65"/>
     <use href="#m76399f56eb" x="327.180899" y="102.551172" style="fill: #8c564b; fill-opacity: 0.65"/>
     <use href="#m76399f56eb" x="328.941529" y="93.231351" style="fill: #8c564b; fill-opacity: 0.65"/>
     <use href="#m76399f56eb" x="339.784982" y="91.002223" style="fill: #8c564b; fill-opacity: 0.65"/>
     <use href="#m76399f56eb" x="314.811263" y="113.32902" style="fill: #8c564b; fill-opacity: 0.65"/>
     <use href="#m76399f56eb" x="333.844806" y="95.604134" style="fill: #8c564b; fill-opacity: 0.65"/>
     <use href="#m76399f56eb" x="309.07155" y="110.624991" style="fill: #8c564b; fill-opacity: 0.65"/>
     <use href="#m76399f56eb" x="340.576042" y="90.728494" style="fill: #8c564b; fill-opacity: 0.65"/>
     <use href="#m76399f56eb" x="324.399575" y="103.997819" style="fill: #8c564b; fill-opacity: 0.65"/>
     <use href="#m76399f56eb" x="325.971098" y="102.974496" style="fill: #8c564b; fill-opacity: 0.65"/>
     <use href="#m76399f56eb" x="326.91868" y="99.475599" style="fill: #8c564b; fill-opacity: 0.65"/>
     <use href="#m76399f56eb" x="337.252039" y="94.520805" style="fill: #8c564b; fill-opacity: 0.65"/>
     <use href="#m76399f56eb" x="330.194343" y="94.684089" style="fill: #8c564b; fill-opacity: 0.65"/>
     <use href="#m76399f56eb" x="338.497853" y="91.403126" style="fill: #8c564b; fill-opacity: 0.65"/>
     <use href="#m76399f56eb" x="315.676565" y="108.667376" style="fill: #8c564b; fill-opacity: 0.65"/>
     <use href="#m76399f56eb" x="314.621972" y="117.507072" style="fill: #8c564b; fill-opacity: 0.65"/>
     <use href="#m76399f56eb" x="344.363941" y="82.142578" style="fill: #8c564b; fill-opacity: 0.65"/>
     <use href="#m76399f56eb" x="322.56006" y="106.077928" style="fill: #8c564b; fill-opacity: 0.65"/>
     <use href="#m76399f56eb" x="336.115032" y="98.297474" style="fill: #8c564b; fill-opacity: 0.65"/>
     <use href="#m76399f56eb" x="336.904917" y="91.298714" style="fill: #8c564b; fill-opacity: 0.65"/>
     <use href="#m76399f56eb" x="334.523558" y="94.19459" style="fill: #8c564b; fill-opacity: 0.65"/>
     <use href="#m76399f56eb" x="309.051568" y="114.984874" style="fill: #8c564b; fill-opacity: 0.65"/>
     <use href="#m76399f56eb" x="322.98411" y="107.160074" style="fill: #8c564b; fill-opacity: 0.65"/>
     <use href="#m76399f56eb" x="326.287368" y="102.32093" style="fill: #8c564b; fill-opacity: 0.65"/>
     <use href="#m76399f56eb" x="338.22309" y="90.493536" style="fill: #8c564b; fill-opacity: 0.65"/>
     <use href="#m76399f56eb" x="322.821332" y="105.736971" style="fill: #8c564b; fill-opacity: 0.65"/>
     <use href="#m76399f56eb" x="318.948816" y="109.16531" style="fill: #8c564b; fill-opacity: 0.65"/>
     <use href="#m76399f56eb" x="322.385895" y="107.334005" style="fill: #8c564b; fill-opacity: 0.65"/>
     <use href="#m76399f56eb" x="328.110361" y="105.233653" style="fill: #8c564b; fill-opacity: 0.65"/>
     <use href="#m76399f56eb" x="314.806622" y="107.923346" style="fill: #8c564b; fill-opacity: 0.65"/>
     <use href="#m76399f56eb" x="346.708151" y="84.932474" style="fill: #8c564b; fill-opacity: 0.65"/>
     <use href="#m76399f56eb" x="328.258045" y="97.88357" style="fill: #8c564b; fill-opacity: 0.65"/>
     <use href="#m76399f56eb" x="318.063331" y="109.216212" style="fill: #8c564b; fill-opacity: 0.65"/>
     <use href="#m76399f56eb" x="322.796721" y="106.409902" style="fill: #8c564b; fill-opacity: 0.65"/>
     <use href="#m76399f56eb" x="320.182443" y="103.278948" style="fill: #8c564b; fill-opacity: 0.65"/>
     <use href="#m76399f56eb" x="346.890059" y="85.915955" style="fill: #8c564b; fill-opacity: 0.65"/>
     <use href="#m76399f56eb" x="319.344966" y="108.906932" style="fill: #8c564b; fill-opacity: 0.65"/>
     <use href="#m76399f56eb" x="336.264969" y="88.543544" style="fill: #8c564b; fill-opacity: 0.65"/>
     <use href="#m76399f56eb" x="327.397879" y="101.95538" style="fill: #8c564b; fill-opacity: 0.65"/>
     <use href="#m76399f56eb" x="345.22843" y="90.464887" style="fill: #8c564b; fill-opacity: 0.65"/>
     <use href="#m76399f56eb" x="340.752871" y="92.983796" style="fill: #8c564b; fill-opacity: 0.65"/>
     <use href="#m76399f56eb" x="328.580664" y="101.135718" style="fill: #8c564b; fill-opacity: 0.65"/>
     <use href="#m76399f56eb" x="310.296033" y="117.160578" style="fill: #8c564b; fill-opacity: 0.65"/>
     <use href="#m76399f56eb" x="340.774345" y="88.616891" style="fill: #8c564b; fill-opacity: 0.65"/>
     <use href="#m76399f56eb" x="325.992528" y="100.475173" style="fill: #8c564b; fill-opacity: 0.65"/>
     <use href="#m76399f56eb" x="323.691463" y="96.930194" style="fill: #8c564b; fill-opacity: 0.65"/>
     <use href="#m76399f56eb" x="328.376577" y="99.179855" style="fill: #8c564b; fill-opacity: 0.65"/>
     <use href="#m76399f56eb" x="317.840279" y="101.061759" style="fill: #8c564b; fill-opacity: 0.65"/>
     <use href="#m76399f56eb" x="316.491459" y="108.105769" style="fill: #8c564b; fill-opacity: 0.65"/>
     <use href="#m76399f56eb" x="329.362362" y="98.522431" style="fill: #8c564b; fill-opacity: 0.65"/>
     <use href="#m76399f56eb" x="314.270837" y="108.115492" style="fill: #8c564b; fill-opacity: 0.65"/>
     <use href="#m76399f56eb" x="319.792722" y="110.072913" style="fill: #8c564b; fill-opacity: 0.65"/>
     <use href="#m76399f56eb" x="313.27697" y="108.653335" style="fill: #8c564b; fill-opacity: 0.65"/>
     <use href="#m76399f56eb" x="327.764957" y="101.198127" style="fill: #8c564b; fill-opacity: 0.65"/>
     <use href="#m76399f56eb" x="344.649263" y="90.712819" style="fill: #8c564b; fill-opacity: 0.65"/>
     <use href="#m76399f56eb" x="330.152067" y="100.204716" style="fill: #8c564b; fill-opacity: 0.65"/>
     <use href="#m76399f56eb" x="316.290195" y="105.615203" style="fill: #8c564b; fill-opacity: 0.65"/>
     <use href="#m76399f56eb" x="328.153524" y="99.279091" style="fill: #8c564b; fill-opacity: 0.65"/>
     <use href="#m76399f56eb" x="342.173757" y="90.750653" style="fill: #8c564b; fill-opacity: 0.65"/>
     <use href="#m76399f56eb" x="307.23906" y="113.538286" style="fill: #8c564b; fill-opacity: 0.65"/>
     <use href="#m76399f56eb" x="333.287924" y="96.413928" style="fill: #8c564b; fill-opacity: 0.65"/>
     <use href="#m76399f56eb" x="321.450864" y="104.407197" style="fill: #8c564b; fill-opacity: 0.65"/>
     <use href="#m76399f56eb" x="316.871047" y="112.499726" style="fill: #8c564b; fill-opacity: 0.65"/>
     <use href="#m76399f56eb" x="319.199094" y="105.689101" style="fill: #8c564b; fill-opacity: 0.65"/>
     <use href="#m76399f56eb" x="325.625624" y="101.634135" style="fill: #8c564b; fill-opacity: 0.65"/>
     <use href="#m76399f56eb" x="323.72507" y="104.333112" style="fill: #8c564b; fill-opacity: 0.65"/>
     <use href="#m76399f56eb" x="343.208488" y="91.395221" style="fill: #8c564b; fill-opacity: 0.65"/>
     <use href="#m76399f56eb" x="319.896468" y="108.295277" style="fill: #8c564b; fill-opacity: 0.65"/>
     <use href="#m76399f56eb" x="319.325486" y="108.076144" style="fill: #8c564b; fill-opacity: 0.65"/>
     <use href="#m76399f56eb" x="327.698169" y="101.488216" style="fill: #8c564b; fill-opacity: 0.65"/>
     <use href="#m76399f56eb" x="341.620189" y="87.431023" style="fill: #8c564b; fill-opacity: 0.65"/>
     <use href="#m76399f56eb" x="341.435486" y="92.847218" style="fill: #8c564b; fill-opacity: 0.65"/>
     <use href="#m76399f56eb" x="347.668323" y="85.795178" style="fill: #8c564b; fill-opacity: 0.65"/>
     <use href="#m76399f56eb" x="351.911005" y="84.65249" style="fill: #8c564b; fill-opacity: 0.65"/>
     <use href="#m76399f56eb" x="325.944731" y="104.649216" style="fill: #8c564b; fill-opacity: 0.65"/>
     <use href="#m76399f56eb" x="311.296137" y="111.838625" style="fill: #8c564b; fill-opacity: 0.65"/>
     <use href="#m76399f56eb" x="315.828852" y="106.634625" style="fill: #8c564b; fill-opacity: 0.65"/>
     <use href="#m76399f56eb" x="316.666778" y="116.090545" style="fill: #8c564b; fill-opacity: 0.65"/>
     <use href="#m76399f56eb" x="317.258857" y="106.25594" style="fill: #8c564b; fill-opacity: 0.65"/>
     <use href="#m76399f56eb" x="309.82872" y="106.797403" style="fill: #8c564b; fill-opacity: 0.65"/>
     <use href="#m76399f56eb" x="344.529662" y="85.493933" style="fill: #8c564b; fill-opacity: 0.65"/>
     <use href="#m76399f56eb" x="337.127646" y="93.628345" style="fill: #8c564b; fill-opacity: 0.65"/>
     <use href="#m76399f56eb" x="320.382463" y="111.218484" style="fill: #8c564b; fill-opacity: 0.65"/>
     <use href="#m76399f56eb" x="327.180503" y="94.51838" style="fill: #8c564b; fill-opacity: 0.65"/>
     <use href="#m76399f56eb" x="312.725529" y="111.47536" style="fill: #8c564b; fill-opacity: 0.65"/>
     <use href="#m76399f56eb" x="337.325234" y="92.704551" style="fill: #8c564b; fill-opacity: 0.65"/>
     <use href="#m76399f56eb" x="349.371299" y="89.021227" style="fill: #8c564b; fill-opacity: 0.65"/>
     <use href="#m76399f56eb" x="314.603316" y="114.220384" style="fill: #8c564b; fill-opacity: 0.65"/>
     <use href="#m76399f56eb" x="337.225155" y="95.783917" style="fill: #8c564b; fill-opacity: 0.65"/>
     <use href="#m76399f56eb" x="322.613018" y="103.007148" style="fill: #8c564b; fill-opacity: 0.65"/>
     <use href="#m76399f56eb" x="317.228072" y="109.69516" style="fill: #8c564b; fill-opacity: 0.65"/>
     <use href="#m76399f56eb" x="328.37274" y="104.912186" style="fill: #8c564b; fill-opacity: 0.65"/>
     <use href="#m76399f56eb" x="308.793553" y="120.170858" style="fill: #8c564b; fill-opacity: 0.65"/>
     <use href="#m76399f56eb" x="317.147" y="110.857975" style="fill: #8c564b; fill-opacity: 0.65"/>
     <use href="#m76399f56eb" x="340.7031" y="93.926846" style="fill: #8c564b; fill-opacity: 0.65"/>
     <use href="#m76399f56eb" x="321.145467" y="107.983966" style="fill: #8c564b; fill-opacity: 0.65"/>
     <use href="#m76399f56eb" x="321.965884" y="98.803484" style="fill: #8c564b; fill-opacity: 0.65"/>
     <use href="#m76399f56eb" x="334.268299" y="98.660685" style="fill: #8c564b; fill-opacity: 0.65"/>
     <use href="#m76399f56eb" x="322.347844" y="107.402018" style="fill: #8c564b; fill-opacity: 0.65"/>
     <use href="#m76399f56eb" x="324.058472" y="103.269391" style="fill: #8c564b; fill-opacity: 0.65"/>
     <use href="#m76399f56eb" x="319.12064" y="109.071051" style="fill: #8c564b; fill-opacity: 0.65"/>
     <use href="#m76399f56eb" x="330.415609" y="98.258483" style="fill: #8c564b; fill-opacity: 0.65"/>
     <use href="#m76399f56eb" x="340.495727" y="91.077919" style="fill: #8c564b; fill-opacity: 0.65"/>
     <use href="#m76399f56eb" x="318.281678" y="108.87063" style="fill: #8c564b; fill-opacity: 0.65"/>
     <use href="#m76399f56eb" x="321.422134" y="107.906969" style="fill: #8c564b; fill-opacity: 0.65"/>
     <use href="#m76399f56eb" x="313.317376" y="108.772417" style="fill: #8c564b; fill-opacity: 0.65"/>
     <use href="#m76399f56eb" x="315.061456" y="111.528657" style="fill: #8c564b; fill-opacity: 0.65"/>
     <use href="#m76399f56eb" x="336.30171" y="94.717825" style="fill: #8c564b; fill-opacity: 0.65"/>
     <use href="#m76399f56eb" x="315.609206" y="110.759728" style="fill: #8c564b; fill-opacity: 0.65"/>
     <use href="#m76399f56eb" x="319.783935" y="101.175887" style="fill: #8c564b; fill-opacity: 0.65"/>
     <use href="#m76399f56eb" x="339.482792" y="89.680132" style="fill: #8c564b; fill-opacity: 0.65"/>
     <use href="#m76399f56eb" x="318.571575" y="106.55731" style="fill: #8c564b; fill-opacity: 0.65"/>
     <use href="#m76399f56eb" x="339.993472" y="91.990462" style="fill: #8c564b; fill-opacity: 0.65"/>
     <use href="#m76399f56eb" x="345.416993" y="87.405335" style="fill: #8c564b; fill-opacity: 0.65"/>
     <use href="#m76399f56eb" x="324.26872" y="107.947353" style="fill: #8c564b; fill-opacity: 0.65"/>
     <use href="#m76399f56eb" x="325.590306" y="98.742287" style="fill: #8c564b; fill-opacity: 0.65"/>
     <use href="#m76399f56eb" x="316.068877" y="109.559746" style="fill: #8c564b; fill-opacity: 0.65"/>
     <use href="#m76399f56eb" x="346.246695" y="88.052786" style="fill: #8c564b; fill-opacity: 0.65"/>
     <use href="#m76399f56eb" x="330.54143" y="100.380809" style="fill: #8c564b; fill-opacity: 0.65"/>
     <use href="#m76399f56eb" x="334.826701" y="97.034556" style="fill: #8c564b; fill-opacity: 0.65"/>
     <use href="#m76399f56eb" x="309.275234" y="113.137672" style="fill: #8c564b; fill-opacity: 0.65"/>
     <use href="#m76399f56eb" x="347.667904" y="88.864087" style="fill: #8c564b; fill-opacity: 0.65"/>
     <use href="#m76399f56eb" x="318.971563" y="105.100567" style="fill: #8c564b; fill-opacity: 0.65"/>
     <use href="#m76399f56eb" x="318.708938" y="107.818144" style="fill: #8c564b; fill-opacity: 0.65"/>
     <use href="#m76399f56eb" x="319.539653" y="103.877642" style="fill: #8c564b; fill-opacity: 0.65"/>
     <use href="#m76399f56eb" x="341.835402" y="91.718527" style="fill: #8c564b; fill-opacity: 0.65"/>
     <use href="#m76399f56eb" x="341.677088" y="90.651791" style="fill: #8c564b; fill-opacity: 0.65"/>
     <use href="#m76399f56eb" x="317.812183" y="110.846776" style="fill: #8c564b; fill-opacity: 0.65"/>
     <use href="#m76399f56eb" x="338.628538" y="93.619739" style="fill: #8c564b; fill-opacity: 0.65"/>
     <use href="#m76399f56eb" x="337.680999" y="99.935064" style="fill: #8c564b; fill-opacity: 0.65"/>
     <use href="#m76399f56eb" x="328.59089" y="98.884347" style="fill: #8c564b; fill-opacity: 0.65"/>
     <use href="#m76399f56eb" x="323.82758" y="109.171162" style="fill: #8c564b; fill-opacity: 0.65"/>
     <use href="#m76399f56eb" x="311.299191" y="112.103019" style="fill: #8c564b; fill-opacity: 0.65"/>
     <use href="#m76399f56eb" x="326.156306" y="94.836101" style="fill: #8c564b; fill-opacity: 0.65"/>
     <use href="#m76399f56eb" x="340.5906" y="92.506475" style="fill: #8c564b; fill-opacity: 0.65"/>
     <use href="#m76399f56eb" x="346.979825" y="88.770713" style="fill: #8c564b; fill-opacity: 0.65"/>
     <use href="#m76399f56eb" x="338.292067" y="99.037946" style="fill: #8c564b; fill-opacity: 0.65"/>
     <use href="#m76399f56eb" x="334.61576" y="94.200577" style="fill: #8c564b; fill-opacity: 0.65"/>
     <use href="#m76399f56eb" x="322.170507" y="107.385351" style="fill: #8c564b; fill-opacity: 0.65"/>
     <use href="#m76399f56eb" x="316.277641" y="106.759434" style="fill: #8c564b; fill-opacity: 0.65"/>
     <use href="#m76399f56eb" x="326.290046" y="105.798119" style="fill: #8c564b; fill-opacity: 0.65"/>
     <use href="#m76399f56eb" x="311.994227" y="106.732668" style="fill: #8c564b; fill-opacity: 0.65"/>
     <use href="#m76399f56eb" x="321.860348" y="105.575347" style="fill: #8c564b; fill-opacity: 0.65"/>
     <use href="#m76399f56eb" x="327.368407" y="92.777223" style="fill: #8c564b; fill-opacity: 0.65"/>
     <use href="#m76399f56eb" x="312.870524" y="110.24581" style="fill: #8c564b; fill-opacity: 0.65"/>
     <use href="#m76399f56eb" x="336.567219" y="94.134" style="fill: #8c564b; fill-opacity: 0.65"/>
     <use href="#m76399f56eb" x="328.313692" y="99.608007" style="fill: #8c564b; fill-opacity: 0.65"/>
     <use href="#m76399f56eb" x="339.261946" y="92.654091" style="fill: #8c564b; fill-opacity: 0.65"/>
     <use href="#m76399f56eb" x="321.636529" y="108.51569" style="fill: #8c564b; fill-opacity: 0.65"/>
     <use href="#m76399f56eb" x="328.020088" y="103.022348" style="fill: #8c564b; fill-opacity: 0.65"/>
     <use href="#m76399f56eb" x="323.9147" y="105.010051" style="fill: #8c564b; fill-opacity: 0.65"/>
     <use href="#m76399f56eb" x="314.102772" y="111.552164" style="fill: #8c564b; fill-opacity: 0.65"/>
     <use href="#m76399f56eb" x="339.684813" y="93.649649" style="fill: #8c564b; fill-opacity: 0.65"/>
     <use href="#m76399f56eb" x="348.878607" y="83.68922" style="fill: #8c564b; fill-opacity: 0.65"/>
     <use href="#m76399f56eb" x="326.247682" y="100.394417" style="fill: #8c564b; fill-opacity: 0.65"/>
     <use href="#m76399f56eb" x="334.788889" y="97.041237" style="fill: #8c564b; fill-opacity: 0.65"/>
     <use href="#m76399f56eb" x="341.82611" y="93.04874" style="fill: #8c564b; fill-opacity: 0.65"/>
     <use href="#m76399f56eb" x="309.555764" y="116.837704" style="fill: #8c564b; fill-opacity: 0.65"/>
     <use href="#m76399f56eb" x="329.467482" y="103.166081" style="fill: #8c564b; fill-opacity: 0.65"/>
     <use href="#m76399f56eb" x="340.298505" y="90.337219" style="fill: #8c564b; fill-opacity: 0.65"/>
     <use href="#m76399f56eb" x="319.316071" y="105.233865" style="fill: #8c564b; fill-opacity: 0.65"/>
     <use href="#m76399f56eb" x="321.377507" y="108.957113" style="fill: #8c564b; fill-opacity: 0.65"/>
     <use href="#m76399f56eb" x="324.659437" y="101.775344" style="fill: #8c564b; fill-opacity: 0.65"/>
     <use href="#m76399f56eb" x="338.589606" y="94.992268" style="fill: #8c564b; fill-opacity: 0.65"/>
     <use href="#m76399f56eb" x="323.73572" y="106.936178" style="fill: #8c564b; fill-opacity: 0.65"/>
     <use href="#m76399f56eb" x="326.638191" y="103.982833" style="fill: #8c564b; fill-opacity: 0.65"/>
     <use href="#m76399f56eb" x="321.339271" y="110.881447" style="fill: #8c564b; fill-opacity: 0.65"/>
     <use href="#m76399f56eb" x="311.251503" y="108.69843" style="fill: #8c564b; fill-opacity: 0.65"/>
     <use href="#m76399f56eb" x="323.87667" y="97.560903" style="fill: #8c564b; fill-opacity: 0.65"/>
     <use href="#m76399f56eb" x="316.376052" y="109.431078" style="fill: #8c564b; fill-opacity: 0.65"/>
     <use href="#m76399f56eb" x="326.272379" y="103.105817" style="fill: #8c564b; fill-opacity: 0.65"/>
     <use href="#m76399f56eb" x="350.026799" y="75.493028" style="fill: #8c564b; fill-opacity: 0.65"/>
     <use href="#m76399f56eb" x="321.993481" y="111.77413" style="fill: #8c564b; fill-opacity: 0.65"/>
     <use href="#m76399f56eb" x="326.353675" y="102.110792" style="fill: #8c564b; fill-opacity: 0.65"/>
     <use href="#m76399f56eb" x="326.195549" y="99.424445" style="fill: #8c564b; fill-opacity: 0.65"/>
     <use href="#m76399f56eb" x="338.568545" y="93.647621" style="fill: #8c564b; fill-opacity: 0.65"/>
     <use href="#m76399f56eb" x="333.615577" y="95.597111" style="fill: #8c564b; fill-opacity: 0.65"/>
     <use href="#m76399f56eb" x="344.995584" y="83.222534" style="fill: #8c564b; fill-opacity: 0.65"/>
     <use href="#m76399f56eb" x="345.603099" y="88.510977" style="fill: #8c564b; fill-opacity: 0.65"/>
     <use href="#m76399f56eb" x="335.182089" y="94.9696" style="fill: #8c564b; fill-opacity: 0.65"/>
     <use href="#m76399f56eb" x="343.915634" y="89.760569" style="fill: #8c564b; fill-opacity: 0.65"/>
     <use href="#m76399f56eb" x="342.640171" y="87.052427" style="fill: #8c564b; fill-opacity: 0.65"/>
     <use href="#m76399f56eb" x="326.023591" y="102.82626" style="fill: #8c564b; fill-opacity: 0.65"/>
     <use href="#m76399f56eb" x="318.238001" y="99.796235" style="fill: #8c564b; fill-opacity: 0.65"/>
     <use href="#m76399f56eb" x="316.140933" y="107.850425" style="fill: #8c564b; fill-opacity: 0.65"/>
     <use href="#m76399f56eb" x="318.576666" y="109.440454" style="fill: #8c564b; fill-opacity: 0.65"/>
     <use href="#m76399f56eb" x="340.151236" y="93.334011" style="fill: #8c564b; fill-opacity: 0.65"/>
     <use href="#m76399f56eb" x="336.009413" y="96.732934" style="fill: #8c564b; fill-opacity: 0.65"/>
     <use href="#m76399f56eb" x="340.6953" y="89.766577" style="fill: #8c564b; fill-opacity: 0.65"/>
     <use href="#m76399f56eb" x="317.601321" y="107.966453" style="fill: #8c564b; fill-opacity: 0.65"/>
     <use href="#m76399f56eb" x="330.253766" y="98.036859" style="fill: #8c564b; fill-opacity: 0.65"/>
     <use href="#m76399f56eb" x="341.271181" y="90.801357" style="fill: #8c564b; fill-opacity: 0.65"/>
     <use href="#m76399f56eb" x="314.001962" y="109.938021" style="fill: #8c564b; fill-opacity: 0.65"/>
     <use href="#m76399f56eb" x="323.240694" y="101.508936" style="fill: #8c564b; fill-opacity: 0.65"/>
     <use href="#m76399f56eb" x="321.579871" y="109.122673" style="fill: #8c564b; fill-opacity: 0.65"/>
     <use href="#m76399f56eb" x="340.897501" y="91.262564" style="fill: #8c564b; fill-opacity: 0.65"/>
     <use href="#m76399f56eb" x="339.857448" y="94.339512" style="fill: #8c564b; fill-opacity: 0.65"/>
     <use href="#m76399f56eb" x="324.22857" y="107.292503" style="fill: #8c564b; fill-opacity: 0.65"/>
     <use href="#m76399f56eb" x="319.51724" y="104.495381" style="fill: #8c564b; fill-opacity: 0.65"/>
     <use href="#m76399f56eb" x="321.867579" y="107.993368" style="fill: #8c564b; fill-opacity: 0.65"/>
     <use href="#m76399f56eb" x="332.046943" y="96.110469" style="fill: #8c564b; fill-opacity: 0.65"/>
     <use href="#m76399f56eb" x="314.200513" y="112.218131" style="fill: #8c564b; fill-opacity: 0.65"/>
     <use href="#m76399f56eb" x="335.332442" y="95.013578" style="fill: #8c564b; fill-opacity: 0.65"/>
     <use href="#m76399f56eb" x="315.30474" y="119.044702" style="fill: #8c564b; fill-opacity: 0.65"/>
     <use href="#m76399f56eb" x="319.353305" y="107.797512" style="fill: #8c564b; fill-opacity: 0.65"/>
     <use href="#m76399f56eb" x="323.670016" y="104.51519" style="fill: #8c564b; fill-opacity: 0.65"/>
     <use href="#m76399f56eb" x="324.277233" y="106.418582" style="fill: #8c564b; fill-opacity: 0.65"/>
    </g>
   </g>
   <g id="line2d_160">
    <defs>
     <path id="m1ad3ae563a" d="M 0 -7.5 
L -1.683855 -2.317627 
L -7.132924 -2.317627 
L -2.724534 0.885255 
L -4.408389 6.067627 
L -0 2.864745 
L 4.408389 6.067627 
L 2.724534 0.885255 
L 7.132924 -2.317627 
L 1.683855 -2.317627 
z
" style="stroke: #d62728; stroke-linejoin: bevel"/>
    </defs>
    <g clip-path="url(#pfbd8692891)">
     <use href="#m1ad3ae563a" x="97.344" y="261.576" style="fill: #d62728; stroke: #d62728; stroke-linejoin: bevel"/>
    </g>
   </g>
   <g id="line2d_161">
    <defs>
     <path id="m2e68c701cc" d="M 0 -5 
L -5 5 
L 5 5 
z
" style="stroke: #9467bd; stroke-linejoin: miter"/>
    </defs>
    <g clip-path="url(#pfbd8692891)">
     <use href="#m2e68c701cc" x="246.288" y="213.816" style="fill: #9467bd; stroke: #9467bd; stroke-linejoin: miter"/>
    </g>
   </g>
   <g id="line2d_162">
    <defs>
     <path id="m192dfd0ae6" d="M -0 5 
L 5 -5 
L -5 -5 
z
" style="stroke: #e377c2; stroke-linejoin: miter"/>
    </defs>
    <g clip-path="url(#pfbd8692891)">
     <use href="#m192dfd0ae6" x="186.936" y="232.152" style="fill: #e377c2; stroke: #e377c2; stroke-linejoin: miter"/>
    </g>
   </g>
   <g id="line2d_163">
    <defs>
     <path id="m065e7fa513" d="M 0 -5 
L -4.755283 -1.545085 
L -2.938926 4.045085 
L 2.938926 4.045085 
L 4.755283 -1.545085 
z
" style="stroke: #17becf; stroke-linejoin: miter"/>
    </defs>
    <g clip-path="url(#pfbd8692891)">
     <use href="#m065e7fa513" x="337.248" y="121.704" style="fill: #17becf; stroke: #17becf; stroke-linejoin: miter"/>
    </g>
   </g>
   <g id="line2d_164">
    <defs>
     <path id="me3be1b30e9" d="M -5 5 
L 5 5 
L 5 -5 
L -5 -5 
z
" style="stroke: #2ca02c; stroke-linejoin: miter"/>
    </defs>
    <g clip-path="url(#pfbd8692891)">
     <use href="#me3be1b30e9" x="303.024" y="146.64" style="fill: #2ca02c; stroke: #2ca02c; stroke-linejoin: miter"/>
    </g>
   </g>
   <g id="patch_3">
    <path d="M 46.524 305.28 
L 46.524 0.4008 
" style="fill: none; stroke: #000000; stroke-width: 0.8; stroke-linejoin: miter; stroke-linecap: square"/>
   </g>
   <g id="patch_4">
    <path d="M 437.124 305.28 
L 437.124 0.4008 
" style="fill: none; stroke: #000000; stroke-width: 0.8; stroke-linejoin: miter; stroke-linecap: square"/>
   </g>
   <g id="patch_5">
    <path d="M 46.524 305.28 
L 437.124 305.28 
" style="fill: none; stroke: #000000; stroke-width: 0.8; stroke-linejoin: miter; stroke-linecap: square"/>
   </g>
   <g id="patch_6">
    <path d="M 46.524 0.4008 
L 437.124 0.4008 
" style="fill: none; stroke: #000000; stroke-width: 0.8; stroke-linejoin: miter; stroke-linecap: square"/>
   </g>
   <g id="legend_1">
    <g id="patch_7">
     <path d="M 53.5240 140.9839 
L 242.8600 140.9839 
Q 244.8600 140.9839 244.8600 138.9839 
L 244.8600 7.4008 
Q 244.8600 5.4008 242.8600 5.4008 
L 53.5240 5.4008 
Q 51.5240 5.4008 51.5240 7.4008 
L 51.5240 138.9839 
Q 51.5240 140.9839 53.5240 140.9839 
z
" style="fill: #ffffff; opacity: 0.8; stroke: #cccccc; stroke-linejoin: miter"/>
    </g>
<g transform="translate(0 0.2640)">
    <g id="line2d_165">
     <path d="M 55.524 13.499237 
L 65.524 13.499237 
L 75.524 13.499237 
" style="fill: none; stroke-dasharray: 5.55,2.4; stroke-dashoffset: 0; stroke: #000000; stroke-width: 1.5"/>
    </g>
    <g id="text_10">
     <g transform="translate(83.5240 16.9992)">
      <text>
       <tspan x="0" y="-0.40625" style="font-size: 10px; font-family: 'DejaVu Sans', sans-serif">M</tspan>
       <tspan x="22.35791" y="-0.40625" style="font-size: 10px; font-family: 'DejaVu Sans', sans-serif">-</tspan>
       <tspan x="25.966309" y="-0.40625" style="font-size: 10px; font-family: 'DejaVu Sans', sans-serif">Y</tspan>
       <tspan x="46.486572" y="-0.40625" style="font-size: 10px; font-family: 'DejaVu Sans', sans-serif"> </tspan>
       <tspan x="49.665283" y="-0.40625" style="font-size: 10px; font-family: 'DejaVu Sans', sans-serif">r</tspan>
       <tspan x="53.776611" y="-0.40625" style="font-size: 10px; font-family: 'DejaVu Sans', sans-serif">e</tspan>
       <tspan x="59.928955" y="-0.40625" style="font-size: 10px; font-family: 'DejaVu Sans', sans-serif">l</tspan>
       <tspan x="62.707275" y="-0.40625" style="font-size: 10px; font-family: 'DejaVu Sans', sans-serif">a</tspan>
       <tspan x="68.835205" y="-0.40625" style="font-size: 10px; font-family: 'DejaVu Sans', sans-serif">t</tspan>
       <tspan x="72.756104" y="-0.40625" style="font-size: 10px; font-family: 'DejaVu Sans', sans-serif">i</tspan>
       <tspan x="75.534424" y="-0.40625" style="font-size: 10px; font-family: 'DejaVu Sans', sans-serif">o</tspan>
       <tspan x="81.652588" y="-0.40625" style="font-size: 10px; font-family: 'DejaVu Sans', sans-serif">n</tspan>
       <tspan x="87.990479" y="-0.40625" style="font-size: 10px; font-family: 'DejaVu Sans', sans-serif"> </tspan>
       <tspan x="91.169189" y="-0.40625" style="font-size: 10px; font-family: 'DejaVu Sans', sans-serif">(</tspan>
       <tspan x="95.070557" y="-0.40625" style="font-size: 10px; font-family: 'DejaVu Sans', sans-serif">P</tspan>
       <tspan x="101.10083" y="-0.40625" style="font-size: 10px; font-family: 'DejaVu Sans', sans-serif">l</tspan>
       <tspan x="103.87915" y="-0.40625" style="font-size: 10px; font-family: 'DejaVu Sans', sans-serif">a</tspan>
       <tspan x="110.00708" y="-0.40625" style="font-size: 10px; font-family: 'DejaVu Sans', sans-serif">n</tspan>
       <tspan x="116.344971" y="-0.40625" style="font-size: 10px; font-family: 'DejaVu Sans', sans-serif">c</tspan>
       <tspan x="121.843018" y="-0.40625" style="font-size: 10px; font-family: 'DejaVu Sans', sans-serif">k</tspan>
       <tspan x="127.634033" y="-0.40625" style="font-size: 10px; font-family: 'DejaVu Sans', sans-serif">2</tspan>
       <tspan x="133.996338" y="-0.40625" style="font-size: 10px; font-family: 'DejaVu Sans', sans-serif">0</tspan>
       <tspan x="140.358643" y="-0.40625" style="font-size: 10px; font-family: 'DejaVu Sans', sans-serif">1</tspan>
       <tspan x="146.720947" y="-0.40625" style="font-size: 10px; font-family: 'DejaVu Sans', sans-serif">3</tspan>
       <tspan x="153.083252" y="-0.40625" style="font-size: 10px; font-family: 'DejaVu Sans', sans-serif">)</tspan>
       <tspan x="8.723633" y="1.234375" style="font-size: 7px; font-family: 'DejaVu Sans', sans-serif">5</tspan>
       <tspan x="13.177246" y="1.234375" style="font-size: 7px; font-family: 'DejaVu Sans', sans-serif">0</tspan>
       <tspan x="17.630859" y="1.234375" style="font-size: 7px; font-family: 'DejaVu Sans', sans-serif">0</tspan>
       <tspan x="32.852295" y="1.234375" style="font-size: 7px; font-family: 'DejaVu Sans', sans-serif">5</tspan>
       <tspan x="37.305908" y="1.234375" style="font-size: 7px; font-family: 'DejaVu Sans', sans-serif">0</tspan>
       <tspan x="41.759521" y="1.234375" style="font-size: 7px; font-family: 'DejaVu Sans', sans-serif">0</tspan>
      </text>
     </g>
    </g>
    <g id="LineCollection_17">
     <path d="M 60.524 28.177363 
L 70.524 28.177363 
" style="fill: none; stroke: #1f77b4; stroke-opacity: 0.52; stroke-width: 0.5"/>
    </g>
    <g id="LineCollection_18">
     <path d="M 65.524 33.177363 
L 65.524 23.177363 
" style="fill: none; stroke: #1f77b4; stroke-opacity: 0.52; stroke-width: 0.5"/>
    </g>
    <g id="line2d_166"/>
    <g id="line2d_167">
     <g>
      <use href="#m5e1ac0344c" x="65.524" y="28.177363" style="fill: #1f77b4; fill-opacity: 0.62; stroke: #1f77b4; stroke-opacity: 0.62"/>
     </g>
    </g>
    <g id="text_11">
     <text style="font-size: 10px; font-family: 'DejaVu Sans', sans-serif; text-anchor: start" x="83.524" y="31.677363" transform="rotate(-0 83.524 31.677363)">LoCuSS (Marrone+2012)</text>
    </g>
    <g id="LineCollection_19">
     <path d="M 60.524 42.855487 
L 70.524 42.855487 
" style="fill: none; stroke: #ff7f0e; stroke-opacity: 0.52; stroke-width: 0.5"/>
    </g>
    <g id="LineCollection_20">
     <path d="M 65.524 47.855487 
L 65.524 37.855487 
" style="fill: none; stroke: #ff7f0e; stroke-opacity: 0.52; stroke-width: 0.5"/>
    </g>
    <g id="line2d_168"/>
    <g id="line2d_169">
     <g>
      <use href="#mf247d37c93" x="65.524" y="42.855487" style="fill: #ff7f0e; fill-opacity: 0.62; stroke: #ff7f0e; stroke-opacity: 0.62"/>
     </g>
    </g>
    <g id="text_12">
     <text style="font-size: 10px; font-family: 'DejaVu Sans', sans-serif; text-anchor: start" x="83.524" y="46.355487" transform="rotate(-0 83.524 46.355487)">APEX-SZ (Nagarajan+2019)</text>
    </g>
    <g id="LineCollection_21">
     <path d="M 60.524 57.533613 
L 70.524 57.533613 
" style="fill: none; stroke: #8c564b; stroke-opacity: 0.25; stroke-width: 0.25"/>
    </g>
    <g id="LineCollection_22">
     <path d="M 65.524 62.533613 
L 65.524 52.533613 
" style="fill: none; stroke: #8c564b; stroke-opacity: 0.25; stroke-width: 0.25"/>
    </g>
    <g id="line2d_170"/>
    <g id="line2d_171">
     <g>
      <use href="#m76399f56eb" x="65.524" y="57.533613" style="fill: #8c564b; fill-opacity: 0.65"/>
     </g>
    </g>
    <g id="text_13">
     <text style="font-size: 10px; font-family: 'DejaVu Sans', sans-serif; text-anchor: start" x="83.524" y="61.033613" transform="rotate(-0 83.524 61.033613)">SPT-SZ (Bocquet+2019)</text>
    </g>
    <g id="LineCollection_23">
     <path d="M 60.524 72.211737 
L 70.524 72.211737 
" style="fill: none; stroke: #d62728; stroke-width: 1.5"/>
    </g>
    <g id="LineCollection_24">
     <path d="M 65.524 77.211737 
L 65.524 67.211737 
" style="fill: none; stroke: #d62728; stroke-width: 1.5"/>
    </g>
    <g id="line2d_172">
     <g>
      <use href="#mcb35cd1ac6" x="60.524" y="72.211737" style="fill: #d62728; stroke: #d62728"/>
     </g>
    </g>
    <g id="line2d_173">
     <g>
      <use href="#mcb35cd1ac6" x="70.524" y="72.211737" style="fill: #d62728; stroke: #d62728"/>
     </g>
    </g>
    <g id="line2d_174">
     <g>
      <use href="#m3e4ed0d259" x="65.524" y="77.211737" style="fill: #d62728; stroke: #d62728"/>
     </g>
    </g>
    <g id="line2d_175">
     <g>
      <use href="#m3e4ed0d259" x="65.524" y="67.211737" style="fill: #d62728; stroke: #d62728"/>
     </g>
    </g>
    <g id="line2d_176"/>
    <g id="line2d_177">
     <g>
      <use href="#m1ad3ae563a" x="65.524" y="72.211737" style="fill: #d62728; stroke: #d62728; stroke-linejoin: bevel"/>
     </g>
    </g>
    <g id="text_14">
     <text style="font-size: 10px; font-family: 'DejaVu Sans', sans-serif; text-anchor: start" x="83.524" y="75.711737" transform="rotate(-0 83.524 75.711737)">SPT2349 (z=4.30)</text>
    </g>
    <g id="LineCollection_25">
     <path d="M 65.524 91.889862 
L 65.524 81.889862 
" style="fill: none; stroke: #9467bd; stroke-width: 1.5"/>
    </g>
    <g id="line2d_178">
     <g>
      <use href="#ma45895868a" x="65.524" y="91.889862" style="fill: #9467bd; stroke: #9467bd"/>
     </g>
    </g>
    <g id="line2d_179">
     <g>
      <use href="#ma45895868a" x="65.524" y="81.889862" style="fill: #9467bd; stroke: #9467bd"/>
     </g>
    </g>
    <g id="line2d_180"/>
    <g id="line2d_181">
     <g>
      <use href="#m2e68c701cc" x="65.524" y="86.889862" style="fill: #9467bd; stroke: #9467bd; stroke-linejoin: miter"/>
     </g>
    </g>
    <g id="text_15">
     <text style="font-size: 10px; font-family: 'DejaVu Sans', sans-serif; text-anchor: start" x="83.524" y="90.389862" transform="rotate(-0 83.524 90.389862)">SpiderWeb (z=2.16)</text>
    </g>
    <g id="LineCollection_26">
     <path d="M 65.524 106.567987 
L 65.524 96.567987 
" style="fill: none; stroke: #e377c2; stroke-width: 1.5"/>
    </g>
    <g id="line2d_182">
     <g>
      <use href="#mfebb3e0737" x="65.524" y="106.567987" style="fill: #e377c2; stroke: #e377c2"/>
     </g>
    </g>
    <g id="line2d_183">
     <g>
      <use href="#mfebb3e0737" x="65.524" y="96.567987" style="fill: #e377c2; stroke: #e377c2"/>
     </g>
    </g>
    <g id="line2d_184"/>
    <g id="line2d_185">
     <g>
      <use href="#m192dfd0ae6" x="65.524" y="101.567987" style="fill: #e377c2; stroke: #e377c2; stroke-linejoin: miter"/>
     </g>
    </g>
    <g id="text_16">
     <text style="font-size: 10px; font-family: 'DejaVu Sans', sans-serif; text-anchor: start" x="83.524" y="105.067987" transform="rotate(-0 83.524 105.067987)">Cl1449 (z=1.99)</text>
    </g>
    <g id="LineCollection_27">
     <path d="M 60.524 116.246112 
L 70.524 116.246112 
" style="fill: none; stroke: #17becf; stroke-width: 1.5"/>
    </g>
    <g id="LineCollection_28">
     <path d="M 65.524 121.246112 
L 65.524 111.246112 
" style="fill: none; stroke: #17becf; stroke-width: 1.5"/>
    </g>
    <g id="line2d_186">
     <g>
      <use href="#m68fc688fd9" x="60.524" y="116.246112" style="fill: #17becf; stroke: #17becf"/>
     </g>
    </g>
    <g id="line2d_187">
     <g>
      <use href="#m68fc688fd9" x="70.524" y="116.246112" style="fill: #17becf; stroke: #17becf"/>
     </g>
    </g>
    <g id="line2d_188">
     <g>
      <use href="#m8f69a08fee" x="65.524" y="121.246112" style="fill: #17becf; stroke: #17becf"/>
     </g>
    </g>
    <g id="line2d_189">
     <g>
      <use href="#m8f69a08fee" x="65.524" y="111.246112" style="fill: #17becf; stroke: #17becf"/>
     </g>
    </g>
    <g id="line2d_190"/>
    <g id="line2d_191">
     <g>
      <use href="#m065e7fa513" x="65.524" y="116.246112" style="fill: #17becf; stroke: #17becf; stroke-linejoin: miter"/>
     </g>
    </g>
    <g id="text_17">
     <text style="font-size: 10px; font-family: 'DejaVu Sans', sans-serif; text-anchor: start" x="83.524" y="119.746112" transform="rotate(-0 83.524 119.746112)">XLSSC122 (z=1.98)</text>
    </g>
    <g id="LineCollection_29">
     <path d="M 60.524 130.924237 
L 70.524 130.924237 
" style="fill: none; stroke: #2ca02c; stroke-width: 1.5"/>
    </g>
    <g id="LineCollection_30">
     <path d="M 65.524 135.924237 
L 65.524 125.924237 
" style="fill: none; stroke: #2ca02c; stroke-width: 1.5"/>
    </g>
    <g id="line2d_192">
     <g>
      <use href="#m85461b32fc" x="60.524" y="130.924237" style="fill: #2ca02c; stroke: #2ca02c"/>
     </g>
    </g>
    <g id="line2d_193">
     <g>
      <use href="#m85461b32fc" x="70.524" y="130.924237" style="fill: #2ca02c; stroke: #2ca02c"/>
     </g>
    </g>
    <g id="line2d_194">
     <g>
      <use href="#maf82f35c3a" x="65.524" y="135.924237" style="fill: #2ca02c; stroke: #2ca02c"/>
     </g>
    </g>
    <g id="line2d_195">
     <g>
      <use href="#maf82f35c3a" x="65.524" y="125.924237" style="fill: #2ca02c; stroke: #2ca02c"/>
     </g>
    </g>
    <g id="line2d_196"/>
    <g id="line2d_197">
     <g>
      <use href="#me3be1b30e9" x="65.524" y="130.924237" style="fill: #2ca02c; stroke: #2ca02c; stroke-linejoin: miter"/>
     </g>
    </g>
    <g id="text_18">
     <text style="font-size: 10px; font-family: 'DejaVu Sans', sans-serif; text-anchor: start" x="83.524" y="134.424237" transform="rotate(-0 83.524 134.424237)">JKCS 041 (z=1.80)</text>
    </g>
</g>
</g>
</g>
</g>
 <defs>
  <clipPath id="pfbd8692891">
   <rect x="46.524" y="0.4008" width="390.6" height="304.8792"/>
  </clipPath>
 </defs>
</svg>
</body></html>
